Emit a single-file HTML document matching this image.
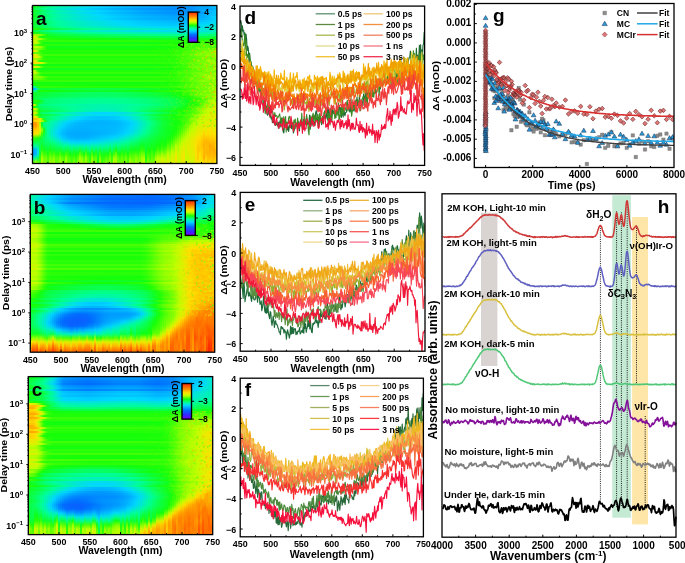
<!DOCTYPE html>
<html><head><meta charset="utf-8"><style>
html,body{margin:0;padding:0;background:#fff;}
#root{filter:blur(0.3px);position:relative;width:685px;height:563px;overflow:hidden;background:#fff;font-family:'Liberation Sans',sans-serif;}
</style></head><body><div id="root">
<div style="position:absolute;left:32.50px;top:5.50px;width:184px;height:158px;overflow:hidden">
<div style="position:absolute;left:0;top:0px;width:184px;height:2px;background:linear-gradient(90deg,#11ff1e 0px,#0fff2a 2px,#0dff39 4px,#0aff49 6px,#08ff59 8px,#06ff66 10px,#05ff71 12px,#03ff7c 14px,#02ff86 16px,#00ff90 18px,#00fd99 20px,#00f6ab 25px,#00f1b8 30px,#00edc3 35px,#00e9cf 40px,#00e4db 45px,#00e0e6 50px,#00dcef 55px,#00d9f8 60px,#00d5ff 65px,#00cfff 70px,#00c9ff 75px,#00c3ff 80px,#00beff 85px,#00baff 90px,#00b5ff 95px,#00b0ff 100px,#00acff 105px,#00a7ff 110px,#00a4ff 115px,#00a1ff 120px,#009eff 125px,#009aff 130px,#0097ff 135px,#0094ff 140px,#0091ff 145px,#008fff 150px,#0095ff 155px,#0097ff 160px,#00a1ff 165px,#00a9ff 170px,#00a8ff 175px,#00baff 180px,#00c1ff 183px)"></div>
<div style="position:absolute;left:0;top:2px;width:184px;height:2px;background:linear-gradient(90deg,#0cff3f 0px,#0aff4b 2px,#08ff5b 4px,#06ff6a 6px,#03ff7a 8px,#01ff88 10px,#00ff92 12px,#00fc9b 14px,#00f9a3 16px,#00f6ab 18px,#00f4b2 20px,#00edc4 25px,#00e8d1 30px,#00e4dc 35px,#00dfe8 40px,#00dbf4 45px,#00d6ff 50px,#00d0ff 55px,#00caff 60px,#00c4ff 65px,#00beff 70px,#00b8ff 75px,#00b2ff 80px,#00adff 85px,#00a9ff 90px,#00a4ff 95px,#009fff 100px,#009aff 105px,#0096ff 110px,#0094ff 115px,#0092ff 120px,#0090ff 125px,#008eff 130px,#008cff 135px,#008aff 140px,#0088ff 145px,#0088ff 150px,#008bff 155px,#0094ff 160px,#0099ff 165px,#00a9ff 170px,#009dff 175px,#00afff 180px,#00b5ff 183px)"></div>
<div style="position:absolute;left:0;top:4px;width:184px;height:2px;background:linear-gradient(90deg,#11ff1b 0px,#0fff27 2px,#0dff37 4px,#0bff46 6px,#09ff56 8px,#07ff64 10px,#05ff6e 12px,#04ff79 14px,#02ff83 16px,#01ff8d 18px,#00fe97 20px,#00f7a9 25px,#00f2b6 30px,#00eec1 35px,#00e9cd 40px,#00e5d9 45px,#00e1e4 50px,#00dded 55px,#00daf5 60px,#00d7fe 65px,#00d1ff 70px,#00cbff 75px,#00c5ff 80px,#00c0ff 85px,#00bbff 90px,#00b7ff 95px,#00b2ff 100px,#00adff 105px,#00a8ff 110px,#00a5ff 115px,#00a2ff 120px,#009fff 125px,#009bff 130px,#0098ff 135px,#0095ff 140px,#0092ff 145px,#008fff 150px,#0095ff 155px,#0096ff 160px,#009dff 165px,#00aaff 170px,#00b5ff 175px,#00bcff 180px,#00c5ff 183px)"></div>
<div style="position:absolute;left:0;top:6px;width:184px;height:2px;background:linear-gradient(90deg,#0eff2f 0px,#0dff3a 2px,#0aff49 4px,#08ff59 6px,#06ff68 8px,#04ff75 10px,#03ff80 12px,#01ff8a 14px,#00ff94 16px,#00fc9c 18px,#00f9a4 20px,#00f2b6 25px,#00eec2 30px,#00e9cd 35px,#00e5d9 40px,#00e1e4 45px,#00dcef 50px,#00d9f8 55px,#00d5ff 60px,#00cfff 65px,#00c9ff 70px,#00c3ff 75px,#00beff 80px,#00b9ff 85px,#00b4ff 90px,#00b0ff 95px,#00abff 100px,#00a6ff 105px,#00a2ff 110px,#009fff 115px,#009dff 120px,#009bff 125px,#0098ff 130px,#0095ff 135px,#0093ff 140px,#0090ff 145px,#008fff 150px,#0095ff 155px,#009bff 160px,#009fff 165px,#009eff 170px,#00aeff 175px,#00bfff 180px,#00caff 183px)"></div>
<div style="position:absolute;left:0;top:8px;width:184px;height:2px;background:linear-gradient(90deg,#10ff23 0px,#0eff2e 2px,#0cff3d 4px,#0aff4b 6px,#08ff5a 8px,#06ff67 10px,#05ff71 12px,#03ff7b 14px,#02ff85 16px,#00ff8f 18px,#00fe98 20px,#00f7a9 25px,#00f3b4 30px,#00efbf 35px,#00eaca 40px,#00e6d5 45px,#00e2e0 50px,#00dfe8 55px,#00dcf1 60px,#00d9f9 65px,#00d5ff 70px,#00cfff 75px,#00c9ff 80px,#00c5ff 85px,#00c0ff 90px,#00bcff 95px,#00b8ff 100px,#00b3ff 105px,#00afff 110px,#00acff 115px,#00a9ff 120px,#00a7ff 125px,#00a4ff 130px,#00a1ff 135px,#009eff 140px,#009bff 145px,#009aff 150px,#00a0ff 155px,#00a6ff 160px,#00a8ff 165px,#00aeff 170px,#00b7ff 175px,#00c3ff 180px,#00c4ff 183px)"></div>
<div style="position:absolute;left:0;top:10px;width:184px;height:2px;background:linear-gradient(90deg,#10ff22 0px,#0eff2d 2px,#0cff3b 4px,#0aff49 6px,#08ff57 8px,#07ff64 10px,#05ff6e 12px,#04ff77 14px,#03ff80 16px,#01ff8a 18px,#00ff93 20px,#00f9a4 25px,#00f5af 30px,#00f1ba 35px,#00edc4 40px,#00e9cf 45px,#00e5d9 50px,#00e2e1 55px,#00dfe9 60px,#00dcf1 65px,#00d9f9 70px,#00d5ff 75px,#00d0ff 80px,#00cbff 85px,#00c7ff 90px,#00c3ff 95px,#00beff 100px,#00baff 105px,#00b6ff 110px,#00b3ff 115px,#00b1ff 120px,#00aeff 125px,#00acff 130px,#00a9ff 135px,#00a6ff 140px,#00a4ff 145px,#00a4ff 150px,#00a7ff 155px,#00afff 160px,#00b5ff 165px,#00acff 170px,#00bbff 175px,#00d3ff 180px,#00d0ff 183px)"></div>
<div style="position:absolute;left:0;top:12px;width:184px;height:2px;background:linear-gradient(90deg,#0dff37 0px,#0cff41 2px,#0aff4f 4px,#08ff5c 6px,#06ff6a 8px,#04ff76 10px,#03ff7f 12px,#01ff88 14px,#00ff91 16px,#00fd99 18px,#00fba0 20px,#00f5b0 25px,#00f1ba 30px,#00edc4 35px,#00e9cf 40px,#00e5d9 45px,#00e1e2 50px,#00deea 55px,#00dbf2 60px,#00d8f9 65px,#00d5ff 70px,#00d0ff 75px,#00cbff 80px,#00c6ff 85px,#00c2ff 90px,#00beff 95px,#00baff 100px,#00b6ff 105px,#00b3ff 110px,#00b0ff 115px,#00afff 120px,#00adff 125px,#00abff 130px,#00aaff 135px,#00a8ff 140px,#00a6ff 145px,#00a7ff 150px,#00a9ff 155px,#00afff 160px,#00b2ff 165px,#00b4ff 170px,#00c1ff 175px,#00c8ff 180px,#00d9f9 183px)"></div>
<div style="position:absolute;left:0;top:14px;width:184px;height:2px;background:linear-gradient(90deg,#10ff25 0px,#0eff2f 2px,#0cff3c 4px,#0bff48 6px,#09ff55 8px,#07ff61 10px,#06ff69 12px,#05ff72 14px,#03ff7b 16px,#02ff83 18px,#01ff8c 20px,#00fc9d 25px,#00f8a7 30px,#00f4b1 35px,#00f0ba 40px,#00edc4 45px,#00e9cd 50px,#00e6d5 55px,#00e4dc 60px,#00e1e3 65px,#00deea 70px,#00dbf2 75px,#00d9f8 80px,#00d7fe 85px,#00d3ff 90px,#00cfff 95px,#00cbff 100px,#00c7ff 105px,#00c4ff 110px,#00c1ff 115px,#00bfff 120px,#00bdff 125px,#00bbff 130px,#00b9ff 135px,#00b7ff 140px,#00b5ff 145px,#00b5ff 150px,#00b6ff 155px,#00bdff 160px,#00c5ff 165px,#00c2ff 170px,#00cbff 175px,#00d4ff 180px,#00daf5 183px)"></div>
<div style="position:absolute;left:0;top:16px;width:184px;height:2px;background:linear-gradient(90deg,#0fff28 0px,#0eff31 2px,#0cff3d 4px,#0aff49 6px,#09ff55 8px,#07ff60 10px,#06ff68 12px,#05ff70 14px,#04ff78 16px,#03ff80 18px,#01ff89 20px,#00fd9a 25px,#00f9a3 30px,#00f6ac 35px,#00f2b5 40px,#00efbe 45px,#00ecc7 50px,#00e9ce 55px,#00e6d5 60px,#00e4dc 65px,#00e1e2 70px,#00dfe9 75px,#00dcf0 80px,#00daf5 85px,#00d8fa 90px,#00d6ff 95px,#00d2ff 100px,#00ceff 105px,#00cbff 110px,#00c9ff 115px,#00c7ff 120px,#00c6ff 125px,#00c4ff 130px,#00c2ff 135px,#00c0ff 140px,#00bfff 145px,#00bfff 150px,#00c1ff 155px,#00c5ff 160px,#00caff 165px,#00d1ff 170px,#00d1ff 175px,#00dcef 180px,#00deec 183px)"></div>
<div style="position:absolute;left:0;top:18px;width:184px;height:2px;background:linear-gradient(90deg,#0eff32 0px,#0dff3a 2px,#0bff45 4px,#09ff51 6px,#08ff5c 8px,#06ff66 10px,#05ff6e 12px,#04ff75 14px,#03ff7d 16px,#02ff84 18px,#01ff8c 20px,#00fc9b 25px,#00f9a4 30px,#00f6ad 35px,#00f2b5 40px,#00efbe 45px,#00ecc6 50px,#00eacc 55px,#00e7d3 60px,#00e5d9 65px,#00e2df 70px,#00e0e6 75px,#00deec 80px,#00dcf1 85px,#00daf6 90px,#00d8fb 95px,#00d6ff 100px,#00d3ff 105px,#00d0ff 110px,#00ceff 115px,#00cdff 120px,#00cbff 125px,#00caff 130px,#00c9ff 135px,#00c8ff 140px,#00c7ff 145px,#00c7ff 150px,#00c9ff 155px,#00cdff 160px,#00d5ff 165px,#00daf4 170px,#00dcef 175px,#00e1e3 180px,#00e5d9 183px)"></div>
<div style="position:absolute;left:0;top:20px;width:184px;height:2px;background:linear-gradient(90deg,#10ff23 0px,#0fff2b 2px,#0dff35 4px,#0cff40 6px,#0aff4a 8px,#09ff54 10px,#08ff5b 12px,#07ff62 14px,#06ff69 16px,#05ff70 18px,#04ff77 20px,#02ff87 25px,#00ff92 30px,#00fc9b 35px,#00f9a3 40px,#00f6ab 45px,#00f4b2 50px,#00f1b8 55px,#00efbe 60px,#00edc4 65px,#00ebca 70px,#00e8d0 75px,#00e6d5 80px,#00e4da 85px,#00e3df 90px,#00e1e3 95px,#00dfe8 100px,#00dded 105px,#00dcf1 110px,#00dbf3 115px,#00daf5 120px,#00d9f8 125px,#00d8fa 130px,#00d7fc 135px,#00d7fe 140px,#00d5ff 145px,#00d5ff 150px,#00d8fc 155px,#00dbf4 160px,#00dcf0 165px,#00deea 170px,#00e1e3 175px,#00e6d5 180px,#00e8d2 183px)"></div>
<div style="position:absolute;left:0;top:22px;width:184px;height:2px;background:linear-gradient(90deg,#26ff08 0px,#1eff09 2px,#14ff09 4px,#12ff13 6px,#11ff1d 8px,#10ff25 10px,#0fff2c 12px,#0eff33 14px,#0dff39 16px,#0cff3f 18px,#0bff46 20px,#09ff55 25px,#07ff5f 30px,#06ff69 35px,#04ff73 40px,#03ff7c 45px,#02ff86 50px,#01ff8d 55px,#00ff94 60px,#00fd9a 65px,#00fba0 70px,#00f9a5 75px,#00f7aa 80px,#00f5af 85px,#00f3b3 90px,#00f2b7 95px,#00f0bc 100px,#00eec0 105px,#00ecc5 110px,#00ebc8 115px,#00eacc 120px,#00e8d0 125px,#00e6d5 130px,#00e5d9 135px,#00e3dd 140px,#00e2e1 145px,#00e0e4 150px,#00e2e0 155px,#00e4db 160px,#00e7d4 165px,#00e7d3 170px,#00e9cf 175px,#00eec0 180px,#00eec2 183px)"></div>
<div style="position:absolute;left:0;top:24px;width:184px;height:2px;background:linear-gradient(90deg,#0bff42 0px,#0bff48 2px,#09ff51 4px,#08ff5a 6px,#07ff63 8px,#06ff6b 10px,#05ff71 12px,#04ff77 14px,#03ff7d 16px,#02ff83 18px,#01ff89 20px,#00fe97 25px,#00fb9e 30px,#00f9a4 35px,#00f6ab 40px,#00f4b2 45px,#00f1b8 50px,#00efbd 55px,#00edc2 60px,#00ebc8 65px,#00eacd 70px,#00e8d2 75px,#00e6d6 80px,#00e4da 85px,#00e3de 90px,#00e1e2 95px,#00e0e6 100px,#00deea 105px,#00ddec 110px,#00dded 115px,#00ddee 120px,#00ddee 125px,#00ddee 130px,#00dded 135px,#00dded 140px,#00ddec 145px,#00deec 150px,#00e0e7 155px,#00e1e3 160px,#00e4da 165px,#00e4dc 170px,#00e9cd 175px,#00eec2 180px,#00eec0 183px)"></div>
<div style="position:absolute;left:0;top:26px;width:184px;height:2px;background:linear-gradient(90deg,#19ff09 0px,#13ff0a 2px,#12ff15 4px,#10ff25 6px,#0dff36 8px,#0cff40 10px,#0bff46 12px,#0aff4b 14px,#09ff50 16px,#09ff55 18px,#08ff5a 20px,#06ff65 25px,#05ff6d 30px,#04ff75 35px,#03ff7c 40px,#02ff84 45px,#01ff8b 50px,#00ff91 55px,#00fe96 60px,#00fd9a 65px,#00fb9f 70px,#00f9a3 75px,#00f8a7 80px,#00f7aa 85px,#00f5ae 90px,#00f4b1 95px,#00f3b4 100px,#00f2b7 105px,#00f1ba 110px,#00f0bc 115px,#00efbd 120px,#00efbe 125px,#00eec0 130px,#00eec1 135px,#00edc2 140px,#00edc4 145px,#00edc3 150px,#00efbe 155px,#00efbe 160px,#00f2b6 165px,#00f4b0 170px,#00f4b2 175px,#00f9a4 180px,#02ff87 183px)"></div>
<div style="position:absolute;left:0;top:28px;width:184px;height:2px;background:linear-gradient(90deg,#a5ff01 0px,#a3ff01 2px,#9fff01 4px,#97ff02 6px,#80ff03 8px,#5dff05 10px,#35ff08 12px,#13ff0c 14px,#10ff24 16px,#0eff2e 18px,#0eff32 20px,#0dff3a 25px,#0cff40 30px,#0bff45 35px,#0aff4b 40px,#09ff50 45px,#09ff56 50px,#08ff5a 55px,#07ff5e 60px,#07ff62 65px,#06ff66 70px,#06ff6a 75px,#05ff6e 80px,#05ff71 85px,#04ff74 90px,#04ff78 95px,#03ff7b 100px,#03ff7e 105px,#02ff81 110px,#02ff83 115px,#02ff85 120px,#02ff87 125px,#01ff8a 130px,#01ff8c 135px,#01ff8e 140px,#00ff8f 145px,#00ff92 150px,#00ff8f 155px,#01ff8c 160px,#00ff90 165px,#02ff83 170px,#04ff75 175px,#05ff6e 180px,#02ff82 183px)"></div>
<div style="position:absolute;left:0;top:30px;width:184px;height:2px;background:linear-gradient(90deg,#e3ed00 0px,#dfef00 2px,#bffe00 4px,#4dff06 6px,#13ff0c 8px,#12ff12 10px,#12ff15 12px,#12ff17 14px,#11ff19 16px,#11ff1c 18px,#11ff1e 20px,#10ff23 25px,#0fff27 30px,#0fff2a 35px,#0eff2d 40px,#0eff31 45px,#0dff34 50px,#0dff36 55px,#0dff39 60px,#0cff3c 65px,#0cff3e 70px,#0cff41 75px,#0bff43 80px,#0bff45 85px,#0bff47 90px,#0aff49 95px,#0aff4b 100px,#0aff4d 105px,#0aff4f 110px,#09ff50 115px,#09ff51 120px,#09ff53 125px,#09ff54 130px,#09ff55 135px,#09ff56 140px,#08ff58 145px,#08ff59 150px,#09ff56 155px,#09ff52 160px,#0aff4f 165px,#0aff4d 170px,#09ff54 175px,#0bff42 180px,#0eff33 183px)"></div>
<div style="position:absolute;left:0;top:32px;width:184px;height:2px;background:linear-gradient(90deg,#c1fd00 0px,#c1fd00 2px,#c0fd00 4px,#b7ff00 6px,#98ff02 8px,#6fff04 10px,#47ff06 12px,#2bff08 14px,#21ff09 16px,#1fff09 18px,#1eff09 20px,#1bff09 25px,#19ff09 30px,#17ff09 35px,#15ff09 40px,#13ff0a 45px,#13ff0b 50px,#13ff0d 55px,#13ff0e 60px,#13ff0f 65px,#13ff10 70px,#12ff12 75px,#12ff13 80px,#12ff14 85px,#12ff15 90px,#12ff16 95px,#12ff17 100px,#11ff18 105px,#11ff1a 110px,#11ff1b 115px,#11ff1c 120px,#11ff1e 125px,#10ff1f 130px,#10ff21 135px,#10ff22 140px,#10ff23 145px,#10ff23 150px,#0fff29 155px,#10ff21 160px,#10ff23 165px,#11ff1c 170px,#11ff18 175px,#13ff10 180px,#11ff1a 183px)"></div>
<div style="position:absolute;left:0;top:34px;width:184px;height:2px;background:linear-gradient(90deg,#d1f600 0px,#cef700 2px,#a9ff01 4px,#58ff05 6px,#37ff07 8px,#36ff07 10px,#35ff08 12px,#35ff08 14px,#34ff08 16px,#34ff08 18px,#33ff08 20px,#32ff08 25px,#32ff08 30px,#31ff08 35px,#31ff08 40px,#30ff08 45px,#2fff08 50px,#2fff08 55px,#2eff08 60px,#2eff08 65px,#2dff08 70px,#2dff08 75px,#2cff08 80px,#2cff08 85px,#2cff08 90px,#2bff08 95px,#2bff08 100px,#2aff08 105px,#29ff08 110px,#28ff08 115px,#27ff08 120px,#25ff08 125px,#23ff09 130px,#21ff09 135px,#20ff09 140px,#1fff09 145px,#20ff09 150px,#26ff08 155px,#24ff09 160px,#34ff08 165px,#23ff09 170px,#39ff07 175px,#26ff08 180px,#41ff07 183px)"></div>
<div style="position:absolute;left:0;top:36px;width:184px;height:2px;background:linear-gradient(90deg,#ccf800 0px,#ccf800 2px,#c2fc00 4px,#87ff03 6px,#3aff07 8px,#13ff10 10px,#12ff16 12px,#12ff16 14px,#12ff16 16px,#12ff16 18px,#12ff16 20px,#12ff16 25px,#12ff16 30px,#12ff16 35px,#12ff16 40px,#12ff16 45px,#12ff16 50px,#12ff16 55px,#12ff16 60px,#12ff16 65px,#12ff16 70px,#12ff16 75px,#12ff16 80px,#12ff16 85px,#12ff16 90px,#12ff16 95px,#12ff16 100px,#12ff16 105px,#12ff15 110px,#12ff14 115px,#12ff12 120px,#13ff10 125px,#13ff0e 130px,#13ff0c 135px,#14ff09 140px,#19ff09 145px,#1eff09 150px,#24ff09 155px,#2dff08 160px,#38ff07 165px,#34ff08 170px,#3dff07 175px,#1dff09 180px,#1bff09 183px)"></div>
<div style="position:absolute;left:0;top:38px;width:184px;height:2px;background:linear-gradient(90deg,#71ff04 0px,#6bff04 2px,#4dff06 4px,#2eff08 6px,#29ff08 8px,#29ff08 10px,#29ff08 12px,#29ff08 14px,#29ff08 16px,#29ff08 18px,#29ff08 20px,#29ff08 25px,#29ff08 30px,#29ff08 35px,#29ff08 40px,#29ff08 45px,#29ff08 50px,#29ff08 55px,#29ff08 60px,#29ff08 65px,#29ff08 70px,#29ff08 75px,#29ff08 80px,#29ff08 85px,#29ff08 90px,#29ff08 95px,#29ff08 100px,#29ff08 105px,#29ff08 110px,#29ff08 115px,#29ff08 120px,#28ff08 125px,#28ff08 130px,#28ff08 135px,#29ff08 140px,#2dff08 145px,#30ff08 150px,#35ff08 155px,#45ff07 160px,#3eff07 165px,#51ff06 170px,#51ff06 175px,#52ff06 180px,#52ff06 183px)"></div>
<div style="position:absolute;left:0;top:40px;width:184px;height:2px;background:linear-gradient(90deg,#befe00 0px,#befe00 2px,#befe00 4px,#b2ff00 6px,#91ff02 8px,#63ff05 10px,#35ff08 12px,#13ff0b 14px,#12ff17 16px,#11ff18 18px,#11ff18 20px,#11ff18 25px,#11ff18 30px,#11ff18 35px,#11ff18 40px,#11ff18 45px,#11ff18 50px,#11ff18 55px,#11ff18 60px,#11ff18 65px,#11ff18 70px,#11ff18 75px,#11ff18 80px,#11ff18 85px,#11ff18 90px,#11ff18 95px,#11ff18 100px,#12ff17 105px,#12ff16 110px,#12ff15 115px,#12ff13 120px,#12ff11 125px,#13ff0f 130px,#13ff0d 135px,#14ff09 140px,#1cff09 145px,#26ff08 150px,#34ff08 155px,#3cff07 160px,#43ff07 165px,#52ff06 170px,#55ff06 175px,#40ff07 180px,#40ff07 183px)"></div>
<div style="position:absolute;left:0;top:42px;width:184px;height:2px;background:linear-gradient(90deg,#8cff02 0px,#8cff02 2px,#8bff02 4px,#83ff03 6px,#6cff04 8px,#4dff06 10px,#2fff08 12px,#1aff09 14px,#13ff0a 16px,#13ff0a 18px,#13ff0a 20px,#13ff0a 25px,#13ff0a 30px,#13ff0a 35px,#13ff0a 40px,#13ff0a 45px,#13ff0a 50px,#13ff0a 55px,#13ff0a 60px,#13ff0a 65px,#13ff0a 70px,#13ff0a 75px,#13ff0a 80px,#13ff0a 85px,#13ff0a 90px,#13ff0a 95px,#13ff0a 100px,#13ff0a 105px,#14ff09 110px,#15ff09 115px,#16ff09 120px,#17ff09 125px,#18ff09 130px,#1aff09 135px,#1dff09 140px,#26ff08 145px,#2fff08 150px,#3cff07 155px,#48ff06 160px,#52ff06 165px,#64ff05 170px,#61ff05 175px,#60ff05 180px,#64ff05 183px)"></div>
<div style="position:absolute;left:0;top:44px;width:184px;height:2px;background:linear-gradient(90deg,#f1e700 0px,#ece900 2px,#c2fc00 4px,#4fff06 6px,#25ff08 8px,#24ff09 10px,#24ff09 12px,#24ff09 14px,#24ff09 16px,#24ff09 18px,#24ff09 20px,#24ff09 25px,#24ff09 30px,#24ff09 35px,#24ff09 40px,#24ff09 45px,#24ff09 50px,#24ff09 55px,#24ff09 60px,#24ff09 65px,#24ff09 70px,#24ff09 75px,#24ff09 80px,#24ff09 85px,#24ff09 90px,#24ff09 95px,#24ff09 100px,#24ff09 105px,#24ff09 110px,#24ff09 115px,#24ff09 120px,#24ff09 125px,#24ff09 130px,#25ff08 135px,#28ff08 140px,#2eff08 145px,#38ff07 150px,#46ff07 155px,#55ff06 160px,#5fff05 165px,#70ff04 170px,#74ff04 175px,#80ff03 180px,#98ff02 183px)"></div>
<div style="position:absolute;left:0;top:46px;width:184px;height:2px;background:linear-gradient(90deg,#65ff05 0px,#65ff05 2px,#62ff05 4px,#52ff06 6px,#3bff07 8px,#26ff08 10px,#1dff09 12px,#1cff09 14px,#1cff09 16px,#1cff09 18px,#1cff09 20px,#1cff09 25px,#1cff09 30px,#1cff09 35px,#1cff09 40px,#1cff09 45px,#1cff09 50px,#1cff09 55px,#1cff09 60px,#1cff09 65px,#1cff09 70px,#1cff09 75px,#1cff09 80px,#1cff09 85px,#1cff09 90px,#1cff09 95px,#1dff09 100px,#1dff09 105px,#1dff09 110px,#1dff09 115px,#1eff09 120px,#1eff09 125px,#1fff09 130px,#20ff09 135px,#23ff09 140px,#2bff08 145px,#35ff08 150px,#4cff06 155px,#50ff06 160px,#6bff04 165px,#7dff03 170px,#86ff03 175px,#91ff02 180px,#91ff02 183px)"></div>
<div style="position:absolute;left:0;top:48px;width:184px;height:2px;background:linear-gradient(90deg,#e7eb00 0px,#e6ec00 2px,#d1f500 4px,#8eff02 6px,#4bff06 8px,#3eff07 10px,#3eff07 12px,#3eff07 14px,#3eff07 16px,#3eff07 18px,#3eff07 20px,#3eff07 25px,#3eff07 30px,#3eff07 35px,#3eff07 40px,#3eff07 45px,#3eff07 50px,#3eff07 55px,#3eff07 60px,#3eff07 65px,#3eff07 70px,#3eff07 75px,#3eff07 80px,#3eff07 85px,#3eff07 90px,#3eff07 95px,#3eff07 100px,#3dff07 105px,#3dff07 110px,#3cff07 115px,#3aff07 120px,#38ff07 125px,#37ff07 130px,#35ff08 135px,#36ff07 140px,#3dff07 145px,#47ff06 150px,#50ff06 155px,#67ff05 160px,#80ff03 165px,#78ff04 170px,#9aff02 175px,#85ff03 180px,#94ff02 183px)"></div>
<div style="position:absolute;left:0;top:50px;width:184px;height:2px;background:linear-gradient(90deg,#ece900 0px,#ece900 2px,#e5ec00 4px,#c8fa00 6px,#7cff03 8px,#35ff08 10px,#1dff09 12px,#1cff09 14px,#1cff09 16px,#1cff09 18px,#1cff09 20px,#1cff09 25px,#1cff09 30px,#1cff09 35px,#1cff09 40px,#1cff09 45px,#1cff09 50px,#1cff09 55px,#1cff09 60px,#1cff09 65px,#1cff09 70px,#1cff09 75px,#1cff09 80px,#1cff09 85px,#1cff09 90px,#1cff09 95px,#1cff09 100px,#1cff09 105px,#1cff09 110px,#1dff09 115px,#1dff09 120px,#1eff09 125px,#1eff09 130px,#1fff09 135px,#23ff09 140px,#2dff08 145px,#39ff07 150px,#4dff06 155px,#57ff06 160px,#64ff05 165px,#77ff04 170px,#77ff04 175px,#81ff03 180px,#9dff01 183px)"></div>
<div style="position:absolute;left:0;top:52px;width:184px;height:2px;background:linear-gradient(90deg,#97ff02 0px,#97ff02 2px,#93ff02 4px,#7dff03 6px,#5aff05 8px,#3aff07 10px,#2aff08 12px,#28ff08 14px,#28ff08 16px,#28ff08 18px,#28ff08 20px,#28ff08 25px,#28ff08 30px,#28ff08 35px,#28ff08 40px,#28ff08 45px,#28ff08 50px,#28ff08 55px,#28ff08 60px,#28ff08 65px,#28ff08 70px,#28ff08 75px,#28ff08 80px,#28ff08 85px,#28ff08 90px,#28ff08 95px,#28ff08 100px,#28ff08 105px,#28ff08 110px,#28ff08 115px,#28ff08 120px,#28ff08 125px,#27ff08 130px,#27ff08 135px,#2aff08 140px,#33ff08 145px,#3fff07 150px,#4fff06 155px,#56ff06 160px,#67ff05 165px,#6fff04 170px,#80ff03 175px,#7dff03 180px,#82ff03 183px)"></div>
<div style="position:absolute;left:0;top:54px;width:184px;height:2px;background:linear-gradient(90deg,#f1e700 0px,#eaea00 2px,#b6ff00 4px,#3fff07 6px,#21ff09 8px,#21ff09 10px,#21ff09 12px,#21ff09 14px,#21ff09 16px,#21ff09 18px,#21ff09 20px,#21ff09 25px,#21ff09 30px,#21ff09 35px,#21ff09 40px,#21ff09 45px,#21ff09 50px,#21ff09 55px,#21ff09 60px,#21ff09 65px,#21ff09 70px,#21ff09 75px,#21ff09 80px,#21ff09 85px,#21ff09 90px,#21ff09 95px,#21ff09 100px,#21ff09 105px,#21ff09 110px,#22ff09 115px,#22ff09 120px,#22ff09 125px,#22ff09 130px,#23ff09 135px,#26ff08 140px,#2fff08 145px,#3eff07 150px,#47ff06 155px,#51ff06 160px,#6bff04 165px,#7bff03 170px,#97ff02 175px,#93ff02 180px,#99ff02 183px)"></div>
<div style="position:absolute;left:0;top:56px;width:184px;height:2px;background:linear-gradient(90deg,#f8e400 0px,#f8e400 2px,#f7e400 4px,#f0e700 6px,#daf100 8px,#baff00 10px,#7aff03 12px,#49ff06 14px,#35ff08 16px,#34ff08 18px,#34ff08 20px,#34ff08 25px,#34ff08 30px,#34ff08 35px,#34ff08 40px,#34ff08 45px,#34ff08 50px,#34ff08 55px,#34ff08 60px,#34ff08 65px,#34ff08 70px,#34ff08 75px,#34ff08 80px,#34ff08 85px,#34ff08 90px,#34ff08 95px,#34ff08 100px,#34ff08 105px,#33ff08 110px,#32ff08 115px,#31ff08 120px,#30ff08 125px,#2fff08 130px,#2eff08 135px,#31ff08 140px,#38ff07 145px,#41ff07 150px,#54ff06 155px,#67ff05 160px,#6fff04 165px,#77ff04 170px,#7eff03 175px,#96ff02 180px,#a6ff01 183px)"></div>
<div style="position:absolute;left:0;top:58px;width:184px;height:2px;background:linear-gradient(90deg,#48ff06 0px,#47ff06 2px,#3cff07 4px,#23ff09 6px,#13ff0e 8px,#12ff12 10px,#12ff12 12px,#12ff12 14px,#12ff12 16px,#12ff12 18px,#12ff12 20px,#12ff12 25px,#12ff12 30px,#12ff12 35px,#12ff12 40px,#12ff12 45px,#12ff12 50px,#12ff12 55px,#12ff12 60px,#12ff12 65px,#12ff12 70px,#12ff12 75px,#12ff12 80px,#12ff12 85px,#12ff12 90px,#12ff12 95px,#12ff12 100px,#12ff12 105px,#12ff11 110px,#13ff10 115px,#13ff0f 120px,#13ff0d 125px,#13ff0b 130px,#14ff09 135px,#19ff09 140px,#24ff09 145px,#33ff08 150px,#42ff07 155px,#56ff06 160px,#65ff05 165px,#6cff04 170px,#7fff03 175px,#a0ff01 180px,#8fff02 183px)"></div>
<div style="position:absolute;left:0;top:60px;width:184px;height:2px;background:linear-gradient(90deg,#e1ee00 0px,#e1ee00 2px,#d9f200 4px,#bcff00 6px,#6dff04 8px,#37ff07 10px,#2aff08 12px,#2aff08 14px,#2aff08 16px,#2aff08 18px,#2aff08 20px,#2aff08 25px,#2aff08 30px,#2aff08 35px,#2aff08 40px,#2aff08 45px,#2aff08 50px,#2aff08 55px,#2aff08 60px,#2aff08 65px,#2aff08 70px,#2aff08 75px,#2aff08 80px,#2aff08 85px,#2aff08 90px,#2aff08 95px,#2aff08 100px,#2aff08 105px,#2aff08 110px,#2aff08 115px,#29ff08 120px,#29ff08 125px,#28ff08 130px,#28ff08 135px,#2bff08 140px,#34ff08 145px,#3eff07 150px,#4dff06 155px,#61ff05 160px,#6cff04 165px,#7bff03 170px,#84ff03 175px,#7aff03 180px,#6bff04 183px)"></div>
<div style="position:absolute;left:0;top:62px;width:184px;height:2px;background:linear-gradient(90deg,#3bff07 0px,#36ff07 2px,#1cff09 4px,#11ff18 6px,#11ff1a 8px,#11ff1a 10px,#11ff1a 12px,#11ff1a 14px,#11ff1a 16px,#11ff1a 18px,#11ff1a 20px,#11ff1a 25px,#11ff1a 30px,#11ff1a 35px,#11ff1a 40px,#11ff1a 45px,#11ff1a 50px,#11ff1a 55px,#11ff1a 60px,#11ff1a 65px,#11ff1a 70px,#11ff1a 75px,#11ff1a 80px,#11ff1a 85px,#11ff1a 90px,#11ff1a 95px,#11ff1a 100px,#11ff1a 105px,#11ff19 110px,#11ff18 115px,#12ff16 120px,#12ff14 125px,#12ff11 130px,#13ff0f 135px,#14ff09 140px,#1fff09 145px,#2fff08 150px,#3dff07 155px,#4dff06 160px,#59ff05 165px,#70ff04 170px,#81ff03 175px,#8bff02 180px,#7aff03 183px)"></div>
<div style="position:absolute;left:0;top:64px;width:184px;height:2px;background:linear-gradient(90deg,#c5fb00 0px,#b6ff00 2px,#59ff05 4px,#22ff09 6px,#20ff09 8px,#20ff09 10px,#20ff09 12px,#20ff09 14px,#20ff09 16px,#20ff09 18px,#20ff09 20px,#20ff09 25px,#20ff09 30px,#20ff09 35px,#20ff09 40px,#20ff09 45px,#20ff09 50px,#20ff09 55px,#20ff09 60px,#20ff09 65px,#20ff09 70px,#20ff09 75px,#20ff09 80px,#20ff09 85px,#20ff09 90px,#20ff09 95px,#20ff09 100px,#20ff09 105px,#20ff09 110px,#20ff09 115px,#21ff09 120px,#21ff09 125px,#21ff09 130px,#22ff09 135px,#26ff08 140px,#2eff08 145px,#3bff07 150px,#46ff07 155px,#57ff06 160px,#58ff05 165px,#6dff04 170px,#89ff03 175px,#77ff04 180px,#7aff03 183px)"></div>
<div style="position:absolute;left:0;top:66px;width:184px;height:2px;background:linear-gradient(90deg,#c8f900 0px,#c6fa00 2px,#a6ff01 4px,#5eff05 6px,#38ff07 8px,#35ff08 10px,#35ff08 12px,#35ff08 14px,#35ff08 16px,#35ff08 18px,#35ff08 20px,#35ff08 25px,#35ff08 30px,#35ff08 35px,#35ff08 40px,#35ff08 45px,#35ff08 50px,#35ff08 55px,#35ff08 60px,#35ff08 65px,#35ff08 70px,#35ff08 75px,#35ff08 80px,#35ff08 85px,#35ff08 90px,#35ff08 95px,#35ff08 100px,#35ff08 105px,#35ff08 110px,#34ff08 115px,#33ff08 120px,#32ff08 125px,#31ff08 130px,#30ff08 135px,#32ff08 140px,#39ff07 145px,#47ff06 150px,#54ff06 155px,#61ff05 160px,#75ff04 165px,#73ff04 170px,#77ff04 175px,#88ff03 180px,#94ff02 183px)"></div>
<div style="position:absolute;left:0;top:68px;width:184px;height:2px;background:linear-gradient(90deg,#76ff04 0px,#76ff04 2px,#69ff04 4px,#46ff07 6px,#22ff09 8px,#13ff0a 10px,#13ff0a 12px,#13ff0a 14px,#13ff0a 16px,#13ff0a 18px,#13ff0a 20px,#13ff0a 25px,#13ff0a 30px,#13ff0a 35px,#13ff0a 40px,#13ff0a 45px,#13ff0a 50px,#13ff0a 55px,#13ff0a 60px,#13ff0a 65px,#13ff0a 70px,#13ff0a 75px,#13ff0a 80px,#13ff0a 85px,#13ff0a 90px,#13ff0a 95px,#13ff0a 100px,#13ff0a 105px,#13ff0a 110px,#14ff09 115px,#15ff09 120px,#16ff09 125px,#18ff09 130px,#19ff09 135px,#1eff09 140px,#28ff08 145px,#33ff08 150px,#44ff07 155px,#52ff06 160px,#6fff04 165px,#85ff03 170px,#84ff03 175px,#81ff03 180px,#92ff02 183px)"></div>
<div style="position:absolute;left:0;top:70px;width:184px;height:2px;background:linear-gradient(90deg,#8fff02 0px,#8fff02 2px,#8fff02 4px,#8bff02 6px,#7dff03 8px,#69ff04 10px,#53ff06 12px,#40ff07 14px,#36ff07 16px,#34ff08 18px,#34ff08 20px,#34ff08 25px,#34ff08 30px,#34ff08 35px,#34ff08 40px,#34ff08 45px,#34ff08 50px,#34ff08 55px,#34ff08 60px,#34ff08 65px,#34ff08 70px,#34ff08 75px,#34ff08 80px,#34ff08 85px,#34ff08 90px,#34ff08 95px,#34ff08 100px,#34ff08 105px,#33ff08 110px,#33ff08 115px,#32ff08 120px,#31ff08 125px,#30ff08 130px,#2fff08 135px,#31ff08 140px,#38ff07 145px,#43ff07 150px,#52ff06 155px,#60ff05 160px,#6bff04 165px,#76ff04 170px,#9cff01 175px,#9aff02 180px,#8bff02 183px)"></div>
<div style="position:absolute;left:0;top:72px;width:184px;height:2px;background:linear-gradient(90deg,#71ff04 0px,#71ff04 2px,#71ff04 4px,#6dff04 6px,#60ff05 8px,#4eff06 10px,#3bff07 12px,#2bff08 14px,#24ff09 16px,#23ff09 18px,#23ff09 20px,#23ff09 25px,#23ff09 30px,#23ff09 35px,#23ff09 40px,#23ff09 45px,#23ff09 50px,#23ff09 55px,#23ff09 60px,#23ff09 65px,#23ff09 70px,#23ff09 75px,#23ff09 80px,#23ff09 85px,#23ff09 90px,#23ff09 95px,#23ff09 100px,#23ff09 105px,#23ff09 110px,#23ff09 115px,#23ff09 120px,#24ff09 125px,#24ff09 130px,#24ff09 135px,#28ff08 140px,#30ff08 145px,#3dff07 150px,#53ff06 155px,#59ff05 160px,#65ff05 165px,#70ff04 170px,#95ff02 175px,#94ff02 180px,#92ff02 183px)"></div>
<div style="position:absolute;left:0;top:74px;width:184px;height:2px;background:linear-gradient(90deg,#3fff07 0px,#3fff07 2px,#3eff07 4px,#3dff07 6px,#3aff07 8px,#39ff07 10px,#38ff07 12px,#38ff07 14px,#38ff07 16px,#38ff07 18px,#38ff07 20px,#38ff07 25px,#38ff07 30px,#38ff07 35px,#38ff07 40px,#37ff07 45px,#37ff07 50px,#37ff07 55px,#37ff07 60px,#37ff07 65px,#37ff07 70px,#37ff07 75px,#37ff07 80px,#37ff07 85px,#37ff07 90px,#37ff07 95px,#37ff07 100px,#37ff07 105px,#37ff07 110px,#36ff07 115px,#35ff08 120px,#34ff08 125px,#32ff08 130px,#31ff08 135px,#33ff08 140px,#3aff07 145px,#43ff07 150px,#53ff06 155px,#5aff05 160px,#76ff04 165px,#87ff03 170px,#82ff03 175px,#9aff02 180px,#8aff03 183px)"></div>
<div style="position:absolute;left:0;top:76px;width:184px;height:2px;background:linear-gradient(90deg,#12ff14 0px,#12ff14 2px,#12ff14 4px,#12ff14 6px,#12ff14 8px,#12ff14 10px,#12ff14 12px,#12ff14 14px,#12ff14 16px,#12ff14 18px,#12ff14 20px,#12ff14 25px,#12ff14 30px,#12ff14 35px,#12ff15 40px,#12ff15 45px,#12ff15 50px,#12ff15 55px,#12ff15 60px,#12ff15 65px,#12ff15 70px,#12ff15 75px,#12ff15 80px,#12ff15 85px,#12ff15 90px,#12ff15 95px,#12ff15 100px,#12ff14 105px,#12ff13 110px,#12ff12 115px,#13ff10 120px,#13ff0f 125px,#13ff0d 130px,#13ff0a 135px,#18ff09 140px,#23ff09 145px,#32ff08 150px,#44ff07 155px,#46ff07 160px,#6aff04 165px,#6cff04 170px,#79ff04 175px,#7cff03 180px,#98ff02 183px)"></div>
<div style="position:absolute;left:0;top:78px;width:184px;height:2px;background:linear-gradient(90deg,#1bff09 0px,#1aff09 2px,#1aff09 4px,#1aff09 6px,#1aff09 8px,#1aff09 10px,#1aff09 12px,#1aff09 14px,#1aff09 16px,#1aff09 18px,#19ff09 20px,#19ff09 25px,#19ff09 30px,#18ff09 35px,#18ff09 40px,#17ff09 45px,#17ff09 50px,#16ff09 55px,#16ff09 60px,#16ff09 65px,#16ff09 70px,#16ff09 75px,#16ff09 80px,#16ff09 85px,#17ff09 90px,#17ff09 95px,#18ff09 100px,#18ff09 105px,#19ff09 110px,#1aff09 115px,#1bff09 120px,#1cff09 125px,#1dff09 130px,#1eff09 135px,#23ff09 140px,#2cff08 145px,#39ff07 150px,#4aff06 155px,#5cff05 160px,#6cff04 165px,#75ff04 170px,#76ff04 175px,#8bff02 180px,#92ff02 183px)"></div>
<div style="position:absolute;left:0;top:80px;width:184px;height:2px;background:linear-gradient(90deg,#00fe97 0px,#01ff89 2px,#0bff42 4px,#22ff09 6px,#31ff08 8px,#31ff08 10px,#30ff08 12px,#30ff08 14px,#2fff08 16px,#2fff08 18px,#2eff08 20px,#2dff08 25px,#2bff08 30px,#2aff08 35px,#29ff08 40px,#28ff08 45px,#26ff08 50px,#26ff08 55px,#25ff08 60px,#25ff08 65px,#25ff08 70px,#25ff08 75px,#26ff08 80px,#26ff08 85px,#27ff08 90px,#29ff08 95px,#2aff08 100px,#2bff08 105px,#2cff08 110px,#2dff08 115px,#2dff08 120px,#2dff08 125px,#2dff08 130px,#2dff08 135px,#30ff08 140px,#38ff07 145px,#43ff07 150px,#52ff06 155px,#58ff05 160px,#6cff04 165px,#77ff04 170px,#92ff02 175px,#9bff02 180px,#94ff02 183px)"></div>
<div style="position:absolute;left:0;top:82px;width:184px;height:2px;background:linear-gradient(90deg,#00aaff 0px,#00b8ff 2px,#00edc2 4px,#0bff47 6px,#0eff2d 8px,#0eff2e 10px,#0eff2f 12px,#0eff30 14px,#0eff32 16px,#0eff33 18px,#0dff34 20px,#0dff37 25px,#0dff39 30px,#0cff3c 35px,#0cff3e 40px,#0cff41 45px,#0bff42 50px,#0bff44 55px,#0bff45 60px,#0bff45 65px,#0bff45 70px,#0bff45 75px,#0bff43 80px,#0bff42 85px,#0cff40 90px,#0cff3e 95px,#0cff3b 100px,#0dff38 105px,#0eff33 110px,#0eff2f 115px,#0fff2a 120px,#10ff24 125px,#10ff1f 130px,#11ff1a 135px,#12ff12 140px,#16ff09 145px,#27ff08 150px,#3bff07 155px,#4bff06 160px,#53ff06 165px,#6dff04 170px,#6cff04 175px,#94ff02 180px,#89ff03 183px)"></div>
<div style="position:absolute;left:0;top:84px;width:184px;height:2px;background:linear-gradient(90deg,#00fd99 0px,#01ff8e 2px,#0aff4c 4px,#13ff0b 6px,#1eff09 8px,#1cff09 10px,#1aff09 12px,#18ff09 14px,#16ff09 16px,#14ff09 18px,#13ff0b 20px,#13ff0f 25px,#12ff14 30px,#11ff18 35px,#11ff1b 40px,#11ff1e 45px,#10ff21 50px,#10ff23 55px,#10ff24 60px,#10ff25 65px,#10ff24 70px,#10ff24 75px,#10ff22 80px,#10ff20 85px,#11ff1d 90px,#11ff1a 95px,#12ff16 100px,#12ff12 105px,#13ff0e 110px,#13ff0a 115px,#17ff09 120px,#1bff09 125px,#1eff09 130px,#21ff09 135px,#27ff08 140px,#30ff08 145px,#3eff07 150px,#4cff06 155px,#66ff05 160px,#6bff04 165px,#73ff04 170px,#86ff03 175px,#83ff03 180px,#8eff02 183px)"></div>
<div style="position:absolute;left:0;top:86px;width:184px;height:2px;background:linear-gradient(90deg,#0eff2f 0px,#0eff31 2px,#0dff34 4px,#0dff37 6px,#0dff39 8px,#0cff3c 10px,#0cff3e 12px,#0cff41 14px,#0bff43 16px,#0bff45 18px,#0bff48 20px,#0aff4d 25px,#09ff52 30px,#08ff57 35px,#08ff5b 40px,#07ff5e 45px,#07ff61 50px,#07ff63 55px,#07ff64 60px,#06ff65 65px,#06ff65 70px,#07ff64 75px,#07ff62 80px,#07ff60 85px,#08ff5d 90px,#08ff59 95px,#09ff55 100px,#0aff4f 105px,#0aff49 110px,#0bff43 115px,#0cff3b 120px,#0dff34 125px,#0fff2c 130px,#10ff25 135px,#11ff1b 140px,#13ff0e 145px,#20ff09 150px,#33ff08 155px,#49ff06 160px,#58ff05 165px,#72ff04 170px,#72ff04 175px,#91ff02 180px,#a0ff01 183px)"></div>
<div style="position:absolute;left:0;top:88px;width:184px;height:2px;background:linear-gradient(90deg,#0eff2d 0px,#0eff2f 2px,#0eff32 4px,#0dff35 6px,#0dff38 8px,#0dff3a 10px,#0cff3d 12px,#0cff40 14px,#0bff42 16px,#0bff45 18px,#0bff47 20px,#0aff4c 25px,#09ff51 30px,#09ff56 35px,#08ff59 40px,#08ff5c 45px,#07ff5f 50px,#07ff61 55px,#07ff62 60px,#07ff63 65px,#07ff63 70px,#07ff62 75px,#07ff61 80px,#07ff5f 85px,#08ff5c 90px,#08ff58 95px,#09ff54 100px,#0aff4f 105px,#0aff4a 110px,#0bff44 115px,#0cff3e 120px,#0dff37 125px,#0eff30 130px,#0fff29 135px,#10ff20 140px,#12ff12 145px,#1bff09 150px,#2dff08 155px,#48ff06 160px,#65ff05 165px,#74ff04 170px,#8eff02 175px,#88ff03 180px,#97ff02 183px)"></div>
<div style="position:absolute;left:0;top:90px;width:184px;height:2px;background:linear-gradient(90deg,#0cff3b 0px,#0cff3d 2px,#0cff40 4px,#0bff43 6px,#0bff46 8px,#0bff48 10px,#0aff4b 12px,#0aff4d 14px,#09ff50 16px,#09ff52 18px,#09ff54 20px,#08ff59 25px,#08ff5d 30px,#07ff61 35px,#07ff64 40px,#06ff67 45px,#06ff69 50px,#06ff6b 55px,#05ff6c 60px,#05ff6d 65px,#05ff6d 70px,#05ff6d 75px,#06ff6b 80px,#06ff6a 85px,#06ff68 90px,#06ff65 95px,#07ff61 100px,#08ff5d 105px,#08ff58 110px,#09ff53 115px,#0aff4d 120px,#0bff47 125px,#0cff40 130px,#0dff38 135px,#0eff2f 140px,#10ff22 145px,#12ff11 150px,#1cff09 155px,#33ff08 160px,#50ff06 165px,#62ff05 170px,#86ff03 175px,#96ff02 180px,#bcff00 183px)"></div>
<div style="position:absolute;left:0;top:92px;width:184px;height:2px;background:linear-gradient(90deg,#0dff3a 0px,#0cff3c 2px,#0cff40 4px,#0aff4b 6px,#08ff5a 8px,#06ff67 10px,#05ff6d 12px,#05ff6f 14px,#05ff71 16px,#04ff73 18px,#04ff75 20px,#03ff7a 25px,#03ff7e 30px,#02ff81 35px,#02ff84 40px,#02ff87 45px,#01ff89 50px,#01ff8b 55px,#01ff8c 60px,#01ff8d 65px,#01ff8d 70px,#01ff8d 75px,#01ff8c 80px,#01ff8a 85px,#01ff88 90px,#02ff86 95px,#02ff82 100px,#03ff7e 105px,#04ff79 110px,#04ff73 115px,#05ff6d 120px,#06ff65 125px,#08ff5d 130px,#09ff54 135px,#0bff48 140px,#0dff3a 145px,#0fff28 150px,#12ff14 155px,#25ff08 160px,#36ff07 165px,#47ff06 170px,#63ff05 175px,#9eff01 180px,#a3ff01 183px)"></div>
<div style="position:absolute;left:0;top:94px;width:184px;height:2px;background:linear-gradient(90deg,#27ff08 0px,#25ff08 2px,#22ff09 4px,#13ff0c 6px,#0fff29 8px,#0aff4b 10px,#06ff67 12px,#04ff73 14px,#04ff76 16px,#04ff78 18px,#03ff7a 20px,#03ff7e 25px,#02ff82 30px,#02ff86 35px,#01ff89 40px,#01ff8c 45px,#00ff8f 50px,#00ff91 55px,#00ff92 60px,#00ff93 65px,#00ff93 70px,#00ff93 75px,#00ff92 80px,#00ff90 85px,#01ff8e 90px,#01ff8b 95px,#01ff88 100px,#02ff83 105px,#03ff7e 110px,#04ff79 115px,#05ff72 120px,#06ff6b 125px,#07ff62 130px,#08ff59 135px,#0aff4e 140px,#0cff40 145px,#0eff2d 150px,#11ff1d 155px,#20ff09 160px,#2dff08 165px,#5aff05 170px,#8dff02 175px,#bdff00 180px,#baff00 183px)"></div>
<div style="position:absolute;left:0;top:96px;width:184px;height:2px;background:linear-gradient(90deg,#11ff1b 0px,#11ff1d 2px,#10ff20 4px,#0fff2b 6px,#0cff3f 8px,#08ff57 10px,#06ff6b 12px,#04ff74 14px,#04ff77 16px,#04ff79 18px,#03ff7c 20px,#02ff81 25px,#02ff86 30px,#01ff8a 35px,#01ff8e 40px,#00ff91 45px,#00ff94 50px,#00fe97 55px,#00fe98 60px,#00fd99 65px,#00fd99 70px,#00fd99 75px,#00fe98 80px,#00fe97 85px,#00ff94 90px,#00ff90 95px,#01ff8c 100px,#02ff87 105px,#02ff81 110px,#03ff7b 115px,#04ff74 120px,#05ff6c 125px,#07ff63 130px,#08ff5a 135px,#0aff4e 140px,#0cff40 145px,#0eff2f 150px,#11ff1a 155px,#18ff09 160px,#3bff07 165px,#5fff05 170px,#7bff03 175px,#bffe00 180px,#ccf800 183px)"></div>
<div style="position:absolute;left:0;top:98px;width:184px;height:2px;background:linear-gradient(90deg,#ddf000 0px,#c6fb00 2px,#17ff09 4px,#05ff71 6px,#04ff79 8px,#03ff7d 10px,#03ff80 12px,#02ff83 14px,#02ff86 16px,#01ff88 18px,#01ff8b 20px,#00ff92 25px,#00fe97 30px,#00fc9b 35px,#00fb9f 40px,#00f9a3 45px,#00f8a6 50px,#00f7a9 55px,#00f6ab 60px,#00f6ac 65px,#00f6ad 70px,#00f6ac 75px,#00f6ab 80px,#00f7a9 85px,#00f8a6 90px,#00faa2 95px,#00fc9d 100px,#00fe98 105px,#00ff91 110px,#01ff89 115px,#03ff7f 120px,#04ff75 125px,#06ff6b 130px,#07ff5f 135px,#09ff52 140px,#0bff42 145px,#0fff2c 150px,#11ff19 155px,#19ff09 160px,#32ff08 165px,#62ff05 170px,#97ff02 175px,#bffe00 180px,#c6fb00 183px)"></div>
<div style="position:absolute;left:0;top:100px;width:184px;height:2px;background:linear-gradient(90deg,#23ff09 0px,#16ff09 2px,#0dff35 4px,#08ff5b 6px,#07ff62 8px,#06ff66 10px,#06ff6a 12px,#05ff6d 14px,#05ff71 16px,#04ff75 18px,#04ff78 20px,#02ff81 25px,#01ff88 30px,#00ff90 35px,#00fe97 40px,#00fc9c 45px,#00faa0 50px,#00f9a5 55px,#00f8a8 60px,#00f7aa 65px,#00f6ab 70px,#00f7aa 75px,#00f7a9 80px,#00f9a5 85px,#00faa1 90px,#00fc9b 95px,#00ff94 100px,#01ff8b 105px,#02ff81 110px,#04ff77 115px,#05ff6d 120px,#07ff62 125px,#08ff57 130px,#0aff4c 135px,#0cff3f 140px,#0eff2f 145px,#11ff1d 150px,#19ff09 155px,#30ff08 160px,#51ff06 165px,#84ff03 170px,#a3ff01 175px,#c6fb00 180px,#d3f400 183px)"></div>
<div style="position:absolute;left:0;top:102px;width:184px;height:2px;background:linear-gradient(90deg,#deef00 0px,#d8f200 2px,#91ff02 4px,#11ff1d 6px,#09ff53 8px,#08ff58 10px,#08ff5d 12px,#07ff61 14px,#06ff66 16px,#06ff6a 18px,#05ff6f 20px,#03ff7a 25px,#02ff85 30px,#00ff8f 35px,#00fd98 40px,#00fba0 45px,#00f8a7 50px,#00f6ad 55px,#00f4b2 60px,#00f2b5 65px,#00f2b7 70px,#00f2b6 75px,#00f3b3 80px,#00f5ae 85px,#00f8a8 90px,#00fb9f 95px,#00fe96 100px,#01ff89 105px,#03ff7c 110px,#05ff6e 115px,#07ff61 120px,#09ff55 125px,#0bff48 130px,#0cff3c 135px,#0eff2f 140px,#10ff1f 145px,#13ff0d 150px,#28ff08 155px,#3bff07 160px,#6bff04 165px,#94ff02 170px,#bffe00 175px,#d0f600 180px,#d9f200 183px)"></div>
<div style="position:absolute;left:0;top:104px;width:184px;height:2px;background:linear-gradient(90deg,#99ff02 0px,#93ff02 2px,#68ff05 4px,#19ff09 6px,#0eff33 8px,#0cff3c 10px,#0bff42 12px,#0bff47 14px,#0aff4d 16px,#09ff52 18px,#08ff58 20px,#06ff66 25px,#04ff75 30px,#02ff84 35px,#00ff93 40px,#00fb9e 45px,#00f7a8 50px,#00f4b1 55px,#00f2b8 60px,#00f0bc 65px,#00efbe 70px,#00f0bd 75px,#00f1b9 80px,#00f4b2 85px,#00f7a9 90px,#00fb9e 95px,#00ff8f 100px,#03ff7d 105px,#06ff6b 110px,#08ff5a 115px,#0aff4a 120px,#0cff3c 125px,#0eff2f 130px,#10ff24 135px,#11ff18 140px,#15ff09 145px,#25ff08 150px,#39ff07 155px,#4eff06 160px,#79ff04 165px,#acff01 170px,#ccf800 175px,#d3f500 180px,#ddf000 183px)"></div>
<div style="position:absolute;left:0;top:106px;width:184px;height:2px;background:linear-gradient(90deg,#d7f300 0px,#d3f500 2px,#9aff02 4px,#12ff13 6px,#07ff61 8px,#05ff6e 10px,#04ff74 12px,#03ff7a 14px,#02ff81 16px,#01ff88 18px,#00ff8f 20px,#00fb9e 25px,#00f6ad 30px,#00f0bd 35px,#00eacc 40px,#00e4db 45px,#00dfe8 50px,#00dbf2 55px,#00d8fa 60px,#00d6ff 65px,#00d5ff 70px,#00d6ff 75px,#00d8fa 80px,#00dbf2 85px,#00dfe7 90px,#00e5d9 95px,#00ebc8 100px,#00f2b5 105px,#00faa2 110px,#01ff8d 115px,#04ff76 120px,#07ff61 125px,#0aff4f 130px,#0cff3f 135px,#0eff2e 140px,#11ff1c 145px,#14ff09 150px,#2fff08 155px,#4eff06 160px,#6dff04 165px,#a4ff01 170px,#c6fb00 175px,#ccf800 180px,#d2f500 183px)"></div>
<div style="position:absolute;left:0;top:108px;width:184px;height:2px;background:linear-gradient(90deg,#a3ff01 0px,#91ff02 2px,#40ff07 4px,#10ff22 6px,#0eff30 8px,#0dff36 10px,#0cff3d 12px,#0bff45 14px,#0aff4d 16px,#09ff55 18px,#07ff5e 20px,#04ff75 25px,#00ff8f 30px,#00f9a4 35px,#00f1b8 40px,#00ebc9 45px,#00e5d8 50px,#00e1e3 55px,#00deeb 60px,#00dcf0 65px,#00dcf1 70px,#00dcef 75px,#00deea 80px,#00e2e1 85px,#00e7d4 90px,#00edc4 95px,#00f5b0 100px,#00fd9a 105px,#03ff7d 110px,#07ff61 115px,#0aff49 120px,#0dff34 125px,#10ff24 130px,#12ff17 135px,#13ff0b 140px,#21ff09 145px,#36ff07 150px,#44ff07 155px,#6aff04 160px,#9bff02 165px,#c3fc00 170px,#caf900 175px,#dcf000 180px,#e1ee00 183px)"></div>
<div style="position:absolute;left:0;top:110px;width:184px;height:2px;background:linear-gradient(90deg,#f1e700 0px,#eee800 2px,#caf900 4px,#3eff07 6px,#0bff44 8px,#09ff56 10px,#07ff5e 12px,#06ff67 14px,#05ff71 16px,#03ff7b 18px,#02ff85 20px,#00fb9f 25px,#00f2b6 30px,#00e9ce 35px,#00e1e3 40px,#00daf5 45px,#00d3ff 50px,#00cbff 55px,#00c6ff 60px,#00c4ff 65px,#00c3ff 70px,#00c5ff 75px,#00c8ff 80px,#00ceff 85px,#00d7fd 90px,#00deec 95px,#00e6d6 100px,#00f0bd 105px,#00faa2 110px,#02ff84 115px,#06ff65 120px,#0aff4c 125px,#0dff38 130px,#0fff28 135px,#11ff1a 140px,#14ff09 145px,#27ff08 150px,#3eff07 155px,#68ff05 160px,#a2ff01 165px,#c5fb00 170px,#ccf800 175px,#dfef00 180px,#e3ed00 183px)"></div>
<div style="position:absolute;left:0;top:112px;width:184px;height:2px;background:linear-gradient(90deg,#ffbc00 0px,#ffbc00 2px,#ffc200 4px,#fee100 6px,#c2fd00 8px,#36ff07 10px,#0bff46 12px,#07ff62 14px,#05ff6d 16px,#04ff79 18px,#02ff86 20px,#00f9a3 25px,#00efbe 30px,#00e6d7 35px,#00ddec 40px,#00d7fe 45px,#00ceff 50px,#00c8ff 55px,#00c5ff 60px,#00c3ff 65px,#00c3ff 70px,#00c4ff 75px,#00c7ff 80px,#00cdff 85px,#00d5ff 90px,#00dcef 95px,#00e5d9 100px,#00efbe 105px,#00faa1 110px,#03ff80 115px,#07ff5e 120px,#0bff43 125px,#0eff2e 130px,#10ff1f 135px,#13ff10 140px,#1eff09 145px,#30ff08 150px,#4cff06 155px,#86ff03 160px,#b3ff00 165px,#cdf700 170px,#d3f500 175px,#d9f200 180px,#dbf100 183px)"></div>
<div style="position:absolute;left:0;top:114px;width:184px;height:2px;background:linear-gradient(90deg,#ffd500 0px,#ffd600 2px,#ffd800 4px,#fce200 6px,#daf100 8px,#91ff02 10px,#21ff09 12px,#09ff54 14px,#02ff85 16px,#00fe96 18px,#00faa1 20px,#00efbd 25px,#00e4da 30px,#00dbf3 35px,#00d0ff 40px,#00c6ff 45px,#00bfff 50px,#00bbff 55px,#00b8ff 60px,#00b7ff 65px,#00b7ff 70px,#00b8ff 75px,#00bbff 80px,#00c0ff 85px,#00c8ff 90px,#00d3ff 95px,#00dded 100px,#00e8d2 105px,#00f3b3 110px,#00ff94 115px,#05ff6f 120px,#09ff50 125px,#0dff39 130px,#0fff27 135px,#12ff17 140px,#16ff09 145px,#2bff08 150px,#54ff06 155px,#83ff03 160px,#bbff00 165px,#d0f600 170px,#d7f300 175px,#deef00 180px,#dfef00 183px)"></div>
<div style="position:absolute;left:0px;top:116px;width:2px;height:42px;background:linear-gradient(180deg,#ff9700 0px,#ff9a00 4px,#ffcf00 8px,#ffdf00 12px,#34ff08 16px,#0cff3c 20px,#00fb9f 24px,#00aaff 28px,#00a4ff 32px,#00f5ae 36px,#66ff05 40px,#69ff04 41px)"></div>
<div style="position:absolute;left:2px;top:116px;width:2px;height:42px;background:linear-gradient(180deg,#ff9900 0px,#ff9b00 4px,#ffd000 8px,#fde100 12px,#2cff08 16px,#0bff42 20px,#00fd9b 24px,#00b8ff 28px,#00baff 32px,#03ff80 36px,#8fff02 40px,#8fff02 41px)"></div>
<div style="position:absolute;left:4px;top:116px;width:2px;height:42px;background:linear-gradient(180deg,#ffc800 0px,#ffc000 4px,#ffd500 8px,#eaea00 12px,#1cff09 16px,#0aff4b 20px,#02ff82 24px,#00e2df 28px,#00e4da 32px,#07ff63 36px,#5eff05 40px,#5fff05 41px)"></div>
<div style="position:absolute;left:6px;top:116px;width:2px;height:42px;background:linear-gradient(180deg,#9fff01 0px,#c1fd00 4px,#ebea00 8px,#b6ff00 12px,#10ff1f 16px,#0aff4f 20px,#0aff4b 24px,#0aff4e 28px,#0fff27 32px,#33ff08 36px,#48ff06 40px,#45ff07 41px)"></div>
<div style="position:absolute;left:8px;top:116px;width:2px;height:42px;background:linear-gradient(180deg,#0cff40 0px,#10ff23 4px,#a6ff01 8px,#3cff07 12px,#0cff40 16px,#0aff49 20px,#10ff25 24px,#23ff09 28px,#6aff04 32px,#a4ff01 36px,#afff00 40px,#aeff00 41px)"></div>
<div style="position:absolute;left:10px;top:116px;width:2px;height:42px;background:linear-gradient(180deg,#04ff78 0px,#03ff7d 4px,#1cff09 8px,#0eff31 12px,#07ff63 16px,#07ff5e 20px,#0cff41 24px,#11ff19 28px,#40ff07 32px,#72ff04 36px,#86ff03 40px,#86ff03 41px)"></div>
<div style="position:absolute;left:12px;top:116px;width:2px;height:42px;background:linear-gradient(180deg,#02ff85 0px,#01ff8e 4px,#05ff6f 8px,#06ff6a 12px,#03ff7f 16px,#06ff6a 20px,#0aff4c 24px,#10ff24 28px,#39ff07 32px,#71ff04 36px,#76ff04 40px,#74ff04 41px)"></div>
<div style="position:absolute;left:14px;top:116px;width:2px;height:42px;background:linear-gradient(180deg,#00ff93 0px,#00fc9c 4px,#00f9a4 8px,#00fc9c 12px,#00ff93 16px,#04ff74 20px,#08ff57 24px,#0dff38 28px,#1aff09 32px,#48ff06 36px,#51ff06 40px,#50ff06 41px)"></div>
<div style="position:absolute;left:16px;top:116px;width:2px;height:42px;background:linear-gradient(180deg,#00fb9f 0px,#00f7a9 4px,#00f2b5 8px,#00f1b9 12px,#00faa0 16px,#04ff78 20px,#0bff46 24px,#13ff0d 28px,#4eff06 32px,#77ff04 36px,#95ff02 40px,#96ff02 41px)"></div>
<div style="position:absolute;left:18px;top:116px;width:2px;height:42px;background:linear-gradient(180deg,#00f7aa 0px,#00f2b7 4px,#00ecc5 8px,#00eacb 12px,#00f5af 16px,#02ff84 20px,#09ff54 24px,#0fff2c 28px,#32ff08 32px,#6bff04 36px,#99ff02 40px,#9dff01 41px)"></div>
<div style="position:absolute;left:20px;top:116px;width:2px;height:42px;background:linear-gradient(180deg,#00f2b7 0px,#00ecc5 4px,#00e6d6 8px,#00e3dd 12px,#00eec0 16px,#00ff8f 20px,#09ff54 24px,#10ff22 28px,#47ff06 32px,#87ff03 36px,#a0ff01 40px,#a1ff01 41px)"></div>
<div style="position:absolute;left:22px;top:116px;width:2px;height:42px;background:linear-gradient(180deg,#00edc3 0px,#00e7d4 4px,#00dfe7 8px,#00dcf0 12px,#00e7d2 16px,#00faa0 20px,#06ff66 24px,#0dff36 28px,#28ff08 32px,#5aff05 36px,#6bff04 40px,#6bff04 41px)"></div>
<div style="position:absolute;left:24px;top:116px;width:2px;height:42px;background:linear-gradient(180deg,#00e8d0 0px,#00e1e2 4px,#00d9f8 8px,#00d4ff 12px,#00e0e5 16px,#00f4b1 20px,#04ff73 24px,#0dff39 28px,#25ff08 32px,#55ff06 36px,#6fff04 40px,#70ff04 41px)"></div>
<div style="position:absolute;left:26px;top:116px;width:2px;height:42px;background:linear-gradient(180deg,#00e4dc 0px,#00dcf0 4px,#00d0ff 8px,#00c8ff 12px,#00daf5 16px,#00f1b8 20px,#05ff6f 24px,#0eff2e 28px,#42ff07 32px,#84ff03 36px,#8fff02 40px,#8eff02 41px)"></div>
<div style="position:absolute;left:28px;top:116px;width:2px;height:42px;background:linear-gradient(180deg,#00dfe8 0px,#00d7fd 4px,#00c7ff 8px,#00beff 12px,#00d2ff 16px,#00ebc8 20px,#02ff82 24px,#0bff46 28px,#23ff09 32px,#64ff05 36px,#85ff03 40px,#87ff03 41px)"></div>
<div style="position:absolute;left:30px;top:116px;width:2px;height:42px;background:linear-gradient(180deg,#00dbf4 0px,#00cfff 4px,#00bfff 8px,#00b7ff 12px,#00c7ff 16px,#00e4db 20px,#00ff95 24px,#09ff52 28px,#15ff09 32px,#50ff06 36px,#59ff05 40px,#58ff05 41px)"></div>
<div style="position:absolute;left:32px;top:116px;width:2px;height:42px;background:linear-gradient(180deg,#00d7fe 0px,#00c8ff 4px,#00baff 8px,#00b1ff 12px,#00c0ff 16px,#00e2df 20px,#01ff8b 24px,#0cff3c 28px,#42ff07 32px,#92ff02 36px,#a0ff01 40px,#9fff01 41px)"></div>
<div style="position:absolute;left:34px;top:116px;width:2px;height:42px;background:linear-gradient(180deg,#00d0ff 0px,#00c2ff 4px,#00b5ff 8px,#00adff 12px,#00baff 16px,#00dfe8 20px,#01ff8d 24px,#0dff39 28px,#2eff08 32px,#5bff05 36px,#69ff04 40px,#69ff04 41px)"></div>
<div style="position:absolute;left:36px;top:116px;width:2px;height:42px;background:linear-gradient(180deg,#00caff 0px,#00beff 4px,#00b3ff 8px,#00abff 12px,#00b5ff 16px,#00d9f7 20px,#00faa2 24px,#09ff56 28px,#14ff09 32px,#4dff06 36px,#5fff05 40px,#5fff05 41px)"></div>
<div style="position:absolute;left:38px;top:116px;width:2px;height:42px;background:linear-gradient(180deg,#00c5ff 0px,#00baff 4px,#00b1ff 8px,#00aaff 12px,#00b2ff 16px,#00d5ff 20px,#00f5ae 24px,#06ff69 28px,#11ff1d 32px,#38ff07 36px,#48ff06 40px,#48ff06 41px)"></div>
<div style="position:absolute;left:40px;top:116px;width:2px;height:42px;background:linear-gradient(180deg,#00c0ff 0px,#00b7ff 4px,#00b0ff 8px,#00a9ff 12px,#00b1ff 16px,#00d6ff 20px,#00f9a4 24px,#0aff4b 28px,#1fff09 32px,#51ff06 36px,#7bff03 40px,#7fff03 41px)"></div>
<div style="position:absolute;left:42px;top:116px;width:2px;height:42px;background:linear-gradient(180deg,#00bdff 0px,#00b5ff 4px,#00afff 8px,#00a9ff 12px,#00b0ff 16px,#00d1ff 20px,#00f6ac 24px,#09ff56 28px,#12ff11 32px,#32ff08 36px,#53ff06 40px,#56ff06 41px)"></div>
<div style="position:absolute;left:44px;top:116px;width:2px;height:42px;background:linear-gradient(180deg,#00baff 0px,#00b4ff 4px,#00afff 8px,#00a9ff 12px,#00afff 16px,#00d0ff 20px,#00f5ae 24px,#09ff56 28px,#1fff09 32px,#5eff05 36px,#7eff03 40px,#80ff03 41px)"></div>
<div style="position:absolute;left:46px;top:116px;width:2px;height:42px;background:linear-gradient(180deg,#00b8ff 0px,#00b3ff 4px,#00afff 8px,#00a9ff 12px,#00b0ff 16px,#00d4ff 20px,#00fba0 24px,#0eff2f 28px,#59ff05 32px,#9fff01 36px,#9bff02 40px,#97ff02 41px)"></div>
<div style="position:absolute;left:48px;top:116px;width:2px;height:42px;background:linear-gradient(180deg,#00b6ff 0px,#00b3ff 4px,#00afff 8px,#00a9ff 12px,#00b1ff 16px,#00d4ff 20px,#00f7a9 24px,#09ff51 28px,#34ff08 32px,#84ff03 36px,#a7ff01 40px,#a9ff01 41px)"></div>
<div style="position:absolute;left:50px;top:116px;width:2px;height:42px;background:linear-gradient(180deg,#00b4ff 0px,#00b3ff 4px,#00afff 8px,#00a9ff 12px,#00b1ff 16px,#00d2ff 20px,#00f3b3 24px,#06ff67 28px,#13ff0c 32px,#58ff05 36px,#71ff04 40px,#72ff04 41px)"></div>
<div style="position:absolute;left:52px;top:116px;width:2px;height:42px;background:linear-gradient(180deg,#00b3ff 0px,#00b2ff 4px,#00afff 8px,#00aaff 12px,#00b3ff 16px,#00d6ff 20px,#00f8a6 24px,#0cff40 28px,#4cff06 32px,#99ff02 36px,#9cff01 40px,#9aff02 41px)"></div>
<div style="position:absolute;left:54px;top:116px;width:2px;height:42px;background:linear-gradient(180deg,#00b3ff 0px,#00b3ff 4px,#00b0ff 8px,#00aaff 12px,#00b4ff 16px,#00d3ff 20px,#00f2b7 24px,#06ff67 28px,#13ff0b 32px,#57ff06 36px,#66ff05 40px,#65ff05 41px)"></div>
<div style="position:absolute;left:56px;top:116px;width:2px;height:42px;background:linear-gradient(180deg,#00b2ff 0px,#00b3ff 4px,#00b0ff 8px,#00abff 12px,#00b6ff 16px,#00d6ff 20px,#00f0bb 24px,#02ff81 28px,#0eff2f 32px,#2aff08 36px,#42ff07 40px,#43ff07 41px)"></div>
<div style="position:absolute;left:58px;top:116px;width:2px;height:42px;background:linear-gradient(180deg,#00b2ff 0px,#00b3ff 4px,#00b1ff 8px,#00acff 12px,#00b9ff 16px,#00dbf4 20px,#00faa2 24px,#0cff40 28px,#40ff07 32px,#82ff03 36px,#a0ff01 40px,#a2ff01 41px)"></div>
<div style="position:absolute;left:60px;top:116px;width:2px;height:42px;background:linear-gradient(180deg,#00b2ff 0px,#00b4ff 4px,#00b2ff 8px,#00aeff 12px,#00bbff 16px,#00d9f7 20px,#00f3b3 24px,#06ff6a 28px,#13ff0d 32px,#59ff05 36px,#6aff04 40px,#6aff04 41px)"></div>
<div style="position:absolute;left:62px;top:116px;width:2px;height:42px;background:linear-gradient(180deg,#00b1ff 0px,#00b4ff 4px,#00b3ff 8px,#00afff 12px,#00beff 16px,#00ddee 20px,#00f9a5 24px,#0aff4d 28px,#29ff08 32px,#64ff05 36px,#7dff03 40px,#7eff03 41px)"></div>
<div style="position:absolute;left:64px;top:116px;width:2px;height:42px;background:linear-gradient(180deg,#00b1ff 0px,#00b5ff 4px,#00b4ff 8px,#00b0ff 12px,#00c0ff 16px,#00dcef 20px,#00f5b0 24px,#05ff6c 28px,#0eff32 32px,#11ff1b 36px,#15ff09 40px,#16ff09 41px)"></div>
<div style="position:absolute;left:66px;top:116px;width:2px;height:42px;background:linear-gradient(180deg,#00b1ff 0px,#00b5ff 4px,#00b4ff 8px,#00b2ff 12px,#00c4ff 16px,#00e0e5 20px,#00fb9e 24px,#0bff46 28px,#33ff08 32px,#74ff04 36px,#97ff02 40px,#99ff02 41px)"></div>
<div style="position:absolute;left:68px;top:116px;width:2px;height:42px;background:linear-gradient(180deg,#00b2ff 0px,#00b5ff 4px,#00b5ff 8px,#00b3ff 12px,#00c5ff 16px,#00e0e7 20px,#00f7aa 24px,#06ff69 28px,#10ff1f 32px,#2eff08 36px,#3bff07 40px,#3aff07 41px)"></div>
<div style="position:absolute;left:70px;top:116px;width:2px;height:42px;background:linear-gradient(180deg,#00b2ff 0px,#00b6ff 4px,#00b6ff 8px,#00b5ff 12px,#00c9ff 16px,#00e2e0 20px,#00faa1 24px,#08ff59 28px,#12ff15 32px,#31ff08 36px,#5dff05 40px,#61ff05 41px)"></div>
<div style="position:absolute;left:72px;top:116px;width:2px;height:42px;background:linear-gradient(180deg,#00b2ff 0px,#00b6ff 4px,#00b6ff 8px,#00b6ff 12px,#00ccff 16px,#00e6d5 20px,#00fe97 24px,#08ff57 28px,#15ff09 32px,#53ff06 36px,#7aff03 40px,#7dff03 41px)"></div>
<div style="position:absolute;left:74px;top:116px;width:2px;height:42px;background:linear-gradient(180deg,#00b2ff 0px,#00b6ff 4px,#00b7ff 8px,#00b8ff 12px,#00ceff 16px,#00e5d8 20px,#00fb9e 24px,#07ff60 28px,#12ff16 32px,#3fff07 36px,#6dff04 40px,#70ff04 41px)"></div>
<div style="position:absolute;left:76px;top:116px;width:2px;height:42px;background:linear-gradient(180deg,#00b3ff 0px,#00b7ff 4px,#00b8ff 8px,#00baff 12px,#00d1ff 16px,#00e8cf 20px,#01ff88 24px,#0eff2f 28px,#41ff07 32px,#73ff04 36px,#81ff03 40px,#81ff03 41px)"></div>
<div style="position:absolute;left:78px;top:116px;width:2px;height:42px;background:linear-gradient(180deg,#00b4ff 0px,#00b7ff 4px,#00b9ff 8px,#00bcff 12px,#00d4ff 16px,#00e9cf 20px,#00fc9b 24px,#06ff67 28px,#11ff1b 32px,#41ff07 36px,#50ff06 40px,#50ff06 41px)"></div>
<div style="position:absolute;left:80px;top:116px;width:2px;height:42px;background:linear-gradient(180deg,#00b5ff 0px,#00b8ff 4px,#00baff 8px,#00beff 12px,#00d8fb 16px,#00eec2 20px,#02ff81 24px,#0cff3e 28px,#45ff07 32px,#9eff01 36px,#bbff00 40px,#bcff00 41px)"></div>
<div style="position:absolute;left:82px;top:116px;width:2px;height:42px;background:linear-gradient(180deg,#00b6ff 0px,#00b9ff 4px,#00bcff 8px,#00c1ff 12px,#00daf5 16px,#00f0bb 20px,#05ff6c 24px,#13ff0e 28px,#67ff05 32px,#9bff02 36px,#abff01 40px,#abff01 41px)"></div>
<div style="position:absolute;left:84px;top:116px;width:2px;height:42px;background:linear-gradient(180deg,#00b8ff 0px,#00bbff 4px,#00beff 8px,#00c5ff 12px,#00dcef 16px,#00f0bc 20px,#02ff85 24px,#0aff49 28px,#24ff09 32px,#69ff04 36px,#6fff04 40px,#6dff04 41px)"></div>
<div style="position:absolute;left:86px;top:116px;width:2px;height:42px;background:linear-gradient(180deg,#00baff 0px,#00bdff 4px,#00c1ff 8px,#00c9ff 12px,#00dfe7 16px,#00f4b2 20px,#03ff7b 24px,#0bff48 28px,#16ff09 32px,#49ff06 36px,#65ff05 40px,#67ff05 41px)"></div>
<div style="position:absolute;left:88px;top:116px;width:2px;height:42px;background:linear-gradient(180deg,#00bdff 0px,#00c0ff 4px,#00c4ff 8px,#00cdff 12px,#00e2df 16px,#00f6ab 20px,#05ff70 24px,#0dff34 28px,#30ff08 32px,#64ff05 36px,#71ff04 40px,#70ff04 41px)"></div>
<div style="position:absolute;left:90px;top:116px;width:2px;height:42px;background:linear-gradient(180deg,#00c1ff 0px,#00c3ff 4px,#00c8ff 8px,#00d3ff 12px,#00e6d6 16px,#00f8a5 20px,#05ff6f 24px,#0dff37 28px,#20ff09 32px,#4aff06 36px,#6aff04 40px,#6dff04 41px)"></div>
<div style="position:absolute;left:92px;top:116px;width:2px;height:42px;background:linear-gradient(180deg,#00c5ff 0px,#00c7ff 4px,#00cdff 8px,#00d8fb 12px,#00e9cd 16px,#00fc9b 20px,#07ff64 24px,#0eff30 28px,#35ff08 32px,#71ff04 36px,#7cff03 40px,#7bff03 41px)"></div>
<div style="position:absolute;left:94px;top:116px;width:2px;height:42px;background:linear-gradient(180deg,#00c9ff 0px,#00ccff 4px,#00d2ff 8px,#00dbf2 12px,#00edc4 16px,#00fd99 20px,#05ff6c 24px,#0bff45 28px,#13ff0e 32px,#3cff07 36px,#45ff07 40px,#44ff07 41px)"></div>
<div style="position:absolute;left:96px;top:116px;width:2px;height:42px;background:linear-gradient(180deg,#00cfff 0px,#00d1ff 4px,#00d7fc 8px,#00dfe8 12px,#00f1b8 16px,#02ff86 20px,#09ff52 24px,#10ff23 28px,#3fff07 32px,#7bff03 36px,#aaff01 40px,#aeff00 41px)"></div>
<div style="position:absolute;left:98px;top:116px;width:2px;height:42px;background:linear-gradient(180deg,#00d5ff 0px,#00d7fd 4px,#00dbf2 8px,#00e3dd 12px,#00f5ae 16px,#04ff77 20px,#0bff45 24px,#11ff1a 28px,#39ff07 32px,#5fff05 36px,#8dff02 40px,#91ff02 41px)"></div>
<div style="position:absolute;left:100px;top:116px;width:2px;height:42px;background:linear-gradient(180deg,#00d9f7 0px,#00dbf3 4px,#00dfe7 8px,#00e8d1 12px,#00f9a4 16px,#04ff76 20px,#0bff48 24px,#11ff18 28px,#41ff07 32px,#6dff04 36px,#77ff04 40px,#76ff04 41px)"></div>
<div style="position:absolute;left:102px;top:116px;width:2px;height:42px;background:linear-gradient(180deg,#00ddec 0px,#00dfe8 4px,#00e4db 8px,#00ecc5 12px,#00fd9a 16px,#06ff6b 20px,#0cff40 24px,#13ff0f 28px,#4fff06 32px,#83ff03 36px,#9cff01 40px,#9dff01 41px)"></div>
<div style="position:absolute;left:104px;top:116px;width:2px;height:42px;background:linear-gradient(180deg,#00e2e1 0px,#00e4dc 4px,#00e9cf 8px,#00f1b9 12px,#01ff8e 16px,#07ff5f 20px,#0cff3f 24px,#10ff25 28px,#38ff07 32px,#76ff04 36px,#81ff03 40px,#80ff03 41px)"></div>
<div style="position:absolute;left:106px;top:116px;width:2px;height:42px;background:linear-gradient(180deg,#00e7d4 0px,#00e8cf 4px,#00eec2 8px,#00f6ad 12px,#03ff80 16px,#09ff54 20px,#0fff2c 24px,#1eff09 28px,#53ff06 32px,#76ff04 36px,#88ff03 40px,#89ff03 41px)"></div>
<div style="position:absolute;left:108px;top:116px;width:2px;height:42px;background:linear-gradient(180deg,#00ebc7 0px,#00eec2 4px,#00f3b5 8px,#00faa1 12px,#04ff73 16px,#0bff48 20px,#11ff1d 24px,#32ff08 28px,#71ff04 32px,#a0ff01 36px,#b1ff00 40px,#b1ff00 41px)"></div>
<div style="position:absolute;left:110px;top:116px;width:2px;height:42px;background:linear-gradient(180deg,#00f0ba 0px,#00f3b5 4px,#00f8a7 8px,#00ff95 12px,#06ff68 16px,#0bff48 20px,#0fff27 24px,#25ff08 28px,#6cff04 32px,#a8ff01 36px,#bbff00 40px,#bbff00 41px)"></div>
<div style="position:absolute;left:112px;top:116px;width:2px;height:42px;background:linear-gradient(180deg,#00f6ad 0px,#00f8a7 4px,#00fd9a 8px,#02ff86 12px,#07ff5f 16px,#0bff44 20px,#0dff37 24px,#0dff34 28px,#12ff17 32px,#23ff09 36px,#43ff07 40px,#47ff06 41px)"></div>
<div style="position:absolute;left:114px;top:116px;width:2px;height:42px;background:linear-gradient(180deg,#00faa0 0px,#00fd9a 4px,#01ff8b 8px,#04ff78 12px,#09ff54 16px,#0cff3d 20px,#0fff27 24px,#13ff0d 28px,#3cff07 32px,#62ff05 36px,#7fff03 40px,#81ff03 41px)"></div>
<div style="position:absolute;left:116px;top:116px;width:2px;height:42px;background:linear-gradient(180deg,#00ff93 0px,#01ff8a 4px,#03ff7b 8px,#06ff6b 12px,#0aff4c 16px,#0cff3b 20px,#0fff29 24px,#13ff0f 28px,#2bff08 32px,#41ff07 36px,#6dff04 40px,#72ff04 41px)"></div>
<div style="position:absolute;left:118px;top:116px;width:2px;height:42px;background:linear-gradient(180deg,#02ff83 0px,#03ff7a 4px,#05ff6d 8px,#07ff5f 12px,#0bff43 16px,#0eff32 20px,#11ff1c 24px,#24ff09 28px,#45ff07 32px,#5eff05 36px,#83ff03 40px,#87ff03 41px)"></div>
<div style="position:absolute;left:120px;top:116px;width:2px;height:42px;background:linear-gradient(180deg,#04ff74 0px,#06ff6b 4px,#07ff5f 8px,#09ff54 12px,#0cff3c 16px,#0eff2f 20px,#10ff25 24px,#12ff15 28px,#30ff08 32px,#60ff05 36px,#71ff04 40px,#72ff04 41px)"></div>
<div style="position:absolute;left:122px;top:116px;width:2px;height:42px;background:linear-gradient(180deg,#06ff67 0px,#07ff5e 4px,#09ff53 8px,#0aff4a 12px,#0dff34 16px,#10ff23 20px,#12ff12 24px,#23ff09 28px,#61ff05 32px,#a3ff01 36px,#b3ff00 40px,#b3ff00 41px)"></div>
<div style="position:absolute;left:124px;top:116px;width:2px;height:42px;background:linear-gradient(180deg,#08ff5a 0px,#09ff51 4px,#0bff48 8px,#0cff41 12px,#0eff2d 16px,#11ff1d 20px,#18ff09 24px,#43ff07 28px,#81ff03 32px,#b7ff00 36px,#c6fb00 40px,#c6fa00 41px)"></div>
<div style="position:absolute;left:126px;top:116px;width:2px;height:42px;background:linear-gradient(180deg,#0aff4f 0px,#0bff46 4px,#0cff3e 8px,#0dff39 12px,#0fff28 16px,#11ff1a 20px,#13ff0c 24px,#2dff08 28px,#70ff04 32px,#b3ff00 36px,#c7fa00 40px,#c8fa00 41px)"></div>
<div style="position:absolute;left:128px;top:116px;width:2px;height:42px;background:linear-gradient(180deg,#0bff45 0px,#0cff3d 4px,#0dff36 8px,#0eff32 12px,#10ff21 16px,#13ff0e 20px,#28ff08 24px,#50ff06 28px,#9cff01 32px,#d0f600 36px,#dfef00 40px,#e0ee00 41px)"></div>
<div style="position:absolute;left:130px;top:116px;width:2px;height:42px;background:linear-gradient(180deg,#0cff3c 0px,#0dff34 4px,#0eff2e 8px,#0fff2c 12px,#10ff1f 16px,#12ff15 20px,#1cff09 24px,#3fff07 28px,#82ff03 32px,#c0fd00 36px,#d4f400 40px,#d6f300 41px)"></div>
<div style="position:absolute;left:132px;top:116px;width:2px;height:42px;background:linear-gradient(180deg,#0dff34 0px,#0fff2c 4px,#0fff27 8px,#0fff26 12px,#11ff1b 16px,#12ff12 20px,#29ff08 24px,#5fff05 28px,#91ff02 32px,#b3ff00 36px,#ccf800 40px,#cef700 41px)"></div>
<div style="position:absolute;left:134px;top:116px;width:2px;height:42px;background:linear-gradient(180deg,#0eff2d 0px,#0fff26 4px,#10ff21 8px,#10ff21 12px,#12ff13 16px,#28ff08 20px,#53ff06 24px,#81ff03 28px,#c1fd00 32px,#dcf000 36px,#e5ec00 40px,#e6ec00 41px)"></div>
<div style="position:absolute;left:136px;top:116px;width:2px;height:42px;background:linear-gradient(180deg,#0fff26 0px,#10ff20 4px,#11ff1c 8px,#11ff1c 12px,#13ff0b 16px,#2bff08 20px,#4fff06 24px,#78ff04 28px,#a1ff01 32px,#baff00 36px,#c3fc00 40px,#c4fc00 41px)"></div>
<div style="position:absolute;left:138px;top:116px;width:2px;height:42px;background:linear-gradient(180deg,#10ff20 0px,#11ff19 4px,#12ff16 8px,#12ff14 12px,#22ff09 16px,#45ff07 20px,#74ff04 24px,#abff01 28px,#caf900 32px,#d6f300 36px,#dcf000 40px,#ddf000 41px)"></div>
<div style="position:absolute;left:140px;top:116px;width:2px;height:42px;background:linear-gradient(180deg,#11ff19 0px,#12ff13 4px,#13ff10 8px,#15ff09 12px,#36ff07 16px,#5cff05 20px,#80ff03 24px,#9bff02 28px,#c2fc00 32px,#d4f400 36px,#d9f200 40px,#daf200 41px)"></div>
<div style="position:absolute;left:142px;top:116px;width:2px;height:42px;background:linear-gradient(180deg,#12ff12 0px,#13ff0d 4px,#16ff09 8px,#27ff08 12px,#4eff06 16px,#7dff03 20px,#b4ff00 24px,#d4f400 28px,#e8eb00 32px,#f2e600 36px,#f2e600 40px,#f2e600 41px)"></div>
<div style="position:absolute;left:144px;top:116px;width:2px;height:42px;background:linear-gradient(180deg,#13ff0a 0px,#18ff09 4px,#26ff08 8px,#3dff07 12px,#66ff05 16px,#8dff02 20px,#a8ff01 24px,#b1ff00 28px,#c3fc00 32px,#ccf800 36px,#c6fa00 40px,#c6fb00 41px)"></div>
<div style="position:absolute;left:146px;top:116px;width:2px;height:42px;background:linear-gradient(180deg,#1bff09 0px,#24ff09 4px,#3bff07 8px,#54ff06 12px,#7eff03 16px,#9dff01 20px,#bcff00 24px,#caf900 28px,#cff600 32px,#cff600 36px,#ccf800 40px,#ccf800 41px)"></div>
<div style="position:absolute;left:148px;top:116px;width:2px;height:42px;background:linear-gradient(180deg,#24ff09 0px,#31ff08 4px,#50ff06 8px,#6eff04 12px,#98ff02 16px,#bdff00 20px,#d0f600 24px,#dcf000 28px,#e8eb00 32px,#ebe900 36px,#e6ec00 40px,#e5ec00 41px)"></div>
<div style="position:absolute;left:150px;top:116px;width:2px;height:42px;background:linear-gradient(180deg,#34ff08 0px,#47ff06 4px,#65ff05 8px,#8bff02 12px,#aeff00 16px,#c9f900 20px,#dcf000 24px,#e6ec00 28px,#f0e700 32px,#f7e400 36px,#e6ec00 40px,#e3ed00 41px)"></div>
<div style="position:absolute;left:152px;top:116px;width:2px;height:42px;background:linear-gradient(180deg,#41ff07 0px,#5aff05 4px,#81ff03 8px,#9fff01 12px,#c2fd00 16px,#cef700 20px,#d2f500 24px,#ccf800 28px,#c9f900 32px,#cbf800 36px,#ccf800 40px,#ccf800 41px)"></div>
<div style="position:absolute;left:154px;top:116px;width:2px;height:42px;background:linear-gradient(180deg,#56ff06 0px,#72ff04 4px,#94ff02 8px,#baff00 12px,#caf900 16px,#d8f200 20px,#e1ee00 24px,#e2ee00 28px,#dbf100 32px,#c7fa00 36px,#d0f600 40px,#cff600 41px)"></div>
<div style="position:absolute;left:156px;top:116px;width:2px;height:42px;background:linear-gradient(180deg,#60ff05 0px,#97ff02 4px,#b4ff00 8px,#c6fb00 12px,#d3f400 16px,#ddf000 20px,#e2ee00 24px,#e2ed00 28px,#ddf000 32px,#d7f300 36px,#d4f400 40px,#d2f500 41px)"></div>
<div style="position:absolute;left:158px;top:116px;width:2px;height:42px;background:linear-gradient(180deg,#7bff03 0px,#a7ff01 4px,#c0fd00 8px,#d1f600 12px,#e0ef00 16px,#e5ec00 20px,#e8eb00 24px,#dbf100 28px,#def000 32px,#ddf000 36px,#d0f600 40px,#cff600 41px)"></div>
<div style="position:absolute;left:160px;top:116px;width:2px;height:42px;background:linear-gradient(180deg,#afff00 0px,#bbff00 4px,#caf900 8px,#d8f200 12px,#e9ea00 16px,#f0e700 20px,#ece900 24px,#f0e700 28px,#e6ec00 32px,#d7f300 36px,#dfef00 40px,#d9f200 41px)"></div>
<div style="position:absolute;left:162px;top:116px;width:2px;height:42px;background:linear-gradient(180deg,#a8ff01 0px,#c3fc00 4px,#d3f400 8px,#e0ef00 12px,#eee800 16px,#f9e300 20px,#ffe000 24px,#fde100 28px,#ffe000 32px,#ffdd00 36px,#f1e700 40px,#ede900 41px)"></div>
<div style="position:absolute;left:164px;top:116px;width:2px;height:42px;background:linear-gradient(180deg,#bcff00 0px,#d6f300 4px,#e0ef00 8px,#ebea00 12px,#ffdf00 16px,#ffda00 20px,#ffcd00 24px,#ffc900 28px,#ffcd00 32px,#ffcd00 36px,#fce100 40px,#fde100 41px)"></div>
<div style="position:absolute;left:166px;top:116px;width:2px;height:42px;background:linear-gradient(180deg,#c0fd00 0px,#d3f400 4px,#ebea00 8px,#ede800 12px,#fee100 16px,#ffd100 20px,#ffd100 24px,#ffca00 28px,#fee100 32px,#f9e300 36px,#e9ea00 40px,#ece900 41px)"></div>
<div style="position:absolute;left:168px;top:116px;width:2px;height:42px;background:linear-gradient(180deg,#d0f600 0px,#d7f300 4px,#e5ec00 8px,#f6e500 12px,#ffce00 16px,#ffc900 20px,#ffbf00 24px,#ffd100 28px,#ffcc00 32px,#ffd700 36px,#f1e700 40px,#ebea00 41px)"></div>
<div style="position:absolute;left:170px;top:116px;width:2px;height:42px;background:linear-gradient(180deg,#d7f300 0px,#e4ed00 4px,#f5e500 8px,#ffcf00 12px,#ffca00 16px,#ffb700 20px,#ffaf00 24px,#ffb800 28px,#ffb900 32px,#ffaa00 36px,#ffd400 40px,#ffd500 41px)"></div>
<div style="position:absolute;left:172px;top:116px;width:2px;height:42px;background:linear-gradient(180deg,#d9f200 0px,#e1ee00 4px,#e9eb00 8px,#f7e400 12px,#ffc600 16px,#ffb600 20px,#ffbd00 24px,#ffba00 28px,#ffb500 32px,#ffd400 36px,#ffe000 40px,#f9e300 41px)"></div>
<div style="position:absolute;left:174px;top:116px;width:2px;height:42px;background:linear-gradient(180deg,#e9ea00 0px,#e8eb00 4px,#fde100 8px,#ffda00 12px,#ffc900 16px,#ffb700 20px,#ffb400 24px,#ffb800 28px,#ffb700 32px,#ffc200 36px,#ffcd00 40px,#ffcc00 41px)"></div>
<div style="position:absolute;left:176px;top:116px;width:2px;height:42px;background:linear-gradient(180deg,#deef00 0px,#f6e400 4px,#f7e400 8px,#fae300 12px,#ffcf00 16px,#ffbb00 20px,#ffa800 24px,#ffad00 28px,#ffb200 32px,#ffc000 36px,#f8e300 40px,#ede900 41px)"></div>
<div style="position:absolute;left:178px;top:116px;width:2px;height:42px;background:linear-gradient(180deg,#ddf000 0px,#dcf000 4px,#f8e300 8px,#ffdd00 12px,#ffce00 16px,#ffbe00 20px,#ffad00 24px,#ffb200 28px,#ffba00 32px,#ffc500 36px,#ffca00 40px,#ffc500 41px)"></div>
<div style="position:absolute;left:180px;top:116px;width:2px;height:42px;background:linear-gradient(180deg,#ccf800 0px,#e7ec00 4px,#e6ec00 8px,#fde100 12px,#ffd400 16px,#ffbc00 20px,#ffb600 24px,#ffa800 28px,#ffb100 32px,#ffbb00 36px,#ffda00 40px,#fee100 41px)"></div>
<div style="position:absolute;left:182px;top:116px;width:2px;height:42px;background:linear-gradient(180deg,#d1f600 0px,#ede900 4px,#f9e300 8px,#f7e400 12px,#ffd100 16px,#ffcc00 20px,#ffd000 24px,#ffbd00 28px,#ffb800 32px,#ffce00 36px,#f5e500 40px,#f0e700 41px)"></div>
</div>
<div style="position:absolute;left:30.30px;top:194.40px;width:184px;height:158px;overflow:hidden">
<div style="position:absolute;left:0;top:0px;width:184px;height:2px;background:linear-gradient(90deg,#00fe97 0px,#00faa0 2px,#00f6ac 4px,#00f2b8 6px,#00edc3 8px,#00e9cf 10px,#00e5d9 12px,#00e1e2 14px,#00deea 16px,#00dbf3 18px,#00d8fb 20px,#00caff 25px,#00bcff 30px,#00aeff 35px,#00a1ff 40px,#009bff 45px,#0096ff 50px,#0091ff 55px,#008cff 60px,#0087ff 65px,#0082ff 70px,#007dff 75px,#0078ff 80px,#0077ff 85px,#0076ff 90px,#0075ff 95px,#0074ff 100px,#0073ff 105px,#0072ff 110px,#0070ff 115px,#006fff 120px,#0071ff 125px,#0073ff 130px,#0075ff 135px,#0076ff 140px,#0078ff 145px,#007dff 150px,#0084ff 155px,#0090ff 160px,#009cff 165px,#00b5ff 170px,#00beff 175px,#00c9ff 180px,#00dcf1 183px)"></div>
<div style="position:absolute;left:0;top:2px;width:184px;height:2px;background:linear-gradient(90deg,#00fb9f 0px,#00f8a7 2px,#00f3b3 4px,#00efbf 6px,#00eaca 8px,#00e6d6 10px,#00e2e1 12px,#00dfe9 14px,#00dbf2 16px,#00d8fa 18px,#00d4ff 20px,#00c5ff 25px,#00b7ff 30px,#00a9ff 35px,#009cff 40px,#0096ff 45px,#0091ff 50px,#008cff 55px,#0087ff 60px,#0082ff 65px,#007dff 70px,#0078ff 75px,#0073ff 80px,#0072ff 85px,#0071ff 90px,#0070ff 95px,#006fff 100px,#006eff 105px,#006dff 110px,#006cff 115px,#016cff 120px,#006dff 125px,#006fff 130px,#0071ff 135px,#0075ff 140px,#0076ff 145px,#007aff 150px,#008bff 155px,#0090ff 160px,#009eff 165px,#00afff 170px,#00c0ff 175px,#00dcf0 180px,#00e3de 183px)"></div>
<div style="position:absolute;left:0;top:4px;width:184px;height:2px;background:linear-gradient(90deg,#00f4b1 0px,#00f1b9 2px,#00ecc5 4px,#00e8d1 6px,#00e3dc 8px,#00dfe8 10px,#00dbf3 12px,#00d8fb 14px,#00d3ff 16px,#00cdff 18px,#00c7ff 20px,#00b9ff 25px,#00abff 30px,#009cff 35px,#008fff 40px,#008aff 45px,#0085ff 50px,#0080ff 55px,#007bff 60px,#0075ff 65px,#0070ff 70px,#016cff 75px,#0369ff 80px,#0368ff 85px,#0468ff 90px,#0467ff 95px,#0566ff 100px,#0566ff 105px,#0565ff 110px,#0665ff 115px,#0665ff 120px,#0467ff 125px,#0369ff 130px,#016bff 135px,#006dff 140px,#0070ff 145px,#0077ff 150px,#0083ff 155px,#008cff 160px,#0092ff 165px,#00a2ff 170px,#00ccff 175px,#00d8fa 180px,#00e3df 183px)"></div>
<div style="position:absolute;left:0;top:6px;width:184px;height:2px;background:linear-gradient(90deg,#00fb9f 0px,#00f7a8 2px,#00f3b4 4px,#00efbf 6px,#00eacb 8px,#00e6d7 10px,#00e1e2 12px,#00deeb 14px,#00dbf3 16px,#00d7fc 18px,#00d2ff 20px,#00c4ff 25px,#00b5ff 30px,#00a7ff 35px,#009aff 40px,#0094ff 45px,#008fff 50px,#008aff 55px,#0085ff 60px,#0080ff 65px,#007bff 70px,#0076ff 75px,#0072ff 80px,#0071ff 85px,#0070ff 90px,#006fff 95px,#006eff 100px,#006dff 105px,#016cff 110px,#016bff 115px,#016bff 120px,#006cff 125px,#006eff 130px,#0071ff 135px,#0073ff 140px,#0078ff 145px,#0078ff 150px,#0082ff 155px,#0092ff 160px,#0095ff 165px,#00b2ff 170px,#00c4ff 175px,#00e0e7 180px,#00dded 183px)"></div>
<div style="position:absolute;left:0;top:8px;width:184px;height:2px;background:linear-gradient(90deg,#00f9a4 0px,#00f6ac 2px,#00f2b7 4px,#00edc2 6px,#00e9ce 8px,#00e5d9 10px,#00e1e4 12px,#00dded 14px,#00daf5 16px,#00d7fe 18px,#00d0ff 20px,#00bbff 25px,#00a2ff 30px,#008cff 35px,#007fff 40px,#007aff 45px,#0077ff 50px,#0073ff 55px,#0070ff 60px,#006dff 65px,#026aff 70px,#0468ff 75px,#0566ff 80px,#0565ff 85px,#0665ff 90px,#0664ff 95px,#0664ff 100px,#0763ff 105px,#0763ff 110px,#0763ff 115px,#0763ff 120px,#0664ff 125px,#0565ff 130px,#0467ff 135px,#026aff 140px,#016bff 145px,#0072ff 150px,#007dff 155px,#008cff 160px,#009bff 165px,#00aaff 170px,#00c9ff 175px,#00d8fa 180px,#00dbf3 183px)"></div>
<div style="position:absolute;left:0;top:10px;width:184px;height:2px;background:linear-gradient(90deg,#02ff82 0px,#01ff8c 2px,#00fd99 4px,#00f9a4 6px,#00f5ae 8px,#00f1b9 10px,#00edc3 12px,#00eacb 14px,#00e7d3 16px,#00e4db 18px,#00e1e4 20px,#00d7fc 25px,#00c6ff 30px,#00b4ff 35px,#00a6ff 40px,#009eff 45px,#0097ff 50px,#0090ff 55px,#0089ff 60px,#0084ff 65px,#007eff 70px,#0079ff 75px,#0075ff 80px,#0074ff 85px,#0073ff 90px,#0072ff 95px,#0071ff 100px,#0070ff 105px,#0070ff 110px,#0070ff 115px,#0070ff 120px,#0074ff 125px,#0079ff 130px,#007eff 135px,#0083ff 140px,#0088ff 145px,#008eff 150px,#0099ff 155px,#009fff 160px,#00b7ff 165px,#00bfff 170px,#00dcf1 175px,#00e2e0 180px,#00e8cf 183px)"></div>
<div style="position:absolute;left:0;top:12px;width:184px;height:2px;background:linear-gradient(90deg,#02ff81 0px,#01ff8b 2px,#00fe97 4px,#00faa1 6px,#00f6ab 8px,#00f3b5 10px,#00efbe 12px,#00ecc6 14px,#00e9cd 16px,#00e6d5 18px,#00e3dd 20px,#00dcf0 25px,#00d2ff 30px,#00c3ff 35px,#00b5ff 40px,#00adff 45px,#00a6ff 50px,#009eff 55px,#0097ff 60px,#008fff 65px,#0088ff 70px,#0081ff 75px,#007bff 80px,#0079ff 85px,#0078ff 90px,#0077ff 95px,#0077ff 100px,#0078ff 105px,#0079ff 110px,#007bff 115px,#007dff 120px,#0083ff 125px,#0088ff 130px,#008eff 135px,#0093ff 140px,#0099ff 145px,#00a1ff 150px,#00a4ff 155px,#00b5ff 160px,#00c6ff 165px,#00ccff 170px,#00d8fa 175px,#00e5d9 180px,#00e2e1 183px)"></div>
<div style="position:absolute;left:0;top:14px;width:184px;height:2px;background:linear-gradient(90deg,#03ff7c 0px,#02ff85 2px,#00ff91 4px,#00fc9c 6px,#00f9a5 8px,#00f5ae 10px,#00f2b7 12px,#00efbe 14px,#00ecc5 16px,#00eacc 18px,#00e7d3 20px,#00e0e6 25px,#00d9f9 30px,#00ccff 35px,#00bfff 40px,#00b8ff 45px,#00b0ff 50px,#00a9ff 55px,#00a2ff 60px,#009bff 65px,#0094ff 70px,#008dff 75px,#0088ff 80px,#0086ff 85px,#0085ff 90px,#0084ff 95px,#0084ff 100px,#0085ff 105px,#0086ff 110px,#0088ff 115px,#008bff 120px,#0090ff 125px,#0096ff 130px,#009cff 135px,#00a1ff 140px,#00a5ff 145px,#00adff 150px,#00b8ff 155px,#00c5ff 160px,#00d4ff 165px,#00d8fb 170px,#00e5da 175px,#00f1b8 180px,#00f6ac 183px)"></div>
<div style="position:absolute;left:0;top:16px;width:184px;height:2px;background:linear-gradient(90deg,#06ff67 0px,#05ff6f 2px,#03ff7a 4px,#02ff85 6px,#00ff90 8px,#00fd9a 10px,#00faa2 12px,#00f7a8 14px,#00f5af 16px,#00f2b6 18px,#00f0bc 20px,#00e9ce 25px,#00e2e0 30px,#00dbf4 35px,#00d2ff 40px,#00caff 45px,#00c3ff 50px,#00bcff 55px,#00b5ff 60px,#00aeff 65px,#00a8ff 70px,#00a1ff 75px,#009cff 80px,#009aff 85px,#0099ff 90px,#0099ff 95px,#0099ff 100px,#009aff 105px,#009bff 110px,#009dff 115px,#009fff 120px,#00a4ff 125px,#00a9ff 130px,#00aeff 135px,#00b5ff 140px,#00baff 145px,#00beff 150px,#00c7ff 155px,#00d1ff 160px,#00daf6 165px,#00e6d7 170px,#00e9ce 175px,#00f6ab 180px,#00fc9c 183px)"></div>
<div style="position:absolute;left:0;top:18px;width:184px;height:2px;background:linear-gradient(90deg,#08ff5b 0px,#07ff62 2px,#05ff6c 4px,#04ff76 6px,#03ff80 8px,#01ff8a 10px,#00ff93 12px,#00fd9a 14px,#00fba0 16px,#00f8a6 18px,#00f6ac 20px,#00f0bc 25px,#00e9cd 30px,#00e3df 35px,#00dcef 40px,#00d8fa 45px,#00d2ff 50px,#00cbff 55px,#00c4ff 60px,#00bdff 65px,#00b7ff 70px,#00b1ff 75px,#00acff 80px,#00aaff 85px,#00a9ff 90px,#00a8ff 95px,#00a9ff 100px,#00a9ff 105px,#00abff 110px,#00adff 115px,#00b0ff 120px,#00b5ff 125px,#00bbff 130px,#00c1ff 135px,#00c8ff 140px,#00ccff 145px,#00d5ff 150px,#00d7fd 155px,#00e1e3 160px,#00e3df 165px,#00e9cd 170px,#00f3b4 175px,#00faa3 180px,#00ff91 183px)"></div>
<div style="position:absolute;left:0;top:20px;width:184px;height:2px;background:linear-gradient(90deg,#04ff77 0px,#03ff7e 2px,#02ff86 4px,#00ff8f 6px,#00fe97 8px,#00fb9e 10px,#00f9a4 12px,#00f7aa 14px,#00f5af 16px,#00f3b4 18px,#00f1ba 20px,#00ebc8 25px,#00e5d8 30px,#00dfe8 35px,#00d9f7 40px,#00d4ff 45px,#00ceff 50px,#00c7ff 55px,#00c0ff 60px,#00b9ff 65px,#00b3ff 70px,#00adff 75px,#00a8ff 80px,#00a6ff 85px,#00a5ff 90px,#00a5ff 95px,#00a5ff 100px,#00a7ff 105px,#00a9ff 110px,#00adff 115px,#00b1ff 120px,#00b8ff 125px,#00bfff 130px,#00c6ff 135px,#00cdff 140px,#00d4ff 145px,#00d9f9 150px,#00ddee 155px,#00e5d9 160px,#00e9cd 165px,#00eec2 170px,#00f4b1 175px,#01ff8a 180px,#00ff8f 183px)"></div>
<div style="position:absolute;left:0;top:22px;width:184px;height:2px;background:linear-gradient(90deg,#0aff4a 0px,#09ff50 2px,#08ff57 4px,#07ff5f 6px,#06ff67 8px,#05ff6f 10px,#04ff76 12px,#03ff7d 14px,#02ff83 16px,#01ff8a 18px,#00ff91 20px,#00fb9f 25px,#00f6ad 30px,#00f0bb 35px,#00ebca 40px,#00e7d3 45px,#00e3dc 50px,#00e0e6 55px,#00dcef 60px,#00d9f8 65px,#00d5ff 70px,#00cfff 75px,#00cbff 80px,#00c9ff 85px,#00c8ff 90px,#00c7ff 95px,#00c8ff 100px,#00caff 105px,#00ccff 110px,#00ceff 115px,#00d2ff 120px,#00d7fd 125px,#00daf4 130px,#00ddec 135px,#00e0e5 140px,#00e4dc 145px,#00e9cf 150px,#00ecc6 155px,#00eec1 160px,#00f2b6 165px,#00faa0 170px,#01ff8a 175px,#05ff70 180px,#09ff53 183px)"></div>
<div style="position:absolute;left:0;top:24px;width:184px;height:2px;background:linear-gradient(90deg,#0aff4c 0px,#09ff50 2px,#09ff56 4px,#08ff5c 6px,#07ff63 8px,#06ff6a 10px,#05ff70 12px,#04ff77 14px,#03ff7d 16px,#02ff83 18px,#01ff8a 20px,#00fd99 25px,#00f8a8 30px,#00f2b7 35px,#00ecc5 40px,#00e8d0 45px,#00e5d9 50px,#00e1e2 55px,#00deeb 60px,#00dbf3 65px,#00d8fc 70px,#00d3ff 75px,#00cfff 80px,#00cdff 85px,#00ccff 90px,#00ccff 95px,#00cdff 100px,#00cfff 105px,#00d1ff 110px,#00d5ff 115px,#00d8fa 120px,#00dcf1 125px,#00dfe7 130px,#00e3dd 135px,#00e8d0 140px,#00ecc6 145px,#00eec0 150px,#00f6ac 155px,#00fc9c 160px,#02ff84 165px,#05ff71 170px,#03ff7e 175px,#09ff52 180px,#08ff59 183px)"></div>
<div style="position:absolute;left:0;top:26px;width:184px;height:2px;background:linear-gradient(90deg,#12ff17 0px,#11ff1a 2px,#11ff1e 4px,#10ff22 6px,#0fff29 8px,#0eff32 10px,#0cff3b 12px,#0bff44 14px,#0aff4d 16px,#09ff54 18px,#08ff59 20px,#06ff67 25px,#04ff76 30px,#01ff88 35px,#00fd99 40px,#00f9a5 45px,#00f4b1 50px,#00f0bd 55px,#00ebc8 60px,#00e8d2 65px,#00e4db 70px,#00e1e2 75px,#00dfe8 80px,#00deea 85px,#00deec 90px,#00deec 95px,#00deea 100px,#00dfe8 105px,#00e1e3 110px,#00e3dd 115px,#00e7d4 120px,#00ebc8 125px,#00f0bb 130px,#00f5ae 135px,#00fb9e 140px,#00ff94 145px,#02ff84 150px,#05ff6c 155px,#08ff5c 160px,#0aff49 165px,#09ff54 170px,#0eff31 175px,#0dff34 180px,#0fff2c 183px)"></div>
<div style="position:absolute;left:0;top:28px;width:184px;height:2px;background:linear-gradient(90deg,#46ff07 0px,#44ff07 2px,#42ff07 4px,#3eff07 6px,#34ff08 8px,#26ff08 10px,#16ff09 12px,#12ff15 14px,#10ff22 16px,#0fff2b 18px,#0eff2f 20px,#0dff38 25px,#0cff41 30px,#0aff4e 35px,#08ff5d 40px,#06ff6b 45px,#04ff79 50px,#01ff88 55px,#00fe97 60px,#00faa1 65px,#00f6ab 70px,#00f3b4 75px,#00f0bb 80px,#00efbf 85px,#00eec0 90px,#00efbf 95px,#00f0bd 100px,#00f1b8 105px,#00f4b1 110px,#00f7a8 115px,#00fb9e 120px,#00ff91 125px,#03ff80 130px,#05ff70 135px,#07ff5f 140px,#09ff51 145px,#0bff43 150px,#0dff38 155px,#0eff2d 160px,#0fff28 165px,#10ff25 170px,#0bff44 175px,#14ff09 180px,#29ff08 183px)"></div>
<div style="position:absolute;left:0;top:30px;width:184px;height:2px;background:linear-gradient(90deg,#a1ff01 0px,#a0ff01 2px,#9fff01 4px,#9aff02 6px,#8cff02 8px,#78ff04 10px,#60ff05 12px,#48ff06 14px,#33ff08 16px,#26ff08 18px,#20ff09 20px,#1bff09 25px,#15ff09 30px,#13ff0f 35px,#12ff16 40px,#11ff1d 45px,#0fff26 50px,#0eff30 55px,#0cff3c 60px,#0aff49 65px,#09ff55 70px,#07ff60 75px,#06ff68 80px,#05ff6c 85px,#05ff6e 90px,#05ff6d 95px,#06ff69 100px,#07ff63 105px,#08ff5a 110px,#09ff50 115px,#0bff44 120px,#0dff39 125px,#0eff2f 130px,#0fff26 135px,#10ff1f 140px,#11ff1c 145px,#12ff15 150px,#13ff10 155px,#11ff18 160px,#18ff09 165px,#19ff09 170px,#2eff08 175px,#16ff09 180px,#1bff09 183px)"></div>
<div style="position:absolute;left:0;top:32px;width:184px;height:2px;background:linear-gradient(90deg,#b2ff00 0px,#b2ff00 2px,#b2ff00 4px,#adff00 6px,#9dff01 8px,#85ff03 10px,#68ff05 12px,#4cff06 14px,#33ff08 16px,#24ff09 18px,#1fff09 20px,#1cff09 25px,#1aff09 30px,#16ff09 35px,#13ff0d 40px,#12ff12 45px,#11ff18 50px,#10ff1f 55px,#10ff25 60px,#0fff2b 65px,#0eff30 70px,#0dff37 75px,#0cff3c 80px,#0cff3f 85px,#0cff40 90px,#0cff3f 95px,#0cff3c 100px,#0dff37 105px,#0eff32 110px,#0eff2d 115px,#0fff27 120px,#10ff20 125px,#11ff19 130px,#12ff12 135px,#13ff0b 140px,#19ff09 145px,#1bff09 150px,#13ff0b 155px,#24ff09 160px,#40ff07 165px,#21ff09 170px,#34ff08 175px,#19ff09 180px,#12ff14 183px)"></div>
<div style="position:absolute;left:0;top:34px;width:184px;height:2px;background:linear-gradient(90deg,#c1fd00 0px,#c1fd00 2px,#c1fd00 4px,#befe00 6px,#afff00 8px,#96ff02 10px,#78ff04 12px,#5bff05 14px,#41ff07 16px,#31ff08 18px,#2dff08 20px,#2cff08 25px,#2cff08 30px,#2cff08 35px,#2cff08 40px,#2bff08 45px,#29ff08 50px,#26ff08 55px,#21ff09 60px,#1bff09 65px,#16ff09 70px,#13ff0c 75px,#13ff0f 80px,#12ff11 85px,#12ff12 90px,#12ff11 95px,#13ff0f 100px,#13ff0c 105px,#15ff09 110px,#1aff09 115px,#20ff09 120px,#24ff09 125px,#27ff08 130px,#29ff08 135px,#28ff08 140px,#25ff08 145px,#2fff08 150px,#26ff08 155px,#25ff08 160px,#25ff08 165px,#32ff08 170px,#16ff09 175px,#21ff09 180px,#16ff09 183px)"></div>
<div style="position:absolute;left:0;top:36px;width:184px;height:2px;background:linear-gradient(90deg,#caf900 0px,#caf900 2px,#caf900 4px,#c8fa00 6px,#c0fd00 8px,#aaff01 10px,#8cff02 12px,#6eff04 14px,#55ff06 16px,#45ff07 18px,#40ff07 20px,#3fff07 25px,#3fff07 30px,#3fff07 35px,#3fff07 40px,#3fff07 45px,#3fff07 50px,#3fff07 55px,#3fff07 60px,#3fff07 65px,#3fff07 70px,#3eff07 75px,#3dff07 80px,#3cff07 85px,#3bff07 90px,#3cff07 95px,#3dff07 100px,#3eff07 105px,#3eff07 110px,#3dff07 115px,#3dff07 120px,#3cff07 125px,#3bff07 130px,#38ff07 135px,#35ff08 140px,#32ff08 145px,#32ff08 150px,#24ff09 155px,#32ff08 160px,#30ff08 165px,#2aff08 170px,#29ff08 175px,#21ff09 180px,#26ff08 183px)"></div>
<div style="position:absolute;left:0;top:38px;width:184px;height:2px;background:linear-gradient(90deg,#acff01 0px,#acff01 2px,#acff01 4px,#a7ff01 6px,#96ff02 8px,#7dff03 10px,#60ff05 12px,#42ff07 14px,#29ff08 16px,#19ff09 18px,#14ff09 20px,#13ff0a 25px,#13ff0a 30px,#13ff0a 35px,#13ff0a 40px,#13ff0a 45px,#13ff0a 50px,#13ff0a 55px,#13ff0a 60px,#13ff0a 65px,#13ff0a 70px,#13ff0a 75px,#13ff0a 80px,#13ff0a 85px,#13ff0a 90px,#13ff0a 95px,#13ff0a 100px,#13ff0a 105px,#14ff09 110px,#16ff09 115px,#19ff09 120px,#1dff09 125px,#22ff09 130px,#25ff08 135px,#29ff08 140px,#2cff08 145px,#24ff09 150px,#2cff08 155px,#20ff09 160px,#2cff08 165px,#2cff08 170px,#45ff07 175px,#19ff09 180px,#1dff09 183px)"></div>
<div style="position:absolute;left:0;top:40px;width:184px;height:2px;background:linear-gradient(90deg,#c2fc00 0px,#c2fc00 2px,#c2fc00 4px,#c0fd00 6px,#b2ff00 8px,#99ff02 10px,#7bff03 12px,#5eff05 14px,#44ff07 16px,#34ff08 18px,#30ff08 20px,#2fff08 25px,#2fff08 30px,#2fff08 35px,#2fff08 40px,#2fff08 45px,#2fff08 50px,#2fff08 55px,#2fff08 60px,#2fff08 65px,#2fff08 70px,#2fff08 75px,#2fff08 80px,#2fff08 85px,#2fff08 90px,#2fff08 95px,#2fff08 100px,#2eff08 105px,#2eff08 110px,#30ff08 115px,#34ff08 120px,#3aff07 125px,#3fff07 130px,#43ff07 135px,#45ff07 140px,#47ff06 145px,#3dff07 150px,#49ff06 155px,#36ff07 160px,#2bff08 165px,#37ff07 170px,#40ff07 175px,#2dff08 180px,#3eff07 183px)"></div>
<div style="position:absolute;left:0;top:42px;width:184px;height:2px;background:linear-gradient(90deg,#baff00 0px,#baff00 2px,#baff00 4px,#b5ff00 6px,#a5ff01 8px,#8bff02 10px,#6eff04 12px,#50ff06 14px,#37ff07 16px,#27ff08 18px,#22ff09 20px,#21ff09 25px,#21ff09 30px,#21ff09 35px,#21ff09 40px,#21ff09 45px,#21ff09 50px,#21ff09 55px,#21ff09 60px,#21ff09 65px,#21ff09 70px,#21ff09 75px,#21ff09 80px,#21ff09 85px,#21ff09 90px,#21ff09 95px,#21ff09 100px,#21ff09 105px,#22ff09 110px,#26ff08 115px,#2eff08 120px,#38ff07 125px,#42ff07 130px,#4aff06 135px,#4fff06 140px,#4fff06 145px,#5aff05 150px,#51ff06 155px,#5fff05 160px,#76ff04 165px,#4eff06 170px,#5bff05 175px,#77ff04 180px,#56ff06 183px)"></div>
<div style="position:absolute;left:0;top:44px;width:184px;height:2px;background:linear-gradient(90deg,#a4ff01 0px,#a4ff01 2px,#a4ff01 4px,#9fff01 6px,#8eff02 8px,#75ff04 10px,#58ff05 12px,#3aff07 14px,#21ff09 16px,#13ff0c 18px,#13ff10 20px,#12ff11 25px,#12ff11 30px,#12ff11 35px,#12ff11 40px,#12ff11 45px,#12ff11 50px,#12ff11 55px,#12ff11 60px,#12ff11 65px,#12ff11 70px,#12ff11 75px,#12ff11 80px,#12ff11 85px,#12ff11 90px,#12ff11 95px,#12ff11 100px,#12ff11 105px,#13ff10 110px,#13ff0a 115px,#20ff09 120px,#30ff08 125px,#3fff07 130px,#4dff06 135px,#53ff06 140px,#56ff06 145px,#63ff05 150px,#6aff04 155px,#79ff04 160px,#82ff03 165px,#86ff03 170px,#7fff03 175px,#8eff02 180px,#8fff02 183px)"></div>
<div style="position:absolute;left:0;top:46px;width:184px;height:2px;background:linear-gradient(90deg,#aaff01 0px,#aaff01 2px,#a9ff01 4px,#a4ff01 6px,#94ff02 8px,#7bff03 10px,#5dff05 12px,#40ff07 14px,#26ff08 16px,#16ff09 18px,#13ff0b 20px,#13ff0c 25px,#13ff0c 30px,#13ff0c 35px,#13ff0c 40px,#13ff0c 45px,#13ff0c 50px,#13ff0c 55px,#13ff0c 60px,#13ff0c 65px,#13ff0c 70px,#13ff0c 75px,#13ff0c 80px,#13ff0c 85px,#13ff0c 90px,#13ff0c 95px,#13ff0c 100px,#13ff0c 105px,#13ff0b 110px,#19ff09 115px,#29ff08 120px,#3dff07 125px,#51ff06 130px,#5fff05 135px,#67ff05 140px,#70ff04 145px,#83ff03 150px,#a0ff01 155px,#adff00 160px,#b1ff00 165px,#bbff00 170px,#b7ff00 175px,#b5ff00 180px,#c2fc00 183px)"></div>
<div style="position:absolute;left:0;top:48px;width:184px;height:2px;background:linear-gradient(90deg,#baff00 0px,#baff00 2px,#baff00 4px,#b5ff00 6px,#a4ff01 8px,#8bff02 10px,#6dff04 12px,#50ff06 14px,#37ff07 16px,#26ff08 18px,#22ff09 20px,#21ff09 25px,#21ff09 30px,#21ff09 35px,#21ff09 40px,#21ff09 45px,#21ff09 50px,#21ff09 55px,#21ff09 60px,#21ff09 65px,#21ff09 70px,#21ff09 75px,#21ff09 80px,#21ff09 85px,#21ff09 90px,#21ff09 95px,#21ff09 100px,#21ff09 105px,#22ff09 110px,#2aff08 115px,#3cff07 120px,#53ff06 125px,#69ff04 130px,#79ff04 135px,#81ff03 140px,#8dff02 145px,#a9ff01 150px,#befe00 155px,#cbf800 160px,#d5f300 165px,#cdf700 170px,#d8f200 175px,#dbf100 180px,#dbf100 183px)"></div>
<div style="position:absolute;left:0;top:50px;width:184px;height:2px;background:linear-gradient(90deg,#cff700 0px,#cff700 2px,#cff700 4px,#ccf800 6px,#c4fb00 8px,#b3ff00 10px,#95ff02 12px,#78ff04 14px,#5eff05 16px,#4eff06 18px,#4aff06 20px,#49ff06 25px,#49ff06 30px,#49ff06 35px,#49ff06 40px,#49ff06 45px,#49ff06 50px,#49ff06 55px,#49ff06 60px,#49ff06 65px,#49ff06 70px,#49ff06 75px,#49ff06 80px,#49ff06 85px,#49ff06 90px,#49ff06 95px,#49ff06 100px,#48ff06 105px,#48ff06 110px,#4fff06 115px,#62ff05 120px,#79ff04 125px,#8fff02 130px,#a0ff01 135px,#a5ff01 140px,#b0ff00 145px,#c3fc00 150px,#d3f500 155px,#e0ef00 160px,#e8eb00 165px,#f5e500 170px,#f3e600 175px,#f7e400 180px,#f7e400 183px)"></div>
<div style="position:absolute;left:0;top:52px;width:184px;height:2px;background:linear-gradient(90deg,#c6fb00 0px,#c6fb00 2px,#c6fb00 4px,#c3fc00 6px,#b9ff00 8px,#a0ff01 10px,#82ff03 12px,#65ff05 14px,#4cff06 16px,#3bff07 18px,#37ff07 20px,#36ff07 25px,#36ff07 30px,#36ff07 35px,#36ff07 40px,#36ff07 45px,#36ff07 50px,#36ff07 55px,#36ff07 60px,#36ff07 65px,#36ff07 70px,#36ff07 75px,#36ff07 80px,#36ff07 85px,#36ff07 90px,#36ff07 95px,#36ff07 100px,#36ff07 105px,#36ff07 110px,#3fff07 115px,#54ff06 120px,#6fff04 125px,#89ff03 130px,#9bff02 135px,#a5ff01 140px,#b3ff00 145px,#caf900 150px,#ddf000 155px,#f0e700 160px,#f8e400 165px,#ffdc00 170px,#f6e500 175px,#f2e600 180px,#fce200 183px)"></div>
<div style="position:absolute;left:0;top:54px;width:184px;height:2px;background:linear-gradient(90deg,#b8ff00 0px,#b8ff00 2px,#b7ff00 4px,#b2ff00 6px,#a2ff01 8px,#89ff03 10px,#6bff04 12px,#4eff06 14px,#34ff08 16px,#24ff09 18px,#20ff09 20px,#1fff09 25px,#1fff09 30px,#1fff09 35px,#1fff09 40px,#1fff09 45px,#1fff09 50px,#1fff09 55px,#1fff09 60px,#1fff09 65px,#1fff09 70px,#1fff09 75px,#1fff09 80px,#1fff09 85px,#1fff09 90px,#1fff09 95px,#1fff09 100px,#1fff09 105px,#20ff09 110px,#2aff08 115px,#41ff07 120px,#5eff05 125px,#7bff03 130px,#90ff02 135px,#98ff02 140px,#adff00 145px,#c5fb00 150px,#e1ee00 155px,#fae300 160px,#ffde00 165px,#ffd800 170px,#ffd300 175px,#ffd300 180px,#ffcf00 183px)"></div>
<div style="position:absolute;left:0;top:56px;width:184px;height:2px;background:linear-gradient(90deg,#c7fa00 0px,#c7fa00 2px,#c7fa00 4px,#c5fb00 6px,#bcff00 8px,#a3ff01 10px,#86ff03 12px,#68ff05 14px,#4fff06 16px,#3fff07 18px,#3aff07 20px,#39ff07 25px,#39ff07 30px,#39ff07 35px,#39ff07 40px,#39ff07 45px,#39ff07 50px,#39ff07 55px,#39ff07 60px,#39ff07 65px,#39ff07 70px,#39ff07 75px,#39ff07 80px,#39ff07 85px,#39ff07 90px,#39ff07 95px,#39ff07 100px,#39ff07 105px,#39ff07 110px,#42ff07 115px,#58ff05 120px,#73ff04 125px,#8eff02 130px,#a1ff01 135px,#a7ff01 140px,#bdff00 145px,#d1f500 150px,#ece900 155px,#ffdc00 160px,#ffd100 165px,#ffd200 170px,#ffd000 175px,#ffc600 180px,#ffcb00 183px)"></div>
<div style="position:absolute;left:0;top:58px;width:184px;height:2px;background:linear-gradient(90deg,#adff00 0px,#adff00 2px,#adff00 4px,#a8ff01 6px,#97ff02 8px,#7eff03 10px,#61ff05 12px,#43ff07 14px,#2aff08 16px,#1aff09 18px,#15ff09 20px,#14ff09 25px,#14ff09 30px,#14ff09 35px,#14ff09 40px,#14ff09 45px,#14ff09 50px,#14ff09 55px,#14ff09 60px,#14ff09 65px,#14ff09 70px,#14ff09 75px,#14ff09 80px,#14ff09 85px,#14ff09 90px,#14ff09 95px,#14ff09 100px,#15ff09 105px,#16ff09 110px,#21ff09 115px,#38ff07 120px,#56ff06 125px,#73ff04 130px,#89ff03 135px,#93ff02 140px,#abff01 145px,#cff700 150px,#eaea00 155px,#fde100 160px,#ffce00 165px,#ffd300 170px,#ffc900 175px,#ffd000 180px,#ffc600 183px)"></div>
<div style="position:absolute;left:0;top:60px;width:184px;height:2px;background:linear-gradient(90deg,#c2fd00 0px,#c2fd00 2px,#c2fd00 4px,#bffe00 6px,#b1ff00 8px,#98ff02 10px,#7aff03 12px,#5dff05 14px,#43ff07 16px,#33ff08 18px,#2eff08 20px,#2eff08 25px,#2eff08 30px,#2eff08 35px,#2eff08 40px,#2eff08 45px,#2eff08 50px,#2eff08 55px,#2eff08 60px,#2eff08 65px,#2eff08 70px,#2eff08 75px,#2eff08 80px,#2eff08 85px,#2eff08 90px,#2eff08 95px,#2eff08 100px,#2dff08 105px,#2eff08 110px,#38ff07 115px,#4eff06 120px,#6aff04 125px,#85ff03 130px,#99ff02 135px,#a2ff01 140px,#b8ff00 145px,#d2f500 150px,#efe700 155px,#ffdc00 160px,#ffc300 165px,#ffc500 170px,#ffc000 175px,#ffc100 180px,#ffbc00 183px)"></div>
<div style="position:absolute;left:0;top:62px;width:184px;height:2px;background:linear-gradient(90deg,#b6ff00 0px,#b6ff00 2px,#b6ff00 4px,#b0ff00 6px,#a0ff01 8px,#87ff03 10px,#69ff04 12px,#4cff06 14px,#33ff08 16px,#22ff09 18px,#1eff09 20px,#1dff09 25px,#1dff09 30px,#1dff09 35px,#1dff09 40px,#1dff09 45px,#1dff09 50px,#1dff09 55px,#1dff09 60px,#1dff09 65px,#1dff09 70px,#1dff09 75px,#1dff09 80px,#1dff09 85px,#1dff09 90px,#1dff09 95px,#1dff09 100px,#1dff09 105px,#1eff09 110px,#28ff08 115px,#40ff07 120px,#5dff05 125px,#79ff04 130px,#8eff02 135px,#98ff02 140px,#adff00 145px,#ccf800 150px,#e1ee00 155px,#ffde00 160px,#ffce00 165px,#ffc700 170px,#ffca00 175px,#ffcb00 180px,#ffc000 183px)"></div>
<div style="position:absolute;left:0;top:64px;width:184px;height:2px;background:linear-gradient(90deg,#b4ff00 0px,#b4ff00 2px,#b4ff00 4px,#afff00 6px,#9fff01 8px,#85ff03 10px,#68ff05 12px,#4aff06 14px,#31ff08 16px,#21ff09 18px,#1cff09 20px,#1bff09 25px,#1bff09 30px,#1bff09 35px,#1bff09 40px,#1bff09 45px,#1bff09 50px,#1bff09 55px,#1bff09 60px,#1bff09 65px,#1bff09 70px,#1bff09 75px,#1bff09 80px,#1bff09 85px,#1bff09 90px,#1bff09 95px,#1bff09 100px,#1cff09 105px,#1cff09 110px,#27ff08 115px,#3eff07 120px,#5cff05 125px,#78ff04 130px,#8eff02 135px,#9aff02 140px,#b2ff00 145px,#cdf700 150px,#eee800 155px,#ffda00 160px,#ffcd00 165px,#ffc300 170px,#ffcf00 175px,#ffd700 180px,#ffd800 183px)"></div>
<div style="position:absolute;left:0;top:66px;width:184px;height:2px;background:linear-gradient(90deg,#c2fd00 0px,#c2fd00 2px,#c1fd00 4px,#bffe00 6px,#b0ff00 8px,#97ff02 10px,#79ff04 12px,#5cff05 14px,#43ff07 16px,#32ff08 18px,#2eff08 20px,#2dff08 25px,#2dff08 30px,#2dff08 35px,#2dff08 40px,#2dff08 45px,#2dff08 50px,#2dff08 55px,#2dff08 60px,#2dff08 65px,#2dff08 70px,#2dff08 75px,#2dff08 80px,#2dff08 85px,#2dff08 90px,#2dff08 95px,#2dff08 100px,#2dff08 105px,#2dff08 110px,#37ff07 115px,#4dff06 120px,#6aff04 125px,#85ff03 130px,#99ff02 135px,#a1ff01 140px,#b9ff00 145px,#cff600 150px,#eee800 155px,#ffd500 160px,#ffcc00 165px,#ffbf00 170px,#ffcd00 175px,#ffbe00 180px,#ffc400 183px)"></div>
<div style="position:absolute;left:0;top:68px;width:184px;height:2px;background:linear-gradient(90deg,#bdff00 0px,#bdff00 2px,#bdff00 4px,#b8ff00 6px,#a7ff01 8px,#8eff02 10px,#70ff04 12px,#53ff06 14px,#3aff07 16px,#29ff08 18px,#25ff08 20px,#24ff09 25px,#24ff09 30px,#24ff09 35px,#24ff09 40px,#24ff09 45px,#24ff09 50px,#24ff09 55px,#24ff09 60px,#24ff09 65px,#24ff09 70px,#24ff09 75px,#24ff09 80px,#24ff09 85px,#24ff09 90px,#24ff09 95px,#24ff09 100px,#24ff09 105px,#25ff08 110px,#2fff08 115px,#46ff07 120px,#62ff05 125px,#7eff03 130px,#93ff02 135px,#9eff01 140px,#b6ff00 145px,#ccf800 150px,#eee800 155px,#ffdd00 160px,#ffc800 165px,#ffce00 170px,#ffce00 175px,#ffce00 180px,#ffcd00 183px)"></div>
<div style="position:absolute;left:0;top:70px;width:184px;height:2px;background:linear-gradient(90deg,#cbf800 0px,#cbf800 2px,#cbf800 4px,#c9f900 6px,#c1fd00 8px,#abff01 10px,#8eff02 12px,#70ff04 14px,#57ff06 16px,#47ff06 18px,#42ff07 20px,#41ff07 25px,#41ff07 30px,#41ff07 35px,#41ff07 40px,#41ff07 45px,#41ff07 50px,#41ff07 55px,#41ff07 60px,#41ff07 65px,#41ff07 70px,#41ff07 75px,#41ff07 80px,#41ff07 85px,#41ff07 90px,#41ff07 95px,#41ff07 100px,#41ff07 105px,#40ff07 110px,#4aff06 115px,#5fff05 120px,#79ff04 125px,#93ff02 130px,#a6ff01 135px,#afff00 140px,#befe00 145px,#d2f500 150px,#ebea00 155px,#ffd300 160px,#ffc900 165px,#ffc500 170px,#ffc100 175px,#ffcb00 180px,#ffd100 183px)"></div>
<div style="position:absolute;left:0;top:72px;width:184px;height:2px;background:linear-gradient(90deg,#c1fd00 0px,#c1fd00 2px,#c1fd00 4px,#bffe00 6px,#afff00 8px,#96ff02 10px,#79ff04 12px,#5bff05 14px,#42ff07 16px,#32ff08 18px,#2dff08 20px,#2cff08 25px,#2cff08 30px,#2cff08 35px,#2cff08 40px,#2cff08 45px,#2cff08 50px,#2cff08 55px,#2cff08 60px,#2cff08 65px,#2cff08 70px,#2cff08 75px,#2cff08 80px,#2cff08 85px,#2cff08 90px,#2cff08 95px,#2cff08 100px,#2cff08 105px,#2cff08 110px,#36ff07 115px,#4dff06 120px,#69ff04 125px,#84ff03 130px,#99ff02 135px,#a2ff01 140px,#bcff00 145px,#cff700 150px,#e7eb00 155px,#ffd900 160px,#ffc600 165px,#ffca00 170px,#ffc800 175px,#ffc800 180px,#ffdb00 183px)"></div>
<div style="position:absolute;left:0;top:74px;width:184px;height:2px;background:linear-gradient(90deg,#d2f500 0px,#d2f500 2px,#d2f500 4px,#d0f600 6px,#c8fa00 8px,#baff00 10px,#9cff01 12px,#7fff03 14px,#66ff05 16px,#55ff06 18px,#51ff06 20px,#50ff06 25px,#50ff06 30px,#50ff06 35px,#50ff06 40px,#50ff06 45px,#4fff06 50px,#4fff06 55px,#4fff06 60px,#4fff06 65px,#4fff06 70px,#4fff06 75px,#4fff06 80px,#4fff06 85px,#4fff06 90px,#4fff06 95px,#4fff06 100px,#4fff06 105px,#4eff06 110px,#57ff06 115px,#6bff04 120px,#85ff03 125px,#9eff01 130px,#afff00 135px,#b6ff00 140px,#c2fc00 145px,#d7f300 150px,#f8e400 155px,#ffd700 160px,#ffc800 165px,#ffc000 170px,#ffc900 175px,#ffc600 180px,#ffc500 183px)"></div>
<div style="position:absolute;left:0;top:76px;width:184px;height:2px;background:linear-gradient(90deg,#b6ff00 0px,#b6ff00 2px,#b6ff00 4px,#b1ff00 6px,#a1ff01 8px,#87ff03 10px,#6aff04 12px,#4cff06 14px,#33ff08 16px,#23ff09 18px,#1eff09 20px,#1dff09 25px,#1dff09 30px,#1dff09 35px,#1dff09 40px,#1dff09 45px,#1cff09 50px,#1cff09 55px,#1cff09 60px,#1cff09 65px,#1cff09 70px,#1bff09 75px,#1bff09 80px,#1bff09 85px,#1bff09 90px,#1cff09 95px,#1cff09 100px,#1cff09 105px,#1dff09 110px,#28ff08 115px,#3fff07 120px,#5dff05 125px,#79ff04 130px,#8eff02 135px,#99ff02 140px,#afff00 145px,#cef700 150px,#e9eb00 155px,#ffe000 160px,#ffc600 165px,#ffc500 170px,#ffcd00 175px,#ffc800 180px,#ffda00 183px)"></div>
<div style="position:absolute;left:0;top:78px;width:184px;height:2px;background:linear-gradient(90deg,#c0fd00 0px,#c0fd00 2px,#c0fd00 4px,#befe00 6px,#aeff00 8px,#95ff02 10px,#77ff04 12px,#5aff05 14px,#40ff07 16px,#30ff08 18px,#2bff08 20px,#2aff08 25px,#2aff08 30px,#2aff08 35px,#2aff08 40px,#29ff08 45px,#29ff08 50px,#29ff08 55px,#28ff08 60px,#28ff08 65px,#28ff08 70px,#27ff08 75px,#27ff08 80px,#27ff08 85px,#27ff08 90px,#28ff08 95px,#28ff08 100px,#28ff08 105px,#29ff08 110px,#33ff08 115px,#4aff06 120px,#66ff05 125px,#82ff03 130px,#97ff02 135px,#9fff01 140px,#b6ff00 145px,#d1f500 150px,#ece900 155px,#ffd600 160px,#ffce00 165px,#ffc800 170px,#ffce00 175px,#ffc400 180px,#ffc200 183px)"></div>
<div style="position:absolute;left:0;top:80px;width:184px;height:2px;background:linear-gradient(90deg,#bffe00 0px,#bffe00 2px,#bffe00 4px,#bcff00 6px,#acff01 8px,#92ff02 10px,#75ff04 12px,#57ff06 14px,#3eff07 16px,#2eff08 18px,#29ff08 20px,#28ff08 25px,#28ff08 30px,#27ff08 35px,#27ff08 40px,#26ff08 45px,#25ff08 50px,#25ff08 55px,#24ff09 60px,#24ff09 65px,#23ff09 70px,#23ff09 75px,#23ff09 80px,#23ff09 85px,#23ff09 90px,#24ff09 95px,#24ff09 100px,#24ff09 105px,#26ff08 110px,#30ff08 115px,#47ff06 120px,#64ff05 125px,#80ff03 130px,#95ff02 135px,#9fff01 140px,#b6ff00 145px,#d1f500 150px,#ece900 155px,#ffdd00 160px,#ffcb00 165px,#ffc500 170px,#ffc600 175px,#ffbf00 180px,#ffc600 183px)"></div>
<div style="position:absolute;left:0;top:82px;width:184px;height:2px;background:linear-gradient(90deg,#b1ff00 0px,#b1ff00 2px,#b1ff00 4px,#acff01 6px,#9bff02 8px,#82ff03 10px,#64ff05 12px,#47ff06 14px,#2eff08 16px,#1dff09 18px,#19ff09 20px,#17ff09 25px,#17ff09 30px,#16ff09 35px,#15ff09 40px,#14ff09 45px,#13ff0a 50px,#13ff0b 55px,#13ff0c 60px,#13ff0c 65px,#13ff0d 70px,#13ff0d 75px,#13ff0d 80px,#13ff0d 85px,#13ff0d 90px,#13ff0c 95px,#13ff0c 100px,#13ff0b 105px,#14ff09 110px,#20ff09 115px,#38ff07 120px,#56ff06 125px,#73ff04 130px,#89ff03 135px,#94ff02 140px,#a9ff01 145px,#cef700 150px,#eaea00 155px,#ffd900 160px,#ffcf00 165px,#ffce00 170px,#ffc300 175px,#ffd200 180px,#ffc300 183px)"></div>
<div style="position:absolute;left:0;top:84px;width:184px;height:2px;background:linear-gradient(90deg,#bdff00 0px,#bdff00 2px,#bdff00 4px,#b7ff00 6px,#a7ff01 8px,#8dff02 10px,#70ff04 12px,#52ff06 14px,#39ff07 16px,#28ff08 18px,#23ff09 20px,#22ff09 25px,#21ff09 30px,#20ff09 35px,#1eff09 40px,#1dff09 45px,#1bff09 50px,#1aff09 55px,#18ff09 60px,#17ff09 65px,#16ff09 70px,#16ff09 75px,#16ff09 80px,#16ff09 85px,#17ff09 90px,#18ff09 95px,#19ff09 100px,#1aff09 105px,#1cff09 110px,#28ff08 115px,#40ff07 120px,#5dff05 125px,#7aff03 130px,#91ff02 135px,#99ff02 140px,#aeff00 145px,#cbf800 150px,#e5ec00 155px,#ffdd00 160px,#ffd000 165px,#ffc800 170px,#ffc900 175px,#ffcd00 180px,#ffc900 183px)"></div>
<div style="position:absolute;left:0;top:86px;width:184px;height:2px;background:linear-gradient(90deg,#a1ff01 0px,#a1ff01 2px,#a0ff01 4px,#9bff02 6px,#8aff03 8px,#70ff04 10px,#53ff06 12px,#35ff08 14px,#1cff09 16px,#12ff11 18px,#12ff16 20px,#11ff18 25px,#11ff1a 30px,#11ff1c 35px,#11ff1e 40px,#10ff20 45px,#10ff23 50px,#10ff25 55px,#0fff27 60px,#0fff28 65px,#0fff29 70px,#0fff2a 75px,#0fff29 80px,#0fff29 85px,#0fff28 90px,#0fff26 95px,#10ff24 100px,#10ff21 105px,#11ff1e 110px,#12ff11 115px,#25ff08 120px,#45ff07 125px,#64ff05 130px,#7cff03 135px,#8aff03 140px,#a4ff01 145px,#c6fa00 150px,#e8eb00 155px,#ffdf00 160px,#ffce00 165px,#ffd300 170px,#ffc300 175px,#ffc600 180px,#ffce00 183px)"></div>
<div style="position:absolute;left:0;top:88px;width:184px;height:2px;background:linear-gradient(90deg,#c8fa00 0px,#c8fa00 2px,#c7fa00 4px,#c4fb00 6px,#baff00 8px,#a0ff01 10px,#82ff03 12px,#65ff05 14px,#4cff06 16px,#3bff07 18px,#35ff08 20px,#31ff08 25px,#2dff08 30px,#29ff08 35px,#25ff08 40px,#20ff09 45px,#1cff09 50px,#19ff09 55px,#16ff09 60px,#14ff09 65px,#13ff0a 70px,#13ff0b 75px,#13ff0a 80px,#15ff09 85px,#17ff09 90px,#1bff09 95px,#1fff09 100px,#23ff09 105px,#27ff08 110px,#34ff08 115px,#4cff06 120px,#69ff04 125px,#86ff03 130px,#9dff01 135px,#a8ff01 140px,#bbff00 145px,#d2f500 150px,#f2e600 155px,#ffd700 160px,#ffc600 165px,#ffc600 170px,#ffd100 175px,#ffc700 180px,#ffc700 183px)"></div>
<div style="position:absolute;left:0;top:90px;width:184px;height:2px;background:linear-gradient(90deg,#b0ff00 0px,#aeff00 2px,#abff01 4px,#a3ff01 6px,#91ff02 8px,#77ff04 10px,#5aff05 12px,#3dff07 14px,#24ff09 16px,#14ff09 18px,#13ff0f 20px,#12ff15 25px,#11ff1b 30px,#10ff21 35px,#0fff26 40px,#0fff2c 45px,#0eff31 50px,#0dff35 55px,#0dff38 60px,#0cff3b 65px,#0cff3c 70px,#0cff3c 75px,#0cff3b 80px,#0dff39 85px,#0dff35 90px,#0eff30 95px,#0fff2b 100px,#10ff25 105px,#11ff1e 110px,#13ff0f 115px,#28ff08 120px,#49ff06 125px,#6aff04 130px,#85ff03 135px,#93ff02 140px,#acff01 145px,#cef700 150px,#e7eb00 155px,#ffde00 160px,#ffd500 165px,#ffcb00 170px,#ffc300 175px,#ffd200 180px,#ffc100 183px)"></div>
<div style="position:absolute;left:0;top:92px;width:184px;height:2px;background:linear-gradient(90deg,#a0ff01 0px,#9cff01 2px,#97ff02 4px,#8dff02 6px,#7bff03 8px,#61ff05 10px,#45ff07 12px,#2aff08 14px,#13ff0a 16px,#11ff18 18px,#11ff1e 20px,#0fff26 25px,#0eff2d 30px,#0dff34 35px,#0cff3b 40px,#0cff41 45px,#0bff47 50px,#0aff4b 55px,#0aff4f 60px,#09ff52 65px,#09ff53 70px,#09ff53 75px,#09ff52 80px,#09ff50 85px,#0aff4c 90px,#0bff46 95px,#0cff40 100px,#0dff38 105px,#0eff2f 110px,#10ff20 115px,#16ff09 120px,#38ff07 125px,#5bff05 130px,#79ff04 135px,#89ff03 140px,#a6ff01 145px,#c9f900 150px,#e8eb00 155px,#ffda00 160px,#ffc600 165px,#ffc000 170px,#ffd400 175px,#ffcb00 180px,#ffc600 183px)"></div>
<div style="position:absolute;left:0;top:94px;width:184px;height:2px;background:linear-gradient(90deg,#a3ff01 0px,#9eff01 2px,#97ff02 4px,#8cff02 6px,#7aff03 8px,#61ff05 10px,#48ff06 12px,#2fff08 14px,#1bff09 16px,#13ff10 18px,#12ff15 20px,#11ff1e 25px,#0fff26 30px,#0eff2e 35px,#0dff35 40px,#0cff3b 45px,#0cff41 50px,#0bff46 55px,#0aff4a 60px,#0aff4d 65px,#0aff4f 70px,#0aff4f 75px,#0aff4e 80px,#0aff4c 85px,#0bff48 90px,#0bff42 95px,#0cff3b 100px,#0dff34 105px,#0fff2b 110px,#11ff1c 115px,#18ff09 120px,#38ff07 125px,#5bff05 130px,#79ff04 135px,#8bff02 140px,#a9ff01 145px,#ccf800 150px,#ede900 155px,#ffd900 160px,#ffd000 165px,#ffcc00 170px,#ffbd00 175px,#ffbf00 180px,#ffca00 183px)"></div>
<div style="position:absolute;left:0;top:96px;width:184px;height:2px;background:linear-gradient(90deg,#65ff05 0px,#5fff05 2px,#57ff06 4px,#4cff06 6px,#3aff07 8px,#25ff08 10px,#13ff0f 12px,#10ff23 14px,#0eff33 16px,#0cff3e 18px,#0bff44 20px,#0aff4d 25px,#09ff55 30px,#08ff5d 35px,#06ff65 40px,#06ff6b 45px,#05ff72 50px,#04ff77 55px,#03ff7c 60px,#03ff7f 65px,#02ff81 70px,#02ff82 75px,#02ff81 80px,#03ff7e 85px,#03ff7a 90px,#04ff74 95px,#05ff6d 100px,#06ff65 105px,#08ff5b 110px,#0aff4b 115px,#0eff33 120px,#12ff14 125px,#2eff08 130px,#50ff06 135px,#6dff04 140px,#8aff03 145px,#c8fa00 150px,#dfef00 155px,#fae200 160px,#ffd400 165px,#ffca00 170px,#ffca00 175px,#ffd100 180px,#ffd000 183px)"></div>
<div style="position:absolute;left:0;top:98px;width:184px;height:2px;background:linear-gradient(90deg,#51ff06 0px,#4bff06 2px,#43ff07 4px,#38ff07 6px,#28ff08 8px,#15ff09 10px,#11ff1a 12px,#0fff2b 14px,#0dff3a 16px,#0bff44 18px,#0aff4a 20px,#09ff53 25px,#08ff5c 30px,#06ff65 35px,#05ff6d 40px,#04ff75 45px,#03ff7c 50px,#02ff83 55px,#01ff88 60px,#01ff8c 65px,#01ff8e 70px,#00ff8f 75px,#01ff8d 80px,#01ff8a 85px,#02ff86 90px,#03ff7f 95px,#04ff78 100px,#05ff6e 105px,#07ff64 110px,#09ff54 115px,#0cff3c 120px,#11ff1d 125px,#23ff09 130px,#47ff06 135px,#63ff05 140px,#8aff03 145px,#c2fd00 150px,#deef00 155px,#ffdf00 160px,#ffdc00 165px,#ffc800 170px,#ffc400 175px,#ffbf00 180px,#ffbe00 183px)"></div>
<div style="position:absolute;left:0;top:100px;width:184px;height:2px;background:linear-gradient(90deg,#3cff07 0px,#36ff07 2px,#2eff08 4px,#24ff09 6px,#16ff09 8px,#12ff17 10px,#0fff27 12px,#0dff36 14px,#0bff43 16px,#0aff4d 18px,#09ff52 20px,#08ff5d 25px,#06ff68 30px,#05ff72 35px,#03ff7c 40px,#02ff86 45px,#00ff8f 50px,#00fe96 55px,#00fc9b 60px,#00fb9e 65px,#00faa0 70px,#00faa0 75px,#00fb9f 80px,#00fc9b 85px,#00fe97 90px,#00ff90 95px,#02ff86 100px,#03ff7b 105px,#05ff6f 110px,#07ff5e 115px,#0bff45 120px,#0fff26 125px,#1bff09 130px,#40ff07 135px,#5eff05 140px,#82ff03 145px,#c1fd00 150px,#e4ed00 155px,#ffd900 160px,#ffd400 165px,#ffc700 170px,#ffc900 175px,#ffc800 180px,#ffce00 183px)"></div>
<div style="position:absolute;left:0;top:102px;width:184px;height:2px;background:linear-gradient(90deg,#37ff07 0px,#32ff08 2px,#2aff08 4px,#21ff09 6px,#14ff09 8px,#12ff17 10px,#10ff25 12px,#0eff33 14px,#0cff3f 16px,#0bff48 18px,#0aff4e 20px,#08ff5c 25px,#06ff69 30px,#04ff76 35px,#02ff83 40px,#00ff8f 45px,#00fd99 50px,#00faa1 55px,#00f8a7 60px,#00f7aa 65px,#00f6ac 70px,#00f6ab 75px,#00f7a9 80px,#00f9a4 85px,#00fb9d 90px,#00fe96 95px,#01ff8a 100px,#03ff7d 105px,#05ff6f 110px,#08ff5c 115px,#0cff41 120px,#10ff21 125px,#22ff09 130px,#47ff06 135px,#64ff05 140px,#8fff02 145px,#c2fd00 150px,#e1ee00 155px,#ffd800 160px,#ffce00 165px,#ffcb00 170px,#ffc500 175px,#ffcb00 180px,#ffc900 183px)"></div>
<div style="position:absolute;left:0;top:104px;width:184px;height:2px;background:linear-gradient(90deg,#13ff0e 0px,#12ff13 2px,#11ff19 4px,#10ff21 6px,#0fff2c 8px,#0dff38 10px,#0bff44 12px,#09ff51 14px,#08ff5c 16px,#06ff65 18px,#05ff6c 20px,#03ff7c 25px,#01ff8d 30px,#00fc9c 35px,#00f7a9 40px,#00f2b6 45px,#00eec1 50px,#00eacb 55px,#00e8d2 60px,#00e6d6 65px,#00e5d7 70px,#00e6d5 75px,#00e8d1 80px,#00ebca 85px,#00eec0 90px,#00f2b6 95px,#00f7aa 100px,#00fc9d 105px,#01ff8e 110px,#04ff77 115px,#08ff58 120px,#0eff33 125px,#13ff0b 130px,#3bff07 135px,#59ff05 140px,#7eff03 145px,#c0fd00 150px,#ddf000 155px,#f6e500 160px,#ffd500 165px,#ffc600 170px,#ffc500 175px,#ffbd00 180px,#ffbc00 183px)"></div>
<div style="position:absolute;left:0;top:106px;width:184px;height:2px;background:linear-gradient(90deg,#27ff08 0px,#23ff09 2px,#1dff09 4px,#15ff09 6px,#12ff11 8px,#11ff1b 10px,#10ff25 12px,#0eff30 14px,#0dff3a 16px,#0bff44 18px,#0aff4c 20px,#07ff61 25px,#04ff77 30px,#01ff8e 35px,#00faa2 40px,#00f4b2 45px,#00eec1 50px,#00eacc 55px,#00e7d4 60px,#00e5d8 65px,#00e5d9 70px,#00e6d5 75px,#00e9ce 80px,#00edc4 85px,#00f2b7 90px,#00f7a9 95px,#00fd99 100px,#02ff86 105px,#05ff71 110px,#08ff59 115px,#0dff39 120px,#12ff14 125px,#33ff08 130px,#58ff05 135px,#73ff04 140px,#94ff02 145px,#c2fc00 150px,#e3ed00 155px,#ffdc00 160px,#ffc700 165px,#ffc200 170px,#ffbf00 175px,#ffb000 180px,#ffb200 183px)"></div>
<div style="position:absolute;left:0;top:108px;width:184px;height:2px;background:linear-gradient(90deg,#0fff26 0px,#0fff2a 2px,#0eff2f 4px,#0dff35 6px,#0cff3d 8px,#0bff45 10px,#0aff4e 12px,#08ff58 14px,#07ff61 16px,#06ff6b 18px,#04ff75 20px,#00ff8f 25px,#00f8a7 30px,#00efbe 35px,#00e6d5 40px,#00dfe9 45px,#00d8fa 50px,#00d1ff 55px,#00cbff 60px,#00c9ff 65px,#00caff 70px,#00cdff 75px,#00d4ff 80px,#00daf5 85px,#00e0e5 90px,#00e7d2 95px,#00efbf 100px,#00f6ab 105px,#00fe98 110px,#03ff7b 115px,#09ff56 120px,#0eff2d 125px,#1bff09 130px,#43ff07 135px,#5dff05 140px,#83ff03 145px,#c0fd00 150px,#e0ee00 155px,#ffe000 160px,#ffd100 165px,#ffcd00 170px,#ffaf00 175px,#ffb100 180px,#ffa600 183px)"></div>
<div style="position:absolute;left:0;top:110px;width:184px;height:2px;background:linear-gradient(90deg,#20ff09 0px,#1cff09 2px,#16ff09 4px,#13ff0d 6px,#12ff15 8px,#11ff1c 10px,#10ff25 12px,#0eff2f 14px,#0dff39 16px,#0bff45 18px,#09ff51 20px,#04ff73 25px,#00fe97 30px,#00f3b4 35px,#00e9ce 40px,#00e0e5 45px,#00d9f7 50px,#00d3ff 55px,#00ceff 60px,#00cdff 65px,#00cfff 70px,#00d4ff 75px,#00d9f7 80px,#00dfe9 85px,#00e6d7 90px,#00edc3 95px,#00f6ad 100px,#00ff95 105px,#04ff76 110px,#09ff55 115px,#0eff2f 120px,#17ff09 125px,#42ff07 130px,#66ff05 135px,#7dff03 140px,#a0ff01 145px,#caf900 150px,#ebe900 155px,#ffd900 160px,#ffc500 165px,#ffba00 170px,#ffb200 175px,#ffa000 180px,#ff9c00 183px)"></div>
<div style="position:absolute;left:0;top:112px;width:184px;height:2px;background:linear-gradient(90deg,#13ff0c 0px,#12ff11 2px,#12ff17 4px,#10ff1f 6px,#0fff27 8px,#0eff31 10px,#0cff3b 12px,#0bff47 14px,#09ff54 16px,#07ff63 18px,#05ff72 20px,#00fd9a 25px,#00f0bc 30px,#00e4dc 35px,#00d9f8 40px,#00cbff 45px,#00c0ff 50px,#00b8ff 55px,#00b5ff 60px,#00b5ff 65px,#00b7ff 70px,#00bdff 75px,#00c4ff 80px,#00cdff 85px,#00d7fe 90px,#00deec 95px,#00e6d6 100px,#00f0ba 105px,#00fc9c 110px,#05ff71 115px,#0bff42 120px,#12ff13 125px,#38ff07 130px,#5eff05 135px,#7bff03 140px,#9fff01 145px,#c8fa00 150px,#e7eb00 155px,#ffd700 160px,#ffc200 165px,#ffae00 170px,#ffaa00 175px,#ff8d00 180px,#ff9200 183px)"></div>
<div style="position:absolute;left:0;top:114px;width:184px;height:2px;background:linear-gradient(90deg,#0bff44 0px,#0aff49 2px,#09ff51 4px,#08ff5b 6px,#06ff66 8px,#05ff72 10px,#03ff7f 12px,#01ff8e 14px,#00fc9c 16px,#00f7aa 18px,#00f1b8 20px,#00e3dd 25px,#00d4ff 30px,#00bcff 35px,#00a9ff 40px,#009bff 45px,#0092ff 50px,#008cff 55px,#008bff 60px,#008cff 65px,#0090ff 70px,#0095ff 75px,#009bff 80px,#00a1ff 85px,#00a7ff 90px,#00aeff 95px,#00bbff 100px,#00ceff 105px,#00e1e4 110px,#00f2b6 115px,#03ff80 120px,#0bff43 125px,#13ff0f 130px,#3bff07 135px,#5aff05 140px,#7fff03 145px,#befe00 150px,#e2ee00 155px,#ffd900 160px,#ffc400 165px,#ffb300 170px,#ff9f00 175px,#ff9b00 180px,#ff9100 183px)"></div>
<div style="position:absolute;left:0px;top:116px;width:2px;height:42px;background:linear-gradient(180deg,#14ff09 0px,#0bff48 4px,#0aff4b 8px,#09ff54 12px,#09ff54 16px,#0cff3d 20px,#0fff28 24px,#6fff04 28px,#e2ed00 32px,#ffb300 36px,#ff7700 40px,#ff7500 41px)"></div>
<div style="position:absolute;left:2px;top:116px;width:2px;height:42px;background:linear-gradient(180deg,#12ff12 0px,#09ff55 4px,#08ff5b 8px,#07ff63 12px,#07ff5e 16px,#0cff40 20px,#11ff1c 24px,#93ff02 28px,#ffde00 32px,#ff8900 36px,#ff5300 40px,#ff5000 41px)"></div>
<div style="position:absolute;left:4px;top:116px;width:2px;height:42px;background:linear-gradient(180deg,#11ff1c 0px,#07ff64 4px,#05ff6d 8px,#04ff76 12px,#05ff6d 16px,#0bff46 20px,#10ff23 24px,#83ff03 28px,#fae300 32px,#ff8f00 36px,#ff5c00 40px,#ff5900 41px)"></div>
<div style="position:absolute;left:6px;top:116px;width:2px;height:42px;background:linear-gradient(180deg,#0fff29 0px,#04ff74 4px,#02ff82 8px,#01ff8a 12px,#04ff79 16px,#0aff4a 20px,#11ff1d 24px,#93ff02 28px,#ffd700 32px,#ff7e00 36px,#ff4f00 40px,#ff4d00 41px)"></div>
<div style="position:absolute;left:8px;top:116px;width:2px;height:42px;background:linear-gradient(180deg,#0dff37 0px,#02ff87 4px,#00fe97 8px,#00fba0 12px,#00ff93 16px,#08ff5c 20px,#0eff2d 24px,#7dff03 28px,#daf100 32px,#ffd100 36px,#ff8500 40px,#ff8000 41px)"></div>
<div style="position:absolute;left:10px;top:116px;width:2px;height:42px;background:linear-gradient(180deg,#0bff46 0px,#00fd9a 4px,#00f7aa 8px,#00f3b3 12px,#00f7a8 16px,#04ff79 20px,#0dff39 24px,#90ff02 28px,#f3e600 32px,#ffab00 36px,#ff6600 40px,#ff6200 41px)"></div>
<div style="position:absolute;left:12px;top:116px;width:2px;height:42px;background:linear-gradient(180deg,#08ff57 0px,#00f6ab 4px,#00efbd 8px,#00ebc7 12px,#00f1ba 16px,#01ff8b 20px,#0aff4d 24px,#73ff04 28px,#f2e600 32px,#ff9f00 36px,#ff7400 40px,#ff7400 41px)"></div>
<div style="position:absolute;left:14px;top:116px;width:2px;height:42px;background:linear-gradient(180deg,#06ff6a 0px,#00f0bc 4px,#00e8d2 8px,#00e3de 12px,#00e9cf 16px,#00fc9b 20px,#07ff5e 24px,#5cff05 28px,#e3ed00 32px,#ffb000 36px,#ff7900 40px,#ff7700 41px)"></div>
<div style="position:absolute;left:16px;top:116px;width:2px;height:42px;background:linear-gradient(180deg,#03ff7e 0px,#00e9cf 4px,#00dfe8 8px,#00daf6 12px,#00e0e6 16px,#00f4b0 20px,#04ff78 24px,#40ff07 28px,#cbf800 32px,#ffd300 36px,#ff8e00 40px,#ff8900 41px)"></div>
<div style="position:absolute;left:18px;top:116px;width:2px;height:42px;background:linear-gradient(180deg,#00ff93 0px,#00e1e2 4px,#00d7fe 8px,#00ccff 12px,#00d9f7 16px,#00f3b3 20px,#06ff66 24px,#6cff04 28px,#f1e700 32px,#ffa000 36px,#ff6900 40px,#ff6700 41px)"></div>
<div style="position:absolute;left:20px;top:116px;width:2px;height:42px;background:linear-gradient(180deg,#00f9a4 0px,#00daf5 4px,#00c6ff 8px,#00baff 12px,#00ceff 16px,#00f2b8 20px,#08ff57 24px,#8cff02 28px,#f4e500 32px,#ffb000 36px,#ff6a00 40px,#ff6600 41px)"></div>
<div style="position:absolute;left:22px;top:116px;width:2px;height:42px;background:linear-gradient(180deg,#00f3b5 0px,#00cfff 4px,#00b6ff 8px,#00a9ff 12px,#00bfff 16px,#00edc3 20px,#0bff44 24px,#c9f900 28px,#ffb800 32px,#ff7600 36px,#ff4900 40px,#ff4700 41px)"></div>
<div style="position:absolute;left:24px;top:116px;width:2px;height:42px;background:linear-gradient(180deg,#00ecc6 0px,#00c2ff 4px,#00a6ff 8px,#0097ff 12px,#00acff 16px,#00e2e0 20px,#04ff79 24px,#7fff03 28px,#fde100 32px,#ff9a00 36px,#ff5e00 40px,#ff5b00 41px)"></div>
<div style="position:absolute;left:26px;top:116px;width:2px;height:42px;background:linear-gradient(180deg,#00e6d6 0px,#00b5ff 4px,#0098ff 8px,#0087ff 12px,#0097ff 16px,#00d5ff 20px,#00faa0 24px,#4eff06 28px,#e8eb00 32px,#ffaa00 36px,#ff7400 40px,#ff7200 41px)"></div>
<div style="position:absolute;left:28px;top:116px;width:2px;height:42px;background:linear-gradient(180deg,#00e0e6 0px,#00a9ff 4px,#008aff 8px,#0079ff 12px,#008aff 16px,#00cdff 20px,#00f9a4 24px,#4eff06 28px,#d8f200 32px,#ffcc00 36px,#ff8900 40px,#ff8500 41px)"></div>
<div style="position:absolute;left:30px;top:116px;width:2px;height:42px;background:linear-gradient(180deg,#00daf5 0px,#009dff 4px,#007fff 8px,#006fff 12px,#0082ff 16px,#00cbff 20px,#00fb9d 24px,#60ff05 28px,#f8e400 32px,#ff9700 36px,#ff6800 40px,#ff6600 41px)"></div>
<div style="position:absolute;left:32px;top:116px;width:2px;height:42px;background:linear-gradient(180deg,#00d3ff 0px,#0093ff 4px,#0075ff 8px,#0369ff 12px,#0073ff 16px,#00b8ff 20px,#00f3b5 24px,#47ff06 28px,#d3f400 32px,#ffd700 36px,#ff9200 40px,#ff8e00 41px)"></div>
<div style="position:absolute;left:34px;top:116px;width:2px;height:42px;background:linear-gradient(180deg,#00caff 0px,#008aff 4px,#006dff 8px,#0565ff 12px,#0070ff 16px,#00b6ff 20px,#00f3b3 24px,#47ff06 28px,#eaea00 32px,#ffa700 36px,#ff6e00 40px,#ff6c00 41px)"></div>
<div style="position:absolute;left:36px;top:116px;width:2px;height:42px;background:linear-gradient(180deg,#00c2ff 0px,#0082ff 4px,#0269ff 8px,#0763ff 12px,#016cff 16px,#00acff 20px,#00efbe 24px,#46ff07 28px,#e1ee00 32px,#ffbb00 36px,#ff7700 40px,#ff7300 41px)"></div>
<div style="position:absolute;left:38px;top:116px;width:2px;height:42px;background:linear-gradient(180deg,#00baff 0px,#007cff 4px,#0467ff 8px,#0960ff 12px,#0467ff 16px,#00a7ff 20px,#00eec1 24px,#41ff07 28px,#e1ee00 32px,#ffbb00 36px,#ff7f00 40px,#ff7c00 41px)"></div>
<div style="position:absolute;left:40px;top:116px;width:2px;height:42px;background:linear-gradient(180deg,#00b4ff 0px,#0077ff 4px,#0665ff 8px,#0a5fff 12px,#0862ff 16px,#009aff 20px,#00e6d6 24px,#29ff08 28px,#d0f600 32px,#ffd100 36px,#ff8f00 40px,#ff8b00 41px)"></div>
<div style="position:absolute;left:42px;top:116px;width:2px;height:42px;background:linear-gradient(180deg,#00afff 0px,#0073ff 4px,#0763ff 8px,#0a5fff 12px,#0664ff 16px,#009cff 20px,#00ecc6 24px,#5eff05 28px,#ece900 32px,#ffb800 36px,#ff7700 40px,#ff7400 41px)"></div>
<div style="position:absolute;left:44px;top:116px;width:2px;height:42px;background:linear-gradient(180deg,#00aaff 0px,#0070ff 4px,#0763ff 8px,#0a5fff 12px,#0566ff 16px,#00acff 20px,#00f2b5 24px,#56ff06 28px,#ebea00 32px,#ffb300 36px,#ff7400 40px,#ff7100 41px)"></div>
<div style="position:absolute;left:46px;top:116px;width:2px;height:42px;background:linear-gradient(180deg,#00a7ff 0px,#006eff 4px,#0862ff 8px,#0a5eff 12px,#0763ff 16px,#00a1ff 20px,#00edc4 24px,#51ff06 28px,#e3ed00 32px,#ffc300 36px,#ff8300 40px,#ff8000 41px)"></div>
<div style="position:absolute;left:48px;top:116px;width:2px;height:42px;background:linear-gradient(180deg,#00a4ff 0px,#006dff 4px,#0762ff 8px,#0a5fff 12px,#0368ff 16px,#00b1ff 20px,#00f6ab 24px,#74ff04 28px,#fae200 32px,#ffa600 36px,#ff7100 40px,#ff6f00 41px)"></div>
<div style="position:absolute;left:50px;top:116px;width:2px;height:42px;background:linear-gradient(180deg,#00a2ff 0px,#006dff 4px,#0763ff 8px,#0960ff 12px,#026aff 16px,#00b2ff 20px,#00f2b6 24px,#50ff06 28px,#f1e700 32px,#ffa400 36px,#ff7000 40px,#ff6e00 41px)"></div>
<div style="position:absolute;left:52px;top:116px;width:2px;height:42px;background:linear-gradient(180deg,#00a1ff 0px,#006eff 4px,#0764ff 8px,#0961ff 12px,#026bff 16px,#00aaff 20px,#00ecc6 24px,#41ff07 28px,#def000 32px,#ffc200 36px,#ff7300 40px,#ff6d00 41px)"></div>
<div style="position:absolute;left:54px;top:116px;width:2px;height:42px;background:linear-gradient(180deg,#00a0ff 0px,#006fff 4px,#0665ff 8px,#0862ff 12px,#006fff 16px,#00b9ff 20px,#00f2b7 24px,#45ff07 28px,#eee800 32px,#ffa200 36px,#ff6600 40px,#ff6300 41px)"></div>
<div style="position:absolute;left:56px;top:116px;width:2px;height:42px;background:linear-gradient(180deg,#00a0ff 0px,#0071ff 4px,#0467ff 8px,#0665ff 12px,#0076ff 16px,#00baff 20px,#00f6ab 24px,#7fff03 28px,#ffdc00 32px,#ff9a00 36px,#ff6800 40px,#ff6600 41px)"></div>
<div style="position:absolute;left:58px;top:116px;width:2px;height:42px;background:linear-gradient(180deg,#00a0ff 0px,#0074ff 4px,#026aff 8px,#0467ff 12px,#007cff 16px,#00c2ff 20px,#00f2b6 24px,#3cff07 28px,#f0e700 32px,#ff9700 36px,#ff6700 40px,#ff6600 41px)"></div>
<div style="position:absolute;left:60px;top:116px;width:2px;height:42px;background:linear-gradient(180deg,#00a1ff 0px,#0077ff 4px,#006dff 8px,#016bff 12px,#0082ff 16px,#00c2ff 20px,#00f0bb 24px,#38ff07 28px,#e3ed00 32px,#ffb100 36px,#ff8400 40px,#ff8300 41px)"></div>
<div style="position:absolute;left:62px;top:116px;width:2px;height:42px;background:linear-gradient(180deg,#00a2ff 0px,#007bff 4px,#0072ff 8px,#0070ff 12px,#0087ff 16px,#00c2ff 20px,#00ecc6 24px,#1bff09 28px,#cef700 32px,#ffca00 36px,#ff9500 40px,#ff9300 41px)"></div>
<div style="position:absolute;left:64px;top:116px;width:2px;height:42px;background:linear-gradient(180deg,#00a4ff 0px,#007fff 4px,#0078ff 8px,#0079ff 12px,#0096ff 16px,#00d3ff 20px,#00fd99 24px,#89ff03 28px,#ffd300 32px,#ff8b00 36px,#ff5a00 40px,#ff5700 41px)"></div>
<div style="position:absolute;left:66px;top:116px;width:2px;height:42px;background:linear-gradient(180deg,#00a6ff 0px,#0083ff 4px,#007fff 8px,#007fff 12px,#0096ff 16px,#00cbff 20px,#00eec0 24px,#1fff09 28px,#cdf700 32px,#ffcf00 36px,#ffa600 40px,#ffa600 41px)"></div>
<div style="position:absolute;left:68px;top:116px;width:2px;height:42px;background:linear-gradient(180deg,#00a8ff 0px,#0088ff 4px,#0086ff 8px,#0087ff 12px,#00a0ff 16px,#00d6ff 20px,#00f4b2 24px,#2eff08 28px,#d5f400 32px,#ffc500 36px,#ff8b00 40px,#ff8800 41px)"></div>
<div style="position:absolute;left:70px;top:116px;width:2px;height:42px;background:linear-gradient(180deg,#00abff 0px,#008cff 4px,#008dff 8px,#008fff 12px,#00a8ff 16px,#00d8fb 20px,#00f2b6 24px,#1eff09 28px,#cff600 32px,#ffc600 36px,#ff9000 40px,#ff8e00 41px)"></div>
<div style="position:absolute;left:72px;top:116px;width:2px;height:42px;background:linear-gradient(180deg,#00adff 0px,#0091ff 4px,#0093ff 8px,#0097ff 12px,#00b7ff 16px,#00e2df 20px,#00ff93 24px,#56ff06 28px,#f0e700 32px,#ffa100 36px,#ff6900 40px,#ff6700 41px)"></div>
<div style="position:absolute;left:74px;top:116px;width:2px;height:42px;background:linear-gradient(180deg,#00b0ff 0px,#0094ff 4px,#0098ff 8px,#009eff 12px,#00bcff 16px,#00e4da 20px,#00ff95 24px,#49ff06 28px,#e5ec00 32px,#ffae00 36px,#ff7800 40px,#ff7600 41px)"></div>
<div style="position:absolute;left:76px;top:116px;width:2px;height:42px;background:linear-gradient(180deg,#00b2ff 0px,#0097ff 4px,#009cff 8px,#00a4ff 12px,#00c5ff 16px,#00eacb 20px,#02ff82 24px,#5aff05 28px,#dfef00 32px,#ffc200 36px,#ff7c00 40px,#ff7900 41px)"></div>
<div style="position:absolute;left:78px;top:116px;width:2px;height:42px;background:linear-gradient(180deg,#00b4ff 0px,#0098ff 4px,#009fff 8px,#00a9ff 12px,#00caff 16px,#00edc4 20px,#02ff85 24px,#45ff07 28px,#e4ed00 32px,#ffad00 36px,#ff7d00 40px,#ff7c00 41px)"></div>
<div style="position:absolute;left:80px;top:116px;width:2px;height:42px;background:linear-gradient(180deg,#00b6ff 0px,#009aff 4px,#00a1ff 8px,#00aeff 12px,#00ceff 16px,#00e8d0 20px,#00ff95 24px,#45ff07 28px,#cff700 32px,#ffd700 36px,#ff8a00 40px,#ff8400 41px)"></div>
<div style="position:absolute;left:82px;top:116px;width:2px;height:42px;background:linear-gradient(180deg,#00b7ff 0px,#009aff 4px,#00a2ff 8px,#00b4ff 12px,#00d9f8 16px,#00f3b4 20px,#03ff7e 24px,#3cff07 28px,#dbf100 32px,#ffb500 36px,#ff7900 40px,#ff7600 41px)"></div>
<div style="position:absolute;left:84px;top:116px;width:2px;height:42px;background:linear-gradient(180deg,#00b8ff 0px,#009aff 4px,#00a4ff 8px,#00baff 12px,#00ddec 16px,#00f5af 20px,#05ff71 24px,#5dff05 28px,#e3ed00 32px,#ffb800 36px,#ff7400 40px,#ff7000 41px)"></div>
<div style="position:absolute;left:86px;top:116px;width:2px;height:42px;background:linear-gradient(180deg,#00b9ff 0px,#009aff 4px,#00a4ff 8px,#00bfff 12px,#00e0e7 16px,#00f4b2 20px,#03ff7c 24px,#52ff06 28px,#def000 32px,#ffbc00 36px,#ff7d00 40px,#ff7a00 41px)"></div>
<div style="position:absolute;left:88px;top:116px;width:2px;height:42px;background:linear-gradient(180deg,#00b9ff 0px,#009aff 4px,#00a5ff 8px,#00c5ff 12px,#00e5d9 16px,#00f9a4 20px,#03ff7b 24px,#2fff08 28px,#caf900 32px,#ffcb00 36px,#ff7e00 40px,#ff7a00 41px)"></div>
<div style="position:absolute;left:90px;top:116px;width:2px;height:42px;background:linear-gradient(180deg,#00baff 0px,#009aff 4px,#00a6ff 8px,#00cdff 12px,#00ecc7 16px,#01ff8b 20px,#0bff44 24px,#97ff02 28px,#ffd600 32px,#ff8800 36px,#ff6000 40px,#ff5f00 41px)"></div>
<div style="position:absolute;left:92px;top:116px;width:2px;height:42px;background:linear-gradient(180deg,#00bbff 0px,#009aff 4px,#00a8ff 8px,#00d5ff 12px,#00f0bb 16px,#02ff83 20px,#09ff50 24px,#67ff05 28px,#e6ec00 32px,#ffb100 36px,#ff7200 40px,#ff6f00 41px)"></div>
<div style="position:absolute;left:94px;top:116px;width:2px;height:42px;background:linear-gradient(180deg,#00bcff 0px,#009aff 4px,#00abff 8px,#00daf6 12px,#00f4b1 16px,#03ff7b 20px,#0bff46 24px,#7dff03 28px,#f6e400 32px,#ff9c00 36px,#ff6200 40px,#ff5f00 41px)"></div>
<div style="position:absolute;left:96px;top:116px;width:2px;height:42px;background:linear-gradient(180deg,#00beff 0px,#009bff 4px,#00aeff 8px,#00deea 12px,#00f6ab 16px,#02ff84 20px,#08ff5b 24px,#5dff05 28px,#e2ee00 32px,#ffb400 36px,#ff8100 40px,#ff8000 41px)"></div>
<div style="position:absolute;left:98px;top:116px;width:2px;height:42px;background:linear-gradient(180deg,#00c2ff 0px,#009cff 4px,#00b3ff 8px,#00e3dd 12px,#00f8a5 16px,#02ff83 20px,#09ff54 24px,#73ff04 28px,#efe800 32px,#ffa400 36px,#ff7000 40px,#ff6e00 41px)"></div>
<div style="position:absolute;left:100px;top:116px;width:2px;height:42px;background:linear-gradient(180deg,#00c6ff 0px,#009fff 4px,#00baff 8px,#00eacc 12px,#01ff89 16px,#0bff48 20px,#12ff15 24px,#a5ff01 28px,#ffd600 32px,#ff8800 36px,#ff4f00 40px,#ff4c00 41px)"></div>
<div style="position:absolute;left:102px;top:116px;width:2px;height:42px;background:linear-gradient(180deg,#00ccff 0px,#00a3ff 4px,#00c3ff 8px,#00eec0 12px,#01ff8a 16px,#07ff60 20px,#0cff3d 24px,#6fff04 28px,#e2ed00 32px,#ffb900 36px,#ff8900 40px,#ff8800 41px)"></div>
<div style="position:absolute;left:104px;top:116px;width:2px;height:42px;background:linear-gradient(180deg,#00d3ff 0px,#00aaff 4px,#00ceff 8px,#00f4b1 12px,#02ff85 16px,#05ff70 20px,#08ff59 24px,#4aff06 28px,#d0f600 32px,#ffc700 36px,#ff8800 40px,#ff8500 41px)"></div>
<div style="position:absolute;left:106px;top:116px;width:2px;height:42px;background:linear-gradient(180deg,#00daf6 0px,#00b3ff 4px,#00d8f9 8px,#00faa1 12px,#05ff6d 16px,#0bff43 20px,#0fff28 24px,#73ff04 28px,#f2e600 32px,#ff9600 36px,#ff6200 40px,#ff6000 41px)"></div>
<div style="position:absolute;left:108px;top:116px;width:2px;height:42px;background:linear-gradient(180deg,#00e0e6 0px,#00bfff 4px,#00e0e5 8px,#00ff95 12px,#06ff6b 16px,#0aff4c 20px,#0dff36 24px,#5fff05 28px,#d6f300 32px,#ffc300 36px,#ff7f00 40px,#ff7c00 41px)"></div>
<div style="position:absolute;left:110px;top:116px;width:2px;height:42px;background:linear-gradient(180deg,#00e7d4 0px,#00cdff 4px,#00e8d0 8px,#02ff83 12px,#08ff5a 16px,#0dff36 20px,#11ff18 24px,#8cff02 28px,#f6e400 32px,#ff9a00 36px,#ff5f00 40px,#ff5c00 41px)"></div>
<div style="position:absolute;left:112px;top:116px;width:2px;height:42px;background:linear-gradient(180deg,#00efbf 0px,#00daf5 4px,#00f1ba 8px,#05ff72 12px,#09ff53 16px,#0dff34 20px,#13ff10 24px,#9fff01 28px,#f3e600 32px,#ffac00 36px,#ff8200 40px,#ff8200 41px)"></div>
<div style="position:absolute;left:114px;top:116px;width:2px;height:42px;background:linear-gradient(180deg,#00f7a9 0px,#00e4db 4px,#00f9a3 8px,#07ff63 12px,#0aff4b 16px,#0eff2d 20px,#13ff0a 24px,#a4ff01 28px,#eee800 32px,#ffb700 36px,#ff8600 40px,#ff8400 41px)"></div>
<div style="position:absolute;left:116px;top:116px;width:2px;height:42px;background:linear-gradient(180deg,#00ff92 0px,#00eec0 4px,#01ff8a 8px,#09ff51 12px,#0cff3d 16px,#0fff26 20px,#11ff18 24px,#6eff04 28px,#dbf100 32px,#ffbe00 36px,#ff9f00 40px,#ff9f00 41px)"></div>
<div style="position:absolute;left:118px;top:116px;width:2px;height:42px;background:linear-gradient(180deg,#04ff73 0px,#00f9a4 4px,#05ff6d 8px,#0cff41 12px,#0eff2d 16px,#13ff0c 20px,#29ff08 24px,#98ff02 28px,#ffde00 32px,#ff8c00 36px,#ff7300 40px,#ff7300 41px)"></div>
<div style="position:absolute;left:120px;top:116px;width:2px;height:42px;background:linear-gradient(180deg,#09ff55 0px,#02ff86 4px,#09ff53 8px,#0eff30 12px,#10ff22 16px,#13ff0f 20px,#16ff09 24px,#75ff04 28px,#dfef00 32px,#ffc400 36px,#ffa300 40px,#ffa200 41px)"></div>
<div style="position:absolute;left:122px;top:116px;width:2px;height:42px;background:linear-gradient(180deg,#0dff39 0px,#06ff65 4px,#0dff3a 8px,#11ff1c 12px,#16ff09 16px,#36ff07 20px,#5dff05 24px,#d5f400 28px,#ffb700 32px,#ff7a00 36px,#ff7200 40px,#ff7300 41px)"></div>
<div style="position:absolute;left:124px;top:116px;width:2px;height:42px;background:linear-gradient(180deg,#11ff1e 0px,#0bff46 4px,#10ff23 8px,#13ff0c 12px,#23ff09 16px,#3cff07 20px,#6bff04 24px,#e9ea00 28px,#ffad00 32px,#ff7f00 36px,#ff7a00 40px,#ff7b00 41px)"></div>
<div style="position:absolute;left:126px;top:116px;width:2px;height:42px;background:linear-gradient(180deg,#17ff09 0px,#0fff2b 4px,#13ff0e 8px,#23ff09 12px,#33ff08 16px,#4bff06 20px,#64ff05 24px,#cff700 28px,#ffd500 32px,#ffb100 36px,#ffa300 40px,#ffa300 41px)"></div>
<div style="position:absolute;left:128px;top:116px;width:2px;height:42px;background:linear-gradient(180deg,#2eff08 0px,#12ff13 4px,#24ff09 8px,#33ff08 12px,#3cff07 16px,#4eff06 20px,#77ff04 24px,#dcf100 28px,#ffca00 32px,#ffaa00 36px,#ffa700 40px,#ffa700 41px)"></div>
<div style="position:absolute;left:130px;top:116px;width:2px;height:42px;background:linear-gradient(180deg,#43ff07 0px,#20ff09 4px,#38ff07 8px,#45ff07 12px,#4fff06 16px,#6cff04 20px,#abff01 24px,#f2e600 28px,#ffb000 32px,#ff8b00 36px,#ff9000 40px,#ff9200 41px)"></div>
<div style="position:absolute;left:132px;top:116px;width:2px;height:42px;background:linear-gradient(180deg,#55ff06 0px,#34ff08 4px,#4aff06 8px,#57ff06 12px,#65ff05 16px,#90ff02 20px,#d2f500 24px,#ffcd00 28px,#ff9c00 32px,#ff8600 36px,#ff8700 40px,#ff8800 41px)"></div>
<div style="position:absolute;left:134px;top:116px;width:2px;height:42px;background:linear-gradient(180deg,#65ff05 0px,#45ff07 4px,#5aff05 8px,#66ff05 12px,#6dff04 16px,#9cff01 20px,#dcf000 24px,#ffc400 28px,#ffa200 32px,#ff9c00 36px,#ff9d00 40px,#ff9d00 41px)"></div>
<div style="position:absolute;left:136px;top:116px;width:2px;height:42px;background:linear-gradient(180deg,#71ff04 0px,#54ff06 4px,#69ff04 8px,#75ff04 12px,#8fff02 16px,#d8f200 20px,#ffd300 24px,#ffa100 28px,#ff8c00 32px,#ff8f00 36px,#ff7f00 40px,#ff7d00 41px)"></div>
<div style="position:absolute;left:138px;top:116px;width:2px;height:42px;background:linear-gradient(180deg,#7eff03 0px,#61ff05 4px,#74ff04 8px,#80ff03 12px,#9fff01 16px,#d7f300 20px,#ffde00 24px,#ffb700 28px,#ffa800 32px,#ffa800 36px,#ff9b00 40px,#ff9900 41px)"></div>
<div style="position:absolute;left:140px;top:116px;width:2px;height:42px;background:linear-gradient(180deg,#86ff03 0px,#6aff04 4px,#7eff03 8px,#93ff02 12px,#c9f900 16px,#fee100 20px,#ffb100 24px,#ff8b00 28px,#ff7400 32px,#ff6400 36px,#ff6000 40px,#ff6000 41px)"></div>
<div style="position:absolute;left:142px;top:116px;width:2px;height:42px;background:linear-gradient(180deg,#94ff02 0px,#80ff03 4px,#8aff03 8px,#b0ff00 12px,#deef00 16px,#ffcb00 20px,#ff9d00 24px,#ff7d00 28px,#ff6f00 32px,#ff6400 36px,#ff6600 40px,#ff6600 41px)"></div>
<div style="position:absolute;left:144px;top:116px;width:2px;height:42px;background:linear-gradient(180deg,#9dff01 0px,#8dff02 4px,#a5ff01 8px,#caf900 12px,#f5e500 16px,#ffb100 20px,#ff8b00 24px,#ff7900 28px,#ff7a00 32px,#ff7d00 36px,#ff7b00 40px,#ff7b00 41px)"></div>
<div style="position:absolute;left:146px;top:116px;width:2px;height:42px;background:linear-gradient(180deg,#bdff00 0px,#a5ff01 4px,#c1fd00 8px,#e0ee00 12px,#ffcf00 16px,#ff9d00 20px,#ff7b00 24px,#ff6c00 28px,#ff7700 32px,#ff8300 36px,#ff7800 40px,#ff7700 41px)"></div>
<div style="position:absolute;left:148px;top:116px;width:2px;height:42px;background:linear-gradient(180deg,#bffe00 0px,#c1fd00 4px,#d2f500 8px,#f6e400 12px,#ffbd00 16px,#ff9a00 20px,#ff8f00 24px,#ff8d00 28px,#ff7f00 32px,#ff7300 36px,#ff7c00 40px,#ff7d00 41px)"></div>
<div style="position:absolute;left:150px;top:116px;width:2px;height:42px;background:linear-gradient(180deg,#d3f500 0px,#cbf800 4px,#eee800 8px,#ffc800 12px,#ffab00 16px,#ff8700 20px,#ff7b00 24px,#ff7b00 28px,#ff8400 32px,#ff8f00 36px,#ff9000 40px,#ff8e00 41px)"></div>
<div style="position:absolute;left:152px;top:116px;width:2px;height:42px;background:linear-gradient(180deg,#e3ed00 0px,#e2ed00 4px,#ffdd00 8px,#ffb800 12px,#ff9900 16px,#ff7c00 20px,#ff7800 24px,#ff7400 28px,#ff7100 32px,#ff6d00 36px,#ff7000 40px,#ff6f00 41px)"></div>
<div style="position:absolute;left:154px;top:116px;width:2px;height:42px;background:linear-gradient(180deg,#f2e600 0px,#fae300 4px,#ffc900 8px,#ffa200 12px,#ff9000 16px,#ff7f00 20px,#ff8700 24px,#ff9400 28px,#ff8300 32px,#ff7600 36px,#ff7600 40px,#ff7500 41px)"></div>
<div style="position:absolute;left:156px;top:116px;width:2px;height:42px;background:linear-gradient(180deg,#ffe000 0px,#ffd100 4px,#ffb300 8px,#ff9700 12px,#ff7e00 16px,#ff6e00 20px,#ff6500 24px,#ff5a00 28px,#ff5d00 32px,#ff5900 36px,#ff5600 40px,#ff5600 41px)"></div>
<div style="position:absolute;left:158px;top:116px;width:2px;height:42px;background:linear-gradient(180deg,#ffde00 0px,#ffc000 4px,#ffa300 8px,#ff8800 12px,#ff7b00 16px,#ff6e00 20px,#ff6400 24px,#ff5b00 28px,#ff5600 32px,#ff5700 36px,#ff5b00 40px,#ff5800 41px)"></div>
<div style="position:absolute;left:160px;top:116px;width:2px;height:42px;background:linear-gradient(180deg,#ffc500 0px,#ffb600 4px,#ff9100 8px,#ff8300 12px,#ff7a00 16px,#ff8000 20px,#ff7d00 24px,#ff7a00 28px,#ff8100 32px,#ff7800 36px,#ff7e00 40px,#ff7e00 41px)"></div>
<div style="position:absolute;left:162px;top:116px;width:2px;height:42px;background:linear-gradient(180deg,#ffae00 0px,#ffa500 4px,#ff9500 8px,#ff7e00 12px,#ff7500 16px,#ff8500 20px,#ff8900 24px,#ff9100 28px,#ff9500 32px,#ff9800 36px,#ff9c00 40px,#ff9b00 41px)"></div>
<div style="position:absolute;left:164px;top:116px;width:2px;height:42px;background:linear-gradient(180deg,#ffb100 0px,#ff9a00 4px,#ff8a00 8px,#ff7800 12px,#ff7200 16px,#ff6800 20px,#ff5b00 24px,#ff5000 28px,#ff5e00 32px,#ff6700 36px,#ff6100 40px,#ff5900 41px)"></div>
<div style="position:absolute;left:166px;top:116px;width:2px;height:42px;background:linear-gradient(180deg,#ffa600 0px,#ffa300 4px,#ff7500 8px,#ff6e00 12px,#ff7000 16px,#ff6b00 20px,#ff6d00 24px,#ff5d00 28px,#ff7100 32px,#ff7a00 36px,#ff7f00 40px,#ff7c00 41px)"></div>
<div style="position:absolute;left:168px;top:116px;width:2px;height:42px;background:linear-gradient(180deg,#ff9a00 0px,#ff8400 4px,#ff7d00 8px,#ff7000 12px,#ff6f00 16px,#ff7e00 20px,#ff7600 24px,#ff7100 28px,#ff6900 32px,#ff7000 36px,#ff6c00 40px,#ff6800 41px)"></div>
<div style="position:absolute;left:170px;top:116px;width:2px;height:42px;background:linear-gradient(180deg,#ff9d00 0px,#ff8c00 4px,#ff7c00 8px,#ff7000 12px,#ff7300 16px,#ff6f00 20px,#ff6d00 24px,#ff5600 28px,#ff5e00 32px,#ff6300 36px,#ff5900 40px,#ff5700 41px)"></div>
<div style="position:absolute;left:172px;top:116px;width:2px;height:42px;background:linear-gradient(180deg,#ff9200 0px,#ff8500 4px,#ff7a00 8px,#ff7a00 12px,#ff7400 16px,#ff6900 20px,#ff6200 24px,#ff6500 28px,#ff7100 32px,#ff6100 36px,#ff6600 40px,#ff6e00 41px)"></div>
<div style="position:absolute;left:174px;top:116px;width:2px;height:42px;background:linear-gradient(180deg,#ff8f00 0px,#ff7d00 4px,#ff9000 8px,#ff7700 12px,#ff6d00 16px,#ff7200 20px,#ff6e00 24px,#ff8200 28px,#ff8100 32px,#ff7d00 36px,#ff7d00 40px,#ff7c00 41px)"></div>
<div style="position:absolute;left:176px;top:116px;width:2px;height:42px;background:linear-gradient(180deg,#ff7d00 0px,#ff8700 4px,#ff7600 8px,#ff7600 12px,#ff6100 16px,#ff5d00 20px,#ff6600 24px,#ff4d00 28px,#ff5c00 32px,#ff5000 36px,#ff4500 40px,#ff3b00 41px)"></div>
<div style="position:absolute;left:178px;top:116px;width:2px;height:42px;background:linear-gradient(180deg,#ff7c00 0px,#ff9400 4px,#ff7b00 8px,#ff7b00 12px,#ff6400 16px,#ff5a00 20px,#ff5800 24px,#ff4800 28px,#ff3b00 32px,#ff2e00 36px,#ff2a00 40px,#ff2800 41px)"></div>
<div style="position:absolute;left:180px;top:116px;width:2px;height:42px;background:linear-gradient(180deg,#ff8600 0px,#ff8900 4px,#ff7e00 8px,#ff7700 12px,#ff7300 16px,#ff6300 20px,#ff5c00 24px,#ff5200 28px,#ff4100 32px,#ff3600 36px,#ff3500 40px,#ff3600 41px)"></div>
<div style="position:absolute;left:182px;top:116px;width:2px;height:42px;background:linear-gradient(180deg,#ff7700 0px,#ff8100 4px,#ff7e00 8px,#ff7d00 12px,#ff7400 16px,#ff6500 20px,#ff5d00 24px,#ff6b00 28px,#ff6100 32px,#ff7200 36px,#ff6100 40px,#ff5f00 41px)"></div>
</div>
<div style="position:absolute;left:28.30px;top:376.60px;width:184px;height:158px;overflow:hidden">
<div style="position:absolute;left:0;top:0px;width:184px;height:2px;background:linear-gradient(90deg,#12ff14 0px,#11ff1c 2px,#0fff26 4px,#0eff31 6px,#0cff3b 8px,#0bff45 10px,#09ff50 12px,#08ff5b 14px,#05ff6f 16px,#01ff88 18px,#00fb9e 20px,#00e8d1 25px,#00c7ff 30px,#009eff 35px,#0097ff 40px,#0093ff 45px,#008fff 50px,#008bff 55px,#0088ff 60px,#008bff 65px,#008eff 70px,#0091ff 75px,#0095ff 80px,#0098ff 85px,#009bff 90px,#009bff 95px,#009bff 100px,#009bff 105px,#009aff 110px,#0094ff 115px,#008fff 120px,#0089ff 125px,#0084ff 130px,#0087ff 135px,#008bff 140px,#0090ff 145px,#009fff 150px,#00aeff 155px,#00beff 160px,#00cbff 165px,#00d9f8 170px,#00deea 175px,#00e3dd 180px,#00e4da 183px)"></div>
<div style="position:absolute;left:0;top:2px;width:184px;height:2px;background:linear-gradient(90deg,#0eff2e 0px,#0dff36 2px,#0cff40 4px,#0aff4a 6px,#09ff55 8px,#07ff5f 10px,#06ff69 12px,#04ff75 14px,#01ff89 16px,#00fb9f 18px,#00f4b1 20px,#00e0e4 25px,#00b9ff 30px,#0091ff 35px,#0089ff 40px,#0085ff 45px,#0081ff 50px,#007dff 55px,#007bff 60px,#007dff 65px,#0081ff 70px,#0084ff 75px,#0087ff 80px,#008bff 85px,#008eff 90px,#008eff 95px,#008eff 100px,#008eff 105px,#008dff 110px,#0088ff 115px,#0083ff 120px,#007eff 125px,#007bff 130px,#007eff 135px,#0082ff 140px,#0086ff 145px,#0098ff 150px,#00a9ff 155px,#00bbff 160px,#00c3ff 165px,#00c7ff 170px,#00cfff 175px,#00e7d4 180px,#00e8d0 183px)"></div>
<div style="position:absolute;left:0;top:4px;width:184px;height:2px;background:linear-gradient(90deg,#0cff3b 0px,#0bff43 2px,#0aff4d 4px,#08ff57 6px,#07ff62 8px,#05ff6c 10px,#04ff77 12px,#02ff82 14px,#00fe96 16px,#00f7a9 18px,#00f0bb 20px,#00ddee 25px,#00b3ff 30px,#008aff 35px,#0083ff 40px,#007eff 45px,#007aff 50px,#0076ff 55px,#0074ff 60px,#0076ff 65px,#007aff 70px,#007dff 75px,#0081ff 80px,#0084ff 85px,#0087ff 90px,#0087ff 95px,#0087ff 100px,#0087ff 105px,#0086ff 110px,#0082ff 115px,#007dff 120px,#0079ff 125px,#0076ff 130px,#007aff 135px,#007dff 140px,#0085ff 145px,#0093ff 150px,#00a4ff 155px,#00b8ff 160px,#00c5ff 165px,#00c9ff 170px,#00d9f9 175px,#00e4db 180px,#00e3dd 183px)"></div>
<div style="position:absolute;left:0;top:6px;width:184px;height:2px;background:linear-gradient(90deg,#0aff4b 0px,#09ff53 2px,#08ff5d 4px,#06ff68 6px,#05ff72 8px,#03ff7c 10px,#02ff87 12px,#00ff92 14px,#00faa2 16px,#00f3b5 18px,#00ebc8 20px,#00d8fa 25px,#00aaff 30px,#0082ff 35px,#007aff 40px,#0076ff 45px,#0072ff 50px,#006eff 55px,#016cff 60px,#006eff 65px,#0071ff 70px,#0075ff 75px,#0078ff 80px,#007cff 85px,#007eff 90px,#007fff 95px,#007fff 100px,#007fff 105px,#007eff 110px,#007aff 115px,#0076ff 120px,#0072ff 125px,#0070ff 130px,#0074ff 135px,#007aff 140px,#0080ff 145px,#0094ff 150px,#00a3ff 155px,#00aeff 160px,#00baff 165px,#00d5ff 170px,#00d5ff 175px,#00e2df 180px,#00e8d0 183px)"></div>
<div style="position:absolute;left:0;top:8px;width:184px;height:2px;background:linear-gradient(90deg,#10ff23 0px,#0fff2b 2px,#0dff35 4px,#0cff3f 6px,#0aff49 8px,#09ff54 10px,#07ff5e 12px,#06ff69 14px,#03ff7d 16px,#00ff95 18px,#00f8a7 20px,#00e5d9 25px,#00c2ff 30px,#009aff 35px,#0093ff 40px,#008fff 45px,#008bff 50px,#0087ff 55px,#0084ff 60px,#0087ff 65px,#008aff 70px,#008eff 75px,#0091ff 80px,#0094ff 85px,#0097ff 90px,#0097ff 95px,#0097ff 100px,#0097ff 105px,#0096ff 110px,#0091ff 115px,#008cff 120px,#0087ff 125px,#0083ff 130px,#0086ff 135px,#008aff 140px,#0091ff 145px,#009fff 150px,#00aeff 155px,#00b9ff 160px,#00cbff 165px,#00d7fd 170px,#00dcf0 175px,#00e5d8 180px,#00e9cd 183px)"></div>
<div style="position:absolute;left:0;top:10px;width:184px;height:2px;background:linear-gradient(90deg,#11ff18 0px,#10ff1f 2px,#0fff29 4px,#0eff32 6px,#0cff3c 8px,#0bff46 10px,#09ff50 12px,#08ff5b 14px,#05ff6d 16px,#02ff85 18px,#00fd9b 20px,#00eaca 25px,#00ceff 30px,#00a8ff 35px,#00a1ff 40px,#009dff 45px,#0099ff 50px,#0096ff 55px,#0093ff 60px,#0096ff 65px,#0099ff 70px,#009cff 75px,#009fff 80px,#00a2ff 85px,#00a5ff 90px,#00a5ff 95px,#00a5ff 100px,#00a5ff 105px,#00a4ff 110px,#009fff 115px,#009aff 120px,#0094ff 125px,#0091ff 130px,#0093ff 135px,#0097ff 140px,#009cff 145px,#00a9ff 150px,#00b8ff 155px,#00beff 160px,#00cfff 165px,#00d9f7 170px,#00e5d7 175px,#00e9cf 180px,#00ecc5 183px)"></div>
<div style="position:absolute;left:0;top:12px;width:184px;height:2px;background:linear-gradient(90deg,#09ff51 0px,#08ff58 2px,#07ff61 4px,#06ff6b 6px,#04ff74 8px,#03ff7d 10px,#02ff87 12px,#00ff91 14px,#00fba0 16px,#00f4b1 18px,#00eec1 20px,#00dcef 25px,#00b7ff 30px,#0092ff 35px,#008bff 40px,#0088ff 45px,#0084ff 50px,#0081ff 55px,#007eff 60px,#0081ff 65px,#0084ff 70px,#0087ff 75px,#008aff 80px,#008dff 85px,#008fff 90px,#008fff 95px,#008fff 100px,#0090ff 105px,#0090ff 110px,#008cff 115px,#0089ff 120px,#0086ff 125px,#0084ff 130px,#0089ff 135px,#008eff 140px,#0094ff 145px,#00a6ff 150px,#00b3ff 155px,#00c0ff 160px,#00d1ff 165px,#00d5ff 170px,#00e5d7 175px,#00e4da 180px,#00eaca 183px)"></div>
<div style="position:absolute;left:0;top:14px;width:184px;height:2px;background:linear-gradient(90deg,#1aff09 0px,#13ff0a 2px,#12ff13 4px,#11ff1c 6px,#10ff25 8px,#0eff2e 10px,#0dff37 12px,#0cff40 14px,#09ff52 16px,#06ff67 18px,#03ff7d 20px,#00f5af 25px,#00dfe9 30px,#00c3ff 35px,#00bcff 40px,#00b9ff 45px,#00b5ff 50px,#00b2ff 55px,#00afff 60px,#00b2ff 65px,#00b5ff 70px,#00b7ff 75px,#00baff 80px,#00bdff 85px,#00c0ff 90px,#00c0ff 95px,#00c0ff 100px,#00c0ff 105px,#00beff 110px,#00b9ff 115px,#00b4ff 120px,#00aeff 125px,#00aaff 130px,#00abff 135px,#00aeff 140px,#00b2ff 145px,#00bdff 150px,#00c8ff 155px,#00d7fd 160px,#00daf7 165px,#00e5d9 170px,#00e7d3 175px,#00f0bc 180px,#00edc3 183px)"></div>
<div style="position:absolute;left:0;top:16px;width:184px;height:2px;background:linear-gradient(90deg,#21ff09 0px,#1aff09 2px,#13ff0c 4px,#12ff15 6px,#11ff1d 8px,#0fff26 10px,#0eff2e 12px,#0dff38 14px,#0bff48 16px,#08ff5d 18px,#05ff71 20px,#00f9a4 25px,#00e4dc 30px,#00cdff 35px,#00c7ff 40px,#00c4ff 45px,#00c1ff 50px,#00bdff 55px,#00bbff 60px,#00bdff 65px,#00c0ff 70px,#00c3ff 75px,#00c6ff 80px,#00c8ff 85px,#00cbff 90px,#00cbff 95px,#00cbff 100px,#00cbff 105px,#00c9ff 110px,#00c4ff 115px,#00bfff 120px,#00baff 125px,#00b5ff 130px,#00b7ff 135px,#00baff 140px,#00baff 145px,#00caff 150px,#00d0ff 155px,#00ddec 160px,#00e4db 165px,#00e9cf 170px,#00ebc9 175px,#00f2b6 180px,#00f3b4 183px)"></div>
<div style="position:absolute;left:0;top:18px;width:184px;height:2px;background:linear-gradient(90deg,#11ff1e 0px,#10ff24 2px,#0fff2c 4px,#0dff34 6px,#0cff3b 8px,#0bff43 10px,#0aff4b 12px,#09ff54 14px,#07ff64 16px,#04ff77 18px,#01ff8a 20px,#00f3b4 25px,#00dfe8 30px,#00c7ff 35px,#00c1ff 40px,#00beff 45px,#00bbff 50px,#00b8ff 55px,#00b6ff 60px,#00b8ff 65px,#00bbff 70px,#00bdff 75px,#00c0ff 80px,#00c2ff 85px,#00c4ff 90px,#00c5ff 95px,#00c5ff 100px,#00c5ff 105px,#00c4ff 110px,#00c0ff 115px,#00bcff 120px,#00b8ff 125px,#00b5ff 130px,#00b8ff 135px,#00bcff 140px,#00beff 145px,#00caff 150px,#00d5ff 155px,#00ddee 160px,#00e2e2 165px,#00e9ce 170px,#00eec1 175px,#00eec1 180px,#00f2b7 183px)"></div>
<div style="position:absolute;left:0;top:20px;width:184px;height:2px;background:linear-gradient(90deg,#12ff11 0px,#12ff17 2px,#11ff1e 4px,#10ff25 6px,#0fff2c 8px,#0dff34 10px,#0cff3b 12px,#0bff43 14px,#09ff51 16px,#07ff62 18px,#04ff74 20px,#00fba0 25px,#00e8d0 30px,#00d9f8 35px,#00d5ff 40px,#00d3ff 45px,#00d0ff 50px,#00cdff 55px,#00cbff 60px,#00cdff 65px,#00cfff 70px,#00d2ff 75px,#00d4ff 80px,#00d6ff 85px,#00d7fc 90px,#00d8fc 95px,#00d8fc 100px,#00d8fc 105px,#00d7fd 110px,#00d4ff 115px,#00d0ff 120px,#00ccff 125px,#00c9ff 130px,#00cbff 135px,#00ceff 140px,#00d3ff 145px,#00daf5 150px,#00deeb 155px,#00e8d1 160px,#00e9cf 165px,#00eec0 170px,#00f3b2 175px,#00f6ad 180px,#00f7a8 183px)"></div>
<div style="position:absolute;left:0;top:22px;width:184px;height:2px;background:linear-gradient(90deg,#0fff27 0px,#0fff2c 2px,#0eff33 4px,#0dff3a 6px,#0cff40 8px,#0bff47 10px,#0aff4d 12px,#09ff55 14px,#07ff61 16px,#05ff71 18px,#02ff81 20px,#00f8a6 25px,#00e8d1 30px,#00daf6 35px,#00d7fd 40px,#00d5ff 45px,#00d2ff 50px,#00d0ff 55px,#00ceff 60px,#00d0ff 65px,#00d2ff 70px,#00d4ff 75px,#00d6ff 80px,#00d7fc 85px,#00d8fa 90px,#00d8f9 95px,#00d9f9 100px,#00d9f9 105px,#00d8fa 110px,#00d7fd 115px,#00d4ff 120px,#00d2ff 125px,#00d0ff 130px,#00d3ff 135px,#00d6ff 140px,#00d9f7 145px,#00dcef 150px,#00e6d6 155px,#00eec1 160px,#00ecc5 165px,#00f5ae 170px,#00f9a5 175px,#00fb9f 180px,#00fe96 183px)"></div>
<div style="position:absolute;left:0;top:24px;width:184px;height:2px;background:linear-gradient(90deg,#2fff08 0px,#2bff08 2px,#25ff08 4px,#1fff09 6px,#18ff09 8px,#13ff0d 10px,#12ff17 12px,#10ff22 14px,#0eff33 16px,#0bff46 18px,#08ff58 20px,#02ff82 25px,#00f5ae 30px,#00e9cf 35px,#00e6d5 40px,#00e5d8 45px,#00e4db 50px,#00e3df 55px,#00e2e1 60px,#00e3df 65px,#00e4dc 70px,#00e5d9 75px,#00e6d6 80px,#00e7d4 85px,#00e8d1 90px,#00e8d1 95px,#00e8d1 100px,#00e8d1 105px,#00e7d2 110px,#00e6d7 115px,#00e4db 120px,#00e2e0 125px,#00e1e3 130px,#00e2e1 135px,#00e3df 140px,#00e3dd 145px,#00ecc6 150px,#00f0bb 155px,#00f2b8 160px,#00f7a8 165px,#00fd9b 170px,#00fd9a 175px,#01ff8b 180px,#01ff89 183px)"></div>
<div style="position:absolute;left:0;top:26px;width:184px;height:2px;background:linear-gradient(90deg,#deef00 0px,#ddf000 2px,#dcf100 4px,#d7f300 6px,#c8fa00 8px,#a0ff01 10px,#64ff05 12px,#2bff08 14px,#11ff1e 16px,#0dff36 18px,#0bff43 20px,#06ff65 25px,#00ff91 30px,#00f5af 35px,#00f3b5 40px,#00f2b8 45px,#00f0ba 50px,#00efbd 55px,#00efbf 60px,#00efbd 65px,#00f0bb 70px,#00f1b8 75px,#00f2b6 80px,#00f3b4 85px,#00f4b2 90px,#00f4b2 95px,#00f4b2 100px,#00f4b2 105px,#00f3b3 110px,#00f2b7 115px,#00f0bb 120px,#00eec0 125px,#00edc4 130px,#00edc2 135px,#00edc3 140px,#00f0bc 145px,#00f4b2 150px,#00f9a5 155px,#00f8a8 160px,#00ff94 165px,#03ff7a 170px,#03ff7c 175px,#05ff6f 180px,#07ff64 183px)"></div>
<div style="position:absolute;left:0;top:28px;width:184px;height:2px;background:linear-gradient(90deg,#ffbe00 0px,#ffbe00 2px,#ffbf00 4px,#ffbf00 6px,#ffc400 8px,#ffd500 10px,#efe800 12px,#ccf800 14px,#8cff02 16px,#3eff07 18px,#11ff1d 20px,#07ff63 25px,#02ff85 30px,#00fba0 35px,#00f9a4 40px,#00f8a6 45px,#00f7a9 50px,#00f6ab 55px,#00f6ac 60px,#00f6ab 65px,#00f7a9 70px,#00f8a7 75px,#00f9a5 80px,#00f9a3 85px,#00faa2 90px,#00faa2 95px,#00faa2 100px,#00faa2 105px,#00faa2 110px,#00f9a4 115px,#00f8a7 120px,#00f7aa 125px,#00f6ab 130px,#00f7aa 135px,#00f8a6 140px,#00f9a5 145px,#00fd99 150px,#01ff8d 155px,#00ff95 160px,#02ff82 165px,#07ff63 170px,#09ff53 175px,#07ff63 180px,#07ff63 183px)"></div>
<div style="position:absolute;left:0;top:30px;width:184px;height:2px;background:linear-gradient(90deg,#ffaf00 0px,#ffaf00 2px,#ffaf00 4px,#ffb700 6px,#ffd200 8px,#e2ee00 10px,#a2ff01 12px,#44ff07 14px,#12ff17 16px,#0fff2c 18px,#0eff33 20px,#0bff45 25px,#08ff5d 30px,#05ff72 35px,#04ff76 40px,#04ff78 45px,#03ff7a 50px,#03ff7c 55px,#03ff7e 60px,#03ff7c 65px,#03ff7b 70px,#04ff79 75px,#04ff77 80px,#04ff75 85px,#04ff74 90px,#04ff74 95px,#04ff74 100px,#04ff74 105px,#04ff74 110px,#04ff76 115px,#04ff78 120px,#03ff7b 125px,#03ff7c 130px,#03ff7a 135px,#04ff76 140px,#04ff73 145px,#05ff70 150px,#06ff68 155px,#09ff52 160px,#08ff57 165px,#09ff56 170px,#0bff44 175px,#0cff3f 180px,#0cff3d 183px)"></div>
<div style="position:absolute;left:0;top:32px;width:184px;height:2px;background:linear-gradient(90deg,#ffd300 0px,#ffd300 2px,#ffd300 4px,#ffdc00 6px,#e9eb00 8px,#c2fc00 10px,#73ff04 12px,#2fff08 14px,#13ff10 16px,#12ff17 18px,#11ff1a 20px,#10ff25 25px,#0eff33 30px,#0cff3f 35px,#0cff41 40px,#0bff43 45px,#0bff44 50px,#0bff45 55px,#0bff46 60px,#0bff45 65px,#0bff44 70px,#0bff43 75px,#0bff42 80px,#0cff41 85px,#0cff40 90px,#0cff40 95px,#0cff40 100px,#0cff40 105px,#0cff40 110px,#0bff42 115px,#0bff43 120px,#0bff44 125px,#0bff45 130px,#0bff44 135px,#0cff41 140px,#0cff3f 145px,#0cff3e 150px,#0eff30 155px,#0dff35 160px,#10ff1f 165px,#0eff30 170px,#10ff22 175px,#11ff19 180px,#10ff22 183px)"></div>
<div style="position:absolute;left:0;top:34px;width:184px;height:2px;background:linear-gradient(90deg,#ffc600 0px,#ffc600 2px,#ffc600 4px,#ffc700 6px,#ffce00 8px,#fde100 10px,#e1ee00 12px,#c1fd00 14px,#82ff03 16px,#4aff06 18px,#2aff08 20px,#15ff09 25px,#13ff0f 30px,#12ff15 35px,#12ff16 40px,#12ff16 45px,#12ff17 50px,#12ff17 55px,#11ff18 60px,#12ff17 65px,#12ff17 70px,#12ff16 75px,#12ff16 80px,#12ff16 85px,#12ff15 90px,#12ff15 95px,#12ff15 100px,#12ff15 105px,#12ff15 110px,#12ff16 115px,#12ff17 120px,#11ff19 125px,#11ff19 130px,#11ff19 135px,#12ff17 140px,#12ff12 145px,#16ff09 150px,#1aff09 155px,#13ff0a 160px,#23ff09 165px,#35ff08 170px,#37ff07 175px,#1cff09 180px,#15ff09 183px)"></div>
<div style="position:absolute;left:0;top:36px;width:184px;height:2px;background:linear-gradient(90deg,#ffab00 0px,#ffab00 2px,#ffab00 4px,#ffab00 6px,#ffb200 8px,#ffc700 10px,#fae300 12px,#d6f300 14px,#a5ff01 16px,#62ff05 18px,#38ff07 20px,#1dff09 25px,#1cff09 30px,#1bff09 35px,#1bff09 40px,#1bff09 45px,#1bff09 50px,#1bff09 55px,#1bff09 60px,#1bff09 65px,#1bff09 70px,#1bff09 75px,#1bff09 80px,#1bff09 85px,#1bff09 90px,#1bff09 95px,#1bff09 100px,#1bff09 105px,#1bff09 110px,#1cff09 115px,#1cff09 120px,#1cff09 125px,#1cff09 130px,#1dff09 135px,#20ff09 140px,#28ff08 145px,#2dff08 150px,#33ff08 155px,#43ff07 160px,#54ff06 165px,#4fff06 170px,#5dff05 175px,#3eff07 180px,#46ff07 183px)"></div>
<div style="position:absolute;left:0;top:38px;width:184px;height:2px;background:linear-gradient(90deg,#ffc000 0px,#ffc000 2px,#ffc000 4px,#ffc700 6px,#ffde00 8px,#dcf000 10px,#a7ff01 12px,#5aff05 14px,#2aff08 16px,#1eff09 18px,#1eff09 20px,#1eff09 25px,#1eff09 30px,#1eff09 35px,#1eff09 40px,#1eff09 45px,#1eff09 50px,#1eff09 55px,#1eff09 60px,#1eff09 65px,#1eff09 70px,#1eff09 75px,#1eff09 80px,#1eff09 85px,#1eff09 90px,#1eff09 95px,#1eff09 100px,#1eff09 105px,#1fff09 110px,#1fff09 115px,#1fff09 120px,#20ff09 125px,#20ff09 130px,#20ff09 135px,#27ff08 140px,#33ff08 145px,#3dff07 150px,#4bff06 155px,#5dff05 160px,#5bff05 165px,#55ff06 170px,#6aff04 175px,#58ff05 180px,#6cff04 183px)"></div>
<div style="position:absolute;left:0;top:40px;width:184px;height:2px;background:linear-gradient(90deg,#ffaa00 0px,#ffaa00 2px,#ffaa00 4px,#ffaa00 6px,#ffaf00 8px,#ffbf00 10px,#ffd800 12px,#e8eb00 14px,#c7fa00 16px,#92ff02 18px,#62ff05 20px,#38ff07 25px,#38ff07 30px,#38ff07 35px,#38ff07 40px,#38ff07 45px,#38ff07 50px,#38ff07 55px,#38ff07 60px,#38ff07 65px,#38ff07 70px,#38ff07 75px,#38ff07 80px,#38ff07 85px,#38ff07 90px,#38ff07 95px,#38ff07 100px,#38ff07 105px,#38ff07 110px,#37ff07 115px,#36ff07 120px,#34ff08 125px,#33ff08 130px,#31ff08 135px,#37ff07 140px,#48ff06 145px,#5bff05 150px,#6eff04 155px,#76ff04 160px,#7fff03 165px,#88ff03 170px,#6eff04 175px,#7cff03 180px,#7bff03 183px)"></div>
<div style="position:absolute;left:0;top:42px;width:184px;height:2px;background:linear-gradient(90deg,#ffc900 0px,#ffc900 2px,#ffc900 4px,#ffcb00 6px,#ffda00 8px,#e9ea00 10px,#c7fa00 12px,#8cff02 14px,#52ff06 16px,#33ff08 18px,#2eff08 20px,#2dff08 25px,#2dff08 30px,#2dff08 35px,#2dff08 40px,#2dff08 45px,#2dff08 50px,#2dff08 55px,#2dff08 60px,#2dff08 65px,#2dff08 70px,#2dff08 75px,#2dff08 80px,#2dff08 85px,#2dff08 90px,#2dff08 95px,#2dff08 100px,#2dff08 105px,#2dff08 110px,#2cff08 115px,#2cff08 120px,#2bff08 125px,#2bff08 130px,#2aff08 135px,#31ff08 140px,#46ff07 145px,#5aff05 150px,#76ff04 155px,#7fff03 160px,#8eff02 165px,#83ff03 170px,#92ff02 175px,#a0ff01 180px,#aaff01 183px)"></div>
<div style="position:absolute;left:0;top:44px;width:184px;height:2px;background:linear-gradient(90deg,#ffd400 0px,#ffd400 2px,#ffd400 4px,#ffda00 6px,#eee800 8px,#cbf800 10px,#8aff03 12px,#43ff07 14px,#18ff09 16px,#13ff0f 18px,#13ff0f 20px,#13ff0f 25px,#13ff0f 30px,#13ff0f 35px,#13ff0f 40px,#13ff0f 45px,#13ff0f 50px,#13ff0f 55px,#13ff0f 60px,#13ff0f 65px,#13ff0f 70px,#13ff0f 75px,#13ff0f 80px,#13ff0f 85px,#13ff0f 90px,#13ff0f 95px,#13ff0f 100px,#13ff0e 105px,#13ff0e 110px,#13ff0d 115px,#13ff0c 120px,#13ff0a 125px,#14ff09 130px,#17ff09 135px,#23ff09 140px,#35ff08 145px,#50ff06 150px,#82ff03 155px,#8fff02 160px,#9dff01 165px,#98ff02 170px,#8cff02 175px,#afff00 180px,#c1fd00 183px)"></div>
<div style="position:absolute;left:0;top:46px;width:184px;height:2px;background:linear-gradient(90deg,#ffc500 0px,#ffc500 2px,#ffc500 4px,#ffca00 6px,#ffde00 8px,#dfef00 10px,#b0ff00 12px,#60ff05 14px,#26ff08 16px,#13ff0e 18px,#13ff10 20px,#13ff10 25px,#13ff10 30px,#13ff10 35px,#13ff10 40px,#13ff10 45px,#13ff10 50px,#13ff10 55px,#13ff10 60px,#13ff10 65px,#13ff10 70px,#13ff10 75px,#13ff10 80px,#13ff10 85px,#13ff10 90px,#13ff10 95px,#13ff10 100px,#13ff0f 105px,#13ff0f 110px,#13ff0e 115px,#13ff0d 120px,#13ff0b 125px,#13ff0a 130px,#16ff09 135px,#24ff09 140px,#3dff07 145px,#64ff05 150px,#7aff03 155px,#9bff02 160px,#99ff02 165px,#99ff02 170px,#a3ff01 175px,#c3fc00 180px,#bdff00 183px)"></div>
<div style="position:absolute;left:0;top:48px;width:184px;height:2px;background:linear-gradient(90deg,#ffae00 0px,#ffae00 2px,#ffae00 4px,#ffb800 6px,#ffd500 8px,#deef00 10px,#a1ff01 12px,#51ff06 14px,#28ff08 16px,#22ff09 18px,#22ff09 20px,#22ff09 25px,#22ff09 30px,#22ff09 35px,#22ff09 40px,#22ff09 45px,#22ff09 50px,#22ff09 55px,#22ff09 60px,#22ff09 65px,#22ff09 70px,#22ff09 75px,#22ff09 80px,#22ff09 85px,#22ff09 90px,#22ff09 95px,#22ff09 100px,#23ff09 105px,#23ff09 110px,#23ff09 115px,#23ff09 120px,#23ff09 125px,#23ff09 130px,#23ff09 135px,#2eff08 140px,#50ff06 145px,#5dff05 150px,#81ff03 155px,#9fff01 160px,#a1ff01 165px,#b3ff00 170px,#c4fc00 175px,#d0f600 180px,#d8f200 183px)"></div>
<div style="position:absolute;left:0;top:50px;width:184px;height:2px;background:linear-gradient(90deg,#ffb000 0px,#ffb000 2px,#ffb000 4px,#ffb000 6px,#ffb800 8px,#ffcb00 10px,#f7e400 12px,#d5f400 14px,#a9ff01 16px,#6dff04 18px,#49ff06 20px,#36ff07 25px,#36ff07 30px,#36ff07 35px,#36ff07 40px,#36ff07 45px,#36ff07 50px,#36ff07 55px,#36ff07 60px,#36ff07 65px,#36ff07 70px,#36ff07 75px,#36ff07 80px,#36ff07 85px,#36ff07 90px,#36ff07 95px,#36ff07 100px,#36ff07 105px,#35ff08 110px,#35ff08 115px,#33ff08 120px,#32ff08 125px,#31ff08 130px,#31ff08 135px,#3bff07 140px,#52ff06 145px,#7aff03 150px,#94ff02 155px,#9aff02 160px,#b5ff00 165px,#baff00 170px,#cbf800 175px,#daf200 180px,#deef00 183px)"></div>
<div style="position:absolute;left:0;top:52px;width:184px;height:2px;background:linear-gradient(90deg,#ffcd00 0px,#ffcd00 2px,#ffcd00 4px,#ffd100 6px,#fce200 8px,#ddf000 10px,#b4ff00 12px,#6dff04 14px,#3aff07 16px,#27ff08 18px,#26ff08 20px,#26ff08 25px,#26ff08 30px,#26ff08 35px,#26ff08 40px,#26ff08 45px,#26ff08 50px,#26ff08 55px,#26ff08 60px,#26ff08 65px,#26ff08 70px,#26ff08 75px,#26ff08 80px,#26ff08 85px,#26ff08 90px,#26ff08 95px,#26ff08 100px,#26ff08 105px,#26ff08 110px,#26ff08 115px,#26ff08 120px,#26ff08 125px,#26ff08 130px,#26ff08 135px,#32ff08 140px,#4aff06 145px,#69ff04 150px,#88ff03 155px,#91ff02 160px,#a0ff01 165px,#bffe00 170px,#d2f500 175px,#dbf100 180px,#e0ef00 183px)"></div>
<div style="position:absolute;left:0;top:54px;width:184px;height:2px;background:linear-gradient(90deg,#ffa900 0px,#ffa900 2px,#ffa900 4px,#ffaa00 6px,#ffb400 8px,#ffcb00 10px,#f2e600 12px,#ccf800 14px,#8fff02 16px,#50ff06 18px,#30ff08 20px,#22ff09 25px,#22ff09 30px,#22ff09 35px,#22ff09 40px,#22ff09 45px,#22ff09 50px,#22ff09 55px,#22ff09 60px,#22ff09 65px,#22ff09 70px,#22ff09 75px,#22ff09 80px,#22ff09 85px,#22ff09 90px,#22ff09 95px,#22ff09 100px,#22ff09 105px,#22ff09 110px,#23ff09 115px,#23ff09 120px,#23ff09 125px,#23ff09 130px,#24ff09 135px,#33ff08 140px,#4cff06 145px,#60ff05 150px,#85ff03 155px,#9dff01 160px,#a8ff01 165px,#c2fd00 170px,#e1ee00 175px,#ece900 180px,#ebe900 183px)"></div>
<div style="position:absolute;left:0;top:56px;width:184px;height:2px;background:linear-gradient(90deg,#ffd600 0px,#ffd600 2px,#ffd600 4px,#ffd800 6px,#fae300 8px,#e0ee00 10px,#c0fd00 12px,#7eff03 14px,#43ff07 16px,#1fff09 18px,#16ff09 20px,#15ff09 25px,#15ff09 30px,#15ff09 35px,#15ff09 40px,#15ff09 45px,#15ff09 50px,#15ff09 55px,#15ff09 60px,#15ff09 65px,#15ff09 70px,#15ff09 75px,#15ff09 80px,#15ff09 85px,#15ff09 90px,#15ff09 95px,#15ff09 100px,#15ff09 105px,#16ff09 110px,#16ff09 115px,#17ff09 120px,#18ff09 125px,#1aff09 130px,#1bff09 135px,#29ff08 140px,#44ff07 145px,#63ff05 150px,#8cff02 155px,#9dff01 160px,#9bff02 165px,#c6fb00 170px,#dcf100 175px,#f6e400 180px,#f4e500 183px)"></div>
<div style="position:absolute;left:0;top:58px;width:184px;height:2px;background:linear-gradient(90deg,#ffd000 0px,#ffd000 2px,#ffd000 4px,#ffd800 6px,#eee800 8px,#c9f900 10px,#83ff03 12px,#3eff07 14px,#1aff09 16px,#15ff09 18px,#15ff09 20px,#15ff09 25px,#15ff09 30px,#15ff09 35px,#15ff09 40px,#15ff09 45px,#15ff09 50px,#15ff09 55px,#15ff09 60px,#15ff09 65px,#15ff09 70px,#15ff09 75px,#15ff09 80px,#15ff09 85px,#15ff09 90px,#15ff09 95px,#15ff09 100px,#15ff09 105px,#15ff09 110px,#16ff09 115px,#17ff09 120px,#18ff09 125px,#19ff09 130px,#1bff09 135px,#27ff08 140px,#45ff07 145px,#6aff04 150px,#84ff03 155px,#9cff01 160px,#a5ff01 165px,#c5fb00 170px,#e3ed00 175px,#ece900 180px,#eee800 183px)"></div>
<div style="position:absolute;left:0;top:60px;width:184px;height:2px;background:linear-gradient(90deg,#ffd500 0px,#ffd500 2px,#ffd500 4px,#ffd700 6px,#ffe000 8px,#e9ea00 10px,#ccf800 12px,#9aff02 14px,#5dff05 16px,#30ff08 18px,#1fff09 20px,#1aff09 25px,#1aff09 30px,#1aff09 35px,#1aff09 40px,#1aff09 45px,#1aff09 50px,#1aff09 55px,#1aff09 60px,#1aff09 65px,#1aff09 70px,#1aff09 75px,#1aff09 80px,#1aff09 85px,#1aff09 90px,#1aff09 95px,#1aff09 100px,#1aff09 105px,#1aff09 110px,#1aff09 115px,#1bff09 120px,#1cff09 125px,#1dff09 130px,#1fff09 135px,#29ff08 140px,#45ff07 145px,#68ff05 150px,#86ff03 155px,#a0ff01 160px,#a3ff01 165px,#c8fa00 170px,#d2f500 175px,#efe800 180px,#ece900 183px)"></div>
<div style="position:absolute;left:0;top:62px;width:184px;height:2px;background:linear-gradient(90deg,#e6ec00 0px,#e6ec00 2px,#e6ec00 4px,#e6ec00 6px,#e3ed00 8px,#d9f200 10px,#c9f900 12px,#abff01 14px,#7dff03 16px,#50ff06 18px,#2dff08 20px,#13ff0f 25px,#13ff0f 30px,#13ff0f 35px,#13ff0f 40px,#13ff0f 45px,#13ff0f 50px,#13ff0f 55px,#13ff0f 60px,#13ff0f 65px,#13ff0f 70px,#13ff0f 75px,#13ff0f 80px,#13ff0f 85px,#13ff0f 90px,#13ff0f 95px,#13ff0f 100px,#13ff0e 105px,#13ff0e 110px,#13ff0d 115px,#13ff0c 120px,#13ff0a 125px,#14ff09 130px,#17ff09 135px,#26ff08 140px,#3fff07 145px,#5aff05 150px,#86ff03 155px,#98ff02 160px,#afff00 165px,#bffe00 170px,#d0f600 175px,#ebe900 180px,#f0e700 183px)"></div>
<div style="position:absolute;left:0;top:64px;width:184px;height:2px;background:linear-gradient(90deg,#ede900 0px,#ede900 2px,#ede900 4px,#e9ea00 6px,#ddf000 8px,#c8fa00 10px,#9dff01 12px,#69ff04 14px,#48ff06 16px,#40ff07 18px,#40ff07 20px,#40ff07 25px,#40ff07 30px,#40ff07 35px,#40ff07 40px,#40ff07 45px,#40ff07 50px,#40ff07 55px,#40ff07 60px,#40ff07 65px,#40ff07 70px,#40ff07 75px,#40ff07 80px,#40ff07 85px,#40ff07 90px,#40ff07 95px,#40ff07 100px,#3fff07 105px,#3eff07 110px,#3dff07 115px,#3cff07 120px,#3aff07 125px,#38ff07 130px,#37ff07 135px,#3fff07 140px,#58ff05 145px,#79ff04 150px,#9aff02 155px,#a7ff01 160px,#b8ff00 165px,#cbf800 170px,#e1ee00 175px,#f2e600 180px,#fee100 183px)"></div>
<div style="position:absolute;left:0;top:66px;width:184px;height:2px;background:linear-gradient(90deg,#d6f300 0px,#d6f300 2px,#d6f300 4px,#d6f300 6px,#d5f400 8px,#d0f600 10px,#c6fb00 12px,#b2ff00 14px,#8dff02 16px,#65ff05 18px,#43ff07 20px,#24ff09 25px,#24ff09 30px,#24ff09 35px,#24ff09 40px,#24ff09 45px,#24ff09 50px,#24ff09 55px,#24ff09 60px,#24ff09 65px,#24ff09 70px,#24ff09 75px,#24ff09 80px,#24ff09 85px,#24ff09 90px,#24ff09 95px,#24ff09 100px,#24ff09 105px,#24ff09 110px,#24ff09 115px,#24ff09 120px,#24ff09 125px,#24ff09 130px,#26ff08 135px,#2fff08 140px,#4aff06 145px,#6dff04 150px,#89ff03 155px,#a4ff01 160px,#afff00 165px,#c1fd00 170px,#d1f500 175px,#f4e500 180px,#ffdf00 183px)"></div>
<div style="position:absolute;left:0;top:68px;width:184px;height:2px;background:linear-gradient(90deg,#c2fc00 0px,#c2fc00 2px,#c2fc00 4px,#c0fd00 6px,#b2ff00 8px,#91ff02 10px,#65ff05 12px,#39ff07 14px,#20ff09 16px,#1cff09 18px,#1cff09 20px,#1cff09 25px,#1cff09 30px,#1cff09 35px,#1cff09 40px,#1cff09 45px,#1cff09 50px,#1cff09 55px,#1cff09 60px,#1cff09 65px,#1cff09 70px,#1cff09 75px,#1cff09 80px,#1cff09 85px,#1cff09 90px,#1cff09 95px,#1cff09 100px,#1cff09 105px,#1dff09 110px,#1dff09 115px,#1eff09 120px,#1eff09 125px,#1fff09 130px,#20ff09 135px,#2cff08 140px,#49ff06 145px,#6dff04 150px,#91ff02 155px,#aaff01 160px,#b8ff00 165px,#c8f900 170px,#d4f400 175px,#e6ec00 180px,#f6e500 183px)"></div>
<div style="position:absolute;left:0;top:70px;width:184px;height:2px;background:linear-gradient(90deg,#b1ff00 0px,#b1ff00 2px,#b1ff00 4px,#b0ff00 6px,#aaff01 8px,#9aff02 10px,#80ff03 12px,#5dff05 14px,#38ff07 16px,#1aff09 18px,#13ff0f 20px,#12ff12 25px,#12ff12 30px,#12ff12 35px,#12ff12 40px,#12ff12 45px,#12ff12 50px,#12ff12 55px,#12ff12 60px,#12ff12 65px,#12ff12 70px,#12ff12 75px,#12ff12 80px,#12ff12 85px,#12ff12 90px,#12ff12 95px,#12ff12 100px,#12ff12 105px,#12ff11 110px,#13ff10 115px,#13ff0f 120px,#13ff0d 125px,#13ff0b 130px,#14ff09 135px,#25ff08 140px,#3bff07 145px,#66ff05 150px,#86ff03 155px,#a7ff01 160px,#b2ff00 165px,#cbf800 170px,#deef00 175px,#ede800 180px,#f9e300 183px)"></div>
<div style="position:absolute;left:0;top:72px;width:184px;height:2px;background:linear-gradient(90deg,#cff600 0px,#cff600 2px,#cff600 4px,#cdf700 6px,#c5fb00 8px,#acff01 10px,#7fff03 12px,#52ff06 14px,#35ff08 16px,#2eff08 18px,#2eff08 20px,#2eff08 25px,#2eff08 30px,#2eff08 35px,#2eff08 40px,#2eff08 45px,#2dff08 50px,#2dff08 55px,#2dff08 60px,#2dff08 65px,#2dff08 70px,#2dff08 75px,#2dff08 80px,#2dff08 85px,#2dff08 90px,#2dff08 95px,#2dff08 100px,#2dff08 105px,#2dff08 110px,#2dff08 115px,#2cff08 120px,#2cff08 125px,#2bff08 130px,#2cff08 135px,#37ff07 140px,#50ff06 145px,#6dff04 150px,#9cff01 155px,#a3ff01 160px,#acff01 165px,#c5fb00 170px,#dbf100 175px,#f1e700 180px,#eee800 183px)"></div>
<div style="position:absolute;left:0;top:74px;width:184px;height:2px;background:linear-gradient(90deg,#c1fd00 0px,#c1fd00 2px,#c1fd00 4px,#c1fd00 6px,#c0fe00 8px,#b7ff00 10px,#a4ff01 12px,#8bff02 14px,#6fff04 16px,#53ff06 18px,#3cff07 20px,#25ff08 25px,#25ff08 30px,#25ff08 35px,#25ff08 40px,#25ff08 45px,#24ff09 50px,#24ff09 55px,#24ff09 60px,#24ff09 65px,#24ff09 70px,#24ff09 75px,#24ff09 80px,#24ff09 85px,#24ff09 90px,#24ff09 95px,#24ff09 100px,#25ff08 105px,#25ff08 110px,#25ff08 115px,#25ff08 120px,#25ff08 125px,#25ff08 130px,#26ff08 135px,#32ff08 140px,#4aff06 145px,#72ff04 150px,#9aff02 155px,#a3ff01 160px,#a3ff01 165px,#c2fc00 170px,#deef00 175px,#ebe900 180px,#ede800 183px)"></div>
<div style="position:absolute;left:0;top:76px;width:184px;height:2px;background:linear-gradient(90deg,#daf100 0px,#daf100 2px,#daf100 4px,#daf200 6px,#d4f400 8px,#c8fa00 10px,#b1ff00 12px,#8bff02 14px,#68ff05 16px,#4eff06 18px,#45ff07 20px,#43ff07 25px,#43ff07 30px,#42ff07 35px,#42ff07 40px,#42ff07 45px,#42ff07 50px,#41ff07 55px,#41ff07 60px,#41ff07 65px,#41ff07 70px,#41ff07 75px,#41ff07 80px,#41ff07 85px,#41ff07 90px,#41ff07 95px,#42ff07 100px,#42ff07 105px,#41ff07 110px,#40ff07 115px,#3eff07 120px,#3cff07 125px,#3aff07 130px,#39ff07 135px,#41ff07 140px,#5eff05 145px,#7dff03 150px,#95ff02 155px,#a4ff01 160px,#b5ff00 165px,#caf900 170px,#e7eb00 175px,#fae300 180px,#fbe200 183px)"></div>
<div style="position:absolute;left:0;top:78px;width:184px;height:2px;background:linear-gradient(90deg,#b6ff00 0px,#b6ff00 2px,#b6ff00 4px,#b6ff00 6px,#b1ff00 8px,#a1ff01 10px,#8aff03 12px,#6eff04 14px,#51ff06 16px,#37ff07 18px,#25ff08 20px,#18ff09 25px,#17ff09 30px,#17ff09 35px,#17ff09 40px,#16ff09 45px,#16ff09 50px,#15ff09 55px,#15ff09 60px,#15ff09 65px,#14ff09 70px,#14ff09 75px,#14ff09 80px,#15ff09 85px,#15ff09 90px,#15ff09 95px,#16ff09 100px,#16ff09 105px,#17ff09 110px,#18ff09 115px,#19ff09 120px,#1aff09 125px,#1bff09 130px,#1dff09 135px,#2aff08 140px,#46ff07 145px,#63ff05 150px,#89ff03 155px,#9cff01 160px,#b2ff00 165px,#b0ff00 170px,#daf200 175px,#ede800 180px,#f3e600 183px)"></div>
<div style="position:absolute;left:0;top:80px;width:184px;height:2px;background:linear-gradient(90deg,#b4ff00 0px,#b4ff00 2px,#b4ff00 4px,#b3ff00 6px,#abff01 8px,#98ff02 10px,#7dff03 12px,#5fff05 14px,#42ff07 16px,#2aff08 18px,#1eff09 20px,#17ff09 25px,#17ff09 30px,#16ff09 35px,#15ff09 40px,#15ff09 45px,#14ff09 50px,#13ff0a 55px,#13ff0a 60px,#13ff0b 65px,#13ff0b 70px,#13ff0b 75px,#13ff0b 80px,#13ff0a 85px,#13ff0a 90px,#14ff09 95px,#14ff09 100px,#15ff09 105px,#16ff09 110px,#17ff09 115px,#19ff09 120px,#1aff09 125px,#1bff09 130px,#1dff09 135px,#29ff08 140px,#43ff07 145px,#64ff05 150px,#81ff03 155px,#a8ff01 160px,#abff01 165px,#bbff00 170px,#e5ec00 175px,#e4ed00 180px,#ece900 183px)"></div>
<div style="position:absolute;left:0;top:82px;width:184px;height:2px;background:linear-gradient(90deg,#dcf000 0px,#dcf000 2px,#dcf000 4px,#dbf100 6px,#d3f500 8px,#c5fb00 10px,#a7ff01 12px,#81ff03 14px,#60ff05 16px,#4cff06 18px,#48ff06 20px,#46ff07 25px,#45ff07 30px,#44ff07 35px,#43ff07 40px,#42ff07 45px,#41ff07 50px,#40ff07 55px,#3fff07 60px,#3fff07 65px,#3eff07 70px,#3eff07 75px,#3eff07 80px,#3fff07 85px,#40ff07 90px,#41ff07 95px,#42ff07 100px,#42ff07 105px,#42ff07 110px,#42ff07 115px,#41ff07 120px,#3fff07 125px,#3dff07 130px,#3cff07 135px,#45ff07 140px,#5eff05 145px,#7bff03 150px,#91ff02 155px,#b4ff00 160px,#b2ff00 165px,#c5fb00 170px,#d8f200 175px,#fde100 180px,#ffd900 183px)"></div>
<div style="position:absolute;left:0;top:84px;width:184px;height:2px;background:linear-gradient(90deg,#bcff00 0px,#bcff00 2px,#bbff00 4px,#b7ff00 6px,#a5ff01 8px,#87ff03 10px,#66ff05 12px,#48ff06 14px,#32ff08 16px,#2bff08 18px,#2aff08 20px,#29ff08 25px,#27ff08 30px,#26ff08 35px,#24ff09 40px,#22ff09 45px,#21ff09 50px,#1fff09 55px,#1eff09 60px,#1dff09 65px,#1dff09 70px,#1dff09 75px,#1dff09 80px,#1eff09 85px,#1fff09 90px,#20ff09 95px,#22ff09 100px,#23ff09 105px,#25ff08 110px,#26ff08 115px,#27ff08 120px,#28ff08 125px,#28ff08 130px,#28ff08 135px,#36ff07 140px,#4eff06 145px,#74ff04 150px,#9cff01 155px,#baff00 160px,#a8ff01 165px,#c7fa00 170px,#e0ef00 175px,#ebe900 180px,#fee100 183px)"></div>
<div style="position:absolute;left:0;top:86px;width:184px;height:2px;background:linear-gradient(90deg,#d8f200 0px,#d8f200 2px,#d7f300 4px,#d7f300 6px,#d4f400 8px,#cbf800 10px,#befe00 12px,#9eff01 14px,#7dff03 16px,#5fff05 18px,#4bff06 20px,#3bff07 25px,#38ff07 30px,#36ff07 35px,#34ff08 40px,#31ff08 45px,#2fff08 50px,#2dff08 55px,#2bff08 60px,#2aff08 65px,#2aff08 70px,#2aff08 75px,#2aff08 80px,#2bff08 85px,#2dff08 90px,#2fff08 95px,#31ff08 100px,#33ff08 105px,#34ff08 110px,#35ff08 115px,#36ff07 120px,#36ff07 125px,#35ff08 130px,#36ff07 135px,#3fff07 140px,#56ff06 145px,#78ff04 150px,#8dff02 155px,#b4ff00 160px,#a3ff01 165px,#c5fb00 170px,#dfef00 175px,#f7e400 180px,#ffde00 183px)"></div>
<div style="position:absolute;left:0;top:88px;width:184px;height:2px;background:linear-gradient(90deg,#c9f900 0px,#c9f900 2px,#c9f900 4px,#c8fa00 6px,#c5fb00 8px,#bbff00 10px,#a0ff01 12px,#80ff03 14px,#5fff05 16px,#41ff07 18px,#2cff08 20px,#1bff09 25px,#17ff09 30px,#14ff09 35px,#13ff0d 40px,#13ff10 45px,#12ff13 50px,#12ff16 55px,#11ff18 60px,#11ff19 65px,#11ff1a 70px,#11ff1a 75px,#11ff19 80px,#12ff17 85px,#12ff14 90px,#12ff12 95px,#13ff0e 100px,#13ff0b 105px,#15ff09 110px,#18ff09 115px,#1bff09 120px,#1eff09 125px,#20ff09 130px,#22ff09 135px,#31ff08 140px,#4dff06 145px,#6dff04 150px,#8dff02 155px,#9fff01 160px,#b3ff00 165px,#befe00 170px,#d6f300 175px,#ede900 180px,#f3e600 183px)"></div>
<div style="position:absolute;left:0;top:90px;width:184px;height:2px;background:linear-gradient(90deg,#c5fb00 0px,#c4fb00 2px,#c3fc00 4px,#c2fc00 6px,#befe00 8px,#a8ff01 10px,#89ff03 12px,#67ff05 14px,#45ff07 16px,#27ff08 18px,#15ff09 20px,#12ff16 25px,#11ff1c 30px,#10ff22 35px,#0fff28 40px,#0eff2d 45px,#0eff32 50px,#0dff36 55px,#0dff39 60px,#0dff3a 65px,#0dff3a 70px,#0dff39 75px,#0dff37 80px,#0eff33 85px,#0eff2f 90px,#0fff2a 95px,#10ff24 100px,#10ff1f 105px,#11ff19 110px,#12ff14 115px,#13ff0f 120px,#13ff0b 125px,#16ff09 130px,#19ff09 135px,#2aff08 140px,#45ff07 145px,#62ff05 150px,#84ff03 155px,#98ff02 160px,#a4ff01 165px,#c3fc00 170px,#d7f300 175px,#e7eb00 180px,#efe800 183px)"></div>
<div style="position:absolute;left:0;top:92px;width:184px;height:2px;background:linear-gradient(90deg,#8fff02 0px,#8dff02 2px,#89ff03 4px,#85ff03 6px,#7bff03 8px,#69ff04 10px,#50ff06 12px,#34ff08 14px,#19ff09 16px,#11ff1a 18px,#0fff28 20px,#0dff37 25px,#0cff41 30px,#0aff49 35px,#09ff52 40px,#08ff59 45px,#07ff5f 50px,#07ff64 55px,#06ff67 60px,#06ff69 65px,#06ff69 70px,#06ff67 75px,#07ff64 80px,#07ff5f 85px,#08ff58 90px,#09ff50 95px,#0bff48 100px,#0cff3e 105px,#0dff35 110px,#0fff2c 115px,#10ff23 120px,#11ff1c 125px,#12ff15 130px,#13ff0f 135px,#1bff09 140px,#3bff07 145px,#5bff05 150px,#88ff03 155px,#93ff02 160px,#a9ff01 165px,#c0fd00 170px,#e4ed00 175px,#e7eb00 180px,#e1ee00 183px)"></div>
<div style="position:absolute;left:0;top:94px;width:184px;height:2px;background:linear-gradient(90deg,#aeff00 0px,#a9ff01 2px,#a2ff01 4px,#93ff02 6px,#75ff04 8px,#51ff06 10px,#2eff08 12px,#13ff0a 14px,#12ff16 16px,#11ff1b 18px,#10ff20 20px,#0fff2c 25px,#0dff37 30px,#0cff41 35px,#0aff4a 40px,#09ff52 45px,#08ff58 50px,#08ff5d 55px,#07ff60 60px,#07ff62 65px,#07ff62 70px,#07ff60 75px,#08ff5d 80px,#08ff58 85px,#09ff51 90px,#0bff48 95px,#0cff3d 100px,#0eff32 105px,#0fff26 110px,#11ff1b 115px,#12ff11 120px,#15ff09 125px,#1dff09 130px,#23ff09 135px,#32ff08 140px,#49ff06 145px,#71ff04 150px,#7dff03 155px,#a6ff01 160px,#b5ff00 165px,#c8fa00 170px,#daf100 175px,#f1e700 180px,#fee100 183px)"></div>
<div style="position:absolute;left:0;top:96px;width:184px;height:2px;background:linear-gradient(90deg,#77ff04 0px,#70ff04 2px,#65ff05 4px,#56ff06 6px,#3bff07 8px,#19ff09 10px,#10ff24 12px,#0cff3e 14px,#09ff51 16px,#08ff59 18px,#07ff5f 20px,#06ff6b 25px,#04ff76 30px,#03ff80 35px,#01ff89 40px,#00ff90 45px,#00fe96 50px,#00fd99 55px,#00fc9c 60px,#00fb9d 65px,#00fb9e 70px,#00fc9d 75px,#00fc9b 80px,#00fe98 85px,#00ff92 90px,#01ff8a 95px,#03ff7f 100px,#05ff72 105px,#07ff63 110px,#09ff54 115px,#0bff44 120px,#0dff35 125px,#0fff28 130px,#11ff1c 135px,#13ff0a 140px,#38ff07 145px,#53ff06 150px,#7cff03 155px,#96ff02 160px,#9eff01 165px,#bffe00 170px,#d3f500 175px,#f3e600 180px,#f9e300 183px)"></div>
<div style="position:absolute;left:0;top:98px;width:184px;height:2px;background:linear-gradient(90deg,#6dff04 0px,#65ff05 2px,#59ff05 4px,#4dff06 6px,#3cff07 8px,#25ff08 10px,#13ff10 12px,#10ff25 14px,#0dff37 16px,#0bff45 18px,#0aff4d 20px,#08ff5a 25px,#06ff65 30px,#05ff6f 35px,#04ff77 40px,#03ff7e 45px,#02ff84 50px,#01ff89 55px,#01ff8d 60px,#00ff90 65px,#00ff91 70px,#00ff91 75px,#00ff8f 80px,#01ff8b 85px,#02ff85 90px,#03ff7c 95px,#05ff72 100px,#06ff65 105px,#09ff56 110px,#0bff47 115px,#0dff37 120px,#0fff27 125px,#11ff1a 130px,#13ff0e 135px,#23ff09 140px,#3fff07 145px,#67ff05 150px,#89ff03 155px,#abff01 160px,#b6ff00 165px,#c5fb00 170px,#e8eb00 175px,#eaea00 180px,#f5e500 183px)"></div>
<div style="position:absolute;left:0;top:100px;width:184px;height:2px;background:linear-gradient(90deg,#1eff09 0px,#16ff09 2px,#12ff11 4px,#11ff1e 6px,#0eff30 8px,#0bff45 10px,#08ff58 12px,#06ff67 14px,#05ff71 16px,#04ff77 18px,#03ff7d 20px,#01ff8a 25px,#00fe96 30px,#00fc9d 35px,#00f9a4 40px,#00f7aa 45px,#00f4b0 50px,#00f3b5 55px,#00f1b9 60px,#00f0bc 65px,#00efbd 70px,#00efbd 75px,#00f0bb 80px,#00f1b8 85px,#00f3b3 90px,#00f6ac 95px,#00f9a3 100px,#00fd98 105px,#01ff88 110px,#04ff76 115px,#07ff62 120px,#0aff4e 125px,#0cff3c 130px,#0fff2c 135px,#12ff16 140px,#29ff08 145px,#50ff06 150px,#7dff03 155px,#8fff02 160px,#a5ff01 165px,#b4ff00 170px,#d0f600 175px,#f2e600 180px,#f9e300 183px)"></div>
<div style="position:absolute;left:0;top:102px;width:184px;height:2px;background:linear-gradient(90deg,#49ff06 0px,#41ff07 2px,#37ff07 4px,#2bff08 6px,#1dff09 8px,#12ff11 10px,#10ff23 12px,#0eff33 14px,#0bff42 16px,#0aff4d 18px,#09ff55 20px,#06ff65 25px,#05ff72 30px,#03ff7f 35px,#01ff8a 40px,#00ff95 45px,#00fc9d 50px,#00f9a3 55px,#00f7a9 60px,#00f6ad 65px,#00f5af 70px,#00f5af 75px,#00f6ad 80px,#00f7a9 85px,#00faa2 90px,#00fd99 95px,#01ff8c 100px,#03ff7c 105px,#06ff6a 110px,#09ff56 115px,#0bff43 120px,#0eff31 125px,#10ff21 130px,#12ff14 135px,#1cff09 140px,#3bff07 145px,#62ff05 150px,#8aff03 155px,#9fff01 160px,#a6ff01 165px,#c5fb00 170px,#dfef00 175px,#f1e700 180px,#fee100 183px)"></div>
<div style="position:absolute;left:0;top:104px;width:184px;height:2px;background:linear-gradient(90deg,#11ff1d 0px,#10ff23 2px,#0fff2c 4px,#0dff35 6px,#0cff3f 8px,#0aff4b 10px,#08ff59 12px,#06ff67 14px,#04ff75 16px,#02ff81 18px,#01ff8c 20px,#00fc9d 25px,#00f7aa 30px,#00f2b6 35px,#00eec2 40px,#00e9cd 45px,#00e6d7 50px,#00e2e0 55px,#00dfe8 60px,#00dded 65px,#00dcf0 70px,#00dcf0 75px,#00dded 80px,#00dfe8 85px,#00e2e0 90px,#00e7d4 95px,#00ecc7 100px,#00f2b7 105px,#00f9a5 110px,#00ff91 115px,#04ff78 120px,#07ff60 125px,#0aff4b 130px,#0dff39 135px,#10ff20 140px,#20ff09 145px,#47ff06 150px,#72ff04 155px,#88ff03 160px,#99ff02 165px,#acff01 170px,#caf900 175px,#dbf100 180px,#f2e600 183px)"></div>
<div style="position:absolute;left:0;top:106px;width:184px;height:2px;background:linear-gradient(90deg,#12ff16 0px,#11ff1b 2px,#10ff22 4px,#0fff2a 6px,#0dff35 8px,#0cff41 10px,#0aff4e 12px,#08ff5b 14px,#06ff66 16px,#05ff70 18px,#04ff78 20px,#01ff8d 25px,#00fb9f 30px,#00f5af 35px,#00efbf 40px,#00e9ce 45px,#00e4dc 50px,#00dfe8 55px,#00dcf1 60px,#00d9f8 65px,#00d8fc 70px,#00d8fc 75px,#00d9f9 80px,#00dbf2 85px,#00dfe8 90px,#00e4da 95px,#00ebc9 100px,#00f2b5 105px,#00faa0 110px,#01ff88 115px,#05ff6d 120px,#09ff55 125px,#0cff40 130px,#0eff2f 135px,#11ff19 140px,#2cff08 145px,#55ff06 150px,#74ff04 155px,#9bff02 160px,#a6ff01 165px,#c5fb00 170px,#d1f500 175px,#f4e500 180px,#f8e400 183px)"></div>
<div style="position:absolute;left:0;top:108px;width:184px;height:2px;background:linear-gradient(90deg,#27ff08 0px,#23ff09 2px,#1cff09 4px,#15ff09 6px,#13ff0f 8px,#11ff18 10px,#10ff21 12px,#0fff2b 14px,#0dff34 16px,#0cff3e 18px,#0bff48 20px,#07ff61 25px,#03ff7c 30px,#00fe97 35px,#00f6ab 40px,#00efbf 45px,#00e8d0 50px,#00e3de 55px,#00dfe9 60px,#00dcf1 65px,#00daf5 70px,#00daf5 75px,#00dcf1 80px,#00deea 85px,#00e3de 90px,#00e9ce 95px,#00f0ba 100px,#00f9a4 105px,#01ff89 110px,#06ff6b 115px,#0aff4e 120px,#0dff36 125px,#10ff23 130px,#12ff14 135px,#1fff09 140px,#40ff07 145px,#62ff05 150px,#83ff03 155px,#a2ff01 160px,#b5ff00 165px,#c7fa00 170px,#dfef00 175px,#ffd700 180px,#ffcf00 183px)"></div>
<div style="position:absolute;left:0;top:110px;width:184px;height:2px;background:linear-gradient(90deg,#0fff2a 0px,#0eff2e 2px,#0dff34 4px,#0dff3a 6px,#0cff41 8px,#0aff49 10px,#09ff51 12px,#08ff5a 14px,#07ff64 16px,#05ff6e 18px,#04ff78 20px,#00fe96 25px,#00f5ae 30px,#00ecc7 35px,#00e2df 40px,#00daf6 45px,#00cfff 50px,#00c5ff 55px,#00bdff 60px,#00b8ff 65px,#00b5ff 70px,#00b5ff 75px,#00b8ff 80px,#00bdff 85px,#00c5ff 90px,#00d1ff 95px,#00dcf1 100px,#00e5d8 105px,#00f0bc 110px,#00fba0 115px,#03ff80 120px,#07ff61 125px,#0bff48 130px,#0eff32 135px,#11ff19 140px,#2aff08 145px,#4dff06 150px,#7cff03 155px,#9cff01 160px,#a4ff01 165px,#caf900 170px,#e6ec00 175px,#ffde00 180px,#ffd000 183px)"></div>
<div style="position:absolute;left:0;top:112px;width:184px;height:2px;background:linear-gradient(90deg,#11ff1c 0px,#10ff21 2px,#0fff27 4px,#0eff2e 6px,#0dff36 8px,#0cff3e 10px,#0bff48 12px,#09ff52 14px,#08ff5d 16px,#06ff68 18px,#04ff75 20px,#00fe97 25px,#00f3b4 30px,#00e8d0 35px,#00deeb 40px,#00d3ff 45px,#00c6ff 50px,#00bcff 55px,#00b5ff 60px,#00b0ff 65px,#00aeff 70px,#00afff 75px,#00b1ff 80px,#00b6ff 85px,#00beff 90px,#00caff 95px,#00d8fb 100px,#00e2e1 105px,#00edc3 110px,#00f9a4 115px,#02ff81 120px,#07ff5f 125px,#0bff42 130px,#0fff2c 135px,#12ff13 140px,#2fff08 145px,#54ff06 150px,#84ff03 155px,#a4ff01 160px,#b0ff00 165px,#d0f600 170px,#f8e300 175px,#ffd000 180px,#ffc000 183px)"></div>
<div style="position:absolute;left:0;top:114px;width:184px;height:2px;background:linear-gradient(90deg,#0eff32 0px,#0dff37 2px,#0cff3e 4px,#0bff46 6px,#0aff4f 8px,#08ff59 10px,#07ff64 12px,#05ff70 14px,#03ff7d 16px,#01ff8b 18px,#00fd99 20px,#00f2b7 25px,#00e6d7 30px,#00daf6 35px,#00c9ff 40px,#00b9ff 45px,#00adff 50px,#00a4ff 55px,#009eff 60px,#009bff 65px,#009aff 70px,#009aff 75px,#009cff 80px,#00a1ff 85px,#00a8ff 90px,#00b3ff 95px,#00c1ff 100px,#00d4ff 105px,#00e1e2 110px,#00eec0 115px,#00fb9e 120px,#04ff78 125px,#09ff56 130px,#0cff3c 135px,#10ff20 140px,#24ff09 145px,#4dff06 150px,#71ff04 155px,#a2ff01 160px,#a9ff01 165px,#dfef00 170px,#f6e400 175px,#ffc000 180px,#ffb400 183px)"></div>
<div style="position:absolute;left:0px;top:116px;width:2px;height:42px;background:linear-gradient(180deg,#0eff2e 0px,#0bff43 4px,#0eff2f 8px,#0bff42 12px,#0dff39 16px,#10ff22 20px,#13ff0f 24px,#2eff08 28px,#75ff04 32px,#abff01 36px,#a3ff01 40px,#a1ff01 41px)"></div>
<div style="position:absolute;left:2px;top:116px;width:2px;height:42px;background:linear-gradient(180deg,#0dff36 0px,#0aff4c 4px,#0dff39 8px,#0aff4d 12px,#0aff4c 16px,#0aff4b 20px,#0aff4b 24px,#0dff3a 28px,#2aff08 32px,#6eff04 36px,#65ff05 40px,#63ff05 41px)"></div>
<div style="position:absolute;left:4px;top:116px;width:2px;height:42px;background:linear-gradient(180deg,#0cff3e 0px,#08ff57 4px,#0bff45 8px,#08ff58 12px,#09ff52 16px,#0aff4e 20px,#0bff46 24px,#0eff2f 28px,#1bff09 32px,#3eff07 36px,#5cff05 40px,#60ff05 41px)"></div>
<div style="position:absolute;left:6px;top:116px;width:2px;height:42px;background:linear-gradient(180deg,#0bff48 0px,#07ff62 4px,#09ff52 8px,#07ff63 12px,#09ff50 16px,#0eff32 20px,#11ff1a 24px,#24ff09 28px,#86ff03 32px,#caf900 36px,#cff600 40px,#cff600 41px)"></div>
<div style="position:absolute;left:8px;top:116px;width:2px;height:42px;background:linear-gradient(180deg,#09ff52 0px,#05ff6f 4px,#07ff60 8px,#05ff72 12px,#08ff5b 16px,#0fff29 20px,#13ff0b 24px,#30ff08 28px,#84ff03 32px,#bffe00 36px,#b3ff00 40px,#b0ff00 41px)"></div>
<div style="position:absolute;left:10px;top:116px;width:2px;height:42px;background:linear-gradient(180deg,#07ff5e 0px,#03ff7e 4px,#05ff71 8px,#02ff84 12px,#04ff73 16px,#09ff55 20px,#0eff30 24px,#25ff08 28px,#69ff04 32px,#8dff02 36px,#68ff05 40px,#62ff05 41px)"></div>
<div style="position:absolute;left:12px;top:116px;width:2px;height:42px;background:linear-gradient(180deg,#06ff6b 0px,#01ff8d 4px,#02ff83 8px,#00fe96 12px,#03ff7f 16px,#08ff57 20px,#0fff28 24px,#3aff07 28px,#8aff03 32px,#baff00 36px,#c0fd00 40px,#c1fd00 41px)"></div>
<div style="position:absolute;left:14px;top:116px;width:2px;height:42px;background:linear-gradient(180deg,#04ff79 0px,#00fc9c 4px,#00fe97 8px,#00f7a9 12px,#00fd9b 16px,#04ff79 20px,#08ff58 24px,#0fff2c 28px,#4bff06 32px,#93ff02 36px,#a1ff01 40px,#a2ff01 41px)"></div>
<div style="position:absolute;left:16px;top:116px;width:2px;height:42px;background:linear-gradient(180deg,#01ff88 0px,#00f7aa 4px,#00f7a8 8px,#00f0bd 12px,#00f7aa 16px,#02ff81 20px,#09ff55 24px,#10ff20 28px,#68ff05 32px,#befe00 36px,#bffe00 40px,#befe00 41px)"></div>
<div style="position:absolute;left:18px;top:116px;width:2px;height:42px;background:linear-gradient(180deg,#00fe98 0px,#00f1b9 4px,#00f0bc 8px,#00e7d3 12px,#00efbe 16px,#00ff92 20px,#07ff61 24px,#0eff2d 28px,#41ff07 32px,#79ff04 36px,#7fff03 40px,#7fff03 41px)"></div>
<div style="position:absolute;left:20px;top:116px;width:2px;height:42px;background:linear-gradient(180deg,#00f9a5 0px,#00ebc9 4px,#00e8d1 8px,#00ddee 12px,#00e5d8 16px,#00f7a9 20px,#04ff74 24px,#0eff33 28px,#51ff06 32px,#9eff01 36px,#90ff02 40px,#8dff02 41px)"></div>
<div style="position:absolute;left:22px;top:116px;width:2px;height:42px;background:linear-gradient(180deg,#00f4b2 0px,#00e5da 4px,#00dfe8 8px,#00cfff 12px,#00dcef 16px,#00f5af 20px,#05ff6d 24px,#0fff2b 28px,#35ff08 32px,#56ff06 36px,#6cff04 40px,#6fff04 41px)"></div>
<div style="position:absolute;left:24px;top:116px;width:2px;height:42px;background:linear-gradient(180deg,#00eec0 0px,#00deeb 4px,#00d6ff 8px,#00baff 12px,#00cbff 16px,#00edc3 20px,#01ff8e 24px,#07ff62 28px,#20ff09 32px,#74ff04 36px,#70ff04 40px,#6eff04 41px)"></div>
<div style="position:absolute;left:26px;top:116px;width:2px;height:42px;background:linear-gradient(180deg,#00e9ce 0px,#00d7fc 4px,#00c5ff 8px,#00a6ff 12px,#00bcff 16px,#00eacb 20px,#05ff6c 24px,#12ff11 28px,#69ff04 32px,#98ff02 36px,#a3ff01 40px,#a4ff01 41px)"></div>
<div style="position:absolute;left:28px;top:116px;width:2px;height:42px;background:linear-gradient(180deg,#00e4dc 0px,#00ccff 4px,#00b4ff 8px,#0095ff 12px,#00adff 16px,#00e8d1 20px,#09ff55 24px,#42ff07 28px,#b8ff00 32px,#d8f200 36px,#d4f400 40px,#d3f400 41px)"></div>
<div style="position:absolute;left:30px;top:116px;width:2px;height:42px;background:linear-gradient(180deg,#00deea 0px,#00c0ff 4px,#00a5ff 8px,#0082ff 12px,#0091ff 16px,#00d2ff 20px,#00f5ae 24px,#06ff6b 28px,#11ff19 32px,#36ff07 36px,#4aff06 40px,#4cff06 41px)"></div>
<div style="position:absolute;left:32px;top:116px;width:2px;height:42px;background:linear-gradient(180deg,#00d9f8 0px,#00b5ff 4px,#0098ff 8px,#0076ff 12px,#0088ff 16px,#00d1ff 20px,#00fd9b 24px,#0dff38 28px,#71ff04 32px,#c9f900 36px,#c5fb00 40px,#c3fc00 41px)"></div>
<div style="position:absolute;left:34px;top:116px;width:2px;height:42px;background:linear-gradient(180deg,#00d2ff 0px,#00aaff 4px,#008cff 8px,#006cff 12px,#007cff 16px,#00c7ff 20px,#00fb9f 24px,#0dff38 28px,#5aff05 32px,#a1ff01 36px,#bbff00 40px,#befe00 41px)"></div>
<div style="position:absolute;left:36px;top:116px;width:2px;height:42px;background:linear-gradient(180deg,#00caff 0px,#00a1ff 4px,#0083ff 8px,#0468ff 12px,#0073ff 16px,#00baff 20px,#00f5ae 24px,#0aff4b 28px,#54ff06 32px,#acff01 36px,#befe00 40px,#bffe00 41px)"></div>
<div style="position:absolute;left:38px;top:116px;width:2px;height:42px;background:linear-gradient(180deg,#00c2ff 0px,#0099ff 4px,#007cff 8px,#0664ff 12px,#0468ff 16px,#009fff 20px,#00e4db 24px,#02ff85 28px,#10ff23 32px,#2cff08 36px,#1eff09 40px,#1bff09 41px)"></div>
<div style="position:absolute;left:40px;top:116px;width:2px;height:42px;background:linear-gradient(180deg,#00bbff 0px,#0092ff 4px,#0077ff 8px,#0763ff 12px,#0369ff 16px,#00a6ff 20px,#00efbf 24px,#0bff46 28px,#58ff05 32px,#a0ff01 36px,#a4ff01 40px,#a4ff01 41px)"></div>
<div style="position:absolute;left:42px;top:116px;width:2px;height:42px;background:linear-gradient(180deg,#00b4ff 0px,#008cff 4px,#0073ff 8px,#0862ff 12px,#0467ff 16px,#00a8ff 20px,#00f1b9 24px,#0cff3c 28px,#54ff06 32px,#89ff03 36px,#a6ff01 40px,#a9ff01 41px)"></div>
<div style="position:absolute;left:44px;top:116px;width:2px;height:42px;background:linear-gradient(180deg,#00afff 0px,#0088ff 4px,#0071ff 8px,#0862ff 12px,#026aff 16px,#00abff 20px,#00f7a9 24px,#13ff0d 28px,#9aff02 32px,#c9f900 36px,#d0f600 40px,#d0f600 41px)"></div>
<div style="position:absolute;left:46px;top:116px;width:2px;height:42px;background:linear-gradient(180deg,#00aaff 0px,#0084ff 4px,#0070ff 8px,#0961ff 12px,#0665ff 16px,#009dff 20px,#00e8d0 24px,#07ff5f 28px,#3eff07 32px,#82ff03 36px,#81ff03 40px,#80ff03 41px)"></div>
<div style="position:absolute;left:48px;top:116px;width:2px;height:42px;background:linear-gradient(180deg,#00a6ff 0px,#0082ff 4px,#006fff 8px,#0861ff 12px,#0665ff 16px,#0095ff 20px,#00dfe8 24px,#02ff85 28px,#3eff07 32px,#b7ff00 36px,#b8ff00 40px,#b6ff00 41px)"></div>
<div style="position:absolute;left:50px;top:116px;width:2px;height:42px;background:linear-gradient(180deg,#00a2ff 0px,#0080ff 4px,#0070ff 8px,#0861ff 12px,#0565ff 16px,#0098ff 20px,#00e2e1 24px,#04ff74 28px,#43ff07 32px,#a5ff01 36px,#a7ff01 40px,#a6ff01 41px)"></div>
<div style="position:absolute;left:52px;top:116px;width:2px;height:42px;background:linear-gradient(180deg,#009fff 0px,#0080ff 4px,#0071ff 8px,#0861ff 12px,#0664ff 16px,#0091ff 20px,#00daf4 24px,#00ff90 28px,#11ff1d 32px,#35ff08 36px,#39ff07 40px,#39ff07 41px)"></div>
<div style="position:absolute;left:54px;top:116px;width:2px;height:42px;background:linear-gradient(180deg,#009dff 0px,#0080ff 4px,#0073ff 8px,#0763ff 12px,#0468ff 16px,#0098ff 20px,#00daf5 24px,#00fc9c 28px,#37ff07 32px,#c0fe00 36px,#a9ff01 40px,#a4ff01 41px)"></div>
<div style="position:absolute;left:56px;top:116px;width:2px;height:42px;background:linear-gradient(180deg,#009bff 0px,#0080ff 4px,#0075ff 8px,#0565ff 12px,#006fff 16px,#00a6ff 20px,#00e7d3 24px,#08ff57 28px,#56ff06 32px,#a1ff01 36px,#a6ff01 40px,#a6ff01 41px)"></div>
<div style="position:absolute;left:58px;top:116px;width:2px;height:42px;background:linear-gradient(180deg,#009aff 0px,#0081ff 4px,#0078ff 8px,#0468ff 12px,#0073ff 16px,#00a8ff 20px,#00e2e0 24px,#04ff78 28px,#4fff06 32px,#c0fd00 36px,#cff600 40px,#d0f600 41px)"></div>
<div style="position:absolute;left:60px;top:116px;width:2px;height:42px;background:linear-gradient(180deg,#0099ff 0px,#0082ff 4px,#007cff 8px,#026aff 12px,#0078ff 16px,#00a9ff 20px,#00e1e2 24px,#04ff76 28px,#51ff06 32px,#bffe00 36px,#c6fa00 40px,#c7fa00 41px)"></div>
<div style="position:absolute;left:62px;top:116px;width:2px;height:42px;background:linear-gradient(180deg,#0098ff 0px,#0084ff 4px,#0080ff 8px,#006dff 12px,#0079ff 16px,#00aaff 20px,#00dfe9 24px,#01ff8d 28px,#2fff08 32px,#98ff02 36px,#93ff02 40px,#91ff02 41px)"></div>
<div style="position:absolute;left:64px;top:116px;width:2px;height:42px;background:linear-gradient(180deg,#0097ff 0px,#0085ff 4px,#0084ff 8px,#0074ff 12px,#0086ff 16px,#00bbff 20px,#00eec0 24px,#0dff35 28px,#8eff02 32px,#d2f500 36px,#d7f300 40px,#d7f300 41px)"></div>
<div style="position:absolute;left:66px;top:116px;width:2px;height:42px;background:linear-gradient(180deg,#0097ff 0px,#0086ff 4px,#0088ff 8px,#0078ff 12px,#0088ff 16px,#00b8ff 20px,#00eaca 24px,#0bff43 28px,#77ff04 32px,#c4fb00 36px,#cff600 40px,#d0f600 41px)"></div>
<div style="position:absolute;left:68px;top:116px;width:2px;height:42px;background:linear-gradient(180deg,#0097ff 0px,#0087ff 4px,#008cff 8px,#007cff 12px,#0085ff 16px,#00abff 20px,#00dcf0 24px,#01ff8d 28px,#13ff0e 32px,#54ff06 36px,#6dff04 40px,#6fff04 41px)"></div>
<div style="position:absolute;left:70px;top:116px;width:2px;height:42px;background:linear-gradient(180deg,#0096ff 0px,#0088ff 4px,#008fff 8px,#0080ff 12px,#0085ff 16px,#009eff 20px,#00c5ff 24px,#00e9cd 28px,#04ff76 32px,#0bff43 36px,#0eff32 40px,#0eff30 41px)"></div>
<div style="position:absolute;left:72px;top:116px;width:2px;height:42px;background:linear-gradient(180deg,#0097ff 0px,#0089ff 4px,#0092ff 8px,#0085ff 12px,#0090ff 16px,#00b6ff 20px,#00e6d6 24px,#08ff5a 28px,#3eff07 32px,#71ff04 36px,#6bff04 40px,#6aff04 41px)"></div>
<div style="position:absolute;left:74px;top:116px;width:2px;height:42px;background:linear-gradient(180deg,#0097ff 0px,#008aff 4px,#0094ff 8px,#0089ff 12px,#0095ff 16px,#00b5ff 20px,#00e0e7 24px,#01ff8c 28px,#10ff23 32px,#27ff08 36px,#37ff07 40px,#38ff07 41px)"></div>
<div style="position:absolute;left:76px;top:116px;width:2px;height:42px;background:linear-gradient(180deg,#0097ff 0px,#008aff 4px,#0095ff 8px,#008bff 12px,#0098ff 16px,#00beff 20px,#00e5da 24px,#03ff7f 28px,#30ff08 32px,#91ff02 36px,#a1ff01 40px,#a2ff01 41px)"></div>
<div style="position:absolute;left:78px;top:116px;width:2px;height:42px;background:linear-gradient(180deg,#0098ff 0px,#008bff 4px,#0096ff 8px,#008eff 12px,#009cff 16px,#00beff 20px,#00e7d4 24px,#05ff6c 28px,#2aff08 32px,#6cff04 36px,#8dff02 40px,#90ff02 41px)"></div>
<div style="position:absolute;left:80px;top:116px;width:2px;height:42px;background:linear-gradient(180deg,#0099ff 0px,#008cff 4px,#0097ff 8px,#008fff 12px,#009eff 16px,#00c3ff 20px,#00e5da 24px,#00ff93 28px,#21ff09 32px,#94ff02 36px,#89ff03 40px,#86ff03 41px)"></div>
<div style="position:absolute;left:82px;top:116px;width:2px;height:42px;background:linear-gradient(180deg,#009aff 0px,#008dff 4px,#0098ff 8px,#0091ff 12px,#00a2ff 16px,#00ccff 20px,#00eec1 24px,#07ff63 28px,#32ff08 32px,#75ff04 36px,#75ff04 40px,#74ff04 41px)"></div>
<div style="position:absolute;left:84px;top:116px;width:2px;height:42px;background:linear-gradient(180deg,#009cff 0px,#008eff 4px,#009aff 8px,#0095ff 12px,#00aaff 16px,#00d5ff 20px,#00f4b0 24px,#0bff47 28px,#55ff06 32px,#9eff01 36px,#aeff00 40px,#afff00 41px)"></div>
<div style="position:absolute;left:86px;top:116px;width:2px;height:42px;background:linear-gradient(180deg,#009eff 0px,#008fff 4px,#009bff 8px,#0097ff 12px,#00b0ff 16px,#00deec 20px,#00ff8f 24px,#12ff11 28px,#77ff04 32px,#9dff01 36px,#bffe00 40px,#c1fd00 41px)"></div>
<div style="position:absolute;left:88px;top:116px;width:2px;height:42px;background:linear-gradient(180deg,#00a1ff 0px,#0091ff 4px,#009dff 8px,#009aff 12px,#00b1ff 16px,#00dbf3 20px,#00fe98 24px,#12ff11 28px,#7fff03 32px,#b0ff00 36px,#b8ff00 40px,#b8ff00 41px)"></div>
<div style="position:absolute;left:90px;top:116px;width:2px;height:42px;background:linear-gradient(180deg,#00a4ff 0px,#0094ff 4px,#00a0ff 8px,#009eff 12px,#00b6ff 16px,#00dcef 20px,#00fc9b 24px,#11ff1e 28px,#79ff04 32px,#b9ff00 36px,#befe00 40px,#bdff00 41px)"></div>
<div style="position:absolute;left:92px;top:116px;width:2px;height:42px;background:linear-gradient(180deg,#00a7ff 0px,#0097ff 4px,#00a3ff 8px,#00a1ff 12px,#00b8ff 16px,#00deea 20px,#00f6ac 24px,#06ff68 28px,#12ff17 32px,#31ff08 36px,#47ff06 40px,#49ff06 41px)"></div>
<div style="position:absolute;left:94px;top:116px;width:2px;height:42px;background:linear-gradient(180deg,#00abff 0px,#009bff 4px,#00a7ff 8px,#00a7ff 12px,#00c1ff 16px,#00e5d8 20px,#00ff93 24px,#0cff3d 28px,#46ff07 32px,#81ff03 36px,#77ff04 40px,#74ff04 41px)"></div>
<div style="position:absolute;left:96px;top:116px;width:2px;height:42px;background:linear-gradient(180deg,#00b0ff 0px,#009fff 4px,#00acff 8px,#00abff 12px,#00c2ff 16px,#00e1e3 20px,#00f7aa 24px,#06ff67 28px,#11ff1c 32px,#2cff08 36px,#56ff06 40px,#5bff05 41px)"></div>
<div style="position:absolute;left:98px;top:116px;width:2px;height:42px;background:linear-gradient(180deg,#00b6ff 0px,#00a4ff 4px,#00b1ff 8px,#00b4ff 12px,#00d2ff 16px,#00ebca 20px,#02ff81 24px,#10ff21 28px,#67ff05 32px,#a5ff01 36px,#9bff02 40px,#98ff02 41px)"></div>
<div style="position:absolute;left:100px;top:116px;width:2px;height:42px;background:linear-gradient(180deg,#00bcff 0px,#00aaff 4px,#00b8ff 8px,#00bbff 12px,#00d7fe 16px,#00ebc9 20px,#00fe97 24px,#08ff57 28px,#18ff09 32px,#50ff06 36px,#6bff04 40px,#6eff04 41px)"></div>
<div style="position:absolute;left:102px;top:116px;width:2px;height:42px;background:linear-gradient(180deg,#00c3ff 0px,#00b1ff 4px,#00bfff 8px,#00c4ff 12px,#00dfe9 16px,#00f7a9 20px,#06ff67 24px,#0fff27 28px,#67ff05 32px,#bcff00 36px,#caf900 40px,#ccf800 41px)"></div>
<div style="position:absolute;left:104px;top:116px;width:2px;height:42px;background:linear-gradient(180deg,#00cbff 0px,#00b9ff 4px,#00c7ff 8px,#00ccff 12px,#00e2df 16px,#00fc9b 20px,#07ff5e 24px,#0eff2e 28px,#47ff06 32px,#86ff03 36px,#adff00 40px,#b4ff00 41px)"></div>
<div style="position:absolute;left:106px;top:116px;width:2px;height:42px;background:linear-gradient(180deg,#00d4ff 0px,#00c2ff 4px,#00d0ff 8px,#00d6ff 12px,#00e7d3 16px,#00fd9b 20px,#06ff6b 24px,#0bff43 28px,#5eff05 32px,#c9f900 36px,#cef700 40px,#cff600 41px)"></div>
<div style="position:absolute;left:108px;top:116px;width:2px;height:42px;background:linear-gradient(180deg,#00daf5 0px,#00cbff 4px,#00d8f9 8px,#00dcf0 12px,#00ecc5 16px,#01ff8a 20px,#09ff52 24px,#10ff1f 28px,#4cff06 32px,#81ff03 36px,#b1ff00 40px,#b9ff00 41px)"></div>
<div style="position:absolute;left:110px;top:116px;width:2px;height:42px;background:linear-gradient(180deg,#00dfe7 0px,#00d6ff 4px,#00deeb 8px,#00e1e2 12px,#00eec1 16px,#00f9a4 20px,#01ff8a 24px,#07ff62 28px,#11ff1d 32px,#46ff07 36px,#97ff02 40px,#a2ff01 41px)"></div>
<div style="position:absolute;left:112px;top:116px;width:2px;height:42px;background:linear-gradient(180deg,#00e5d9 0px,#00dcf1 4px,#00e4db 8px,#00e8d2 12px,#00f7aa 16px,#05ff6e 20px,#0dff3a 24px,#1aff09 28px,#7dff03 32px,#d0f600 36px,#f7e400 40px,#fce200 41px)"></div>
<div style="position:absolute;left:114px;top:116px;width:2px;height:42px;background:linear-gradient(180deg,#00eaca 0px,#00e2e1 4px,#00eacb 8px,#00eec1 12px,#00fd98 16px,#08ff5d 20px,#0fff26 24px,#3bff07 28px,#84ff03 32px,#cbf800 36px,#ffd700 40px,#ffcf00 41px)"></div>
<div style="position:absolute;left:116px;top:116px;width:2px;height:42px;background:linear-gradient(180deg,#00f0bc 0px,#00e8d1 4px,#00f0bb 8px,#00f4b1 12px,#02ff85 16px,#0aff4c 20px,#10ff25 24px,#21ff09 28px,#a6ff01 32px,#fee100 36px,#ffbe00 40px,#ffbb00 41px)"></div>
<div style="position:absolute;left:118px;top:116px;width:2px;height:42px;background:linear-gradient(180deg,#00f6ad 0px,#00eec1 4px,#00f6ab 8px,#00f9a4 12px,#03ff7f 16px,#0aff4f 20px,#0dff38 24px,#10ff22 28px,#71ff04 32px,#dbf100 36px,#ffda00 40px,#ffd500 41px)"></div>
<div style="position:absolute;left:120px;top:116px;width:2px;height:42px;background:linear-gradient(180deg,#00fb9f 0px,#00f4b1 4px,#00fc9c 8px,#00ff93 12px,#07ff63 16px,#0fff28 20px,#25ff08 24px,#64ff05 28px,#ddf000 32px,#ffbe00 36px,#ff9f00 40px,#ff9d00 41px)"></div>
<div style="position:absolute;left:122px;top:116px;width:2px;height:42px;background:linear-gradient(180deg,#00ff90 0px,#00faa2 4px,#01ff8b 8px,#02ff85 12px,#06ff6b 16px,#0aff4f 20px,#0bff46 24px,#10ff24 28px,#94ff02 32px,#f0e700 36px,#ffd700 40px,#ffd600 41px)"></div>
<div style="position:absolute;left:124px;top:116px;width:2px;height:42px;background:linear-gradient(180deg,#03ff7f 0px,#00ff93 4px,#04ff79 8px,#05ff72 12px,#09ff53 16px,#0dff34 20px,#11ff1d 24px,#51ff06 28px,#def000 32px,#ffbd00 36px,#ffac00 40px,#ffac00 41px)"></div>
<div style="position:absolute;left:126px;top:116px;width:2px;height:42px;background:linear-gradient(180deg,#05ff6f 0px,#02ff81 4px,#06ff68 8px,#07ff64 12px,#0aff4b 16px,#0dff38 20px,#10ff24 24px,#5aff05 28px,#e3ed00 32px,#ffbc00 36px,#ffad00 40px,#ffad00 41px)"></div>
<div style="position:absolute;left:128px;top:116px;width:2px;height:42px;background:linear-gradient(180deg,#07ff60 0px,#05ff71 4px,#08ff59 8px,#09ff56 12px,#0dff3a 16px,#12ff13 20px,#52ff06 24px,#d5f400 28px,#ffc500 32px,#ffa400 36px,#ff9900 40px,#ff9800 41px)"></div>
<div style="position:absolute;left:130px;top:116px;width:2px;height:42px;background:linear-gradient(180deg,#09ff53 0px,#07ff62 4px,#0aff4b 8px,#0aff49 12px,#0eff31 16px,#12ff17 20px,#57ff06 24px,#d7f300 28px,#ffc400 32px,#ffa400 36px,#ffa000 40px,#ffa000 41px)"></div>
<div style="position:absolute;left:132px;top:116px;width:2px;height:42px;background:linear-gradient(180deg,#0bff47 0px,#09ff54 4px,#0cff3f 8px,#0cff40 12px,#0eff2d 16px,#13ff0c 20px,#6fff04 24px,#daf200 28px,#ffcb00 32px,#ffb300 36px,#ffb000 40px,#ffb000 41px)"></div>
<div style="position:absolute;left:134px;top:116px;width:2px;height:42px;background:linear-gradient(180deg,#0cff3d 0px,#0bff48 4px,#0dff34 8px,#0dff35 12px,#0fff28 16px,#13ff0a 20px,#82ff03 24px,#e7eb00 28px,#ffc200 32px,#ffae00 36px,#ffa900 40px,#ffa800 41px)"></div>
<div style="position:absolute;left:136px;top:116px;width:2px;height:42px;background:linear-gradient(180deg,#0eff32 0px,#0cff3d 4px,#0fff29 8px,#0fff28 12px,#12ff13 16px,#5fff05 20px,#d0f600 24px,#ffce00 28px,#ffa200 32px,#ff9900 36px,#ff8a00 40px,#ff8900 41px)"></div>
<div style="position:absolute;left:138px;top:116px;width:2px;height:42px;background:linear-gradient(180deg,#10ff25 0px,#0eff2e 4px,#11ff1d 8px,#11ff1e 12px,#16ff09 16px,#75ff04 20px,#d9f200 24px,#ffd300 28px,#ffc100 32px,#ffca00 36px,#ffc400 40px,#ffc300 41px)"></div>
<div style="position:absolute;left:140px;top:116px;width:2px;height:42px;background:linear-gradient(180deg,#11ff1d 0px,#10ff21 4px,#13ff0e 8px,#16ff09 12px,#3eff07 16px,#b8ff00 20px,#ffe000 24px,#ffab00 28px,#ff9a00 32px,#ffa000 36px,#ffa100 40px,#ffa100 41px)"></div>
<div style="position:absolute;left:142px;top:116px;width:2px;height:42px;background:linear-gradient(180deg,#13ff0e 0px,#13ff10 4px,#25ff08 8px,#2cff08 12px,#66ff05 16px,#ccf800 20px,#ffd800 24px,#ffb300 28px,#ffa800 32px,#ffa400 36px,#ffa600 40px,#ffa700 41px)"></div>
<div style="position:absolute;left:144px;top:116px;width:2px;height:42px;background:linear-gradient(180deg,#20ff09 0px,#22ff09 4px,#36ff07 8px,#41ff07 12px,#9fff01 16px,#efe800 20px,#ffaf00 24px,#ff8400 28px,#ff8100 32px,#ff8300 36px,#ff8300 40px,#ff8200 41px)"></div>
<div style="position:absolute;left:146px;top:116px;width:2px;height:42px;background:linear-gradient(180deg,#36ff07 0px,#2cff08 4px,#46ff07 8px,#6cff04 12px,#ccf800 16px,#ffcf00 20px,#ffa000 24px,#ff8d00 28px,#ff7b00 32px,#ff6f00 36px,#ff7800 40px,#ff7b00 41px)"></div>
<div style="position:absolute;left:148px;top:116px;width:2px;height:42px;background:linear-gradient(180deg,#52ff06 0px,#46ff07 4px,#5eff05 8px,#9fff01 12px,#dfef00 16px,#ffc000 20px,#ffa100 24px,#ffa300 28px,#ff9800 32px,#ff9600 36px,#ff9a00 40px,#ff9900 41px)"></div>
<div style="position:absolute;left:150px;top:116px;width:2px;height:42px;background:linear-gradient(180deg,#63ff05 0px,#54ff06 4px,#80ff03 8px,#cbf800 12px,#ffe000 16px,#ffaa00 20px,#ff8b00 24px,#ff8200 28px,#ff8a00 32px,#ff8c00 36px,#ff8300 40px,#ff8400 41px)"></div>
<div style="position:absolute;left:152px;top:116px;width:2px;height:42px;background:linear-gradient(180deg,#6bff04 0px,#75ff04 4px,#a7ff01 8px,#d8f200 12px,#ffc900 16px,#ff9e00 20px,#ff8900 24px,#ff8300 28px,#ff8400 32px,#ff8500 36px,#ff8100 40px,#ff7e00 41px)"></div>
<div style="position:absolute;left:154px;top:116px;width:2px;height:42px;background:linear-gradient(180deg,#80ff03 0px,#7aff03 4px,#c3fc00 8px,#f2e600 12px,#ffbf00 16px,#ff9f00 20px,#ff8f00 24px,#ff9100 28px,#ff8700 32px,#ff8000 36px,#ff9300 40px,#ff9400 41px)"></div>
<div style="position:absolute;left:156px;top:116px;width:2px;height:42px;background:linear-gradient(180deg,#8dff02 0px,#90ff02 4px,#d5f400 8px,#ffdd00 12px,#ffab00 16px,#ff9500 20px,#ff8800 24px,#ff7f00 28px,#ff7200 32px,#ff6700 36px,#ff7200 40px,#ff7700 41px)"></div>
<div style="position:absolute;left:158px;top:116px;width:2px;height:42px;background:linear-gradient(180deg,#99ff02 0px,#c0fd00 4px,#e4ed00 8px,#ffc600 12px,#ffa000 16px,#ff8600 20px,#ff8600 24px,#ff8100 28px,#ff7800 32px,#ff7f00 36px,#ff7e00 40px,#ff7c00 41px)"></div>
<div style="position:absolute;left:160px;top:116px;width:2px;height:42px;background:linear-gradient(180deg,#adff00 0px,#c4fb00 4px,#f4e600 8px,#ffb700 12px,#ff9500 16px,#ff8b00 20px,#ff7500 24px,#ff7500 28px,#ff6e00 32px,#ff7400 36px,#ff6f00 40px,#ff6c00 41px)"></div>
<div style="position:absolute;left:162px;top:116px;width:2px;height:42px;background:linear-gradient(180deg,#b9ff00 0px,#d8f200 4px,#ffdb00 8px,#ffaf00 12px,#ff9900 16px,#ff8b00 20px,#ff8300 24px,#ff8100 28px,#ff7a00 32px,#ff8400 36px,#ff8200 40px,#ff8400 41px)"></div>
<div style="position:absolute;left:164px;top:116px;width:2px;height:42px;background:linear-gradient(180deg,#c5fb00 0px,#dbf100 4px,#ffd100 8px,#ffa000 12px,#ff9700 16px,#ff8a00 20px,#ff8400 24px,#ff7c00 28px,#ff7d00 32px,#ff7900 36px,#ff8900 40px,#ff8600 41px)"></div>
<div style="position:absolute;left:166px;top:116px;width:2px;height:42px;background:linear-gradient(180deg,#caf900 0px,#eee800 4px,#ffbc00 8px,#ffa000 12px,#ff9800 16px,#ff8e00 20px,#ff8b00 24px,#ff9000 28px,#ff8f00 32px,#ff8000 36px,#ff8600 40px,#ff8700 41px)"></div>
<div style="position:absolute;left:168px;top:116px;width:2px;height:42px;background:linear-gradient(180deg,#eaea00 0px,#ffde00 4px,#ffa200 8px,#ff9500 12px,#ff9100 16px,#ff8f00 20px,#ff9000 24px,#ff9800 28px,#ff8e00 32px,#ff8800 36px,#ff8d00 40px,#ff8d00 41px)"></div>
<div style="position:absolute;left:170px;top:116px;width:2px;height:42px;background:linear-gradient(180deg,#f6e500 0px,#ffcf00 4px,#ffa600 8px,#ff8900 12px,#ff8300 16px,#ff7b00 20px,#ff6800 24px,#ff7800 28px,#ff6800 32px,#ff5a00 36px,#ff5800 40px,#ff5700 41px)"></div>
<div style="position:absolute;left:172px;top:116px;width:2px;height:42px;background:linear-gradient(180deg,#ffdb00 0px,#ffc100 4px,#ff9a00 8px,#ff9300 12px,#ff9600 16px,#ff8200 20px,#ff8c00 24px,#ff9500 28px,#ff7b00 32px,#ff7600 36px,#ff8c00 40px,#ff8b00 41px)"></div>
<div style="position:absolute;left:174px;top:116px;width:2px;height:42px;background:linear-gradient(180deg,#ffd000 0px,#ffc700 4px,#ff9b00 8px,#ff9600 12px,#ff7d00 16px,#ff7200 20px,#ff7700 24px,#ff6500 28px,#ff5a00 32px,#ff5900 36px,#ff4f00 40px,#ff4c00 41px)"></div>
<div style="position:absolute;left:176px;top:116px;width:2px;height:42px;background:linear-gradient(180deg,#ffca00 0px,#ffad00 4px,#ffa600 8px,#ff8c00 12px,#ff7600 16px,#ff7e00 20px,#ff7e00 24px,#ff7500 28px,#ff7600 32px,#ff7200 36px,#ff7200 40px,#ff7900 41px)"></div>
<div style="position:absolute;left:178px;top:116px;width:2px;height:42px;background:linear-gradient(180deg,#ffac00 0px,#ffa400 4px,#ffa400 8px,#ffa100 12px,#ff8800 16px,#ff7900 20px,#ff7200 24px,#ff7c00 28px,#ff7600 32px,#ff6f00 36px,#ff7200 40px,#ff6e00 41px)"></div>
<div style="position:absolute;left:180px;top:116px;width:2px;height:42px;background:linear-gradient(180deg,#ffb800 0px,#ffb100 4px,#ffb100 8px,#ff9d00 12px,#ff8f00 16px,#ff8800 20px,#ff6b00 24px,#ff6600 28px,#ff6700 32px,#ff6700 36px,#ff7100 40px,#ff7100 41px)"></div>
<div style="position:absolute;left:182px;top:116px;width:2px;height:42px;background:linear-gradient(180deg,#ffb900 0px,#ffb000 4px,#ffac00 8px,#ff9d00 12px,#ff8f00 16px,#ff7c00 20px,#ff7500 24px,#ff7e00 28px,#ff6b00 32px,#ff6000 36px,#ff7700 40px,#ff7200 41px)"></div>
</div>
<svg width="685" height="563" viewBox="0 0 685 563" style="position:absolute;left:0;top:0" font-family="'Liberation Sans', sans-serif"><defs><linearGradient id="cbgrad" x1="0" y1="0" x2="0" y2="1"><stop offset="0.00" stop-color="rgb(255,40,0)"/><stop offset="0.14" stop-color="rgb(255,130,0)"/><stop offset="0.26" stop-color="rgb(255,225,0)"/><stop offset="0.34" stop-color="rgb(190,255,0)"/><stop offset="0.44" stop-color="rgb(20,255,10)"/><stop offset="0.53" stop-color="rgb(0,255,150)"/><stop offset="0.62" stop-color="rgb(0,215,255)"/><stop offset="0.75" stop-color="rgb(0,110,255)"/><stop offset="0.88" stop-color="rgb(50,40,255)"/><stop offset="1.00" stop-color="rgb(128,0,255)"/></linearGradient><pattern id="speck" width="40" height="40" patternUnits="userSpaceOnUse"><rect x="38" y="20" width="1.5" height="1.5" fill="#ffb000"/><rect x="22" y="7" width="1.5" height="1.5" fill="#40ff20"/><rect x="37" y="38" width="1.5" height="1.5" fill="#ffb000"/><rect x="24" y="12" width="1.5" height="1.5" fill="#40ff20"/><rect x="25" y="11" width="1.5" height="1.5" fill="#ffb000"/><rect x="22" y="14" width="1.5" height="1.5" fill="#c8ff00"/><rect x="4" y="24" width="1.5" height="1.5" fill="#c8ff00"/><rect x="37" y="12" width="1.5" height="1.5" fill="#ffe800"/><rect x="24" y="12" width="1.5" height="1.5" fill="#c8ff00"/><rect x="15" y="27" width="1.5" height="1.5" fill="#c8ff00"/><rect x="36" y="14" width="1.5" height="1.5" fill="#ffb000"/><rect x="37" y="27" width="1.5" height="1.5" fill="#c8ff00"/><rect x="26" y="30" width="1.5" height="1.5" fill="#ffb000"/><rect x="1" y="3" width="1.5" height="1.5" fill="#c8ff00"/><rect x="14" y="28" width="1.5" height="1.5" fill="#ffe800"/><rect x="18" y="31" width="1.5" height="1.5" fill="#ffb000"/><rect x="2" y="17" width="1.5" height="1.5" fill="#c8ff00"/><rect x="24" y="33" width="1.5" height="1.5" fill="#40ff20"/><rect x="23" y="23" width="1.5" height="1.5" fill="#c8ff00"/><rect x="26" y="6" width="1.5" height="1.5" fill="#40ff20"/><rect x="36" y="7" width="1.5" height="1.5" fill="#ffe800"/><rect x="2" y="1" width="1.5" height="1.5" fill="#c8ff00"/><rect x="11" y="3" width="1.5" height="1.5" fill="#ffb000"/><rect x="4" y="11" width="1.5" height="1.5" fill="#c8ff00"/><rect x="22" y="23" width="1.5" height="1.5" fill="#c8ff00"/><rect x="13" y="26" width="1.5" height="1.5" fill="#ffb000"/><rect x="18" y="38" width="1.5" height="1.5" fill="#ffb000"/><rect x="13" y="38" width="1.5" height="1.5" fill="#ffe800"/><rect x="27" y="27" width="1.5" height="1.5" fill="#c8ff00"/><rect x="22" y="13" width="1.5" height="1.5" fill="#ffb000"/><rect x="12" y="24" width="1.5" height="1.5" fill="#40ff20"/><rect x="11" y="35" width="1.5" height="1.5" fill="#ffb000"/><rect x="20" y="22" width="1.5" height="1.5" fill="#c8ff00"/><rect x="28" y="33" width="1.5" height="1.5" fill="#40ff20"/><rect x="17" y="30" width="1.5" height="1.5" fill="#c8ff00"/><rect x="30" y="6" width="1.5" height="1.5" fill="#c8ff00"/><rect x="25" y="1" width="1.5" height="1.5" fill="#40ff20"/><rect x="19" y="20" width="1.5" height="1.5" fill="#ffb000"/><rect x="12" y="5" width="1.5" height="1.5" fill="#ffe800"/><rect x="31" y="14" width="1.5" height="1.5" fill="#40ff20"/><rect x="2" y="28" width="1.5" height="1.5" fill="#ffb000"/><rect x="8" y="35" width="1.5" height="1.5" fill="#ffe800"/><rect x="14" y="10" width="1.5" height="1.5" fill="#c8ff00"/><rect x="24" y="30" width="1.5" height="1.5" fill="#c8ff00"/><rect x="9" y="10" width="1.5" height="1.5" fill="#c8ff00"/><rect x="15" y="39" width="1.5" height="1.5" fill="#40ff20"/><rect x="17" y="10" width="1.5" height="1.5" fill="#ffe800"/><rect x="21" y="0" width="1.5" height="1.5" fill="#c8ff00"/><rect x="9" y="39" width="1.5" height="1.5" fill="#ffb000"/><rect x="34" y="20" width="1.5" height="1.5" fill="#40ff20"/><rect x="16" y="22" width="1.5" height="1.5" fill="#ffe800"/><rect x="15" y="20" width="1.5" height="1.5" fill="#40ff20"/><rect x="14" y="33" width="1.5" height="1.5" fill="#c8ff00"/><rect x="5" y="34" width="1.5" height="1.5" fill="#ffe800"/><rect x="16" y="18" width="1.5" height="1.5" fill="#ffe800"/><rect x="10" y="33" width="1.5" height="1.5" fill="#ffb000"/><rect x="16" y="10" width="1.5" height="1.5" fill="#c8ff00"/><rect x="36" y="37" width="1.5" height="1.5" fill="#40ff20"/><rect x="18" y="33" width="1.5" height="1.5" fill="#c8ff00"/><rect x="18" y="17" width="1.5" height="1.5" fill="#40ff20"/><rect x="1" y="39" width="1.5" height="1.5" fill="#ffb000"/><rect x="6" y="29" width="1.5" height="1.5" fill="#c8ff00"/><rect x="16" y="20" width="1.5" height="1.5" fill="#40ff20"/><rect x="15" y="8" width="1.5" height="1.5" fill="#ffb000"/><rect x="3" y="36" width="1.5" height="1.5" fill="#ffb000"/><rect x="22" y="17" width="1.5" height="1.5" fill="#ffe800"/><rect x="32" y="15" width="1.5" height="1.5" fill="#40ff20"/><rect x="12" y="25" width="1.5" height="1.5" fill="#40ff20"/><rect x="0" y="10" width="1.5" height="1.5" fill="#40ff20"/><rect x="3" y="6" width="1.5" height="1.5" fill="#40ff20"/><rect x="14" y="11" width="1.5" height="1.5" fill="#ffb000"/><rect x="19" y="21" width="1.5" height="1.5" fill="#c8ff00"/><rect x="13" y="30" width="1.5" height="1.5" fill="#c8ff00"/><rect x="10" y="0" width="1.5" height="1.5" fill="#40ff20"/><rect x="21" y="4" width="1.5" height="1.5" fill="#40ff20"/><rect x="31" y="27" width="1.5" height="1.5" fill="#ffb000"/><rect x="13" y="11" width="1.5" height="1.5" fill="#ffb000"/><rect x="39" y="29" width="1.5" height="1.5" fill="#40ff20"/><rect x="10" y="22" width="1.5" height="1.5" fill="#c8ff00"/><rect x="10" y="17" width="1.5" height="1.5" fill="#40ff20"/><rect x="25" y="17" width="1.5" height="1.5" fill="#40ff20"/><rect x="23" y="12" width="1.5" height="1.5" fill="#c8ff00"/><rect x="18" y="31" width="1.5" height="1.5" fill="#c8ff00"/><rect x="21" y="20" width="1.5" height="1.5" fill="#c8ff00"/><rect x="31" y="12" width="1.5" height="1.5" fill="#40ff20"/><rect x="22" y="19" width="1.5" height="1.5" fill="#ffb000"/><rect x="25" y="4" width="1.5" height="1.5" fill="#ffe800"/><rect x="0" y="13" width="1.5" height="1.5" fill="#c8ff00"/><rect x="24" y="7" width="1.5" height="1.5" fill="#ffe800"/><rect x="36" y="2" width="1.5" height="1.5" fill="#40ff20"/><rect x="19" y="32" width="1.5" height="1.5" fill="#ffe800"/><rect x="32" y="24" width="1.5" height="1.5" fill="#ffe800"/><rect x="24" y="35" width="1.5" height="1.5" fill="#c8ff00"/><rect x="17" y="15" width="1.5" height="1.5" fill="#ffe800"/><rect x="10" y="34" width="1.5" height="1.5" fill="#c8ff00"/><rect x="33" y="20" width="1.5" height="1.5" fill="#ffb000"/><rect x="34" y="35" width="1.5" height="1.5" fill="#ffe800"/><rect x="38" y="7" width="1.5" height="1.5" fill="#c8ff00"/><rect x="32" y="9" width="1.5" height="1.5" fill="#ffb000"/><rect x="2" y="2" width="1.5" height="1.5" fill="#40ff20"/><rect x="30" y="14" width="1.5" height="1.5" fill="#ffe800"/><rect x="26" y="32" width="1.5" height="1.5" fill="#ffb000"/><rect x="35" y="10" width="1.5" height="1.5" fill="#ffb000"/><rect x="39" y="7" width="1.5" height="1.5" fill="#40ff20"/><rect x="18" y="35" width="1.5" height="1.5" fill="#ffe800"/><rect x="20" y="16" width="1.5" height="1.5" fill="#ffb000"/><rect x="34" y="19" width="1.5" height="1.5" fill="#ffb000"/><rect x="32" y="2" width="1.5" height="1.5" fill="#c8ff00"/><rect x="30" y="0" width="1.5" height="1.5" fill="#c8ff00"/><rect x="29" y="26" width="1.5" height="1.5" fill="#ffe800"/><rect x="9" y="37" width="1.5" height="1.5" fill="#c8ff00"/><rect x="22" y="23" width="1.5" height="1.5" fill="#c8ff00"/><rect x="23" y="30" width="1.5" height="1.5" fill="#ffb000"/><rect x="38" y="29" width="1.5" height="1.5" fill="#c8ff00"/><rect x="36" y="28" width="1.5" height="1.5" fill="#c8ff00"/><rect x="17" y="25" width="1.5" height="1.5" fill="#ffe800"/><rect x="19" y="6" width="1.5" height="1.5" fill="#c8ff00"/><rect x="34" y="26" width="1.5" height="1.5" fill="#c8ff00"/><rect x="15" y="13" width="1.5" height="1.5" fill="#ffe800"/><rect x="12" y="8" width="1.5" height="1.5" fill="#c8ff00"/><rect x="2" y="11" width="1.5" height="1.5" fill="#ffb000"/><rect x="31" y="25" width="1.5" height="1.5" fill="#40ff20"/><rect x="0" y="23" width="1.5" height="1.5" fill="#ffb000"/><rect x="31" y="38" width="1.5" height="1.5" fill="#ffe800"/><rect x="20" y="33" width="1.5" height="1.5" fill="#ffe800"/><rect x="9" y="3" width="1.5" height="1.5" fill="#ffe800"/><rect x="1" y="20" width="1.5" height="1.5" fill="#40ff20"/><rect x="14" y="5" width="1.5" height="1.5" fill="#40ff20"/><rect x="11" y="30" width="1.5" height="1.5" fill="#c8ff00"/><rect x="33" y="19" width="1.5" height="1.5" fill="#ffe800"/><rect x="6" y="26" width="1.5" height="1.5" fill="#ffb000"/><rect x="13" y="31" width="1.5" height="1.5" fill="#40ff20"/><rect x="17" y="29" width="1.5" height="1.5" fill="#40ff20"/><rect x="32" y="33" width="1.5" height="1.5" fill="#c8ff00"/><rect x="8" y="20" width="1.5" height="1.5" fill="#ffe800"/><rect x="22" y="29" width="1.5" height="1.5" fill="#40ff20"/><rect x="27" y="32" width="1.5" height="1.5" fill="#40ff20"/><rect x="13" y="26" width="1.5" height="1.5" fill="#ffb000"/><rect x="17" y="6" width="1.5" height="1.5" fill="#c8ff00"/><rect x="28" y="30" width="1.5" height="1.5" fill="#40ff20"/><rect x="34" y="23" width="1.5" height="1.5" fill="#40ff20"/><rect x="10" y="26" width="1.5" height="1.5" fill="#40ff20"/><rect x="8" y="8" width="1.5" height="1.5" fill="#c8ff00"/><rect x="2" y="36" width="1.5" height="1.5" fill="#ffb000"/><rect x="12" y="16" width="1.5" height="1.5" fill="#ffb000"/><rect x="9" y="5" width="1.5" height="1.5" fill="#40ff20"/><rect x="23" y="14" width="1.5" height="1.5" fill="#ffe800"/><rect x="22" y="8" width="1.5" height="1.5" fill="#c8ff00"/><rect x="25" y="5" width="1.5" height="1.5" fill="#c8ff00"/><rect x="8" y="19" width="1.5" height="1.5" fill="#c8ff00"/><rect x="37" y="20" width="1.5" height="1.5" fill="#ffe800"/><rect x="26" y="36" width="1.5" height="1.5" fill="#ffb000"/><rect x="28" y="23" width="1.5" height="1.5" fill="#ffe800"/><rect x="38" y="8" width="1.5" height="1.5" fill="#ffe800"/><rect x="10" y="3" width="1.5" height="1.5" fill="#40ff20"/><rect x="4" y="22" width="1.5" height="1.5" fill="#c8ff00"/><rect x="35" y="14" width="1.5" height="1.5" fill="#ffe800"/><rect x="31" y="4" width="1.5" height="1.5" fill="#ffe800"/><rect x="11" y="23" width="1.5" height="1.5" fill="#ffb000"/><rect x="38" y="20" width="1.5" height="1.5" fill="#c8ff00"/><rect x="30" y="21" width="1.5" height="1.5" fill="#ffb000"/><rect x="24" y="6" width="1.5" height="1.5" fill="#40ff20"/><rect x="4" y="21" width="1.5" height="1.5" fill="#40ff20"/><rect x="16" y="34" width="1.5" height="1.5" fill="#c8ff00"/><rect x="3" y="5" width="1.5" height="1.5" fill="#ffb000"/><rect x="31" y="25" width="1.5" height="1.5" fill="#ffb000"/><rect x="24" y="6" width="1.5" height="1.5" fill="#ffb000"/><rect x="6" y="16" width="1.5" height="1.5" fill="#ffb000"/><rect x="23" y="0" width="1.5" height="1.5" fill="#ffb000"/><rect x="33" y="20" width="1.5" height="1.5" fill="#ffb000"/><rect x="23" y="29" width="1.5" height="1.5" fill="#40ff20"/><rect x="10" y="32" width="1.5" height="1.5" fill="#ffb000"/><rect x="6" y="24" width="1.5" height="1.5" fill="#ffb000"/><rect x="28" y="24" width="1.5" height="1.5" fill="#c8ff00"/><rect x="11" y="12" width="1.5" height="1.5" fill="#ffb000"/><rect x="37" y="36" width="1.5" height="1.5" fill="#40ff20"/><rect x="31" y="13" width="1.5" height="1.5" fill="#ffb000"/><rect x="7" y="6" width="1.5" height="1.5" fill="#40ff20"/><rect x="36" y="4" width="1.5" height="1.5" fill="#40ff20"/><rect x="23" y="35" width="1.5" height="1.5" fill="#40ff20"/><rect x="30" y="38" width="1.5" height="1.5" fill="#ffe800"/><rect x="32" y="28" width="1.5" height="1.5" fill="#c8ff00"/><rect x="2" y="18" width="1.5" height="1.5" fill="#ffe800"/><rect x="39" y="28" width="1.5" height="1.5" fill="#ffb000"/><rect x="10" y="3" width="1.5" height="1.5" fill="#ffe800"/><rect x="28" y="23" width="1.5" height="1.5" fill="#ffb000"/><rect x="22" y="39" width="1.5" height="1.5" fill="#c8ff00"/><rect x="32" y="10" width="1.5" height="1.5" fill="#ffb000"/><rect x="32" y="38" width="1.5" height="1.5" fill="#c8ff00"/><rect x="5" y="17" width="1.5" height="1.5" fill="#ffb000"/></pattern><linearGradient id="spg" x1="0" y1="0" x2="1" y2="0"><stop offset="0" stop-color="#000"/><stop offset="0.5" stop-color="#333"/><stop offset="1" stop-color="#bbb"/></linearGradient></defs>
<mask id="ma"><rect x="147.5" y="39.5" width="69.4" height="88" fill="url(#spg)"/></mask>
<rect x="147.5" y="39.5" width="69.4" height="88" fill="url(#speck)" mask="url(#ma)" opacity="0.9"/>
<rect x="32.5" y="5.5" width="184.4" height="158" fill="none" stroke="#000" stroke-width="1.3"/>
<text x="32.5" y="174.1" font-size="8.9" text-anchor="middle" font-weight="bold" fill="#000">450</text>
<line x1="47.9" y1="163.5" x2="47.9" y2="162" stroke="#000" stroke-width="1"/>
<line x1="63.2" y1="163.5" x2="63.2" y2="161" stroke="#000" stroke-width="1"/>
<text x="63.2" y="174.1" font-size="8.9" text-anchor="middle" font-weight="bold" fill="#000">500</text>
<line x1="78.6" y1="163.5" x2="78.6" y2="162" stroke="#000" stroke-width="1"/>
<line x1="94" y1="163.5" x2="94" y2="161" stroke="#000" stroke-width="1"/>
<text x="94" y="174.1" font-size="8.9" text-anchor="middle" font-weight="bold" fill="#000">550</text>
<line x1="109.3" y1="163.5" x2="109.3" y2="162" stroke="#000" stroke-width="1"/>
<line x1="124.7" y1="163.5" x2="124.7" y2="161" stroke="#000" stroke-width="1"/>
<text x="124.7" y="174.1" font-size="8.9" text-anchor="middle" font-weight="bold" fill="#000">600</text>
<line x1="140.1" y1="163.5" x2="140.1" y2="162" stroke="#000" stroke-width="1"/>
<line x1="155.4" y1="163.5" x2="155.4" y2="161" stroke="#000" stroke-width="1"/>
<text x="155.4" y="174.1" font-size="8.9" text-anchor="middle" font-weight="bold" fill="#000">650</text>
<line x1="170.8" y1="163.5" x2="170.8" y2="162" stroke="#000" stroke-width="1"/>
<line x1="186.2" y1="163.5" x2="186.2" y2="161" stroke="#000" stroke-width="1"/>
<text x="186.2" y="174.1" font-size="8.9" text-anchor="middle" font-weight="bold" fill="#000">700</text>
<line x1="201.5" y1="163.5" x2="201.5" y2="162" stroke="#000" stroke-width="1"/>
<text x="216.9" y="174.1" font-size="8.9" text-anchor="middle" font-weight="bold" fill="#000">750</text>
<text x="124.7" y="183.3" font-size="10.5" text-anchor="middle" font-weight="bold" fill="#000">Wavelength (nm)</text>
<line x1="30.5" y1="32.8" x2="32.5" y2="32.8" stroke="#000" stroke-width="1"/>
<text x="27.2" y="36.1" font-size="8.8" text-anchor="end" font-weight="bold">10<tspan font-size="6" dy="-3.5">3</tspan></text>
<line x1="31.3" y1="23.7" x2="32.5" y2="23.7" stroke="#000" stroke-width="0.7"/>
<line x1="31.3" y1="18.3" x2="32.5" y2="18.3" stroke="#000" stroke-width="0.7"/>
<line x1="31.3" y1="14.5" x2="32.5" y2="14.5" stroke="#000" stroke-width="0.7"/>
<line x1="31.3" y1="11.6" x2="32.5" y2="11.6" stroke="#000" stroke-width="0.7"/>
<line x1="31.3" y1="9.2" x2="32.5" y2="9.2" stroke="#000" stroke-width="0.7"/>
<line x1="31.3" y1="7.2" x2="32.5" y2="7.2" stroke="#000" stroke-width="0.7"/>
<line x1="30.5" y1="63.1" x2="32.5" y2="63.1" stroke="#000" stroke-width="1"/>
<text x="27.2" y="66.5" font-size="8.8" text-anchor="end" font-weight="bold">10<tspan font-size="6" dy="-3.5">2</tspan></text>
<line x1="31.3" y1="54" x2="32.5" y2="54" stroke="#000" stroke-width="0.7"/>
<line x1="31.3" y1="48.7" x2="32.5" y2="48.7" stroke="#000" stroke-width="0.7"/>
<line x1="31.3" y1="44.9" x2="32.5" y2="44.9" stroke="#000" stroke-width="0.7"/>
<line x1="31.3" y1="41.9" x2="32.5" y2="41.9" stroke="#000" stroke-width="0.7"/>
<line x1="31.3" y1="39.5" x2="32.5" y2="39.5" stroke="#000" stroke-width="0.7"/>
<line x1="31.3" y1="37.5" x2="32.5" y2="37.5" stroke="#000" stroke-width="0.7"/>
<line x1="31.3" y1="35.7" x2="32.5" y2="35.7" stroke="#000" stroke-width="0.7"/>
<line x1="31.3" y1="34.2" x2="32.5" y2="34.2" stroke="#000" stroke-width="0.7"/>
<line x1="30.5" y1="93.5" x2="32.5" y2="93.5" stroke="#000" stroke-width="1"/>
<text x="27.2" y="96.8" font-size="8.8" text-anchor="end" font-weight="bold">10<tspan font-size="6" dy="-3.5">1</tspan></text>
<line x1="31.3" y1="84.4" x2="32.5" y2="84.4" stroke="#000" stroke-width="0.7"/>
<line x1="31.3" y1="79" x2="32.5" y2="79" stroke="#000" stroke-width="0.7"/>
<line x1="31.3" y1="75.2" x2="32.5" y2="75.2" stroke="#000" stroke-width="0.7"/>
<line x1="31.3" y1="72.3" x2="32.5" y2="72.3" stroke="#000" stroke-width="0.7"/>
<line x1="31.3" y1="69.9" x2="32.5" y2="69.9" stroke="#000" stroke-width="0.7"/>
<line x1="31.3" y1="67.9" x2="32.5" y2="67.9" stroke="#000" stroke-width="0.7"/>
<line x1="31.3" y1="66.1" x2="32.5" y2="66.1" stroke="#000" stroke-width="0.7"/>
<line x1="31.3" y1="64.5" x2="32.5" y2="64.5" stroke="#000" stroke-width="0.7"/>
<line x1="30.5" y1="123.9" x2="32.5" y2="123.9" stroke="#000" stroke-width="1"/>
<text x="27.2" y="127.2" font-size="8.8" text-anchor="end" font-weight="bold">10<tspan font-size="6" dy="-3.5">0</tspan></text>
<line x1="31.3" y1="114.7" x2="32.5" y2="114.7" stroke="#000" stroke-width="0.7"/>
<line x1="31.3" y1="109.4" x2="32.5" y2="109.4" stroke="#000" stroke-width="0.7"/>
<line x1="31.3" y1="105.6" x2="32.5" y2="105.6" stroke="#000" stroke-width="0.7"/>
<line x1="31.3" y1="102.6" x2="32.5" y2="102.6" stroke="#000" stroke-width="0.7"/>
<line x1="31.3" y1="100.2" x2="32.5" y2="100.2" stroke="#000" stroke-width="0.7"/>
<line x1="31.3" y1="98.2" x2="32.5" y2="98.2" stroke="#000" stroke-width="0.7"/>
<line x1="31.3" y1="96.4" x2="32.5" y2="96.4" stroke="#000" stroke-width="0.7"/>
<line x1="31.3" y1="94.9" x2="32.5" y2="94.9" stroke="#000" stroke-width="0.7"/>
<line x1="30.5" y1="154.2" x2="32.5" y2="154.2" stroke="#000" stroke-width="1"/>
<text x="27.2" y="157.5" font-size="8.8" text-anchor="end" font-weight="bold">10<tspan font-size="6" dy="-3.5">&#8722;1</tspan></text>
<line x1="31.3" y1="145.1" x2="32.5" y2="145.1" stroke="#000" stroke-width="0.7"/>
<line x1="31.3" y1="139.7" x2="32.5" y2="139.7" stroke="#000" stroke-width="0.7"/>
<line x1="31.3" y1="135.9" x2="32.5" y2="135.9" stroke="#000" stroke-width="0.7"/>
<line x1="31.3" y1="133" x2="32.5" y2="133" stroke="#000" stroke-width="0.7"/>
<line x1="31.3" y1="130.6" x2="32.5" y2="130.6" stroke="#000" stroke-width="0.7"/>
<line x1="31.3" y1="128.6" x2="32.5" y2="128.6" stroke="#000" stroke-width="0.7"/>
<line x1="31.3" y1="126.8" x2="32.5" y2="126.8" stroke="#000" stroke-width="0.7"/>
<line x1="31.3" y1="125.2" x2="32.5" y2="125.2" stroke="#000" stroke-width="0.7"/>
<text x="0" y="0" font-size="10.5" text-anchor="middle" font-weight="bold" fill="#000" transform="translate(11.5 84) rotate(-90) scale(1 0.88)">Delay time (ps)</text>
<text x="35.9" y="25" font-size="19" text-anchor="start" font-weight="bold" fill="#000">a</text>
<rect x="188.3" y="12.1" width="9.3" height="30.2" fill="url(#cbgrad)" stroke="#000" stroke-width="1.4"/>
<line x1="197.6" y1="12.1" x2="200.2" y2="12.1" stroke="#000" stroke-width="1"/>
<text x="204.2" y="15.2" font-size="8.6" text-anchor="start" font-weight="bold" fill="#000">4</text>
<line x1="197.6" y1="27.2" x2="200.2" y2="27.2" stroke="#000" stroke-width="1"/>
<text x="204.2" y="30.3" font-size="8.6" text-anchor="start" font-weight="bold" fill="#000">&#8722;2</text>
<line x1="197.6" y1="42.3" x2="200.2" y2="42.3" stroke="#000" stroke-width="1"/>
<text x="204.2" y="45.4" font-size="8.6" text-anchor="start" font-weight="bold" fill="#000">&#8722;8</text>
<text x="184.2" y="27.2" font-size="8.8" text-anchor="middle" font-weight="bold" fill="#000" transform="rotate(-90 184.2 27.2)">&#916;A (mOD)</text>
<mask id="mb"><rect x="145.3" y="228.4" width="69.4" height="88" fill="url(#spg)"/></mask>
<rect x="145.3" y="228.4" width="69.4" height="88" fill="url(#speck)" mask="url(#mb)" opacity="0.9"/>
<rect x="30.3" y="194.4" width="184.4" height="157.8" fill="none" stroke="#000" stroke-width="1.3"/>
<text x="30.3" y="362.8" font-size="8.9" text-anchor="middle" font-weight="bold" fill="#000">450</text>
<line x1="45.7" y1="352.2" x2="45.7" y2="350.7" stroke="#000" stroke-width="1"/>
<line x1="61" y1="352.2" x2="61" y2="349.7" stroke="#000" stroke-width="1"/>
<text x="61" y="362.8" font-size="8.9" text-anchor="middle" font-weight="bold" fill="#000">500</text>
<line x1="76.4" y1="352.2" x2="76.4" y2="350.7" stroke="#000" stroke-width="1"/>
<line x1="91.8" y1="352.2" x2="91.8" y2="349.7" stroke="#000" stroke-width="1"/>
<text x="91.8" y="362.8" font-size="8.9" text-anchor="middle" font-weight="bold" fill="#000">550</text>
<line x1="107.1" y1="352.2" x2="107.1" y2="350.7" stroke="#000" stroke-width="1"/>
<line x1="122.5" y1="352.2" x2="122.5" y2="349.7" stroke="#000" stroke-width="1"/>
<text x="122.5" y="362.8" font-size="8.9" text-anchor="middle" font-weight="bold" fill="#000">600</text>
<line x1="137.9" y1="352.2" x2="137.9" y2="350.7" stroke="#000" stroke-width="1"/>
<line x1="153.2" y1="352.2" x2="153.2" y2="349.7" stroke="#000" stroke-width="1"/>
<text x="153.2" y="362.8" font-size="8.9" text-anchor="middle" font-weight="bold" fill="#000">650</text>
<line x1="168.6" y1="352.2" x2="168.6" y2="350.7" stroke="#000" stroke-width="1"/>
<line x1="184" y1="352.2" x2="184" y2="349.7" stroke="#000" stroke-width="1"/>
<text x="184" y="362.8" font-size="8.9" text-anchor="middle" font-weight="bold" fill="#000">700</text>
<line x1="199.3" y1="352.2" x2="199.3" y2="350.7" stroke="#000" stroke-width="1"/>
<text x="214.7" y="362.8" font-size="8.9" text-anchor="middle" font-weight="bold" fill="#000">750</text>
<text x="122.5" y="372" font-size="10.5" text-anchor="middle" font-weight="bold" fill="#000">Wavelength (nm)</text>
<line x1="28.3" y1="221.7" x2="30.3" y2="221.7" stroke="#000" stroke-width="1"/>
<text x="25" y="225" font-size="8.8" text-anchor="end" font-weight="bold">10<tspan font-size="6" dy="-3.5">3</tspan></text>
<line x1="29.1" y1="212.6" x2="30.3" y2="212.6" stroke="#000" stroke-width="0.7"/>
<line x1="29.1" y1="207.2" x2="30.3" y2="207.2" stroke="#000" stroke-width="0.7"/>
<line x1="29.1" y1="203.4" x2="30.3" y2="203.4" stroke="#000" stroke-width="0.7"/>
<line x1="29.1" y1="200.5" x2="30.3" y2="200.5" stroke="#000" stroke-width="0.7"/>
<line x1="29.1" y1="198.1" x2="30.3" y2="198.1" stroke="#000" stroke-width="0.7"/>
<line x1="29.1" y1="196.1" x2="30.3" y2="196.1" stroke="#000" stroke-width="0.7"/>
<line x1="28.3" y1="252.1" x2="30.3" y2="252.1" stroke="#000" stroke-width="1"/>
<text x="25" y="255.4" font-size="8.8" text-anchor="end" font-weight="bold">10<tspan font-size="6" dy="-3.5">2</tspan></text>
<line x1="29.1" y1="242.9" x2="30.3" y2="242.9" stroke="#000" stroke-width="0.7"/>
<line x1="29.1" y1="237.6" x2="30.3" y2="237.6" stroke="#000" stroke-width="0.7"/>
<line x1="29.1" y1="233.8" x2="30.3" y2="233.8" stroke="#000" stroke-width="0.7"/>
<line x1="29.1" y1="230.8" x2="30.3" y2="230.8" stroke="#000" stroke-width="0.7"/>
<line x1="29.1" y1="228.4" x2="30.3" y2="228.4" stroke="#000" stroke-width="0.7"/>
<line x1="29.1" y1="226.4" x2="30.3" y2="226.4" stroke="#000" stroke-width="0.7"/>
<line x1="29.1" y1="224.6" x2="30.3" y2="224.6" stroke="#000" stroke-width="0.7"/>
<line x1="29.1" y1="223.1" x2="30.3" y2="223.1" stroke="#000" stroke-width="0.7"/>
<line x1="28.3" y1="282.4" x2="30.3" y2="282.4" stroke="#000" stroke-width="1"/>
<text x="25" y="285.7" font-size="8.8" text-anchor="end" font-weight="bold">10<tspan font-size="6" dy="-3.5">1</tspan></text>
<line x1="29.1" y1="273.3" x2="30.3" y2="273.3" stroke="#000" stroke-width="0.7"/>
<line x1="29.1" y1="267.9" x2="30.3" y2="267.9" stroke="#000" stroke-width="0.7"/>
<line x1="29.1" y1="264.1" x2="30.3" y2="264.1" stroke="#000" stroke-width="0.7"/>
<line x1="29.1" y1="261.2" x2="30.3" y2="261.2" stroke="#000" stroke-width="0.7"/>
<line x1="29.1" y1="258.8" x2="30.3" y2="258.8" stroke="#000" stroke-width="0.7"/>
<line x1="29.1" y1="256.8" x2="30.3" y2="256.8" stroke="#000" stroke-width="0.7"/>
<line x1="29.1" y1="255" x2="30.3" y2="255" stroke="#000" stroke-width="0.7"/>
<line x1="29.1" y1="253.4" x2="30.3" y2="253.4" stroke="#000" stroke-width="0.7"/>
<line x1="28.3" y1="312.8" x2="30.3" y2="312.8" stroke="#000" stroke-width="1"/>
<text x="25" y="316.1" font-size="8.8" text-anchor="end" font-weight="bold">10<tspan font-size="6" dy="-3.5">0</tspan></text>
<line x1="29.1" y1="303.6" x2="30.3" y2="303.6" stroke="#000" stroke-width="0.7"/>
<line x1="29.1" y1="298.3" x2="30.3" y2="298.3" stroke="#000" stroke-width="0.7"/>
<line x1="29.1" y1="294.5" x2="30.3" y2="294.5" stroke="#000" stroke-width="0.7"/>
<line x1="29.1" y1="291.5" x2="30.3" y2="291.5" stroke="#000" stroke-width="0.7"/>
<line x1="29.1" y1="289.1" x2="30.3" y2="289.1" stroke="#000" stroke-width="0.7"/>
<line x1="29.1" y1="287.1" x2="30.3" y2="287.1" stroke="#000" stroke-width="0.7"/>
<line x1="29.1" y1="285.3" x2="30.3" y2="285.3" stroke="#000" stroke-width="0.7"/>
<line x1="29.1" y1="283.8" x2="30.3" y2="283.8" stroke="#000" stroke-width="0.7"/>
<line x1="28.3" y1="343.1" x2="30.3" y2="343.1" stroke="#000" stroke-width="1"/>
<text x="25" y="346.4" font-size="8.8" text-anchor="end" font-weight="bold">10<tspan font-size="6" dy="-3.5">&#8722;1</tspan></text>
<line x1="29.1" y1="334" x2="30.3" y2="334" stroke="#000" stroke-width="0.7"/>
<line x1="29.1" y1="328.6" x2="30.3" y2="328.6" stroke="#000" stroke-width="0.7"/>
<line x1="29.1" y1="324.8" x2="30.3" y2="324.8" stroke="#000" stroke-width="0.7"/>
<line x1="29.1" y1="321.9" x2="30.3" y2="321.9" stroke="#000" stroke-width="0.7"/>
<line x1="29.1" y1="319.5" x2="30.3" y2="319.5" stroke="#000" stroke-width="0.7"/>
<line x1="29.1" y1="317.5" x2="30.3" y2="317.5" stroke="#000" stroke-width="0.7"/>
<line x1="29.1" y1="315.7" x2="30.3" y2="315.7" stroke="#000" stroke-width="0.7"/>
<line x1="29.1" y1="314.1" x2="30.3" y2="314.1" stroke="#000" stroke-width="0.7"/>
<text x="0" y="0" font-size="10.5" text-anchor="middle" font-weight="bold" fill="#000" transform="translate(9.3 272.9) rotate(-90) scale(1 0.88)">Delay time (ps)</text>
<text x="33.7" y="213.9" font-size="19" text-anchor="start" font-weight="bold" fill="#000">b</text>
<rect x="185.3" y="200.6" width="10" height="34.8" fill="url(#cbgrad)" stroke="#000" stroke-width="1.4"/>
<line x1="195.3" y1="200.6" x2="197.9" y2="200.6" stroke="#000" stroke-width="1"/>
<text x="201.9" y="203.7" font-size="8.6" text-anchor="start" font-weight="bold" fill="#000">2</text>
<line x1="195.3" y1="218" x2="197.9" y2="218" stroke="#000" stroke-width="1"/>
<text x="201.9" y="221.1" font-size="8.6" text-anchor="start" font-weight="bold" fill="#000">&#8722;3</text>
<line x1="195.3" y1="235.4" x2="197.9" y2="235.4" stroke="#000" stroke-width="1"/>
<text x="201.9" y="238.5" font-size="8.6" text-anchor="start" font-weight="bold" fill="#000">&#8722;8</text>
<text x="181.7" y="218" font-size="8.8" text-anchor="middle" font-weight="bold" fill="#000" transform="rotate(-90 181.7 218)">&#916;A (mOD)</text>
<mask id="mc"><rect x="143.3" y="410.6" width="69.4" height="88" fill="url(#spg)"/></mask>
<rect x="143.3" y="410.6" width="69.4" height="88" fill="url(#speck)" mask="url(#mc)" opacity="0.9"/>
<rect x="28.3" y="376.6" width="184.4" height="158" fill="none" stroke="#000" stroke-width="1.3"/>
<text x="28.3" y="545.2" font-size="8.9" text-anchor="middle" font-weight="bold" fill="#000">450</text>
<line x1="43.7" y1="534.6" x2="43.7" y2="533.1" stroke="#000" stroke-width="1"/>
<line x1="59" y1="534.6" x2="59" y2="532.1" stroke="#000" stroke-width="1"/>
<text x="59" y="545.2" font-size="8.9" text-anchor="middle" font-weight="bold" fill="#000">500</text>
<line x1="74.4" y1="534.6" x2="74.4" y2="533.1" stroke="#000" stroke-width="1"/>
<line x1="89.8" y1="534.6" x2="89.8" y2="532.1" stroke="#000" stroke-width="1"/>
<text x="89.8" y="545.2" font-size="8.9" text-anchor="middle" font-weight="bold" fill="#000">550</text>
<line x1="105.1" y1="534.6" x2="105.1" y2="533.1" stroke="#000" stroke-width="1"/>
<line x1="120.5" y1="534.6" x2="120.5" y2="532.1" stroke="#000" stroke-width="1"/>
<text x="120.5" y="545.2" font-size="8.9" text-anchor="middle" font-weight="bold" fill="#000">600</text>
<line x1="135.9" y1="534.6" x2="135.9" y2="533.1" stroke="#000" stroke-width="1"/>
<line x1="151.2" y1="534.6" x2="151.2" y2="532.1" stroke="#000" stroke-width="1"/>
<text x="151.2" y="545.2" font-size="8.9" text-anchor="middle" font-weight="bold" fill="#000">650</text>
<line x1="166.6" y1="534.6" x2="166.6" y2="533.1" stroke="#000" stroke-width="1"/>
<line x1="182" y1="534.6" x2="182" y2="532.1" stroke="#000" stroke-width="1"/>
<text x="182" y="545.2" font-size="8.9" text-anchor="middle" font-weight="bold" fill="#000">700</text>
<line x1="197.3" y1="534.6" x2="197.3" y2="533.1" stroke="#000" stroke-width="1"/>
<text x="212.7" y="545.2" font-size="8.9" text-anchor="middle" font-weight="bold" fill="#000">750</text>
<text x="120.5" y="554.4" font-size="10.5" text-anchor="middle" font-weight="bold" fill="#000">Wavelength (nm)</text>
<line x1="26.3" y1="403.9" x2="28.3" y2="403.9" stroke="#000" stroke-width="1"/>
<text x="23" y="407.2" font-size="8.8" text-anchor="end" font-weight="bold">10<tspan font-size="6" dy="-3.5">3</tspan></text>
<line x1="27.1" y1="394.8" x2="28.3" y2="394.8" stroke="#000" stroke-width="0.7"/>
<line x1="27.1" y1="389.4" x2="28.3" y2="389.4" stroke="#000" stroke-width="0.7"/>
<line x1="27.1" y1="385.6" x2="28.3" y2="385.6" stroke="#000" stroke-width="0.7"/>
<line x1="27.1" y1="382.7" x2="28.3" y2="382.7" stroke="#000" stroke-width="0.7"/>
<line x1="27.1" y1="380.3" x2="28.3" y2="380.3" stroke="#000" stroke-width="0.7"/>
<line x1="27.1" y1="378.3" x2="28.3" y2="378.3" stroke="#000" stroke-width="0.7"/>
<line x1="26.3" y1="434.3" x2="28.3" y2="434.3" stroke="#000" stroke-width="1"/>
<text x="23" y="437.6" font-size="8.8" text-anchor="end" font-weight="bold">10<tspan font-size="6" dy="-3.5">2</tspan></text>
<line x1="27.1" y1="425.1" x2="28.3" y2="425.1" stroke="#000" stroke-width="0.7"/>
<line x1="27.1" y1="419.8" x2="28.3" y2="419.8" stroke="#000" stroke-width="0.7"/>
<line x1="27.1" y1="416" x2="28.3" y2="416" stroke="#000" stroke-width="0.7"/>
<line x1="27.1" y1="413" x2="28.3" y2="413" stroke="#000" stroke-width="0.7"/>
<line x1="27.1" y1="410.6" x2="28.3" y2="410.6" stroke="#000" stroke-width="0.7"/>
<line x1="27.1" y1="408.6" x2="28.3" y2="408.6" stroke="#000" stroke-width="0.7"/>
<line x1="27.1" y1="406.8" x2="28.3" y2="406.8" stroke="#000" stroke-width="0.7"/>
<line x1="27.1" y1="405.3" x2="28.3" y2="405.3" stroke="#000" stroke-width="0.7"/>
<line x1="26.3" y1="464.6" x2="28.3" y2="464.6" stroke="#000" stroke-width="1"/>
<text x="23" y="467.9" font-size="8.8" text-anchor="end" font-weight="bold">10<tspan font-size="6" dy="-3.5">1</tspan></text>
<line x1="27.1" y1="455.5" x2="28.3" y2="455.5" stroke="#000" stroke-width="0.7"/>
<line x1="27.1" y1="450.1" x2="28.3" y2="450.1" stroke="#000" stroke-width="0.7"/>
<line x1="27.1" y1="446.3" x2="28.3" y2="446.3" stroke="#000" stroke-width="0.7"/>
<line x1="27.1" y1="443.4" x2="28.3" y2="443.4" stroke="#000" stroke-width="0.7"/>
<line x1="27.1" y1="441" x2="28.3" y2="441" stroke="#000" stroke-width="0.7"/>
<line x1="27.1" y1="439" x2="28.3" y2="439" stroke="#000" stroke-width="0.7"/>
<line x1="27.1" y1="437.2" x2="28.3" y2="437.2" stroke="#000" stroke-width="0.7"/>
<line x1="27.1" y1="435.6" x2="28.3" y2="435.6" stroke="#000" stroke-width="0.7"/>
<line x1="26.3" y1="495" x2="28.3" y2="495" stroke="#000" stroke-width="1"/>
<text x="23" y="498.3" font-size="8.8" text-anchor="end" font-weight="bold">10<tspan font-size="6" dy="-3.5">0</tspan></text>
<line x1="27.1" y1="485.8" x2="28.3" y2="485.8" stroke="#000" stroke-width="0.7"/>
<line x1="27.1" y1="480.5" x2="28.3" y2="480.5" stroke="#000" stroke-width="0.7"/>
<line x1="27.1" y1="476.7" x2="28.3" y2="476.7" stroke="#000" stroke-width="0.7"/>
<line x1="27.1" y1="473.7" x2="28.3" y2="473.7" stroke="#000" stroke-width="0.7"/>
<line x1="27.1" y1="471.3" x2="28.3" y2="471.3" stroke="#000" stroke-width="0.7"/>
<line x1="27.1" y1="469.3" x2="28.3" y2="469.3" stroke="#000" stroke-width="0.7"/>
<line x1="27.1" y1="467.5" x2="28.3" y2="467.5" stroke="#000" stroke-width="0.7"/>
<line x1="27.1" y1="466" x2="28.3" y2="466" stroke="#000" stroke-width="0.7"/>
<line x1="26.3" y1="525.3" x2="28.3" y2="525.3" stroke="#000" stroke-width="1"/>
<text x="23" y="528.6" font-size="8.8" text-anchor="end" font-weight="bold">10<tspan font-size="6" dy="-3.5">&#8722;1</tspan></text>
<line x1="27.1" y1="516.2" x2="28.3" y2="516.2" stroke="#000" stroke-width="0.7"/>
<line x1="27.1" y1="510.8" x2="28.3" y2="510.8" stroke="#000" stroke-width="0.7"/>
<line x1="27.1" y1="507" x2="28.3" y2="507" stroke="#000" stroke-width="0.7"/>
<line x1="27.1" y1="504.1" x2="28.3" y2="504.1" stroke="#000" stroke-width="0.7"/>
<line x1="27.1" y1="501.7" x2="28.3" y2="501.7" stroke="#000" stroke-width="0.7"/>
<line x1="27.1" y1="499.7" x2="28.3" y2="499.7" stroke="#000" stroke-width="0.7"/>
<line x1="27.1" y1="497.9" x2="28.3" y2="497.9" stroke="#000" stroke-width="0.7"/>
<line x1="27.1" y1="496.3" x2="28.3" y2="496.3" stroke="#000" stroke-width="0.7"/>
<text x="0" y="0" font-size="10.5" text-anchor="middle" font-weight="bold" fill="#000" transform="translate(7.3 455.1) rotate(-90) scale(1 0.88)">Delay time (ps)</text>
<text x="31.7" y="396.1" font-size="19" text-anchor="start" font-weight="bold" fill="#000">c</text>
<rect x="182" y="383.5" width="9.5" height="35.6" fill="url(#cbgrad)" stroke="#000" stroke-width="1.4"/>
<line x1="191.5" y1="383.5" x2="194.1" y2="383.5" stroke="#000" stroke-width="1"/>
<text x="198.1" y="386.6" font-size="8.6" text-anchor="start" font-weight="bold" fill="#000">2</text>
<line x1="191.5" y1="401.3" x2="194.1" y2="401.3" stroke="#000" stroke-width="1"/>
<text x="198.1" y="404.4" font-size="8.6" text-anchor="start" font-weight="bold" fill="#000">&#8722;3</text>
<line x1="191.5" y1="419.1" x2="194.1" y2="419.1" stroke="#000" stroke-width="1"/>
<text x="198.1" y="422.2" font-size="8.6" text-anchor="start" font-weight="bold" fill="#000">&#8722;8</text>
<text x="178.1" y="401.3" font-size="8.8" text-anchor="middle" font-weight="bold" fill="#000" transform="rotate(-90 178.1 401.3)">&#916;A (mOD)</text>
<clipPath id="clipd"><rect x="240" y="6.1" width="184.6" height="159.3"/></clipPath>
<g clip-path="url(#clipd)"><path d="M240 23.3l.6-1.5 .6 .4 .6 11.1 .6-7.5 .6 5.1 .6-.6 .6 5 .6-2.5 .6 13.2 .6-11.9 .6 5.1 .6 11.3 .6-4.1 .6 3.2 .6 12.9 .6-9.3 .6 7.8 .6 .5 .6 3.7 .6 1.2 .6-.2 .6 1.9 .6 9.3 .6-3.8 .6 6.5 .6 1.5 .6-2 .6-3 .6 2.9 .6 6.9 .6 2.3 .6 2.4 .6-1.9 .6-1.2 .6 5.5 .6-.9 .6 3.3 .6-2.9 .6 15.5 .6 2.1 .6-6 .6-1.8 .6 5.5 .6-2 .6 7.5 .6 1.4 .6-1.1 .6-5.1 .6 1.6 .6 6.6 .6-2.6 .6 4.3 .6-1.7 .6 5.4 .6-3.4 .6 3.6 .6-1.9 .6 3.1 .6 1.4 .6-3 .6 2.4 .6-.9 .6 2.2 .6-3.7 .6 6 .6-6 .6-2 .6 6.5 .6-7.8 .6-1 .6 6.4 .6 7.2 .6 1.2 .6-5.6 .6-7.6 .6 4.9 .6-.7 .6 4.1 .6 2 .6-4.4 .6 5.9 .6-3.6 .6-2.8 .6 1.8 .6-2 .6 3.8 .6-4.3 .6 .7 .6 7.9 .6-2.5 .6-1.4 .6-5.6 .6 1.2 .6-.1 .6 .2 .6-2 .6-1.4 .6 5.7 .6 3.9 .6-9.1 .6 3.3 .6-1.2 .6 .7 .6 3.5 .6 1.4 .6-9.9 .6-.7 .6 .5 .6 2.7 .6-.4 .6 2.5 .6-2.1 .6 1.7 .6 .4 .6-3.1 .6-6.1 .6 14 .6-10 .6-.5 .6 7.3 .6-6.2 .6 .6 .6 2.1 .6-.1 .6 3.4 .6-12.5 .6-2.7 .6 2.8 .6 7.2 .6-2.5 .6-.6 .6 4.5 .6-2.4 .6-3.4 .6 3.6 .6 5 .6-2.2 .6-6.2 .6 2 .6-.4 .6-6.7 .6 4.7 .6 2.9 .6-2.8 .6-9 .6 12.7 .6-11.7 .6 1.1 .6 6.1 .6 .4 .6-7.1 .6 4.4 .6 2.8 .6-9.4 .6 6.2 .6-.8 .6 1 .6 1.2 .6-1.9 .6 1.8 .6-3.6 .6-2.4 .6-.2 .6-.6 .6-1.4 .6 2.8 .6 5.2 .6-6.3 .6 10.1 .6-3.9 .6-4.1 .6 7.6 .6-12.6 .6 9.6 .6 1.7 .6-3.1 .6-.1 .6-3.2 .6 .3 .6-4.9 .6 4.5 .6-1.6 .6 4.4 .6-6.1 .6 4.8 .6 4.3 .6-13.1 .6 9.1 .6-.2 .6-1.1 .6-6.3 .6 8.2 .6-4.7 .6-4.2 .6-5.5 .6 8.3 .6-1.7 .6 3.2 .6-11.6 .6 8 .6-.7 .6-1.3 .6 3.7 .6-4 .6 4.4 .6-11.4 .6 5.9 .6-.6 .6-5.8 .6 8.8 .6-11 .6-1.1 .6 8.4 .6-6.4 .6 2.5 .6-4.5 .6 2.7 .6 3.1 .6-6.7 .6 2.7 .6-2.2 .6-3.8 .6-1.6 .6 1.6 .6 7.4 .6-9 .6 3.2 .6-6.1 .6 4.3 .6-7.1 .6 2.9 .6 1.4 .6-1.8 .6 7.5 .6-9.8 .6 1.2 .6 4.2 .6-6.5 .6-.2 .6-.6 .6 1.3 .6-4.1 .6-.5 .6 2.3 .6 .1 .6 1 .6 .2 .6-5.4 .6 4.3 .6 3.2 .6-7.4 .6-4.1 .6 5.5 .6-5.4 .6 1.3 .6 6.4 .6-6.5 .6 1.7 .6-4.1 .6 16.3 .6-17.7 .6 .1 .6 7.9 .6-10.3 .6 5.9 .6-2 .6-3.8 .6-2.9 .6 5.9 .6-3 .6 1 .6 6.2 .6-13.5 .6 4.5 .6 3.2 .6-5.7 .6 2.7 .6 6.1 .6-9.5 .6 5.3 .6-3.7 .6-2.4 .6-.3 .6-6.2 .6 10.2 .6 2 .6 3.3 .6-.9 .6-8.9 .6 1.2 .6 8.2 .6-2.1 .6-1.6 .6-14.2 .6 16.6 .6-9.6 .6 13.3 .6-10.7 .6-12.5 .6 18 .6-18.6 .6 21 .6-15.8 .6 6.5 .6-11 .6-1.6 .6-11.7" fill="none" stroke="#1e6b32" stroke-width="1.15" stroke-linejoin="round"/>
<path d="M240 28.4l.6 2.7 .6 6.1 .6-3.4 .6 9 .6 1.2 .6 1.9 .6-4.3 .6-6.9 .6 14.3 .6-8.3 .6 17.1 .6-.2 .6-3.6 .6 1.6 .6 1.3 .6-1.9 .6 10.5 .6-4.2 .6 5.9 .6 15.9 .6-6.6 .6-.3 .6-1.1 .6-.1 .6 5.1 .6-5.1 .6 11.1 .6-2.4 .6-2.2 .6 9.7 .6-7.8 .6 2.7 .6 5.9 .6 .8 .6 1.8 .6 1 .6-3.5 .6 4.2 .6 8.8 .6 1.9 .6-7.3 .6 13.9 .6-3.1 .6-2.8 .6-1.3 .6-4.6 .6 5.5 .6-12.4 .6 13.8 .6-1.7 .6 .1 .6 5.1 .6-3.4 .6 2.1 .6 2.1 .6 4.1 .6-.2 .6-4.2 .6 3.8 .6-1.2 .6 .5 .6 .9 .6 1.5 .6-1.9 .6-.6 .6-1.9 .6 3.7 .6 4.4 .6 .7 .6-4.9 .6 8.7 .6-3.8 .6-5.9 .6 5.6 .6 1.5 .6-7.3 .6 15.5 .6-10 .6 1.6 .6 .3 .6-5.4 .6-2.2 .6 1.5 .6 2.1 .6 1.2 .6 2.3 .6-1 .6 6.4 .6-4.3 .6-4.4 .6 2.7 .6-3.7 .6 9.3 .6-3.9 .6 1.7 .6-8.2 .6 5.1 .6 .1 .6 3.6 .6-2.9 .6 1.9 .6-1.8 .6-10.8 .6 13 .6-3.6 .6 2.4 .6-8.7 .6 8.8 .6-.5 .6-4.9 .6-5.1 .6 5.5 .6 3.1 .6 7.7 .6 4.1 .6-14 .6-.5 .6-4.7 .6 2.7 .6 2.8 .6-6.2 .6-1.9 .6 9.3 .6-6.4 .6-1.2 .6 7.6 .6-5.4 .6 2.3 .6-4.9 .6 .1 .6 12.5 .6-7.6 .6-6.4 .6 3.2 .6 5.9 .6-2.3 .6 2.2 .6-5.7 .6 6.2 .6-10.1 .6 1.3 .6-3.4 .6 2.2 .6 0 .6 .3 .6 1.1 .6 9.7 .6-10 .6 5.1 .6 6.1 .6-15.7 .6 6 .6 6.2 .6-7.8 .6-.7 .6 .8 .6-5.2 .6 10 .6-8.1 .6 7.2 .6-5.9 .6-.9 .6 4.3 .6-12 .6 16.9 .6-1.5 .6-4.2 .6 1.5 .6-8.2 .6 6.6 .6-7.8 .6 6.8 .6-5.1 .6-.2 .6 2.5 .6-2.6 .6 1.2 .6-7.1 .6-1.3 .6 10.5 .6-3.5 .6-2.9 .6 2.1 .6-5.8 .6-2.9 .6 18 .6-5.9 .6-7.7 .6 2.9 .6 4.6 .6-2.2 .6-1.7 .6-6.3 .6 9.9 .6-4.9 .6-5.3 .6 1.4 .6 4.3 .6 .2 .6 5.5 .6-.7 .6-3.7 .6-7.2 .6-.4 .6-2.3 .6 1 .6 .1 .6 1.8 .6 3.4 .6-8.5 .6 5.8 .6 5.1 .6-9.4 .6 .9 .6-9.8 .6 10.1 .6-3 .6 5.4 .6-7.7 .6 1.1 .6 3.7 .6-4.7 .6 5.4 .6-7.9 .6 3.5 .6-3.8 .6 4.4 .6-1.2 .6-3.1 .6-4.6 .6 2.2 .6 9.2 .6-12.7 .6 2.4 .6-3.5 .6-2.7 .6 .6 .6 5.6 .6-2.1 .6-4 .6-2.5 .6 6.5 .6-1.1 .6 .9 .6-5.9 .6 4 .6-12.5 .6 5.5 .6-1.9 .6 2 .6 4.8 .6 8.1 .6-17.7 .6 4.7 .6 9.6 .6-21.8 .6 9.2 .6-4.3 .6 8.4 .6 7.1 .6-5 .6-8 .6 14.3 .6-8.2 .6-8.8 .6 0 .6 4.9 .6 13.8 .6-12.5 .6-8.7 .6 2 .6 6.7 .6-4.6 .6-1.5 .6 5.2 .6 1.7 .6-.4 .6 .5 .6-4.8 .6-.6 .6-4.1 .6-.3 .6 4.1 .6 12.4 .6-17.4 .6 9 .6-17.3 .6 12.9 .6-17.2 .6 10.2 .6-7.4 .6 9.5 .6-2.6 .6 6 .6-.1 .6-.5 .6-9.1 .6 12.7 .6-16.1 .6 8.4 .6-7.4 .6 10.8 .6-8.8 .6 12.2 .6-9.2 .6-4.5 .6 5" fill="none" stroke="#3d8a25" stroke-width="1.15" stroke-linejoin="round"/>
<path d="M240 43.5l.6 .1 .6 1.9 .6 14.1 .6-7.7 .6 1.4 .6 5.3 .6 2.4 .6-13.5 .6 7.5 .6 1 .6 .7 .6 12.4 .6-1.8 .6 8.9 .6-8.2 .6 11.5 .6-4.5 .6-5.7 .6 2.2 .6 8.1 .6 .5 .6-8.8 .6 4.8 .6 5.1 .6-1.9 .6 1 .6 6 .6-1.4 .6 7.1 .6-8.6 .6 1.5 .6-3 .6 .8 .6 6.6 .6-7.4 .6 9.8 .6-5.9 .6 6.4 .6 1 .6 3 .6-4.2 .6-8.7 .6 8.8 .6-.9 .6 3.6 .6-3.1 .6-.2 .6 .9 .6-3.3 .6 5.8 .6-1.5 .6-4.2 .6 3.9 .6 5.7 .6-7.7 .6 2.7 .6 5.9 .6 .2 .6-1.3 .6-4.6 .6 2.1 .6-2.4 .6-5.6 .6 3.1 .6 6.5 .6 3.3 .6-8 .6 8.5 .6 .4 .6-2.5 .6-1.4 .6 2.2 .6-1.9 .6 11.7 .6-9.1 .6-1.5 .6-2.6 .6 1.5 .6 2.3 .6-10.7 .6 6 .6 1.4 .6 1.2 .6-.6 .6 5.1 .6 .8 .6-5 .6 7.2 .6-8.6 .6 3.9 .6-4.3 .6 2.3 .6 3.7 .6-.5 .6-1.1 .6-6.8 .6-.3 .6 6.2 .6-1.3 .6 3.7 .6-8.7 .6 4.6 .6 3.5 .6 2.6 .6-7.2 .6-5.3 .6 7 .6 3.9 .6-.1 .6-1.2 .6 6.7 .6-12.5 .6 5.8 .6 5 .6 4.3 .6-12.9 .6 .5 .6-4.8 .6 1.7 .6 5.5 .6 5.1 .6-7.6 .6 3 .6-2.6 .6 6.5 .6-5.1 .6-.4 .6 4.1 .6 1.8 .6 1.8 .6-9.2 .6-4.5 .6 4.8 .6 9.9 .6-10 .6 6.3 .6-7.6 .6-6 .6 5.4 .6 11.4 .6-14.4 .6 2.7 .6-6.2 .6 5.4 .6-.9 .6 9.7 .6-12.8 .6 10.4 .6 3 .6-10.1 .6-1 .6-2.9 .6 1.1 .6 2.9 .6 .1 .6-2.2 .6 1.8 .6-.5 .6 9.7 .6-7.7 .6 .9 .6-3.6 .6 5 .6-6.9 .6 .6 .6 7.2 .6-4.7 .6-2.2 .6 6.3 .6 5.1 .6-8.7 .6-2.1 .6 .7 .6-4.4 .6 3 .6-5.4 .6 8.4 .6-8.9 .6 7.5 .6-3.3 .6 9.2 .6-4.6 .6-7.9 .6 4.2 .6 0 .6 4.6 .6-8.1 .6 6.9 .6-9.9 .6 3.1 .6 4.5 .6 .8 .6-1.4 .6-3.8 .6 .3 .6 7.2 .6-8 .6 5.4 .6-11.7 .6 14.5 .6-11.4 .6 8.2 .6-6.4 .6-3.4 .6 2.6 .6 6.2 .6 1.3 .6-12.2 .6 8.8 .6-6.6 .6-1.9 .6 11 .6-14.6 .6 8 .6 0 .6 2.8 .6-5.1 .6-1.3 .6-2.6 .6-.3 .6-.3 .6 4.2 .6-.4 .6-1.2 .6-.5 .6-4.6 .6 1 .6 4 .6 2.6 .6 3.6 .6-7 .6-1.3 .6 7.2 .6-6.3 .6-2.7 .6-.2 .6 6.1 .6-3.2 .6 2.8 .6-9.4 .6 2 .6-9.4 .6 12.3 .6-8.6 .6 5.6 .6-.4 .6-4.1 .6 11.8 .6-3.1 .6-11.6 .6 1.9 .6-4 .6 5.4 .6 4.3 .6-6.2 .6 5.7 .6-1.9 .6 0 .6 3.3 .6-14.5 .6 6.5 .6 2.7 .6-1.5 .6 4.6 .6-1.2 .6-2.7 .6-1.2 .6 13 .6-18.7 .6 18 .6-6 .6 2.2 .6-8.5 .6 10.5 .6-15.8 .6 1.5 .6-1.6 .6 .6 .6 6.5 .6-3.5 .6 7.2 .6-3.3 .6-5.4 .6 10.6 .6-6.2 .6 1.3 .6-9.1 .6 2.2 .6 6.3 .6-8.3 .6-7.7 .6 5.4 .6 6.7 .6-.3 .6 7.5 .6-3.1 .6-5.9 .6-.9 .6 12.9 .6-1.4 .6-.3 .6-.7 .6-4.1 .6-4.1 .6 6.8 .6-4.6 .6 8.8" fill="none" stroke="#a0b428" stroke-width="1.15" stroke-linejoin="round"/>
<path d="M240 49.8l.6-1.3 .6 5.8 .6 7 .6-20.6 .6 19.1 .6-5.5 .6 15.2 .6-6.5 .6-3.4 .6 2.3 .6-.1 .6 1.6 .6 5.1 .6 1.8 .6-2.6 .6 3.2 .6 .6 .6-4 .6 1.7 .6 3.9 .6-6.3 .6 5.8 .6 1.4 .6-4 .6 3.2 .6 8.3 .6-8 .6 9.1 .6-4.7 .6-1.9 .6-.9 .6 6.7 .6-1.7 .6-4 .6-4.4 .6 .6 .6 4.9 .6-2.9 .6 9.1 .6-.9 .6-3.7 .6 .3 .6 9.5 .6-10.4 .6 8.3 .6-2.7 .6 4.3 .6-3 .6-5.4 .6 9.5 .6-2.4 .6-2.3 .6-2.1 .6-4.3 .6 6.4 .6-3.4 .6 10.4 .6-3.8 .6 7.4 .6-13.7 .6 6.9 .6-4.5 .6 6.7 .6 .3 .6-.2 .6-1 .6-1.5 .6 5.7 .6-7 .6-1.8 .6 9.5 .6-1 .6-1.4 .6-.9 .6-10.3 .6 3.9 .6 8 .6-15.7 .6 7.6 .6 8.2 .6 1.7 .6-8.2 .6 8.1 .6-7.2 .6-2.8 .6 6.8 .6-.4 .6 .3 .6-8.4 .6 2.6 .6 .6 .6-1.4 .6 3.4 .6 2.5 .6-3.8 .6-2.4 .6 4.2 .6 .3 .6 2.8 .6-9.2 .6 2.4 .6 2.2 .6 .1 .6-.8 .6 1.2 .6-3.6 .6 3.1 .6-2.3 .6 2.8 .6 2.5 .6-6.8 .6-.1 .6-1.5 .6 7.8 .6 .8 .6 4.8 .6-7.6 .6 3.5 .6-8 .6 9.2 .6-8.4 .6 8.6 .6-4.4 .6-5.5 .6 6.8 .6-3.5 .6-1.3 .6 8 .6-14.3 .6 14.2 .6-4.3 .6-2 .6-.9 .6-2.5 .6-.8 .6 9.9 .6-4.7 .6 7.4 .6-9.4 .6 3.7 .6-4.1 .6 8 .6-2.4 .6-6.5 .6-1 .6 4 .6 .4 .6 .3 .6 .1 .6-.1 .6-12.6 .6 7.2 .6 9.1 .6-4.7 .6 2.2 .6-4.7 .6-7.9 .6 3.4 .6 4.2 .6-1.1 .6 2 .6 3.4 .6-1.7 .6-6.9 .6 10.5 .6-11.3 .6-4.3 .6 8.8 .6-4.3 .6 3.6 .6 1.7 .6 6.9 .6-5.3 .6-9.1 .6 5.7 .6 1.4 .6-7.6 .6 6.4 .6 7.4 .6-5.8 .6-8.2 .6 1.3 .6 5.7 .6-4.7 .6 3.6 .6-10.3 .6 6.6 .6-1.9 .6 2.6 .6-2.5 .6 1.4 .6 2.1 .6 2.1 .6-.6 .6-1 .6-3.7 .6 .3 .6-3.1 .6 6.1 .6-1.6 .6 8.9 .6-5.6 .6-.3 .6-2.7 .6-.6 .6 2.2 .6-3.5 .6 3.2 .6-1.9 .6 2.3 .6-3.4 .6 2.9 .6-1.6 .6 2.1 .6 1.9 .6-10.5 .6 7.9 .6-7.4 .6 5.4 .6-1.4 .6-.6 .6 3.5 .6 3.1 .6-10 .6 2 .6 7.1 .6-3.8 .6-.5 .6-7 .6 2.1 .6 1.8 .6-4.6 .6 2.6 .6 4.3 .6 2.4 .6-9.6 .6 10.4 .6-11.6 .6 11.6 .6-4.7 .6-7.6 .6 1.2 .6-1.3 .6 10.3 .6-4.8 .6-1.2 .6 1.3 .6 .6 .6-3.8 .6 1.1 .6 3.9 .6-1.7 .6-1.4 .6-1.2 .6 .9 .6 5.7 .6-7.4 .6-2.1 .6-5.2 .6 9.8 .6-6.9 .6 7 .6-9.1 .6 6.9 .6-1.3 .6 1.5 .6-1.9 .6-.3 .6 8.3 .6-11 .6 9.1 .6-4.6 .6-6.4 .6 6.5 .6 2.4 .6-13.5 .6 1.5 .6-.3 .6 2.1 .6 3.2 .6 1.6 .6 10.1 .6-3.2 .6-.5 .6-12.2 .6-8.7 .6 10.2 .6 6.4 .6-10.5 .6 9.5 .6 1 .6-1.2 .6-8.2 .6-1.1 .6 6.4 .6 9.3 .6-13.5 .6 11.6 .6 .8 .6-2.6 .6 3.4 .6-2.8 .6-18.7 .6 20.1 .6-7.2 .6 10.7 .6-5.6" fill="none" stroke="#e0d040" stroke-width="1.15" stroke-linejoin="round"/>
<path d="M240 53.5l.6-1.6 .6 1.1 .6 2.2 .6 4.6 .6-11 .6 5.3 .6 7.9 .6-.7 .6 2.1 .6-1.3 .6 4.1 .6-6.1 .6-.2 .6 6.2 .6-1.7 .6 5.3 .6-8.1 .6 8.5 .6-3.7 .6 1.2 .6 6.4 .6 4.3 .6-4.3 .6 1.6 .6-1.4 .6-2 .6 .3 .6 2.3 .6-9 .6 12.3 .6-8.3 .6 1.1 .6 6.5 .6-10.9 .6 2.9 .6 4.2 .6-.3 .6 1.8 .6-2 .6 4.7 .6-6.3 .6 .8 .6 5.6 .6 4.7 .6-10.3 .6 4 .6 4.4 .6-9.1 .6 5.1 .6 7.1 .6-9.6 .6 8.6 .6 3 .6-4.3 .6-2 .6 6.8 .6-16.6 .6 8.4 .6 .5 .6 1.8 .6-1.9 .6 4.7 .6-2.1 .6-5.5 .6 5.8 .6-1.8 .6 1.8 .6-8.3 .6 2.9 .6 3.2 .6-1.3 .6 1.8 .6 .2 .6-9.6 .6 19.9 .6-8.2 .6-.7 .6-3.6 .6 9.9 .6-3.4 .6-4.2 .6 9.3 .6-9.9 .6-6.6 .6 12.6 .6 4.4 .6-10.9 .6 3.8 .6-9.5 .6 10 .6 1 .6-7.4 .6-.4 .6 .8 .6-4.8 .6 6.8 .6 2.2 .6 2.3 .6-1.6 .6 1.3 .6 .4 .6 2.1 .6 5.2 .6-11.3 .6 .1 .6 8.5 .6-10.3 .6 14.7 .6-9.2 .6-2.6 .6 2.1 .6-4.5 .6-1.9 .6 .1 .6 4.3 .6-6 .6 8 .6 .7 .6 .3 .6 .4 .6-1.3 .6 3.6 .6 1.3 .6-12.9 .6 3.8 .6-1.6 .6 2.5 .6 5.7 .6-9.5 .6 2.2 .6 7.8 .6-8 .6 11.5 .6-12.6 .6 7.5 .6-7.6 .6 7.5 .6-7.8 .6 2.8 .6-1 .6 1.2 .6-1 .6-.6 .6-.6 .6 12.3 .6-7.6 .6 .6 .6-1 .6-.7 .6-8.8 .6 5.8 .6 7.9 .6-3.9 .6-5.8 .6 8.3 .6-5.4 .6 3.2 .6-3.9 .6 2.2 .6-.7 .6 .8 .6 2.2 .6-8.5 .6 3.4 .6 1 .6-5.9 .6 5 .6 1.2 .6-1.1 .6 2.3 .6 1.5 .6-10.7 .6 10.5 .6-8.4 .6 3.1 .6 6.4 .6-3.8 .6 1.9 .6-2.9 .6-3.8 .6 6.9 .6-.2 .6 1.1 .6-10.8 .6 5.2 .6-1 .6 .6 .6 5.1 .6-11.4 .6 11.1 .6 4.1 .6-11.9 .6 6.5 .6-7.8 .6 1 .6 2.2 .6-2.4 .6-.4 .6 5 .6 .9 .6 2 .6-3.7 .6 1.2 .6 1.2 .6-1.5 .6-13.3 .6 7.4 .6 8 .6-12.3 .6 13.8 .6-7 .6 3.7 .6-.2 .6-2.4 .6-4.2 .6-2.8 .6 11.8 .6-5.8 .6 1.5 .6-5.8 .6-1.4 .6 8.3 .6-2 .6-.4 .6-6.3 .6 4.6 .6 1.3 .6-.7 .6 0 .6-3.6 .6-6.9 .6 14 .6-4.3 .6-4.7 .6 10.4 .6-10.8 .6-.1 .6 1.3 .6 5.4 .6-12.8 .6 6.2 .6 1.7 .6-5.8 .6 10.8 .6-3.2 .6 4.4 .6-7 .6-1.3 .6 1.7 .6-.4 .6-4 .6 5.9 .6-1.7 .6 4.5 .6-8.6 .6 4.1 .6-9.1 .6 10.5 .6-5.4 .6 .8 .6 8.1 .6-10.1 .6 1.3 .6-2.6 .6 .3 .6 6.2 .6-9.9 .6 6.2 .6-2.1 .6 15.5 .6-.3 .6-1 .6-9.4 .6-.5 .6-3.5 .6 3 .6 10.4 .6-7.1 .6-11.6 .6 2.1 .6 16.4 .6-7.8 .6 7.2 .6-11.6 .6-4.1 .6 1.3 .6 12.3 .6-3.6 .6-2.4 .6-12.8 .6 9.7 .6 1.2 .6-.1 .6-.6 .6 7.5 .6 2 .6-4.1 .6-1.7 .6 2.7 .6-9.4 .6 5.5 .6-4.9 .6 11.9 .6 14 .6-14 .6-9.9 .6 6.1" fill="none" stroke="#f5b400" stroke-width="1.15" stroke-linejoin="round"/>
<path d="M240 67.8l.6-10.4 .6 2.2 .6-1.3 .6 3.5 .6-2.3 .6 4.1 .6 .4 .6-6.5 .6 4.7 .6 3.3 .6 7.3 .6-1.8 .6-.5 .6-4.2 .6 10.9 .6-8.4 .6-4.8 .6 6.2 .6 8.1 .6-10.5 .6 4.9 .6-2.3 .6-.9 .6 1.7 .6 3.9 .6 3.5 .6-12.7 .6 13.1 .6-6.7 .6 7.5 .6-8.4 .6-2.3 .6 4.5 .6 6.6 .6-1.3 .6-6.9 .6 .1 .6 3.7 .6 1.8 .6-5.1 .6 4.3 .6 1 .6-1.9 .6 2.2 .6-3.1 .6-1 .6 4.1 .6 11.5 .6-9.2 .6 2.1 .6 2.9 .6-2.4 .6-7 .6 11.1 .6-4.1 .6 1.7 .6 3.2 .6 .2 .6-7.9 .6 7.6 .6-12.4 .6 8.2 .6-2 .6-.7 .6 8.6 .6-10.3 .6 3.7 .6 1.1 .6-2.4 .6 1.6 .6 .6 .6 5.2 .6-4.4 .6-2.8 .6 5.8 .6-6.3 .6 4.5 .6-3.4 .6 2 .6 4.3 .6-3.2 .6 1.4 .6 .9 .6 .2 .6 5.1 .6-7.2 .6-.6 .6 3.6 .6 2.1 .6-8.8 .6 1.1 .6-3 .6 .2 .6 8.1 .6-3.9 .6 .5 .6-4 .6 7.3 .6-.2 .6-8.5 .6 9.2 .6-4.7 .6-.3 .6 6.5 .6-3 .6 .6 .6-1.3 .6 2.1 .6-7.8 .6 4.8 .6-4.9 .6 .4 .6 10.1 .6-10.1 .6 5.4 .6-5 .6-1 .6-1.3 .6 1.2 .6 4.3 .6 1.8 .6-2.8 .6-.6 .6 .7 .6 1 .6-3.2 .6 3.8 .6-2.7 .6 .3 .6-3.8 .6 6.6 .6 0 .6 .9 .6-6.5 .6 1.4 .6 2.5 .6-7.9 .6 10.2 .6-6.9 .6 1.6 .6 3 .6 2.5 .6-1.3 .6-6.4 .6 8.9 .6-4.6 .6 2.1 .6-3.5 .6 3 .6-1.2 .6 3.4 .6-6.1 .6 3.9 .6-3.5 .6 7 .6-2.1 .6-3.5 .6 1.4 .6-2.2 .6 1.5 .6-5.4 .6 .7 .6-2.4 .6 1.6 .6-2.1 .6-.1 .6 3.1 .6 2.9 .6-1.6 .6-.9 .6 3.4 .6-1.5 .6-5.7 .6 1 .6 5.7 .6 .8 .6-1.8 .6 4.2 .6-10.6 .6 2.2 .6 6.2 .6-3.7 .6 1.5 .6-7.8 .6 9.8 .6-2.4 .6-9.1 .6-.4 .6 .2 .6 4.7 .6 3 .6 1.4 .6-6.5 .6 6.1 .6-2.8 .6 0 .6-4.7 .6 6.5 .6-6.7 .6 6 .6-.4 .6 2.3 .6-5.5 .6 1.5 .6-1.2 .6 1.5 .6-1.8 .6-6.2 .6 4.5 .6-2.3 .6 4 .6-.3 .6-4.9 .6-6.2 .6 12.7 .6-4.3 .6 3.5 .6-4.1 .6 1.1 .6 2.8 .6 3.6 .6 .2 .6-11.8 .6 4.8 .6-.1 .6-2.4 .6 2.4 .6-8.8 .6 7.6 .6-3.7 .6 3 .6 6.3 .6-8 .6 .9 .6 2.7 .6-7.4 .6 2.6 .6-.7 .6 7.8 .6-3.1 .6 4.6 .6-9.1 .6-2 .6 6.4 .6-11.5 .6 13.3 .6-5.4 .6 9.5 .6-.4 .6-9.9 .6 .9 .6-8.2 .6 7.6 .6-4.9 .6 9.3 .6-6.3 .6-3.6 .6 6 .6-6.2 .6 1.4 .6 3.9 .6 6.4 .6-2 .6 5.4 .6-13.4 .6-2.8 .6 6.3 .6-.6 .6 12.8 .6-16.5 .6 13.5 .6-4.3 .6-14.3 .6 8.5 .6 7.1 .6 .7 .6-6.5 .6-5 .6 5.5 .6 .7 .6-2.3 .6-1.2 .6 14 .6 2 .6-19.6 .6 13 .6 9.4 .6-10.5 .6-1.9 .6 1.2 .6-10.1 .6 15.6 .6-6.9 .6 9.7 .6-24.2 .6 22.8 .6 3.6 .6-16.5 .6 4 .6 11.4 .6-12.4 .6-.4 .6 10.1 .6-6.1 .6-1.6 .6 3.2 .6 10.2" fill="none" stroke="#f0a000" stroke-width="1.15" stroke-linejoin="round"/>
<path d="M240 60.8l.6 3.3 .6 .9 .6-1 .6 3.3 .6-.6 .6 .9 .6 1.4 .6-3.1 .6 10 .6-.8 .6-.5 .6 2.1 .6-5.8 .6 2.1 .6 2.2 .6 1.8 .6-3.1 .6-.7 .6 .4 .6 5.8 .6-.8 .6 8.4 .6-5.9 .6-9.8 .6 12.9 .6-6.6 .6 1.9 .6 7 .6 3.9 .6-3.7 .6-7.8 .6 1.4 .6 2.1 .6 4.5 .6-3.9 .6 7.5 .6-7.5 .6 2.1 .6-.7 .6-8.9 .6 1.3 .6 14.6 .6-4 .6 1.3 .6-1.1 .6-7.8 .6 14 .6-3.8 .6-5.4 .6 7.8 .6-8.5 .6 6.3 .6 1 .6-2.6 .6 3.6 .6-4.6 .6-2.7 .6 16.7 .6-13.5 .6 12 .6-.2 .6-10.3 .6 2 .6 .2 .6 5.1 .6-1 .6-.9 .6 5.5 .6-8.3 .6 3.1 .6-3 .6 11.9 .6 .7 .6-7.7 .6-1.3 .6-2.9 .6 4.2 .6 1.2 .6 .7 .6-7.4 .6 3.2 .6-6.4 .6 7.1 .6-1.8 .6 1.9 .6 .8 .6-2.5 .6 6 .6-2.7 .6-3.5 .6 4.5 .6 5.5 .6-6.3 .6 2.4 .6-6.2 .6 6.7 .6-1.4 .6-3.9 .6 2 .6-3.9 .6 1.7 .6 1.3 .6-3.2 .6 1.2 .6 3.4 .6-6 .6 3.9 .6-1.9 .6 2 .6-1.8 .6 3.9 .6-4 .6 .9 .6 1.3 .6-.8 .6 1.4 .6-3.3 .6-4.1 .6 9.2 .6-2.2 .6 4.7 .6-4.5 .6-1.2 .6-1.7 .6 6.4 .6-2.2 .6-2.9 .6-11.4 .6 10.7 .6 .1 .6 3.2 .6-1.4 .6 8 .6-6.9 .6 .2 .6-1.7 .6 .2 .6-10 .6 4.3 .6 4.1 .6 7 .6-14.4 .6 8.9 .6 1.1 .6-2.9 .6-.1 .6-6.2 .6 5.1 .6-1.6 .6-.7 .6-3.6 .6 3.1 .6 3.2 .6 .9 .6 3.8 .6-1.7 .6 8 .6-16.2 .6 7 .6-.8 .6-5.2 .6 4.1 .6-2.5 .6 3.5 .6-1.5 .6-1.4 .6-6.3 .6 12.6 .6-3.1 .6-4.9 .6-1.1 .6 3.6 .6-1.3 .6 .1 .6-3.3 .6 8.5 .6-5.4 .6-6 .6 1.2 .6 6.4 .6-4.3 .6 5.8 .6-6.4 .6 .3 .6 1.4 .6-1.5 .6 2.2 .6-5.4 .6 .7 .6 .8 .6-2 .6-.3 .6 3.9 .6-2 .6 2.5 .6 6.4 .6-11.6 .6 5.2 .6-.4 .6-8.4 .6 8.4 .6 .6 .6 5.6 .6-8.5 .6 .7 .6 2.9 .6-6.9 .6 5.8 .6 3.3 .6-2.7 .6-1.7 .6-.3 .6-1 .6 4.3 .6-.8 .6 3.5 .6-6.9 .6-6.7 .6 1.8 .6 9.5 .6-3.6 .6-7.3 .6 6.3 .6 0 .6 3.5 .6-12.6 .6 2.7 .6 8.1 .6-8.1 .6 7.3 .6-4.3 .6-4.5 .6 8.2 .6-.2 .6 .4 .6-4 .6-3.7 .6-.1 .6-3.4 .6-.9 .6 4.5 .6 8.4 .6-2.2 .6-6.1 .6 1.1 .6 1.4 .6 1.4 .6-4 .6 7.6 .6-5.2 .6-2.7 .6-4.1 .6-.2 .6 8.6 .6 2.4 .6-5.6 .6-1.8 .6 8.6 .6 .2 .6-4 .6-2.8 .6-2.1 .6 2.1 .6-.7 .6-5.1 .6 6.3 .6 .1 .6 6.2 .6-9.9 .6-3.9 .6 1.8 .6 8.1 .6-11 .6 7.8 .6-11.9 .6 8.5 .6-5.6 .6 5.6 .6 .4 .6 5.4 .6-.3 .6-11.3 .6 12.7 .6-16.1 .6 21.2 .6-10.9 .6 3 .6-14.7 .6 14.4 .6-.2 .6 2.5 .6-10.1 .6 5.9 .6-1.1 .6 10.4 .6-8.4 .6-.1 .6 2.7 .6-16.5 .6-3.8 .6 19.9 .6 5.3 .6-6.4 .6 1.9 .6 15.6 .6-8.7 .6 11.4" fill="none" stroke="#f57d00" stroke-width="1.15" stroke-linejoin="round"/>
<path d="M240 69.1l.6-.6 .6-5.2 .6 5.1 .6-.5 .6 2 .6 11.4 .6-16.1 .6 8.4 .6 3.1 .6 3 .6 2.8 .6-7.5 .6-3.5 .6 6.4 .6 2 .6-2.7 .6 17.6 .6-15.3 .6 3.3 .6-4.5 .6-1.4 .6 6.9 .6 4.6 .6-7.7 .6 3.4 .6-1.8 .6-.2 .6 3.9 .6 3.3 .6-3.5 .6 1.4 .6-4.6 .6 5.4 .6-3.8 .6 1.7 .6 3.3 .6 10.3 .6-4.2 .6-6.8 .6-.3 .6 6.8 .6 3.9 .6-15.4 .6 10.3 .6 7.2 .6-9.3 .6-3.8 .6 14.9 .6-8.6 .6 2.5 .6-1.6 .6-2.4 .6 6.7 .6 .8 .6 .7 .6-8.6 .6-.3 .6 9.1 .6-8.8 .6 7.4 .6-2.6 .6 2.3 .6-.6 .6-6.6 .6 5.1 .6 4.2 .6-9.6 .6-1 .6 7.4 .6-6 .6-.6 .6 9.9 .6 4.2 .6-1.3 .6 .7 .6-3.7 .6-9.3 .6 9.2 .6 .5 .6-8.3 .6 7.1 .6-2.8 .6-6.5 .6 14.2 .6-1.2 .6-3.5 .6-1.9 .6 .4 .6-1.6 .6 6.7 .6-3.1 .6 3.3 .6-4.3 .6-2.6 .6-.3 .6 1.4 .6-3.4 .6 10 .6-5.4 .6-1.8 .6 7.7 .6-17.3 .6 13.7 .6-6.5 .6 5.1 .6-1.3 .6 .3 .6-6.9 .6 6.8 .6-3 .6-.1 .6 1 .6-1.1 .6 6.3 .6 3.8 .6-5.7 .6 2 .6 5.3 .6-13.7 .6 12.3 .6-14.3 .6 12.6 .6-2.5 .6-6.3 .6 .5 .6-2.3 .6 4.1 .6 1.4 .6 9.3 .6-12 .6 2.3 .6-.6 .6-2.4 .6-3.9 .6 9 .6-2.5 .6 .3 .6 5.9 .6-11.4 .6 5.4 .6 5.8 .6-8.4 .6 1.1 .6-1 .6 6.2 .6-.6 .6-5.2 .6-3.1 .6 7 .6-4.3 .6 1.4 .6-2.4 .6-2.3 .6 .5 .6-2.5 .6-2.5 .6 9.6 .6-7.3 .6 6.1 .6-.8 .6 1.4 .6-4.4 .6 8.3 .6-1.2 .6-2.1 .6 1.5 .6 2.6 .6-7.8 .6 1.7 .6 2.2 .6-5.8 .6-4.3 .6 10.4 .6-8.7 .6 7.5 .6-7.9 .6 .7 .6 7.6 .6-12.2 .6 11.4 .6 2.5 .6-3.6 .6-4 .6 3.7 .6 1.5 .6-8.4 .6 1.5 .6 4 .6-9.8 .6 14.2 .6-4 .6 1.6 .6-2.9 .6-1.8 .6-2.9 .6 4.9 .6-4.1 .6 3.3 .6-8.7 .6 12.2 .6-4.3 .6-3.9 .6-1.9 .6 2.3 .6 .4 .6-5.9 .6 6.6 .6-.6 .6 3.2 .6-6.9 .6 3.5 .6 6.8 .6-.4 .6 2.5 .6-10.3 .6-.5 .6-3.5 .6 7 .6 7.7 .6-11.4 .6 1.5 .6 .1 .6-3.7 .6 6.9 .6-4.8 .6 .3 .6-2.6 .6-4.7 .6 10.2 .6-6.2 .6 1.1 .6-.7 .6-5.3 .6-.7 .6 8.5 .6-4.9 .6 2.1 .6 3.1 .6-6.4 .6 1.1 .6-3 .6 3.1 .6 2.5 .6-.2 .6-1.5 .6-3.5 .6 4.5 .6-2.6 .6-1.6 .6-7.1 .6 7.3 .6-2.8 .6 5.2 .6 1.1 .6-5.9 .6 7.6 .6-.4 .6-8.3 .6 6 .6-2.3 .6 5.8 .6-3.3 .6 1.3 .6 .8 .6-6.5 .6 5.5 .6 1.6 .6-1.5 .6-1.3 .6-10.4 .6 13 .6-3.5 .6-5.5 .6 12.8 .6-7.9 .6-2 .6-2.5 .6 4.2 .6 1 .6-1.6 .6 4.6 .6 1.3 .6-14.4 .6 10.4 .6 5.1 .6-11.9 .6 12.9 .6-1.2 .6-1.9 .6-14.8 .6 9 .6-7.8 .6 7.8 .6 .9 .6 4.1 .6-4.6 .6-6.3 .6 2.2 .6 9 .6 1 .6-5.9 .6 10.3 .6 1.5 .6 12.1 .6-1.8 .6-7.3 .6 3.2" fill="none" stroke="#f55a1e" stroke-width="1.15" stroke-linejoin="round"/>
<path d="M240 72.7l.6-2.5 .6 12.8 .6-5.2 .6 2.8 .6-1.8 .6-12.2 .6 9.8 .6 13.2 .6-8.6 .6-5.3 .6-2.8 .6 6.9 .6 1.5 .6 7.1 .6 2 .6-4 .6-.3 .6-6.1 .6-.5 .6 4.5 .6 8 .6 .2 .6 1.3 .6-3.5 .6 4.8 .6 4 .6-2 .6-1.9 .6-4.6 .6 .8 .6 4.8 .6 4.7 .6 1.1 .6-10 .6 5.9 .6-2.2 .6 3.1 .6 1.3 .6-3.5 .6 3.7 .6-2.4 .6 10.1 .6-8.8 .6-9.3 .6 11.6 .6 .6 .6 4.2 .6-5.8 .6 6.3 .6-1.1 .6-.4 .6 3.7 .6-7 .6 9 .6-9.9 .6 8.9 .6-2.4 .6-3.5 .6 4.1 .6-10.8 .6 7.5 .6-2.3 .6 2.2 .6-2.9 .6 6.1 .6-3.5 .6-.3 .6-3.7 .6 2.9 .6 8.8 .6-1 .6-9 .6-1 .6 1 .6-1.9 .6 3 .6-.8 .6 1.3 .6 4.6 .6 3.8 .6-5.7 .6 1.5 .6 2.3 .6-.5 .6-.8 .6-1.5 .6 .4 .6-2.5 .6 3.6 .6-10.3 .6 3.6 .6 6.2 .6-2.5 .6 3.6 .6-3.9 .6-9.5 .6 11.3 .6 2.4 .6-3.4 .6-1.6 .6-2.6 .6 8.4 .6-.4 .6-4.3 .6 4.3 .6-16 .6 23.1 .6-8.4 .6 .4 .6 1.7 .6-6.1 .6 3.3 .6-.3 .6-5.4 .6 3.2 .6 1.7 .6 3 .6-7.6 .6 8.7 .6-9 .6 7.3 .6-11.8 .6 8.4 .6 .4 .6 1.1 .6-.6 .6-3.5 .6 5.8 .6 .1 .6 2.4 .6-7 .6 6.4 .6-.2 .6-9.7 .6 14.3 .6 0 .6-7.1 .6-1.6 .6-4 .6 2.8 .6 1.5 .6-3.5 .6 9.4 .6-.9 .6-5 .6-9.3 .6 11 .6-1.2 .6 1.6 .6 2.2 .6 3 .6-9.5 .6 1.2 .6 3.2 .6-2.2 .6-1.9 .6 4.5 .6 .7 .6 3.2 .6-4 .6-7 .6 8.2 .6-2.2 .6-3.7 .6 1.2 .6-.9 .6-.6 .6-.5 .6 2.7 .6-.3 .6-6.6 .6 7.2 .6-2.8 .6 5.6 .6-6.5 .6-1 .6 3.6 .6-.7 .6 3.7 .6-.1 .6-3.2 .6-5.5 .6 8.6 .6-9.6 .6 4 .6 2.8 .6 3.5 .6-10 .6 4.9 .6-.4 .6-3.5 .6 5.9 .6 5 .6-10.1 .6 11.1 .6-2.1 .6-2.9 .6-4.7 .6 4.6 .6-7.9 .6 10.3 .6-9.5 .6 1.4 .6 5.3 .6 1.8 .6-1.4 .6 1.2 .6-9.9 .6 7.4 .6 1.6 .6-5.6 .6 5 .6 3.9 .6-8.1 .6 2.6 .6-7.3 .6-2.4 .6 5.2 .6 2 .6-5 .6 2.6 .6 7.4 .6-6 .6 2.4 .6-3.9 .6 6.3 .6-15.2 .6 8.6 .6-1.7 .6 2.3 .6-6.7 .6 4.9 .6 2.2 .6 3.4 .6-12.8 .6 9.6 .6-10.5 .6-2.4 .6 8.7 .6 1.6 .6-10.4 .6 8.6 .6-4.8 .6 12.5 .6-6.8 .6-7.5 .6-3.9 .6 7.1 .6-8.2 .6-.8 .6 3.9 .6-4.6 .6 9.3 .6-6.6 .6-7.4 .6 15.2 .6-10.7 .6 .9 .6 5 .6 3.4 .6-.6 .6-1.6 .6-2.4 .6-2.2 .6-2.7 .6-4.8 .6 5.3 .6 2.3 .6 8.1 .6-8.6 .6 7.8 .6-8.7 .6 1.2 .6-5 .6 9 .6-1 .6 .3 .6-2.7 .6 3.5 .6-12.8 .6 12.5 .6-13.3 .6 17.4 .6-9.6 .6 11.7 .6-15.2 .6 3.4 .6-3.7 .6-6.1 .6 3.1 .6 6.2 .6-.8 .6 5.9 .6-6.7 .6 18.4 .6-16.2 .6 18 .6-7.1 .6-10.8 .6 11.7 .6 .2 .6 2.9 .6-4.9 .6 16.8 .6-7.5 .6-5.3 .6 20" fill="none" stroke="#f03c3c" stroke-width="1.15" stroke-linejoin="round"/>
<path d="M240 89.4l.6-.5 .6 .5 .6 2.8 .6 7 .6-5.3 .6 4.3 .6-10.4 .6 4.4 .6 6.2 .6-13.9 .6 16.6 .6-4.2 .6-13.5 .6 18 .6 1.7 .6-6.6 .6 1.1 .6 6.2 .6-16.4 .6 1.9 .6 6.8 .6 8.6 .6-2.9 .6-15.4 .6 9.4 .6 1.5 .6 7.3 .6-7.2 .6-1.1 .6 6.8 .6 2.9 .6-4.8 .6 8.9 .6-2.8 .6-9 .6 3.7 .6 2.3 .6-.5 .6 8.5 .6-8.1 .6-2.9 .6-.6 .6 9.1 .6-.1 .6 3.8 .6-5.6 .6-.3 .6 1.5 .6 5.7 .6 1.5 .6-10.4 .6 7.1 .6-2 .6 6.8 .6 4.8 .6-7 .6-.5 .6 9.9 .6-.6 .6-3.5 .6-2.9 .6 4.1 .6 1 .6 5.1 .6-.9 .6-4.2 .6 .5 .6 1.6 .6 .6 .6-1.5 .6 5.6 .6-11.1 .6-.1 .6 8 .6 .9 .6-1 .6-3.3 .6 5.6 .6-5.2 .6 0 .6-1.2 .6-2.2 .6 4.3 .6 3.2 .6-11.4 .6 4.3 .6 4 .6-1.6 .6 8.2 .6-3.1 .6-2.7 .6-1.2 .6-.3 .6-1.2 .6 3.4 .6 8.9 .6-10.1 .6-2 .6 5.2 .6-3.2 .6-5.2 .6 4.4 .6-1 .6 10.1 .6-11.5 .6 7.3 .6-10 .6 11.8 .6-2.6 .6 .3 .6-5.9 .6-3.9 .6 2.4 .6 1.4 .6 .2 .6 2.4 .6 1.5 .6-.7 .6-5.6 .6-3.3 .6 7 .6-2.5 .6 4.8 .6-1.5 .6-1 .6-1.5 .6-1.9 .6 .5 .6-.3 .6 7 .6 .7 .6-1.4 .6-5.7 .6-.8 .6-.3 .6-1.7 .6-.8 .6 5 .6 1.1 .6-7.1 .6-2.2 .6 4.2 .6 8.6 .6-2.6 .6 1.8 .6-3.3 .6 5.9 .6-10.5 .6 2.1 .6 3.3 .6-6.5 .6 4.5 .6-.5 .6-.2 .6 2.6 .6 3.6 .6-6.5 .6 2.1 .6 7.2 .6-5.2 .6-.7 .6-3.9 .6 1.9 .6-2.7 .6 1.4 .6 2.9 .6 5 .6-9.7 .6 7.3 .6-5.2 .6-.9 .6 6.2 .6 .9 .6-4.2 .6 1.8 .6-2.6 .6-2 .6 8.4 .6-1.5 .6-12.6 .6 11.3 .6-6.7 .6 4.9 .6 6.3 .6-2.9 .6-4.5 .6 6 .6-6.2 .6 1.2 .6 4.9 .6-1.2 .6 1.3 .6-3.3 .6-8 .6 6.7 .6 .8 .6-.7 .6 6.4 .6 1.3 .6-11.2 .6 9 .6-2 .6-4 .6 7.8 .6-4.7 .6 1 .6 3.5 .6-3 .6 9.1 .6-4.6 .6-10.4 .6 12.2 .6-4.4 .6-.3 .6-4.5 .6 7.2 .6-3.1 .6-.4 .6 3.2 .6 2.5 .6-11.2 .6 9.5 .6-.1 .6-2.9 .6 11.7 .6-7 .6-4.9 .6 2.1 .6 10.2 .6-10.3 .6-2.4 .6 10.1 .6-5.9 .6 2.7 .6-5.1 .6-7.2 .6 4.8 .6-.7 .6-2.4 .6 1.9 .6-3.9 .6 4.2 .6-1.3 .6-10.7 .6-2.4 .6-5.6 .6 12.3 .6-4.3 .6 2.7 .6-8.1 .6 7.5 .6 6.5 .6-10.6 .6 6.5 .6-10.8 .6-1.1 .6 5.2 .6-4.5 .6-1.2 .6 6.1 .6-5.3 .6-7.1 .6 3.9 .6 11.8 .6-2.3 .6-4.8 .6 .2 .6-14.5 .6 14 .6-4.5 .6 2.3 .6 3.7 .6-.2 .6-3.5 .6 5 .6-1 .6 1.7 .6-6.1 .6-5.9 .6-1.4 .6 3 .6-.7 .6-1.1 .6-3.7 .6-7.5 .6 21.5 .6-9 .6 4 .6 2.7 .6-16.6 .6 9.1 .6-2.9 .6-4 .6 4.3 .6 16 .6-13.1 .6-.1 .6-3.5 .6 10.8 .6 4.1 .6-3.2 .6-2.2 .6 12.7 .6 14 .6 9.6 .6-11.4 .6 17.1" fill="none" stroke="#f0143c" stroke-width="1.15" stroke-linejoin="round"/></g>
<rect x="240" y="6.1" width="184.6" height="159.3" fill="none" stroke="#000" stroke-width="1.3"/>
<text x="240" y="176" font-size="8.9" text-anchor="middle" font-weight="bold" fill="#000">450</text>
<line x1="255.4" y1="165.4" x2="255.4" y2="163.9" stroke="#000" stroke-width="1"/>
<line x1="270.8" y1="165.4" x2="270.8" y2="162.9" stroke="#000" stroke-width="1"/>
<text x="270.8" y="176" font-size="8.9" text-anchor="middle" font-weight="bold" fill="#000">500</text>
<line x1="286.1" y1="165.4" x2="286.1" y2="163.9" stroke="#000" stroke-width="1"/>
<line x1="301.5" y1="165.4" x2="301.5" y2="162.9" stroke="#000" stroke-width="1"/>
<text x="301.5" y="176" font-size="8.9" text-anchor="middle" font-weight="bold" fill="#000">550</text>
<line x1="316.9" y1="165.4" x2="316.9" y2="163.9" stroke="#000" stroke-width="1"/>
<line x1="332.3" y1="165.4" x2="332.3" y2="162.9" stroke="#000" stroke-width="1"/>
<text x="332.3" y="176" font-size="8.9" text-anchor="middle" font-weight="bold" fill="#000">600</text>
<line x1="347.7" y1="165.4" x2="347.7" y2="163.9" stroke="#000" stroke-width="1"/>
<line x1="363.1" y1="165.4" x2="363.1" y2="162.9" stroke="#000" stroke-width="1"/>
<text x="363.1" y="176" font-size="8.9" text-anchor="middle" font-weight="bold" fill="#000">650</text>
<line x1="378.5" y1="165.4" x2="378.5" y2="163.9" stroke="#000" stroke-width="1"/>
<line x1="393.8" y1="165.4" x2="393.8" y2="162.9" stroke="#000" stroke-width="1"/>
<text x="393.8" y="176" font-size="8.9" text-anchor="middle" font-weight="bold" fill="#000">700</text>
<line x1="409.2" y1="165.4" x2="409.2" y2="163.9" stroke="#000" stroke-width="1"/>
<text x="424.6" y="176" font-size="8.9" text-anchor="middle" font-weight="bold" fill="#000">750</text>
<text x="332.3" y="186.4" font-size="10.5" text-anchor="middle" font-weight="bold" fill="#000">Wavelength (nm)</text>
<line x1="240" y1="157.4" x2="242.5" y2="157.4" stroke="#000" stroke-width="1"/>
<text x="236" y="161" font-size="8.9" text-anchor="end" font-weight="bold" fill="#000">&#8722;6</text>
<line x1="240" y1="142.2" x2="241.5" y2="142.2" stroke="#000" stroke-width="1"/>
<line x1="240" y1="127.1" x2="242.5" y2="127.1" stroke="#000" stroke-width="1"/>
<text x="236" y="130.7" font-size="8.9" text-anchor="end" font-weight="bold" fill="#000">&#8722;4</text>
<line x1="240" y1="112" x2="241.5" y2="112" stroke="#000" stroke-width="1"/>
<line x1="240" y1="96.8" x2="242.5" y2="96.8" stroke="#000" stroke-width="1"/>
<text x="236" y="100.4" font-size="8.9" text-anchor="end" font-weight="bold" fill="#000">&#8722;2</text>
<line x1="240" y1="81.7" x2="241.5" y2="81.7" stroke="#000" stroke-width="1"/>
<line x1="240" y1="66.5" x2="242.5" y2="66.5" stroke="#000" stroke-width="1"/>
<text x="236" y="70.1" font-size="8.9" text-anchor="end" font-weight="bold" fill="#000">0</text>
<line x1="240" y1="51.4" x2="241.5" y2="51.4" stroke="#000" stroke-width="1"/>
<line x1="240" y1="36.2" x2="242.5" y2="36.2" stroke="#000" stroke-width="1"/>
<text x="236" y="39.8" font-size="8.9" text-anchor="end" font-weight="bold" fill="#000">2</text>
<line x1="240" y1="21" x2="241.5" y2="21" stroke="#000" stroke-width="1"/>
<text x="236" y="9.5" font-size="8.9" text-anchor="end" font-weight="bold" fill="#000">4</text>
<text x="0" y="0" font-size="10.5" text-anchor="middle" font-weight="bold" fill="#000" transform="translate(226.7 83.5) rotate(-90) scale(1 0.88)">&#916;A (mOD)</text>
<text x="244.5" y="24.3" font-size="19" text-anchor="start" font-weight="bold" fill="#000">d</text>
<line x1="315.7" y1="13.8" x2="335" y2="13.8" stroke="#5a9070" stroke-width="1.3"/>
<text x="337.7" y="16.9" font-size="8.6" text-anchor="start" font-weight="bold" fill="#000">0.5 ps</text>
<line x1="315.7" y1="24.5" x2="335" y2="24.5" stroke="#5c8a40" stroke-width="1.3"/>
<text x="337.7" y="27.6" font-size="8.6" text-anchor="start" font-weight="bold" fill="#000">1 ps</text>
<line x1="315.7" y1="35.2" x2="335" y2="35.2" stroke="#a8b850" stroke-width="1.3"/>
<text x="337.7" y="38.3" font-size="8.6" text-anchor="start" font-weight="bold" fill="#000">5 ps</text>
<line x1="315.7" y1="46" x2="335" y2="46" stroke="#e0dc90" stroke-width="1.3"/>
<text x="337.7" y="49.1" font-size="8.6" text-anchor="start" font-weight="bold" fill="#000">10 ps</text>
<line x1="315.7" y1="56.7" x2="335" y2="56.7" stroke="#f0c030" stroke-width="1.3"/>
<text x="337.7" y="59.8" font-size="8.6" text-anchor="start" font-weight="bold" fill="#000">50 ps</text>
<line x1="363.5" y1="13.8" x2="382.8" y2="13.8" stroke="#f0c878" stroke-width="1.3"/>
<text x="385.9" y="16.9" font-size="8.6" text-anchor="start" font-weight="bold" fill="#000">100 ps</text>
<line x1="363.5" y1="24.5" x2="382.8" y2="24.5" stroke="#f09040" stroke-width="1.3"/>
<text x="385.9" y="27.6" font-size="8.6" text-anchor="start" font-weight="bold" fill="#000">200 ps</text>
<line x1="363.5" y1="35.2" x2="382.8" y2="35.2" stroke="#f08060" stroke-width="1.3"/>
<text x="385.9" y="38.3" font-size="8.6" text-anchor="start" font-weight="bold" fill="#000">500 ps</text>
<line x1="363.5" y1="46" x2="382.8" y2="46" stroke="#f07880" stroke-width="1.3"/>
<text x="385.9" y="49.1" font-size="8.6" text-anchor="start" font-weight="bold" fill="#000">1 ns</text>
<line x1="363.5" y1="56.7" x2="382.8" y2="56.7" stroke="#f03050" stroke-width="1.3"/>
<text x="385.9" y="59.8" font-size="8.6" text-anchor="start" font-weight="bold" fill="#000">3 ns</text>
<clipPath id="clipe"><rect x="240.2" y="192.4" width="184.8" height="158.8"/></clipPath>
<g clip-path="url(#clipe)"><path d="M240.2 278l.6 2 .6 5.5 .6-2.8 .6 8.2 .6 7.3 .6-18.1 .6 7.4 .6 14.2 .6-4.7 .6-1.7 .6-4.4 .6-4.4 .6 5.6 .6 4.1 .6-4.1 .6 3.7 .6-1.5 .6 4.3 .6 2.8 .6-11.1 .6 7.6 .6-1.6 .6 3.5 .6 .1 .6-.4 .6-3.8 .6-1.8 .6 3.3 .6 5 .6-12.9 .6 8.4 .6 .1 .6 6.5 .6-.7 .6-2.7 .6 9.8 .6-3.1 .6-4 .6-7.2 .6 8.5 .6 6.5 .6 1.5 .6-7.8 .6 8.1 .6-.8 .6-8 .6 8.6 .6 2.8 .6 2.8 .6-7.1 .6 1.1 .6 8.9 .6 3.9 .6-4.2 .6-5.1 .6 4.3 .6 7.1 .6-5.5 .6-1.2 .6 3.7 .6-.3 .6 1.2 .6 2.5 .6 1.1 .6 3.2 .6-.2 .6 2.6 .6-8.1 .6 .2 .6 2.1 .6-1.1 .6 1.8 .6 3.6 .6-3.4 .6 2.2 .6-.2 .6 7.6 .6-5.9 .6-3.6 .6 3.2 .6 2 .6 3.1 .6-3.8 .6-8.2 .6 8 .6-6.6 .6 5.9 .6-6.1 .6 6.2 .6-3.7 .6-1.2 .6 .1 .6 5.9 .6-2.5 .6 2 .6-3.1 .6 .6 .6-.4 .6-3.6 .6 6.4 .6-1.1 .6-1.1 .6-1.5 .6 2.1 .6-5.4 .6 6.1 .6-11.4 .6 6.6 .6-4.6 .6 8.6 .6-3.3 .6-2 .6-6.7 .6 6.2 .6-5.7 .6 8.2 .6-9 .6 8.2 .6 4 .6 .4 .6-9 .6 1.3 .6-2.2 .6 .8 .6-2.6 .6-4.9 .6 6.8 .6-2.3 .6 2.2 .6 4.8 .6-6.1 .6-7.4 .6 8.7 .6-12.7 .6 6.4 .6 0 .6-2.4 .6 3.2 .6-.6 .6-5.6 .6 7.6 .6-2.8 .6 3.6 .6-5.6 .6-12 .6 6.8 .6 7.9 .6 2.9 .6-9.6 .6-1 .6 4.7 .6-8 .6 3.2 .6-1.5 .6-.6 .6-1.7 .6 5.8 .6 .6 .6-8.4 .6 5.6 .6 3.9 .6-6.6 .6 2.9 .6-3.5 .6-11.5 .6 5 .6 8.4 .6 2.7 .6-5.2 .6 3.3 .6-5.2 .6-.7 .6-1.9 .6 2 .6 4.9 .6-5.4 .6-1.4 .6-1.2 .6-4.4 .6 8.2 .6-4.1 .6 1.2 .6 .3 .6-6.4 .6 4.3 .6-10.6 .6 16.7 .6-16.3 .6 6.2 .6 3.3 .6-6.1 .6-.5 .6-3.9 .6-1.7 .6 7.3 .6-3.7 .6-1.9 .6-.1 .6 1.5 .6-7.3 .6 3.5 .6 5.7 .6-7 .6 1.4 .6-.5 .6-5.1 .6 .1 .6 .7 .6-1.2 .6-2.5 .6 5.1 .6-3.5 .6-5.3 .6 6.5 .6-1.4 .6-.2 .6-7.4 .6 5.2 .6-7 .6 5 .6-3.3 .6-1.3 .6 2.4 .6 1 .6-8.5 .6 4.5 .6-4.4 .6-1.3 .6 7.5 .6-11.3 .6 3.7 .6 1.1 .6-.3 .6-.2 .6-3.4 .6-7.8 .6 8 .6 3.5 .6-3.9 .6-9.7 .6 7.4 .6-7.9 .6 10.2 .6-.4 .6 1 .6-1.2 .6-3.9 .6-1.1 .6 7.3 .6-3.3 .6-1.3 .6-2.1 .6-7.9 .6-1 .6 4.4 .6-1.8 .6 6.9 .6-5.5 .6 9.5 .6-8.1 .6-2 .6-2.9 .6 4.5 .6-.3 .6 4.3 .6 6.3 .6-8.5 .6 6.5 .6-8.2 .6-.8 .6 5.6 .6 2.2 .6-9.4 .6 1.9 .6-6.2 .6-3.1 .6-4.8 .6 3.2 .6 10.6 .6-5.6 .6-13.7 .6 17.4 .6-3.7 .6-11.2 .6 3.8 .6 7 .6-7 .6 5.3 .6-10.6 .6 5.8 .6-2.1 .6-2.5 .6 13 .6-14.4 .6-5.9 .6 .5 .6 2.7 .6-4.1 .6-11.3 .6 5.7 .6 9.6 .6-12.1 .6 6.2 .6 6.6 .6 10.7 .6-16.6 .6 14.5 .6-9.4" fill="none" stroke="#1e6b3a" stroke-width="1.15" stroke-linejoin="round"/>
<path d="M240.2 274.1l.6 2.8 .6 11.1 .6-1.3 .6-8.5 .6-1.9 .6 6.2 .6 1.3 .6-10.1 .6 1.3 .6 7.7 .6 3.6 .6-4.8 .6 9.8 .6-6.7 .6 .2 .6-4.3 .6 3.7 .6 11.6 .6-16.7 .6 6.3 .6 12.2 .6-1.7 .6-9.5 .6 9.2 .6-8.7 .6 8.4 .6 2.6 .6-12.7 .6 0 .6 8.6 .6-7.1 .6 5.5 .6-.1 .6 3.2 .6-2.9 .6-2.8 .6 .4 .6-1.9 .6 1.5 .6 5.1 .6 5.1 .6-4.9 .6 1.3 .6 4.8 .6 3.4 .6-.7 .6 3.5 .6-1.9 .6-3.6 .6-3.4 .6 5.3 .6 3.4 .6 .6 .6-.3 .6-4.6 .6 5.3 .6 8.5 .6-6.1 .6 7.8 .6-3.2 .6-2.3 .6 4.7 .6-2.1 .6-4.5 .6 8.6 .6-6.7 .6 1.2 .6 1.3 .6 6.5 .6-7.3 .6 3 .6-1.3 .6 2.9 .6-4.8 .6 10.4 .6-6.8 .6-1.4 .6-7.7 .6 17.1 .6-1.4 .6-3.7 .6-1.8 .6 4.3 .6-5.9 .6 3.8 .6-1.2 .6 5.8 .6-6.8 .6 1.2 .6-5.3 .6 2.8 .6-2.7 .6 4.5 .6 4.3 .6-5.6 .6 8.7 .6-.5 .6-2.9 .6-5.7 .6-1 .6 10.9 .6-5.6 .6-6.1 .6 6.2 .6 4.6 .6-6.8 .6-5.4 .6 7.5 .6-.4 .6-10.6 .6 5 .6 6.8 .6-8 .6-1.9 .6 5.7 .6-2.4 .6-2.9 .6 1.7 .6-5.1 .6 .4 .6 1.2 .6-2.8 .6 7 .6 1.6 .6 1.9 .6-3.4 .6 1.9 .6-3.7 .6-5.1 .6-2.3 .6 2.9 .6 .1 .6 .9 .6-1.2 .6 3.8 .6 .3 .6 2.1 .6-3.7 .6-2.8 .6 1.7 .6-1.5 .6-6.9 .6 5.4 .6-.7 .6 1.9 .6-2.2 .6 5.9 .6-6.4 .6-.7 .6-1.1 .6 9.1 .6-5.1 .6-6.3 .6 2 .6 8.1 .6-2.4 .6 .9 .6-6.3 .6-2.1 .6 4.1 .6 5.2 .6-7.5 .6 8.1 .6-12 .6 7.3 .6-.1 .6 .1 .6-4.6 .6-.8 .6-1.7 .6 1.7 .6-.5 .6-4.9 .6-1.8 .6 3.8 .6-1.7 .6-1.4 .6 3.4 .6 1.1 .6 2.5 .6-3.8 .6-8.7 .6 8.6 .6 1.7 .6-4.6 .6-2.2 .6-1 .6 4.5 .6-5.6 .6 3 .6-.8 .6-1.2 .6 2.2 .6-1.9 .6-5.4 .6 6.3 .6-3.2 .6-3.9 .6 .5 .6-.6 .6 4.9 .6-.1 .6-4.6 .6 .9 .6 4 .6-7.2 .6-2.4 .6-4.5 .6 5.4 .6-.3 .6 1.7 .6-4.5 .6 1.5 .6-9.6 .6 10 .6-8.4 .6 5.1 .6 3.1 .6-6.7 .6-.3 .6-5.4 .6 2.4 .6 1.9 .6 1.2 .6 .3 .6-2.9 .6-1.9 .6 3.2 .6-.8 .6-5 .6 4.2 .6-3.7 .6-.1 .6 1.1 .6-8.7 .6 .7 .6 3.1 .6 4.2 .6-6.4 .6 .9 .6-.8 .6-1 .6 1.6 .6-11.4 .6 5.8 .6 2.6 .6-2.4 .6 2.4 .6 .9 .6 .1 .6-5.6 .6-3.8 .6-1.6 .6 4.3 .6-.6 .6 8.4 .6 .8 .6-7.2 .6-6.3 .6-2.3 .6 6.7 .6 4.5 .6-4.9 .6-1.2 .6 4 .6-3.8 .6-6 .6 7.1 .6-2.9 .6-10.6 .6 6.9 .6-.5 .6 4.9 .6-7.8 .6 12.8 .6-16.2 .6 7.2 .6 4.5 .6-1.4 .6-3 .6 12.4 .6-11.8 .6-1.8 .6 8.2 .6-10.4 .6-5.1 .6 16.3 .6-5.2 .6-8.9 .6-10.2 .6 15.9 .6-4.9 .6 5.3 .6-5.7 .6-3.3 .6 7 .6-8.9 .6-18.6 .6 10.9 .6 11.4 .6-2.4 .6 11.3 .6-8.6 .6 1.6 .6 2.7 .6 7.6 .6-26.7 .6 7.3" fill="none" stroke="#5a9040" stroke-width="1.15" stroke-linejoin="round"/>
<path d="M240.2 269.6l.6-10.2 .6 .8 .6 11.8 .6-13.3 .6 19.8 .6-16.1 .6 10.6 .6-6.7 .6 12.2 .6-9.8 .6-4.2 .6 0 .6 6.2 .6 .2 .6 5.3 .6-1 .6-1.6 .6 6.6 .6-7 .6 3.4 .6-2.7 .6-1.2 .6 4.8 .6 3.9 .6-5.7 .6 4.7 .6-1.9 .6-.1 .6 5.3 .6-6.8 .6 7.5 .6-3.9 .6-3.1 .6 1.2 .6 1.2 .6-5.3 .6 7.2 .6-.9 .6-2.7 .6 10.7 .6-4.6 .6-4.4 .6 1.6 .6 4.6 .6-4 .6 0 .6 2.4 .6-4 .6 9.3 .6-6.8 .6 3.4 .6 .6 .6 6.6 .6-15.8 .6 19 .6-10 .6 1.4 .6-7.6 .6 9.5 .6-1.2 .6-1.3 .6-2 .6-1.3 .6 2 .6 11.1 .6-5.7 .6-5.1 .6 .3 .6-1.6 .6 6.8 .6-1.5 .6-1.2 .6-2.8 .6-1.3 .6 4.8 .6-5 .6 4.4 .6-1.6 .6 7.9 .6-1.2 .6-9.2 .6 7.1 .6-8 .6 1.5 .6 9.8 .6-4.5 .6-1.3 .6 2.3 .6 7 .6-9.5 .6 1.9 .6 4.9 .6-4.1 .6 .6 .6-10 .6 6.5 .6 4.9 .6-2.9 .6 7 .6-9.9 .6 2.8 .6-5.2 .6 4.9 .6-5.8 .6-.2 .6 10.3 .6-3.5 .6-1.5 .6 .7 .6 2.9 .6-2.6 .6-.2 .6-3.7 .6 4 .6-1.6 .6-4.2 .6 2.7 .6 4 .6 2.3 .6-4.8 .6 4.3 .6-5.9 .6 3.4 .6 5.1 .6-9.1 .6 6 .6-5.6 .6 1.3 .6-1.2 .6 8.7 .6-4.9 .6-1.7 .6-10.8 .6 6.1 .6 1.6 .6-3.8 .6 5.3 .6-.2 .6 2.6 .6-4.1 .6 9.8 .6-1.9 .6-11.3 .6 .1 .6 2.9 .6 2.1 .6-7.7 .6 2.2 .6 7.9 .6-5.6 .6-2.3 .6 4.7 .6 5.7 .6-6.3 .6-3.1 .6-1 .6 4.8 .6-3.7 .6 1.4 .6-2.6 .6 6.9 .6-2 .6-5.2 .6-1.8 .6 3.5 .6-2.5 .6 1.2 .6 4 .6-9.2 .6 9.3 .6 .5 .6-4.5 .6-2.7 .6 1.7 .6 4.2 .6 2.1 .6-7.1 .6 .8 .6 4.3 .6-1.5 .6-7.4 .6 1.4 .6 12.8 .6-7 .6-7.8 .6 7 .6 5.9 .6-3.9 .6-8.8 .6 7.7 .6-6.6 .6 7.2 .6-8.4 .6 4.7 .6-2.5 .6 .6 .6 1.9 .6 8.5 .6-14.5 .6-.2 .6 .8 .6-1.8 .6 6.2 .6-5 .6 8 .6-.2 .6-7 .6 8.1 .6-11.2 .6 3.1 .6-1.4 .6 3 .6-4.7 .6-2.1 .6 7.5 .6-2.2 .6-5.7 .6 6.7 .6-7.8 .6 5.8 .6-2.6 .6-4.4 .6-.7 .6 6.5 .6-11.5 .6 7.8 .6 .8 .6-6.1 .6 2 .6-7.4 .6 9.6 .6 4.1 .6 1.9 .6-7.2 .6-3.2 .6-2.1 .6-.8 .6-2.4 .6 5.3 .6 1.5 .6-15 .6 1.6 .6 11.1 .6-2.8 .6 1.6 .6-9 .6 2.2 .6 13.3 .6-9.1 .6 2.5 .6-4 .6 3.4 .6-3.4 .6 4.1 .6-8.5 .6 6.3 .6-7.4 .6 10.8 .6-8.9 .6-.7 .6 1.5 .6 2.2 .6 3.8 .6-2.9 .6 2.6 .6-10.4 .6 2.4 .6-1.8 .6-1.7 .6 10.4 .6-2.9 .6-.6 .6 1.3 .6 .5 .6 1.2 .6-4.5 .6-15.2 .6 9.6 .6-.2 .6 .2 .6 9 .6-9.4 .6 3.1 .6-2.2 .6 4.1 .6-16.1 .6 21.9 .6-8 .6 2.1 .6-2 .6-12.5 .6-1.8 .6 7 .6 10.6 .6-14.3 .6 6.6 .6 13 .6-18.1 .6 5.5 .6-1.9 .6-6.6 .6-5.4 .6 19.2 .6-11.5 .6-1.5 .6 .3 .6 1.6 .6-12.4" fill="none" stroke="#98b030" stroke-width="1.15" stroke-linejoin="round"/>
<path d="M240.2 262.8l.6-2.8 .6-11.1 .6 10.7 .6-4.1 .6-5.2 .6 14.8 .6 5.5 .6 7 .6-13.7 .6 0 .6 3.3 .6-5.7 .6-3.4 .6 5.6 .6 5.3 .6 5.7 .6-6.9 .6-.9 .6-4.1 .6 11.7 .6-.2 .6 6.3 .6-7.1 .6-6.6 .6-.7 .6 6 .6 4.8 .6-5.9 .6 5.9 .6-.4 .6-12.8 .6 14.2 .6-3.4 .6 1.3 .6-3.3 .6 6.9 .6-1.6 .6-5.7 .6 7.8 .6 .7 .6 .5 .6 3.5 .6 2.1 .6-9.7 .6 7.1 .6-1.6 .6-6.6 .6 2.6 .6 6.4 .6-7.2 .6 2.9 .6 3 .6-10.5 .6 10 .6-.5 .6-2.3 .6 .6 .6 .3 .6 2.1 .6 .1 .6-2.6 .6 3.6 .6-1 .6-3.6 .6 .3 .6 4.1 .6 1.6 .6-8.4 .6 12.5 .6-7.2 .6 .1 .6 7.3 .6-.7 .6-11.1 .6 3.8 .6 3.8 .6-.9 .6-1.7 .6 6.9 .6-9.3 .6 12 .6-8.5 .6 3.4 .6 .4 .6-5 .6 4.4 .6-7.9 .6-.1 .6-1 .6 3.5 .6 5.8 .6-5.7 .6 9.6 .6-15.6 .6 5.2 .6 1.6 .6 10.5 .6-13.3 .6 5.3 .6-.6 .6 3.7 .6 7.9 .6-9.9 .6-3.5 .6 4 .6-5.7 .6-1.5 .6 5.9 .6-4.9 .6 6.8 .6-.4 .6 .5 .6-1.7 .6-6 .6 5.8 .6 1.8 .6-3.8 .6 6.8 .6-1.8 .6-8 .6-1.9 .6-.4 .6 9.4 .6-4 .6-.2 .6-3.9 .6 1.5 .6 4.8 .6 4.1 .6-6.4 .6 4.3 .6-11.8 .6 5.5 .6-7 .6 4.3 .6 6 .6 .6 .6 6.5 .6-11.2 .6-6.5 .6 10.1 .6-1.6 .6 3.1 .6-1.1 .6-5.8 .6-2 .6 8.3 .6-4.1 .6 10.5 .6-6.8 .6-2.4 .6-6.1 .6 5.7 .6-8.7 .6 8.1 .6 .2 .6-.1 .6-.4 .6 6.2 .6-6.2 .6-2 .6-4 .6 2.4 .6 3.8 .6-6 .6 11.4 .6-6 .6-4.2 .6 2.3 .6-.4 .6 4.3 .6 1.9 .6-6.2 .6-4.6 .6 6 .6-2.9 .6-2.6 .6 8.1 .6-8.6 .6 3.5 .6 3.3 .6-5.6 .6-.1 .6 4.9 .6-4.6 .6 4 .6-5.8 .6 5.1 .6-.8 .6-1.6 .6 3.7 .6-6.2 .6 2.9 .6-8 .6 4.9 .6 1 .6 1.9 .6-1.7 .6-1.4 .6 3.8 .6-5.1 .6-3 .6 6.1 .6-5.1 .6 0 .6 2.4 .6 4.7 .6-5.4 .6 .6 .6 1.7 .6-.2 .6-10.2 .6 6.9 .6-.6 .6 2.1 .6-5.2 .6-.4 .6 2.5 .6-2.1 .6 5.5 .6-7.1 .6 .3 .6-1.6 .6 2.9 .6-.6 .6-3.1 .6 1 .6 5.7 .6-5.2 .6-9.9 .6 7.8 .6-1.4 .6 .2 .6 .2 .6 0 .6 2.1 .6-4 .6 2 .6-.5 .6-4.3 .6 5.6 .6 0 .6 .5 .6 4.1 .6-10.4 .6 3 .6 4.9 .6-9 .6 3.4 .6 2.7 .6-6.6 .6 7.5 .6-7.2 .6 2.9 .6-4.1 .6 2.8 .6-.2 .6 1.2 .6-3.1 .6-1.6 .6 3.8 .6 1 .6-7.4 .6 9.5 .6 2 .6-4.9 .6-.9 .6-14.3 .6 10.3 .6-5.3 .6-2.7 .6 2.9 .6-3.8 .6 12.7 .6-3.7 .6-8.6 .6 5.4 .6-3.7 .6 17.2 .6-5.3 .6-.4 .6-7.5 .6 4 .6-10.8 .6-2.1 .6-5.1 .6 24.5 .6-2.1 .6-8.3 .6-5.2 .6-2.8 .6 .5 .6 6.4 .6-7.4 .6 7.3 .6-14.3 .6 16 .6-17 .6 16.2 .6-5.8 .6 5.1 .6-.3 .6-6.1 .6 4.3 .6-8.6 .6-3.5 .6 8.2 .6 10.2" fill="none" stroke="#d8c030" stroke-width="1.15" stroke-linejoin="round"/>
<path d="M240.2 254.6l.6 .5 .6-3.8 .6 21.4 .6-19.3 .6 5.7 .6-1.9 .6-6.5 .6 1.4 .6 10.4 .6-2.7 .6-2.1 .6-.6 .6 1.1 .6-8.3 .6 4.1 .6-2.8 .6 14.9 .6-8.5 .6-4.4 .6 16.7 .6-8 .6 2.7 .6 .6 .6-1.1 .6 6.6 .6-3.9 .6 2.9 .6-5.7 .6-1.2 .6-1.7 .6 10.8 .6-4.7 .6-.5 .6 3.9 .6-6.1 .6 3 .6 2.9 .6-5.9 .6 3.3 .6-7.1 .6 12.3 .6-3.3 .6 .1 .6-3.9 .6 8.7 .6-9.9 .6 13.9 .6-7.9 .6-1.1 .6-3.4 .6 6.9 .6-6.1 .6 8.8 .6-4.8 .6 2.7 .6-2.2 .6 8.1 .6-7.4 .6 1 .6 3.6 .6-6 .6 10.2 .6-10.2 .6 3.1 .6-4.6 .6 .3 .6 9.1 .6-2.8 .6 4 .6 6.6 .6-12.2 .6-1.9 .6 6.5 .6-6.3 .6 7.9 .6-3 .6 5.3 .6 .1 .6 .9 .6-4.5 .6-1.3 .6 7.9 .6-8.4 .6 3.6 .6-.7 .6 3 .6 3.1 .6-10.7 .6 4.3 .6-1 .6-2.3 .6 .8 .6-.8 .6-2.5 .6-1.5 .6 3.9 .6-1.4 .6-5.1 .6 9.3 .6-6.6 .6 11.2 .6-6.3 .6 6.2 .6-3 .6-3 .6-1.6 .6 2.6 .6-4.3 .6 1.4 .6-2.5 .6 11.7 .6-13.1 .6 6 .6 3.6 .6-5.3 .6-4.7 .6 5 .6 5.7 .6-14.9 .6 8.8 .6-4.6 .6 5.8 .6-1.5 .6-2.5 .6-4.4 .6 8.2 .6-2.1 .6 1.8 .6 3.2 .6-13.1 .6 4.6 .6 5.8 .6 2.5 .6 3.2 .6-9.1 .6 2.2 .6-2.3 .6-4.7 .6 .9 .6 5.6 .6 4.4 .6-1.6 .6-5.3 .6 4.3 .6-.4 .6-9.2 .6 .5 .6 5.5 .6-2.9 .6-3 .6 4.9 .6-3.7 .6 4 .6-4.1 .6 9.2 .6-3.1 .6-9.6 .6 1.7 .6 11.3 .6-10.6 .6 3 .6-1 .6 2.3 .6-9.1 .6 11.6 .6-6.2 .6-1.3 .6 9.4 .6-5.8 .6-4.6 .6 9.4 .6-2.8 .6-2.8 .6-4.4 .6 2.4 .6 8.1 .6-2 .6 1.5 .6-11.7 .6 9.5 .6-1.7 .6-3.5 .6-.4 .6 .3 .6-3.9 .6 3 .6 5.2 .6-3.3 .6-3.1 .6 2.3 .6-.7 .6-.5 .6 5.5 .6-4.2 .6 8 .6-7.6 .6-3.2 .6 10.2 .6-4.5 .6 2.5 .6-4.8 .6-7 .6 5.6 .6 1.9 .6-2.7 .6 1.9 .6-3.5 .6 1.1 .6 6.6 .6-1.1 .6 .7 .6-7.7 .6 6.8 .6-8.3 .6 3.5 .6 7.2 .6-8.9 .6-3.2 .6 2.7 .6 5.7 .6-5.5 .6-8 .6-3 .6 13.6 .6-2.9 .6-.2 .6-4.3 .6-2.8 .6 5.8 .6-.6 .6 3.6 .6 1.7 .6-7.3 .6 8.4 .6-2.9 .6-2.9 .6-2.5 .6 8.7 .6-8 .6 .2 .6-.8 .6 1.4 .6-3.7 .6-3 .6 7.4 .6 1 .6-2.4 .6 3.5 .6-2.7 .6-5.4 .6-.2 .6 3.9 .6 4 .6-9.7 .6 .7 .6-.7 .6-1.5 .6-4.1 .6 2.5 .6 8.8 .6 9.7 .6-15.6 .6-1.9 .6 4 .6-1.6 .6-4.4 .6 4 .6-.5 .6-5.3 .6 2.4 .6 3.3 .6-6.3 .6 2.8 .6-1.4 .6 3 .6-2.1 .6 11 .6-9.4 .6-11.2 .6-4.9 .6 3.1 .6 13.6 .6 7.2 .6-15.2 .6-2.4 .6-5.3 .6 3.2 .6 7 .6-8.2 .6 7 .6-.8 .6 10.3 .6-12.3 .6-6.1 .6 15 .6-8.1 .6 13 .6-18.5 .6 5.9 .6 4.2 .6-10.3 .6 3.2 .6 7.3 .6-10.3 .6 9.2 .6-14.7 .6 4.2 .6 12.7" fill="none" stroke="#f0c040" stroke-width="1.15" stroke-linejoin="round"/>
<path d="M240.2 255.6l.6 .4 .6-.2 .6-.3 .6-11.9 .6 8.8 .6 10.5 .6-10.8 .6 .9 .6-5.1 .6 7.6 .6 5.7 .6-6.2 .6-.4 .6 10.3 .6-4.5 .6 3.9 .6-4 .6 2.1 .6-3.2 .6 7.7 .6 1.8 .6 .1 .6-5.9 .6-10.3 .6 6.7 .6 1.6 .6 5.2 .6-.5 .6 .4 .6-6.6 .6-2.4 .6 2.2 .6 4.9 .6 5.3 .6 1 .6-3.7 .6-.7 .6 .1 .6 3.7 .6-2.2 .6 11.2 .6-12.6 .6-5.1 .6 6.2 .6-3.6 .6 2.7 .6 7.4 .6 6.6 .6-10.3 .6-.5 .6 4.1 .6 .4 .6-6.5 .6 2.3 .6 8.1 .6 4.1 .6-14.5 .6 5.6 .6-3.9 .6 3.8 .6 3.9 .6-3.7 .6 1.7 .6 2.8 .6-.5 .6 .9 .6-8 .6 3.5 .6-.3 .6 4.9 .6-4 .6-.8 .6-3.9 .6 4.4 .6-1 .6 3.4 .6-3.8 .6 7.8 .6 2.1 .6-2.5 .6-4.1 .6-4.4 .6 1 .6 8 .6-5.7 .6 3.2 .6 2.5 .6-2.5 .6 3.3 .6-6.2 .6 2.3 .6 2.1 .6-1.9 .6-.8 .6 1.2 .6 0 .6 .7 .6-5.6 .6 7.3 .6 1.2 .6-6.8 .6-5.6 .6-.9 .6 .2 .6 11.3 .6-3.1 .6-2.5 .6 .1 .6 4.5 .6-.7 .6-6.9 .6 2.4 .6 3.4 .6-3.8 .6-3 .6 7.1 .6-9.5 .6 10.5 .6-.5 .6-5.2 .6-2.3 .6 11.6 .6-6 .6-5.9 .6 .1 .6 3.6 .6 3.4 .6-3.8 .6 3.1 .6-7.5 .6 1.6 .6 7.2 .6-6.4 .6 4.4 .6-2.9 .6-5.9 .6 8 .6 6.9 .6-7.6 .6-7.1 .6 2.6 .6 5.2 .6-8.1 .6 8.3 .6 3.2 .6-12.5 .6 8.6 .6 .1 .6 3.8 .6-3.8 .6-3.5 .6-5.8 .6 2.9 .6-.6 .6 .2 .6 7.6 .6-4.5 .6 3.1 .6 .8 .6-.2 .6-4.2 .6-1.6 .6 3 .6-2.5 .6-3.2 .6 1.2 .6 9.4 .6-10.8 .6 4.1 .6 2.3 .6-2.1 .6 2.5 .6 8.4 .6-8.8 .6-3.5 .6 2.6 .6-.1 .6 .7 .6-2.6 .6 5.1 .6-3.3 .6-.5 .6-3 .6 4.2 .6-4.3 .6 1.9 .6-8 .6 4 .6 1.9 .6 5.8 .6-11.9 .6 9.4 .6-1.9 .6 .9 .6-.1 .6-.3 .6 4.4 .6-.8 .6-.9 .6 .9 .6-2.4 .6 .7 .6-4.2 .6-4.5 .6-.3 .6 2.6 .6 5 .6-2.4 .6-2.2 .6 2.5 .6-6.8 .6 .9 .6 2.6 .6 4.4 .6 2.3 .6-5.3 .6-3.9 .6 7 .6-2.7 .6 1.5 .6-9.5 .6 3.9 .6 5.2 .6-5.9 .6 .6 .6-2.5 .6 7.6 .6-11 .6 7.4 .6-9.3 .6 9.5 .6-4.2 .6 3.9 .6 2 .6-9.5 .6 1.6 .6-4.2 .6 7.1 .6 3.8 .6-5.2 .6-3.2 .6 .2 .6 7.6 .6-5.6 .6 0 .6-.4 .6-2.1 .6 7.4 .6 1.7 .6-4.8 .6-2.5 .6 11.2 .6-7.6 .6-7.7 .6 3.8 .6-2 .6-.8 .6 1.6 .6-.3 .6-1.3 .6 7 .6-10 .6 12 .6-8.3 .6-2.6 .6-2.4 .6 11.6 .6-18 .6 8.8 .6 .5 .6-1.5 .6-.3 .6 .7 .6-4.1 .6 7 .6-5.8 .6 2.7 .6-3.8 .6 1.9 .6 8 .6-10.9 .6 9 .6-1.5 .6 .8 .6-6 .6-1.1 .6 9.3 .6-3.8 .6-1.6 .6-10.8 .6 2 .6 17.4 .6-14 .6-17.3 .6 16.5 .6 5.2 .6-8.1 .6-7.4 .6 10.5 .6-1.3 .6-9.1 .6 20 .6-15.6 .6 3.1 .6-1.4 .6 16.1 .6-14.4 .6 14.3" fill="none" stroke="#f0a818" stroke-width="1.15" stroke-linejoin="round"/>
<path d="M240.2 266.9l.6 .8 .6 2.5 .6 2.3 .6-16.3 .6 10.4 .6-1.3 .6 3.3 .6-2.1 .6 1.8 .6-3.2 .6-8.6 .6 9.6 .6 10.2 .6-11.5 .6-4.6 .6 15.9 .6-11.5 .6 12.9 .6-5.2 .6 2.6 .6-.5 .6 2.2 .6-6.2 .6 1.3 .6 4.8 .6-5.3 .6-1.4 .6 1.6 .6 5.7 .6-1.9 .6 6.3 .6-4.4 .6-.3 .6-1.1 .6-2.2 .6 4.7 .6-1.5 .6 4.4 .6-6.4 .6 7.3 .6-8.3 .6 4.8 .6 4.4 .6-.5 .6 1.2 .6-8.1 .6 3.8 .6-6.4 .6 5.4 .6 7 .6-6.7 .6 4.7 .6 2.5 .6-5.1 .6-4.6 .6 2.1 .6 6.4 .6-5.1 .6 5 .6 1.5 .6-5.6 .6 1.8 .6 2.6 .6-4.7 .6 4.9 .6-5.4 .6 2.7 .6 4.1 .6 .9 .6-2.6 .6 7.3 .6-7.9 .6 8 .6-3.8 .6-2.7 .6 1.8 .6 0 .6 12.7 .6-8.8 .6-7.9 .6 1.9 .6 4.7 .6-6.8 .6-.2 .6-.4 .6 10.9 .6-6 .6-1.5 .6 3 .6-1.1 .6-4.4 .6 6.2 .6-3.2 .6 6.4 .6-6.7 .6 4.5 .6-9.8 .6 10 .6 0 .6-5.1 .6-2.8 .6 4.8 .6-6.6 .6 3.4 .6 15.3 .6-17.1 .6 10.8 .6-6.5 .6 2.5 .6-4.5 .6 2 .6 1.4 .6-1.4 .6-2.3 .6 1 .6 4.3 .6-8.8 .6 11.8 .6-5 .6 9.7 .6-7 .6-4.3 .6-1.2 .6 4.7 .6 1.7 .6-16.6 .6 9.6 .6 2.4 .6 1.4 .6-5.6 .6-2.1 .6 2.4 .6-.8 .6 8.6 .6-8.6 .6-.3 .6 6.2 .6-3.5 .6 4.9 .6 3.6 .6-6.3 .6 6.9 .6-12.4 .6 .6 .6-.6 .6 5.1 .6 1.7 .6-4.9 .6-3.9 .6 .8 .6 .3 .6 5.1 .6-1.2 .6 1 .6-1.9 .6-1.3 .6-3.9 .6 4.8 .6-2.4 .6-1.9 .6 2.4 .6 5.8 .6-1.7 .6-6.1 .6 3.8 .6-2.4 .6-3.7 .6 .3 .6 3.3 .6-1.9 .6-9.1 .6 15.2 .6 .6 .6-8.5 .6 10 .6-2.7 .6-3.7 .6 2.4 .6 4.8 .6-10.4 .6 4 .6 1 .6-3.2 .6 6.4 .6-8.3 .6 7.3 .6 2.3 .6-4.9 .6-2.7 .6-3.9 .6 6.7 .6-3.2 .6-2.3 .6 2.2 .6-3.1 .6 1.5 .6-3.8 .6 3.3 .6-4.6 .6 5 .6 2.1 .6-3.1 .6 5.7 .6-4 .6 .5 .6 4.3 .6-5.1 .6 5.8 .6-5.6 .6-4.4 .6 2 .6-3.7 .6 4.7 .6 .9 .6 3.9 .6-8.3 .6-.3 .6 2.4 .6-2.3 .6 .6 .6-6.8 .6 5.1 .6-4.1 .6 1.5 .6 .2 .6 5 .6 7.8 .6-3.4 .6-9.9 .6 1.5 .6 .3 .6-.5 .6-4.6 .6 4 .6 2.8 .6-6.3 .6 7.2 .6-9.5 .6 2.4 .6 3 .6 1 .6-2.7 .6 4.2 .6-8.4 .6 9.6 .6-3.8 .6-4.1 .6 4.7 .6-5.6 .6-5.7 .6 12.5 .6-.1 .6-3.7 .6-2.1 .6-4.4 .6 7.7 .6-2.8 .6-.3 .6-1.7 .6-6.4 .6 8.9 .6-7.2 .6 2.8 .6 0 .6-.6 .6 3.6 .6-11.3 .6 9.3 .6 3.3 .6-8.9 .6 2.9 .6 1.8 .6 8.5 .6-8.2 .6 .1 .6 6.9 .6-6.4 .6 1.3 .6-5.4 .6 13.4 .6-4.1 .6-2.6 .6-11.4 .6 4 .6-1.7 .6-3.5 .6-5.1 .6 4.9 .6-.4 .6 17.1 .6-13.6 .6-2.5 .6 16.9 .6-6.3 .6-12.4 .6-3.5 .6 .6 .6 4.2 .6-.7 .6 12.6 .6-7.5 .6 11.5 .6 4.1 .6-21.5 .6 26.9 .6-4.6 .6-12.2 .6 14" fill="none" stroke="#f89040" stroke-width="1.15" stroke-linejoin="round"/>
<path d="M240.2 267.8l.6-8.8 .6-1 .6 6 .6 6.1 .6-2.7 .6 .2 .6-.9 .6 7.4 .6 5.9 .6-9.1 .6 7.3 .6-3.8 .6-7 .6 12.4 .6-9 .6 9.7 .6-2.2 .6 .7 .6-7 .6 8.5 .6 .3 .6-2.8 .6 2.7 .6-6.4 .6 3 .6 2.6 .6 1.3 .6 3.8 .6-13.2 .6 9.8 .6 1.3 .6 9.2 .6-6 .6-7.6 .6 12.9 .6-9.9 .6 4 .6 1.7 .6-1.8 .6 .6 .6-5.2 .6 12.4 .6-.5 .6-.8 .6 1.6 .6-7.7 .6 1.8 .6-.9 .6 .8 .6 3.8 .6 4.9 .6-1 .6-1.3 .6-2.2 .6 2.5 .6-1.3 .6 3.9 .6-8.9 .6 9.2 .6-9.2 .6 10.5 .6-2.9 .6-5.1 .6 12.8 .6-10.8 .6-.4 .6 9.9 .6-9.6 .6 5.2 .6-2.6 .6 1.4 .6 2.8 .6 2.9 .6-5.2 .6 9 .6-6.1 .6-3.5 .6 .9 .6 2.4 .6-6 .6 2.9 .6 4.5 .6 1.9 .6 6 .6-7.1 .6-6.6 .6 8.1 .6-4.6 .6 1.5 .6 2.3 .6-6.6 .6 2.6 .6-7 .6 11.4 .6 1.3 .6-2.4 .6-8.5 .6 12.8 .6-10.4 .6 3.2 .6 1.8 .6 .6 .6-5.3 .6 9 .6-4 .6-2 .6-1.2 .6 2.9 .6-4.2 .6-3.8 .6 5.2 .6 .8 .6 1.2 .6-2.5 .6 .3 .6 3.7 .6 2.2 .6-9.7 .6 9.1 .6-.2 .6-4.5 .6 8.6 .6-12.9 .6 4.6 .6 2.1 .6 .1 .6-5.5 .6 2.5 .6-1.2 .6-3.3 .6 4.3 .6 2 .6-2.2 .6 8.7 .6-3.1 .6-7.8 .6 2.3 .6 1.8 .6-3.7 .6 7.7 .6-12 .6 1.6 .6 7.1 .6-9.8 .6 6.3 .6 4.5 .6-1.1 .6-3.7 .6-3.1 .6 2.1 .6-1.9 .6 2.8 .6 3.2 .6-9.1 .6 1.4 .6 8.4 .6-6.5 .6 4.6 .6-4.3 .6 3 .6-5.6 .6 4.1 .6 2.3 .6-1 .6-2.7 .6 2.6 .6-.1 .6-7.4 .6 1.5 .6 8.8 .6-4.1 .6 1.3 .6 4.2 .6-10.7 .6 9.7 .6-3.2 .6-.5 .6-9.9 .6-1.1 .6 7.7 .6 2.4 .6-4.1 .6-5.7 .6 10.7 .6-9.1 .6 2.6 .6 7.5 .6-11.6 .6 .6 .6 2.9 .6 .8 .6 .7 .6 1.9 .6 5.9 .6-7.6 .6 4 .6-4.4 .6 1.5 .6-4.2 .6 4.2 .6-7.4 .6 4.4 .6-.8 .6-1.2 .6-.5 .6 1.6 .6-4.5 .6-2.8 .6 10.1 .6-8.2 .6 1.9 .6-1.3 .6 3.3 .6 1.3 .6-3.1 .6-3.5 .6 1.1 .6 2.2 .6-3.5 .6-4.5 .6 .8 .6 12.3 .6-12.9 .6 8.3 .6-4 .6-4.4 .6-1.1 .6 2.2 .6-.3 .6-.5 .6 5.1 .6-.6 .6 .5 .6-2.1 .6-5.2 .6 .7 .6 0 .6 2.5 .6 4.7 .6-9.6 .6 5.2 .6-4.4 .6-2.6 .6 .7 .6-1.1 .6 6.4 .6-4.5 .6-8.6 .6-2.1 .6 13 .6-11.4 .6 11.2 .6-1.7 .6-9.1 .6 17.5 .6-12.5 .6 .1 .6 1.8 .6-1.7 .6-8.1 .6 13.4 .6-3.4 .6-5.5 .6 .2 .6 6.6 .6-4.1 .6 3.1 .6-1.7 .6 3.6 .6-10.8 .6 6.7 .6-9.1 .6 3.9 .6 2.8 .6 0 .6-1.9 .6 10.2 .6-18.2 .6 13.4 .6 1.2 .6-5.6 .6 5.8 .6-4.3 .6-10.5 .6-8 .6 14.3 .6 6.1 .6-.4 .6-2.4 .6 4.4 .6-17.7 .6 15.5 .6-1.2 .6 5 .6-5 .6-7.3 .6 6.5 .6-15.4 .6-2.2 .6 23.4 .6 2.7 .6 2 .6 .7 .6-25.7 .6 26.8 .6-2.5 .6 1.9 .6 8.2" fill="none" stroke="#f86030" stroke-width="1.15" stroke-linejoin="round"/>
<path d="M240.2 287.3l.6-24 .6 11.7 .6-18.6 .6 20.1 .6 3.4 .6 2.6 .6-8.1 .6 0 .6-12.2 .6 10 .6 8.9 .6-8 .6 5.5 .6-3 .6 9.3 .6 2.5 .6-13.4 .6 11.2 .6-9.2 .6-3 .6 14.6 .6-13.3 .6 7.9 .6-5 .6 1.6 .6 5.4 .6-5.6 .6 13.2 .6-8.5 .6 3.2 .6-.8 .6 2.5 .6-7 .6 9.6 .6-3.7 .6-2.6 .6 3.7 .6 2.3 .6-2.9 .6 5.5 .6-4.9 .6 9.5 .6-4.7 .6-1.3 .6 1.5 .6-1.9 .6 5.9 .6-.2 .6 1.7 .6-2 .6-.1 .6 1.3 .6 .2 .6 5.1 .6-6.5 .6 2.8 .6 3 .6-6.6 .6 5.5 .6-4.6 .6 8 .6-14.6 .6 8.9 .6 3 .6-6.1 .6 7.4 .6-2.4 .6 5.5 .6-8.6 .6 5.7 .6-1.9 .6 .4 .6-1.2 .6-.9 .6 14.4 .6-5.2 .6-11.7 .6 1.8 .6 7.6 .6-3.6 .6-3.8 .6 4 .6-4 .6 3.8 .6-5.5 .6 2 .6 10.8 .6-4.6 .6-1.2 .6-5.6 .6 10.6 .6 2 .6-3.8 .6-7.1 .6-2.7 .6 6.5 .6-.4 .6-.5 .6 2.1 .6-6 .6-1 .6 10.9 .6-7.1 .6 3.3 .6 2.5 .6-6.2 .6 1 .6 1.5 .6 2.6 .6-.8 .6-2.4 .6-4.3 .6-.9 .6 7.1 .6-4.7 .6-5.2 .6 13.8 .6-5.7 .6-.2 .6 .6 .6-5.7 .6 4.1 .6-2.4 .6 1.3 .6-4.6 .6 .2 .6-4.8 .6 8.4 .6-2.2 .6 5.6 .6-2.1 .6-5.7 .6 .3 .6-.1 .6 5.1 .6-1.6 .6 .9 .6 .3 .6-2.6 .6 4.8 .6-5.2 .6 3.7 .6 3.2 .6-7.6 .6 5.2 .6-5.2 .6 5 .6 .9 .6-1.1 .6 1.2 .6-4.4 .6 1.9 .6-.2 .6 2.7 .6-6.4 .6 .2 .6-.5 .6 4.5 .6 .7 .6-3.7 .6 .8 .6-2.9 .6 1.5 .6 2 .6 2.8 .6-1.8 .6 1.1 .6-11.7 .6 6.1 .6-4.4 .6 7.1 .6-1.9 .6 4.9 .6-4.5 .6 4 .6-7.2 .6 8.2 .6-6.1 .6-1 .6 .8 .6-4.3 .6 10.3 .6-2.7 .6 5.8 .6-2.1 .6 .9 .6-2.2 .6-5.8 .6 .5 .6 8.4 .6-2.1 .6-10.6 .6 6 .6-2 .6 7.4 .6-6 .6-9.7 .6 11 .6-1.6 .6 1 .6-2.6 .6 3.3 .6 3.4 .6-10.4 .6 1.5 .6 7.7 .6-9 .6-.9 .6 .8 .6-.8 .6-4.8 .6 11.6 .6 .4 .6-2.6 .6-4.8 .6-.9 .6 3.8 .6-5.5 .6 8.6 .6-6 .6 2.4 .6 2.8 .6 .7 .6-9 .6 3 .6-2.6 .6 1.1 .6-8.6 .6 3.3 .6 6.4 .6-9.8 .6 6.9 .6 .3 .6-4.9 .6 1.1 .6 .5 .6 4.8 .6-8.8 .6 3.6 .6 4.4 .6-3.6 .6 6.2 .6-9.9 .6-2.3 .6 .4 .6-.1 .6 3.3 .6-11.3 .6-2.8 .6 6.5 .6-2.1 .6-.9 .6-9.4 .6 5.6 .6 5.2 .6-6.4 .6 3.6 .6 5.5 .6-6.1 .6 7.8 .6-14.6 .6 12.4 .6-17.2 .6 12.6 .6 .6 .6-2.9 .6 9.7 .6-16.9 .6 8.2 .6-.2 .6 9.8 .6-5 .6-6.7 .6 10.7 .6-12.1 .6 9.8 .6-1.6 .6-1.9 .6-2.2 .6 5.9 .6-4.1 .6-7.9 .6 12.2 .6-12.5 .6 20.4 .6-9.6 .6-7.4 .6 11.8 .6-4.2 .6 .2 .6-6.5 .6-2.1 .6 8.9 .6 10.2 .6-19 .6 13 .6 2.6 .6 4.4 .6-3.8 .6 4.9 .6-1.2 .6 0 .6-8.2 .6 15.8 .6 13.9 .6-5.2 .6-7.4 .6 3.1" fill="none" stroke="#f84858" stroke-width="1.15" stroke-linejoin="round"/>
<path d="M240.2 266.7l.6-7.7 .6 .9 .6 10.4 .6 3.4 .6-8 .6 8.3 .6-.8 .6-12.3 .6 19.7 .6-5.8 .6-1.4 .6 4.3 .6-.7 .6 6.2 .6-5 .6 3 .6 3.1 .6-1 .6-1.7 .6 3.2 .6 1.9 .6-6.3 .6 1.9 .6 4.5 .6-1.2 .6-2.5 .6 8.5 .6-1.8 .6-1.4 .6 7.1 .6-5.5 .6 5.9 .6-5.3 .6 7.3 .6-9.8 .6 9.1 .6-3.4 .6 1.1 .6-5.5 .6 5.1 .6 7.1 .6 2.5 .6-3.3 .6 4.3 .6-7.3 .6 3.3 .6-6.2 .6 9.1 .6-2.4 .6-3.7 .6 3.3 .6 3.5 .6-6.7 .6 9.7 .6-3.6 .6 0 .6-1.7 .6-3.1 .6 6.7 .6 1.5 .6 .9 .6-3.9 .6 4 .6 2.9 .6-4.5 .6 1.2 .6 3.1 .6-2.9 .6 5.1 .6 2.1 .6-3 .6 5.1 .6-1.2 .6-11.8 .6 6 .6-3.7 .6 12.9 .6-4.7 .6 2.3 .6-3.8 .6 1.6 .6 1.6 .6-1.6 .6 2.1 .6 3.3 .6-1.1 .6-1.3 .6-3 .6-3.3 .6 3.7 .6 1.7 .6-4 .6 9.1 .6-2.8 .6-.5 .6 3.8 .6-7.1 .6 1.1 .6-1 .6 5.5 .6-3.3 .6-.9 .6 3.7 .6-6.8 .6-.9 .6 .5 .6 2.3 .6 2.2 .6-4.9 .6-.6 .6 3.8 .6-2.3 .6-2.1 .6 1.8 .6 2.5 .6 6.4 .6-3.9 .6-4.4 .6-2 .6 2.6 .6-5.2 .6 8.9 .6-5.7 .6 2.3 .6-2.3 .6 3.5 .6-1.3 .6-6 .6 4.9 .6-4.9 .6 9.6 .6-4.1 .6 5.7 .6-.6 .6-.4 .6 3.2 .6-4.8 .6-2.9 .6-1 .6-2.4 .6 6.4 .6-4.9 .6-2.9 .6 2.1 .6 4.4 .6 .4 .6-1.5 .6 3.8 .6-2.4 .6-1.2 .6 .8 .6-2.7 .6-1.5 .6 9.3 .6-3.2 .6-4.7 .6 7.4 .6-1.7 .6 5.4 .6 3 .6-7.2 .6-3 .6-3.3 .6 9.7 .6-8.5 .6-1 .6 6.9 .6-1.9 .6 6.7 .6-6.4 .6 3.2 .6 1.6 .6 1.4 .6-8.2 .6 8.7 .6-5.3 .6 1.7 .6-1 .6-7.7 .6 8.2 .6 6.9 .6-7.4 .6 4.1 .6-7.4 .6 .5 .6 5.8 .6-8.6 .6 17.7 .6-5.8 .6-4.1 .6 .7 .6-.6 .6 2.7 .6-.8 .6 2.3 .6-3.7 .6 2.9 .6-1.5 .6 3 .6-1.1 .6 2.9 .6-9.3 .6 9.2 .6-8.4 .6-1.2 .6 6.8 .6-2.8 .6-4.5 .6 7.4 .6 1.3 .6-6.1 .6 4.3 .6 3.6 .6-2.7 .6 .4 .6-15.6 .6 15.8 .6-4.1 .6 4.5 .6-3.1 .6 6 .6-8.2 .6 4.7 .6-4.5 .6-7 .6 16.4 .6-7.4 .6 3 .6 3.8 .6-3.2 .6-1.6 .6 .9 .6-.7 .6-2.5 .6 1.3 .6 .3 .6 .6 .6 1.2 .6-5.2 .6-1 .6-.6 .6 2.2 .6-5.5 .6-2.2 .6-3 .6 1.3 .6-2 .6 7.5 .6-9.6 .6-4.6 .6 5.2 .6-2.9 .6-3.9 .6 8.9 .6-11 .6 2.4 .6 .5 .6 5 .6-2.3 .6-2.7 .6-6.5 .6 5 .6-9.8 .6 1.3 .6 1 .6 4.8 .6-1.9 .6-16.2 .6-3.5 .6 5 .6 2.2 .6 9.9 .6-13.5 .6 13.6 .6-4 .6-11.6 .6 7.3 .6-3 .6 19.1 .6-14.8 .6-1.6 .6 .3 .6-3.1 .6 4 .6 1.4 .6-1.2 .6 4.7 .6-.2 .6 2.9 .6 0 .6 7.9 .6-5.7 .6 22.8 .6-10.2 .6-2.2 .6 11.5 .6 11.2 .6 8.5 .6-3 .6 5.8 .6-4 .6 .7 .6 13.2 .6-15.4 .6-6.8 .6 .7 .6-1.8 .6-.7" fill="none" stroke="#f01838" stroke-width="1.15" stroke-linejoin="round"/></g>
<rect x="240.2" y="192.4" width="184.8" height="158.8" fill="none" stroke="#000" stroke-width="1.3"/>
<text x="240.2" y="361.8" font-size="8.9" text-anchor="middle" font-weight="bold" fill="#000">450</text>
<line x1="255.6" y1="351.2" x2="255.6" y2="349.7" stroke="#000" stroke-width="1"/>
<line x1="271" y1="351.2" x2="271" y2="348.7" stroke="#000" stroke-width="1"/>
<text x="271" y="361.8" font-size="8.9" text-anchor="middle" font-weight="bold" fill="#000">500</text>
<line x1="286.4" y1="351.2" x2="286.4" y2="349.7" stroke="#000" stroke-width="1"/>
<line x1="301.8" y1="351.2" x2="301.8" y2="348.7" stroke="#000" stroke-width="1"/>
<text x="301.8" y="361.8" font-size="8.9" text-anchor="middle" font-weight="bold" fill="#000">550</text>
<line x1="317.2" y1="351.2" x2="317.2" y2="349.7" stroke="#000" stroke-width="1"/>
<line x1="332.6" y1="351.2" x2="332.6" y2="348.7" stroke="#000" stroke-width="1"/>
<text x="332.6" y="361.8" font-size="8.9" text-anchor="middle" font-weight="bold" fill="#000">600</text>
<line x1="348" y1="351.2" x2="348" y2="349.7" stroke="#000" stroke-width="1"/>
<line x1="363.4" y1="351.2" x2="363.4" y2="348.7" stroke="#000" stroke-width="1"/>
<text x="363.4" y="361.8" font-size="8.9" text-anchor="middle" font-weight="bold" fill="#000">650</text>
<line x1="378.8" y1="351.2" x2="378.8" y2="349.7" stroke="#000" stroke-width="1"/>
<line x1="394.2" y1="351.2" x2="394.2" y2="348.7" stroke="#000" stroke-width="1"/>
<text x="394.2" y="361.8" font-size="8.9" text-anchor="middle" font-weight="bold" fill="#000">700</text>
<line x1="409.6" y1="351.2" x2="409.6" y2="349.7" stroke="#000" stroke-width="1"/>
<text x="425" y="361.8" font-size="8.9" text-anchor="middle" font-weight="bold" fill="#000">750</text>
<text x="332.6" y="372.2" font-size="10.5" text-anchor="middle" font-weight="bold" fill="#000">Wavelength (nm)</text>
<line x1="240.2" y1="343.6" x2="242.7" y2="343.6" stroke="#000" stroke-width="1"/>
<text x="236.2" y="347.2" font-size="8.9" text-anchor="end" font-weight="bold" fill="#000">&#8722;6</text>
<line x1="240.2" y1="328.5" x2="241.7" y2="328.5" stroke="#000" stroke-width="1"/>
<line x1="240.2" y1="313.4" x2="242.7" y2="313.4" stroke="#000" stroke-width="1"/>
<text x="236.2" y="317" font-size="8.9" text-anchor="end" font-weight="bold" fill="#000">&#8722;4</text>
<line x1="240.2" y1="298.3" x2="241.7" y2="298.3" stroke="#000" stroke-width="1"/>
<line x1="240.2" y1="283.2" x2="242.7" y2="283.2" stroke="#000" stroke-width="1"/>
<text x="236.2" y="286.8" font-size="8.9" text-anchor="end" font-weight="bold" fill="#000">&#8722;2</text>
<line x1="240.2" y1="268.1" x2="241.7" y2="268.1" stroke="#000" stroke-width="1"/>
<line x1="240.2" y1="253" x2="242.7" y2="253" stroke="#000" stroke-width="1"/>
<text x="236.2" y="256.6" font-size="8.9" text-anchor="end" font-weight="bold" fill="#000">0</text>
<line x1="240.2" y1="237.9" x2="241.7" y2="237.9" stroke="#000" stroke-width="1"/>
<line x1="240.2" y1="222.8" x2="242.7" y2="222.8" stroke="#000" stroke-width="1"/>
<text x="236.2" y="226.4" font-size="8.9" text-anchor="end" font-weight="bold" fill="#000">2</text>
<line x1="240.2" y1="207.7" x2="241.7" y2="207.7" stroke="#000" stroke-width="1"/>
<text x="236.2" y="196.2" font-size="8.9" text-anchor="end" font-weight="bold" fill="#000">4</text>
<text x="0" y="0" font-size="10.5" text-anchor="middle" font-weight="bold" fill="#000" transform="translate(226.9 270) rotate(-90) scale(1 0.88)">&#916;A (mOD)</text>
<text x="244.7" y="210.6" font-size="19" text-anchor="start" font-weight="bold" fill="#000">e</text>
<line x1="303.2" y1="200.3" x2="322.5" y2="200.3" stroke="#2a6a48" stroke-width="1.3"/>
<text x="325.2" y="203.4" font-size="8.6" text-anchor="start" font-weight="bold" fill="#000">0.5 ps</text>
<line x1="303.2" y1="210.8" x2="322.5" y2="210.8" stroke="#90b080" stroke-width="1.3"/>
<text x="325.2" y="213.8" font-size="8.6" text-anchor="start" font-weight="bold" fill="#000">1 ps</text>
<line x1="303.2" y1="221.2" x2="322.5" y2="221.2" stroke="#a0b050" stroke-width="1.3"/>
<text x="325.2" y="224.3" font-size="8.6" text-anchor="start" font-weight="bold" fill="#000">5 ps</text>
<line x1="303.2" y1="231.7" x2="322.5" y2="231.7" stroke="#d0c860" stroke-width="1.3"/>
<text x="325.2" y="234.8" font-size="8.6" text-anchor="start" font-weight="bold" fill="#000">10 ps</text>
<line x1="303.2" y1="242.1" x2="322.5" y2="242.1" stroke="#f0d890" stroke-width="1.3"/>
<text x="325.2" y="245.2" font-size="8.6" text-anchor="start" font-weight="bold" fill="#000">50 ps</text>
<line x1="349.6" y1="200.3" x2="368.9" y2="200.3" stroke="#f0b030" stroke-width="1.3"/>
<text x="372" y="203.4" font-size="8.6" text-anchor="start" font-weight="bold" fill="#000">100 ps</text>
<line x1="349.6" y1="210.8" x2="368.9" y2="210.8" stroke="#f8a870" stroke-width="1.3"/>
<text x="372" y="213.8" font-size="8.6" text-anchor="start" font-weight="bold" fill="#000">200 ps</text>
<line x1="349.6" y1="221.2" x2="368.9" y2="221.2" stroke="#f88050" stroke-width="1.3"/>
<text x="372" y="224.3" font-size="8.6" text-anchor="start" font-weight="bold" fill="#000">500 ps</text>
<line x1="349.6" y1="231.7" x2="368.9" y2="231.7" stroke="#f85858" stroke-width="1.3"/>
<text x="372" y="234.8" font-size="8.6" text-anchor="start" font-weight="bold" fill="#000">1 ns</text>
<line x1="349.6" y1="242.1" x2="368.9" y2="242.1" stroke="#f87090" stroke-width="1.3"/>
<text x="372" y="245.2" font-size="8.6" text-anchor="start" font-weight="bold" fill="#000">3 ns</text>
<clipPath id="clipf"><rect x="240.2" y="378.2" width="183.2" height="158.6"/></clipPath>
<g clip-path="url(#clipf)"><path d="M240.2 448.2l.6 7.1 .6-4.8 .6 4.7 .6 10.5 .6-12.5 .6 7.6 .6-2.3 .6-4.8 .6 9.8 .6 8.4 .6-.6 .6-7.1 .6 13.8 .6-7.1 .6 .9 .6 8.7 .6-5 .6-.4 .6 7.4 .6-.1 .6-3.4 .6 9.5 .6-.7 .6-6.7 .6 5 .6 7.5 .6-4.8 .6-6.7 .6 15.2 .6-8.2 .6 1.4 .6 4.8 .6-1.9 .6 6.1 .6-7.7 .6 .4 .6 11.2 .6-1.6 .6-.4 .6 4 .6-3 .6 6.4 .6-5.5 .6 4.3 .6-.2 .6-1.2 .6-1 .6 8.2 .6-6.1 .6 .4 .6 4.8 .6-5.7 .6 9.8 .6 0 .6-2.9 .6 5 .6-7.4 .6 5.4 .6-5.3 .6 11.6 .6 .2 .6-8.4 .6 9.9 .6-7.8 .6 7.8 .6-3.8 .6-3.2 .6 5.1 .6 4.5 .6-2.5 .6-6.3 .6 3.7 .6-2 .6 2.4 .6-.8 .6 1.9 .6 3.2 .6-6.1 .6 1.4 .6 8.5 .6-7.8 .6-3.8 .6-3.7 .6 12.9 .6-5.8 .6-1.7 .6-.8 .6 5.7 .6-4.8 .6 3.7 .6-1.5 .6 1.9 .6-3.3 .6 2.8 .6-2.7 .6 1.5 .6-4 .6-3.1 .6 6.7 .6 2.2 .6-2.4 .6 .6 .6 3.8 .6-7.3 .6 1.2 .6-6.3 .6 3.1 .6-5.1 .6-.3 .6 4 .6-1.7 .6-.2 .6-1.2 .6-6 .6 4.4 .6-1.3 .6 .7 .6-9.4 .6 6.2 .6-1.4 .6 2.2 .6-4.7 .6 3.6 .6-.8 .6 5.1 .6-1.9 .6-7.5 .6-2.6 .6 9.2 .6-7.5 .6-.4 .6-11.6 .6 15.6 .6-1.6 .6 1.3 .6-7.6 .6-1.2 .6 5 .6-7.2 .6-2.5 .6 9.9 .6-4.2 .6 2.8 .6 1.6 .6-.7 .6-1 .6 4.1 .6-4.7 .6-3.5 .6 6.9 .6-1.6 .6 1.7 .6-5 .6 2 .6-3.9 .6 5 .6 4.7 .6-7.8 .6 3.6 .6-5.5 .6 1.8 .6 13.4 .6-2.4 .6-7.7 .6 3.2 .6 6 .6-6.6 .6-7 .6 2.7 .6 6 .6-4.5 .6-2.8 .6 4.7 .6-7.7 .6 9.6 .6-11.3 .6 2 .6 3.6 .6 .8 .6 .3 .6 3.2 .6-8 .6-1.8 .6 1.3 .6 1.3 .6-.1 .6 3.4 .6-1.9 .6 2.3 .6-8.3 .6 4.6 .6-7.6 .6 5.1 .6-9 .6-1.3 .6-.6 .6 .8 .6 5 .6-.7 .6 1 .6-4.9 .6-6 .6 10.1 .6-14.5 .6 11 .6 1.6 .6-6.7 .6-3.6 .6 4.8 .6 1.9 .6-11.7 .6 10.4 .6-9 .6 2.5 .6 1.2 .6-2.4 .6 3.6 .6-.7 .6-6.4 .6 4.5 .6-1.8 .6-9.6 .6-2.1 .6 1.9 .6 0 .6 3.7 .6-2.1 .6 2.4 .6 7.3 .6-12.6 .6-.9 .6-3.9 .6 7.8 .6-10.1 .6 5.8 .6 1.9 .6-4.6 .6-5.5 .6 2.9 .6-2.6 .6 4.4 .6-6.2 .6-2.7 .6 6.5 .6-5.9 .6 6.3 .6-7.1 .6 6.4 .6-8.7 .6 1 .6 4.1 .6-7.2 .6 5.2 .6-5.5 .6 3.9 .6-7.5 .6 4.4 .6-10.2 .6 3.9 .6-1.1 .6 8.5 .6 3.1 .6-7.2 .6-14.1 .6 13.5 .6-12.1 .6-1 .6 9.1 .6-2.8 .6-9.2 .6 7.8 .6 0 .6 .2 .6-4.6 .6 .3 .6-8.8 .6 5.1 .6-6.5 .6 7 .6-16.7 .6 15.4 .6-.5 .6 3.6 .6 5.2 .6-5.7 .6-7.3 .6 7.6 .6-12.3 .6 16.1 .6 .2 .6-13.5 .6-.7 .6 10.2 .6-15.5 .6-2.5 .6 6.9 .6 11.5 .6-18.6 .6 10.6 .6-1.4 .6-5.9 .6 6.5 .6-19.8 .6 12.5 .6-16.8" fill="none" stroke="#2a6a3a" stroke-width="1.15" stroke-linejoin="round"/>
<path d="M240.2 441.5l.6-4.2 .6 8.5 .6-.6 .6 8.3 .6 .5 .6 3.3 .6-5.9 .6 8.7 .6-10 .6 9.7 .6 6.7 .6-1.5 .6-7.8 .6 9.3 .6-4 .6 11.5 .6-8.5 .6-.3 .6 2.4 .6-.1 .6 9 .6 4 .6-.5 .6-8.2 .6 2.9 .6-.5 .6 6.7 .6-4.5 .6 10.5 .6-6.7 .6 6.7 .6-1.4 .6-3.2 .6 .1 .6 5 .6 1.7 .6-5.7 .6 2.1 .6 7.6 .6-3 .6 2.8 .6-3.9 .6 2.8 .6 .7 .6 2 .6 3.1 .6-5.8 .6 3.3 .6 11.2 .6-7 .6-1.9 .6 4.6 .6 1.3 .6-.6 .6-3.2 .6 5.7 .6-4.6 .6-3.3 .6 2.2 .6 .4 .6 5.2 .6-5 .6 5.1 .6-2.9 .6 8.3 .6-8.8 .6 7.6 .6-2 .6-3.6 .6 4.5 .6 2.2 .6-.9 .6-4.6 .6 .2 .6 2 .6 5.2 .6-.7 .6-4 .6-.2 .6 5.8 .6-.1 .6-5.4 .6-1.5 .6 3.9 .6 4.9 .6-10.9 .6 6 .6-1.8 .6 10.1 .6-5.7 .6-2.1 .6-2.1 .6 4.5 .6 2.4 .6 .3 .6-5.1 .6-2.8 .6 0 .6 7.5 .6-4.1 .6-2.6 .6-4.4 .6 1.4 .6 1 .6 7.3 .6-11 .6 4.3 .6-1.4 .6 3.2 .6-2.1 .6 .3 .6 0 .6 1.6 .6-6.3 .6-1.1 .6 5.4 .6 .9 .6-.3 .6-2.2 .6-7 .6 5.8 .6-7.8 .6 11.8 .6-.9 .6-1.4 .6 .1 .6-4.9 .6-5.7 .6 9.4 .6-4.4 .6-4.1 .6-4.4 .6 8.3 .6-3.3 .6-1.6 .6 4.5 .6-2 .6 3.3 .6 1.8 .6-1.4 .6-7 .6-1 .6 3.9 .6 5.5 .6-9.8 .6 4.5 .6-6.1 .6 5.2 .6 4.5 .6-3.6 .6 1.2 .6-9 .6 14.7 .6-6.8 .6-1.3 .6 6.4 .6-9.8 .6-1 .6-1.2 .6-.2 .6 3.3 .6-4.2 .6 5.1 .6-2.1 .6-1 .6 .3 .6-2 .6 4.3 .6-2.4 .6 1.5 .6-2.8 .6-1.2 .6 3.9 .6-8.8 .6-2.2 .6 5 .6 1.5 .6 2.5 .6-2.1 .6-.1 .6-3.8 .6 2.3 .6-3 .6 .2 .6 3.7 .6 2.9 .6-.9 .6-.8 .6-4.3 .6-5.1 .6 7.8 .6-6.5 .6 2.8 .6-5.9 .6-4.2 .6 4.1 .6 2.4 .6-1.1 .6-3.6 .6 5.7 .6 1.4 .6-4.1 .6-6.1 .6 8.4 .6-7.5 .6 .3 .6 3.8 .6 1.6 .6 2.7 .6-2.4 .6-5.6 .6-2.8 .6 4.7 .6-.8 .6 .2 .6-13 .6 14.2 .6-.2 .6-10.5 .6 7.8 .6-8.7 .6 6.5 .6-7.9 .6-1.9 .6 6.5 .6-2.3 .6 3.1 .6-7.8 .6 4 .6 1.9 .6-6 .6-.4 .6 1.1 .6 .9 .6-6.1 .6 5.7 .6 .2 .6-3 .6-3.6 .6 2.9 .6 .3 .6 .8 .6-1.5 .6-1.2 .6-11.1 .6 14.3 .6-5.9 .6-2.8 .6 3.3 .6 .7 .6-8.2 .6-4.3 .6 .5 .6 4.2 .6 1.4 .6-5.7 .6 10.1 .6-4.4 .6-11.6 .6 4.3 .6 .7 .6 1.1 .6 .4 .6 1.8 .6-7.8 .6-.3 .6-.6 .6 15.3 .6-20.6 .6 1.8 .6-4.5 .6 11.4 .6 8.7 .6-5.4 .6-2.8 .6-17.5 .6 15.9 .6-2.2 .6-9.3 .6 .1 .6-1 .6 8.5 .6-15.2 .6 8.8 .6 7.5 .6-8.6 .6 11.5 .6-1.6 .6-4.1 .6 2.9 .6-5.1 .6 .6 .6-1.7 .6 2.3 .6-14.6 .6 14.5 .6-3.9 .6 2.2 .6-2.8 .6 4.6 .6-25.8 .6 17.1 .6-8.9 .6 8.4 .6 6.6" fill="none" stroke="#4a8a3a" stroke-width="1.15" stroke-linejoin="round"/>
<path d="M240.2 438.3l.6 2.1 .6 4.2 .6-6.3 .6-7.2 .6 9 .6-3.5 .6-.2 .6 18.1 .6-19 .6 17.7 .6-15.1 .6 9.3 .6-1 .6-6.9 .6 6.7 .6 13.7 .6 1.7 .6-2.1 .6-9.4 .6 4 .6-1.8 .6 2.9 .6-2.7 .6 10.5 .6 4 .6-4.3 .6-5.6 .6 8.1 .6 5.9 .6-6.7 .6-4.3 .6 1.6 .6 3.5 .6 1.2 .6 6.8 .6-7.6 .6-7 .6 9.8 .6-7.8 .6 11.7 .6-2.8 .6 .7 .6-1.3 .6 7.4 .6-11.3 .6 6.4 .6 7.7 .6-10.6 .6 2.3 .6 6 .6-4.2 .6-3.3 .6 .8 .6 1.8 .6 4.3 .6-3.4 .6-3.6 .6-3.1 .6 6.4 .6-.4 .6-.2 .6 5.2 .6 6.2 .6-4.2 .6-1 .6-1.2 .6 1.3 .6 3.4 .6-.2 .6-.8 .6 2.9 .6 .3 .6 3.8 .6-5 .6-1.5 .6 3.3 .6-1.3 .6-1.2 .6 4.8 .6-1.7 .6 1.1 .6-5.4 .6 6.2 .6-4.5 .6 8 .6-14.8 .6 4.5 .6 5.3 .6-3.1 .6-7.8 .6 6.9 .6 6.1 .6-5.8 .6 1.6 .6-4.1 .6 1.2 .6 6.7 .6-7.4 .6-3 .6-1.9 .6 4 .6-6.1 .6 1.4 .6 2.5 .6-3.1 .6 15.8 .6-14.9 .6-.9 .6 5.9 .6-3.7 .6 5.7 .6-2 .6-.1 .6 3.4 .6-3.4 .6 6 .6-6.4 .6-7.3 .6-.9 .6 7.5 .6-7 .6 5.1 .6 6.6 .6-2.7 .6-2.2 .6-.2 .6-2.7 .6 5.2 .6-1.2 .6-5.7 .6 3.5 .6-1.2 .6 1.8 .6-3 .6-.3 .6 5.9 .6-7.5 .6 6.9 .6-3.9 .6 2.5 .6-3.9 .6 1.5 .6-1.2 .6 1.6 .6 1 .6-1.3 .6 .8 .6 3.1 .6 2.8 .6-8.2 .6-3 .6 8.7 .6-5.8 .6 4.2 .6-3.1 .6-2.9 .6 1.9 .6 2.3 .6 6.5 .6-6.9 .6-.8 .6-5.1 .6 7.4 .6-2.4 .6-1.4 .6-4.3 .6 9.4 .6-8 .6 3.4 .6 2.1 .6 2.5 .6-1.8 .6-7.2 .6 5.1 .6 1.4 .6-2.3 .6-7 .6 1.1 .6 .5 .6-.9 .6 .6 .6 4.4 .6 2.4 .6-9.3 .6 5.1 .6-1.2 .6 2 .6-4 .6-3.5 .6 6.6 .6-2.4 .6 .1 .6-2.6 .6 2.4 .6-.4 .6 2.2 .6-2.7 .6 2.7 .6-5.9 .6 3.1 .6-7.2 .6 8.8 .6 1.1 .6-7.8 .6 .8 .6 7.5 .6-15.8 .6 10.6 .6-5.3 .6 5.5 .6-4.5 .6-1.9 .6 5.9 .6-3.6 .6-2.3 .6-4.9 .6 3.8 .6-1.9 .6 2.8 .6-.8 .6 .2 .6 2.7 .6 6 .6-.9 .6-8.2 .6-.9 .6 1.3 .6 2.2 .6-.6 .6 2.7 .6-9.8 .6 10.7 .6-13.2 .6 7.8 .6-12 .6 7.7 .6 2.7 .6-2 .6 2 .6-8.2 .6 5.6 .6-1.4 .6 3.9 .6-6.1 .6 7.8 .6-3.6 .6-8.2 .6 13.2 .6-10.2 .6-4.1 .6 4 .6-6.3 .6 .4 .6 3 .6 9.1 .6-5.5 .6-1.1 .6-6.6 .6 4.8 .6 .6 .6 4.6 .6-5.6 .6-2.5 .6 13.3 .6-12.4 .6-2.6 .6 3.1 .6-1 .6 2 .6-8.2 .6 7.6 .6-10 .6 4.4 .6 12.6 .6-9.5 .6-3.6 .6-3.6 .6 4 .6 1.2 .6-6 .6-5.2 .6 20.7 .6-7.5 .6-14.9 .6 8.6 .6 7.8 .6-17.7 .6-2.1 .6 14.1 .6-6.8 .6 4.6 .6-2.7 .6-4.5 .6 8.3 .6-1.6 .6 1.3 .6 9.8 .6-15.8 .6-3 .6 4.6 .6 .6 .6-6 .6 11 .6 2.4 .6-11.7" fill="none" stroke="#98b040" stroke-width="1.15" stroke-linejoin="round"/>
<path d="M240.2 429.1l.6-7.9 .6 18.7 .6-6.7 .6 7.4 .6-17.2 .6 14.6 .6-5.3 .6 16.5 .6-5.7 .6-8 .6 6.8 .6 1.9 .6-5.6 .6 3.6 .6 .8 .6 .1 .6 4.3 .6-8.6 .6 3.1 .6 6 .6 1.7 .6 7.2 .6-2.6 .6-9.9 .6 11.3 .6-2.7 .6-8 .6 3.1 .6 3.5 .6 .3 .6 3.4 .6-1.4 .6 1.1 .6-4.5 .6 2.7 .6 6.2 .6-7.8 .6 2.6 .6-.6 .6-.1 .6 2.3 .6 2.6 .6-3.8 .6 .9 .6 5.8 .6 .1 .6-1.2 .6-.7 .6 2.6 .6 5.6 .6-9.6 .6 7.6 .6 2.2 .6-.8 .6-3.1 .6 1.6 .6 8.4 .6-2.4 .6 .5 .6-2.7 .6-3 .6 3.4 .6-9.7 .6 4.5 .6-1.9 .6 3.2 .6 8 .6-6.4 .6 7.8 .6-1.5 .6-4.5 .6 1 .6-2.1 .6 3.6 .6-4.9 .6 1.2 .6 1.8 .6 4.3 .6-.5 .6-6.3 .6-7 .6 12.9 .6-2.5 .6 4 .6 6.1 .6-11.8 .6 1.7 .6-2 .6 5 .6 .8 .6-9 .6 9.3 .6-6.3 .6-1 .6 3.7 .6 2.1 .6-3.1 .6 7.7 .6-5.7 .6 .3 .6 4 .6-4.4 .6-4.6 .6-5.5 .6 13.1 .6-6 .6 0 .6 2.7 .6 1 .6-4.2 .6-.9 .6 8.2 .6-11.4 .6 6.4 .6-1 .6 2.5 .6-7 .6 9.9 .6-3.3 .6-2.5 .6 4.1 .6-2.7 .6-2.9 .6-2.6 .6 5.2 .6 1.1 .6-3.7 .6 1.3 .6 4.4 .6-7.3 .6 4.4 .6 2.3 .6-7.2 .6 1.4 .6 5.2 .6-5.7 .6 5.3 .6-.6 .6 1.7 .6-7.2 .6 3.8 .6-2.9 .6 7.3 .6-3.4 .6 4.8 .6-4 .6-1 .6-.8 .6 5.1 .6-10 .6 10.3 .6-10.9 .6 5 .6-4.7 .6 8 .6-4.5 .6-1.9 .6-6.3 .6 6.6 .6-5.3 .6 5.3 .6-4.3 .6 5.2 .6-.5 .6-3.5 .6 8.2 .6 1.3 .6-7.1 .6-7.7 .6 2.4 .6 5.1 .6-2.3 .6 1.4 .6-.8 .6-4.2 .6 9.7 .6 0 .6 2.7 .6-4.2 .6-7.5 .6 4 .6 4.6 .6-2.7 .6-.8 .6-6 .6 1.9 .6 .2 .6-3.4 .6 2.4 .6-2.4 .6 7.1 .6 .4 .6-2.4 .6-9.5 .6 12.1 .6-5.3 .6-1.5 .6 5.5 .6 .9 .6-12.9 .6 8.3 .6 .7 .6-3.1 .6 .8 .6 5.8 .6 .9 .6-6.1 .6 2 .6-3 .6 4.1 .6-14.8 .6 7.9 .6-6.3 .6 9.4 .6-1.8 .6 1.1 .6-2.4 .6-1.8 .6 3.4 .6 1.8 .6-1.6 .6-2.2 .6-4.2 .6 9 .6-3.2 .6-4.8 .6-3.9 .6 6.6 .6-3.1 .6 1.7 .6-.1 .6-1.8 .6 2.4 .6-1.5 .6 0 .6-7.5 .6 5.8 .6-6.8 .6 6.5 .6-1.3 .6 3.4 .6-4.3 .6-5 .6-1.1 .6 10 .6-14.3 .6 8.1 .6-1.2 .6-2.4 .6 3.5 .6 3.5 .6-4.2 .6 1.4 .6-10.5 .6 8 .6 10.1 .6-16.7 .6 3 .6 2.6 .6 8.5 .6-25.2 .6 17.2 .6-.2 .6 .9 .6-4.1 .6 1 .6-2.4 .6-1.2 .6 2.2 .6-6.3 .6 11.4 .6-11.3 .6 2.8 .6 1.6 .6-4.4 .6 2.4 .6-.2 .6 3.7 .6 2 .6 3.6 .6-1.6 .6-3.9 .6-9.2 .6 6.2 .6-2.5 .6 7.4 .6 2.9 .6-10.5 .6-14.9 .6 22.6 .6-16.4 .6 16.7 .6 .3 .6-1.8 .6-.4 .6-11.6 .6 4.5 .6 .7 .6 4.5 .6-10.4 .6-6.6 .6 11 .6 4.8 .6 5.1 .6-5.4" fill="none" stroke="#d8c030" stroke-width="1.15" stroke-linejoin="round"/>
<path d="M240.2 427.7l.6-13.2 .6 12.8 .6-9.3 .6 14 .6-10 .6 2.6 .6 .3 .6 3.5 .6 8 .6-17.9 .6 21.7 .6-11.4 .6 7.3 .6 5.4 .6-8.1 .6-2.1 .6 2.9 .6 11.6 .6-1.9 .6-5.2 .6 1.5 .6-1.6 .6 5.6 .6 7.3 .6-1.7 .6-5.6 .6 5.9 .6 1.9 .6-7.3 .6-2.4 .6 8.3 .6-1.2 .6 .2 .6-3.5 .6 5 .6 .4 .6-.3 .6 4.9 .6-9.3 .6-.4 .6 6.1 .6 .1 .6 .1 .6 1.1 .6 3.4 .6-5 .6 .2 .6-.7 .6 8.1 .6-4 .6 6.2 .6-11.6 .6 13.3 .6-4.8 .6-6 .6 13.1 .6-6.6 .6 7.5 .6-9.5 .6 5.5 .6 1.4 .6 1.9 .6-5.1 .6 2 .6-1.7 .6 0 .6 5.8 .6-2.8 .6-3.6 .6 3.4 .6 .8 .6 1.4 .6 2.5 .6-1.5 .6 .5 .6-9.5 .6 10.8 .6 2.9 .6-5.1 .6 2.4 .6 1.6 .6-5.6 .6 3.9 .6 2.3 .6-5.3 .6-5.4 .6 2.4 .6 4 .6-.2 .6 1.2 .6-2.9 .6 3.4 .6-2.3 .6 1.9 .6-1.5 .6 8.4 .6-7.8 .6 2 .6-1 .6-2.8 .6 6.2 .6-1.7 .6-4.1 .6 .3 .6-3.5 .6 2.1 .6 7.3 .6-7.9 .6 2.1 .6-1.3 .6-3.5 .6 3.3 .6 1 .6 5.3 .6-4.6 .6-5 .6 1 .6 6.6 .6 .5 .6-3.9 .6-3.4 .6 4.5 .6-8.2 .6-3 .6 12.3 .6-12.2 .6 .2 .6 15.2 .6-1.6 .6-5.8 .6-.8 .6 3.2 .6-3.4 .6-3.2 .6 6.4 .6 5.1 .6-7.5 .6-4.4 .6-2.8 .6 1.5 .6 14.7 .6-6.2 .6-4.3 .6 2.8 .6-5.5 .6 .3 .6-1.8 .6-2.2 .6 7.6 .6-9 .6 12.2 .6-1.4 .6 .2 .6-.9 .6-6 .6-3.9 .6 12.2 .6-8.6 .6-1.9 .6 3.6 .6 8.9 .6-9.6 .6-1.8 .6 10.5 .6-5.1 .6-6.1 .6 2.8 .6-3.1 .6-.6 .6 9.9 .6-.3 .6-8.1 .6 4.8 .6-4.7 .6 1.2 .6 5.4 .6-6.8 .6 2 .6 4.2 .6-.4 .6 .2 .6-3.3 .6-2.5 .6 1.7 .6 2.8 .6 4.7 .6-5.7 .6 .8 .6 2.2 .6 .9 .6-9.5 .6 .2 .6 11.4 .6-9.3 .6 2.3 .6-5.5 .6 10.2 .6-7.1 .6 6 .6-1.4 .6-1.8 .6-3 .6 3.1 .6 6.4 .6-9.4 .6 3.1 .6 .6 .6 5.7 .6-5.3 .6-6.4 .6-.6 .6 2.8 .6 5.1 .6-6.8 .6 6.1 .6-6.7 .6 4.9 .6 3.6 .6-7.9 .6 .6 .6-.3 .6 3.9 .6 .3 .6-8.7 .6 4.2 .6-6.8 .6-.3 .6 10.2 .6-3.1 .6 9.6 .6-11.3 .6 2 .6-3.7 .6 1.9 .6 .4 .6 .8 .6-.6 .6-8.1 .6 1.8 .6-6.4 .6 4.8 .6 4.2 .6-.2 .6-8.7 .6 13.2 .6-8.4 .6 .6 .6 7.4 .6-13.8 .6 4 .6 .5 .6 2.3 .6-4.1 .6-.1 .6-5.7 .6 5.7 .6-13.4 .6 13.8 .6-4 .6 3.4 .6-7.7 .6 6 .6-9.7 .6 1.7 .6 2.8 .6 10.7 .6-8.9 .6 .2 .6-4 .6 10.9 .6-11.5 .6-.5 .6 4.1 .6-2.2 .6 4.3 .6-8.6 .6 12.4 .6-3.1 .6-19.7 .6 15.7 .6-.3 .6 5.3 .6-4.3 .6-3.5 .6 9.1 .6 1.7 .6-6.8 .6-13.4 .6 12.4 .6-19.5 .6 9 .6 3.8 .6 7.6 .6-6.9 .6-17.3 .6 30.3 .6-12.2 .6-9.4 .6 5.2 .6 6.4 .6 4.3 .6-10 .6 20.4 .6-26.7 .6 20.4" fill="none" stroke="#f0b820" stroke-width="1.15" stroke-linejoin="round"/>
<path d="M240.2 436.5l.6-8.5 .6 .3 .6 2.3 .6 8.2 .6-3.8 .6-7.1 .6 3.2 .6-3.1 .6 6.3 .6 7.3 .6-3 .6-1 .6 .2 .6 .4 .6 1.1 .6-1.2 .6 .7 .6 7.9 .6-8.3 .6 3 .6 5.2 .6-1.8 .6 2.5 .6-1.2 .6 9.4 .6 .6 .6-10.7 .6 5.5 .6-6.4 .6 0 .6 5.2 .6-5.7 .6 11.5 .6-4 .6 6.2 .6-5.2 .6-3.3 .6 4.2 .6-.1 .6 5.5 .6-4.4 .6 4.5 .6-3 .6 3.7 .6-6.1 .6 1.6 .6 1.2 .6-1.2 .6-1.5 .6 5.4 .6 3.1 .6 .1 .6-8.5 .6 5.4 .6 6.2 .6 .2 .6-8.4 .6 6.1 .6-7.3 .6 1.2 .6 7.4 .6 .5 .6 3 .6-6.2 .6 8.8 .6-6.7 .6 3.6 .6-7.1 .6 7.7 .6 2 .6-5.1 .6 6.7 .6-6.4 .6 4.1 .6 1.4 .6-.9 .6-.1 .6 4 .6-7 .6 2.6 .6 2.1 .6-7.5 .6 4.2 .6-5.5 .6 13.3 .6-12.3 .6 4.6 .6-6.1 .6 6.2 .6 2.2 .6 .5 .6-4 .6 7.6 .6-4.7 .6 2.5 .6-13 .6 7 .6 3.1 .6 10.5 .6-11.1 .6 2 .6-2.2 .6-.3 .6 2.9 .6 2.2 .6-3.9 .6-.7 .6-.3 .6-.2 .6-1.8 .6 4.8 .6-6.7 .6 4.9 .6-2.3 .6 2.4 .6-2.9 .6-5.2 .6 4.2 .6 1.2 .6 0 .6 2.7 .6 2.5 .6 3.3 .6-8.6 .6-1.6 .6-.7 .6 10 .6-4.3 .6-4.9 .6 3.3 .6-4.6 .6-.9 .6 8.5 .6-8.5 .6 3.6 .6 1.5 .6-3.3 .6 3.6 .6 3.8 .6-9.9 .6 1 .6 0 .6 1.3 .6 6 .6-5.6 .6-6.6 .6 4.8 .6 1.3 .6-1 .6 1.7 .6-1.1 .6 .1 .6 2.6 .6-1.9 .6-.6 .6-.4 .6-9.6 .6 11 .6 3.4 .6-4.3 .6 6.2 .6-13.9 .6 9.3 .6-1.8 .6-1.5 .6-2.9 .6 5.7 .6-3.6 .6 2.1 .6-.8 .6-2.5 .6 4.8 .6-8.4 .6 6.1 .6-4 .6 5.6 .6-2.2 .6 2.9 .6-6.1 .6 3 .6 2.5 .6 1.5 .6-12.9 .6 6.6 .6-1.1 .6-2.3 .6 2.7 .6-3.3 .6 5.4 .6-1.7 .6-5.7 .6 11.2 .6-5.4 .6 3 .6-8.7 .6 7.3 .6-2 .6 .1 .6 3.7 .6-2.2 .6 1.2 .6-6.4 .6 6.1 .6-7.3 .6 2.9 .6-2.2 .6-2.2 .6 1.4 .6 1.6 .6 4.1 .6-2.2 .6-1.3 .6-2.8 .6 2.7 .6 .7 .6-8.5 .6 5.3 .6-.5 .6 4.6 .6-.9 .6-.4 .6 1.7 .6-4 .6-1.3 .6 3.7 .6-1.2 .6-6.1 .6 9.8 .6-5.8 .6-6.7 .6 2.1 .6 .4 .6-4.5 .6 1.1 .6 2.1 .6 5.1 .6 2.2 .6-2.1 .6-8.5 .6 7.1 .6-1.1 .6-6.5 .6 5 .6-3.1 .6 6.4 .6-3.5 .6-.3 .6 0 .6 3.3 .6-3.6 .6-7.7 .6 2.6 .6-3.4 .6 6.4 .6-12.2 .6 10.9 .6-1.6 .6-4.1 .6 3.9 .6-3.5 .6-7 .6 4.6 .6 4.4 .6-8.7 .6 9.1 .6-1 .6-4 .6-.6 .6 13.1 .6-13.3 .6 4.7 .6 4.3 .6 0 .6-.5 .6 2.7 .6-14.5 .6-3 .6 8.7 .6-.8 .6-.3 .6-7.3 .6 4.4 .6-8.6 .6 7.6 .6-6.2 .6 19.1 .6-3.6 .6-7.4 .6 2.4 .6 4.1 .6 2 .6 2.7 .6-10.4 .6 2.7 .6-8 .6 9.3 .6-4.4 .6-3.6 .6-2 .6 9.5 .6-3.7 .6-13.5 .6 30.7 .6-19.9 .6 0" fill="none" stroke="#f8c060" stroke-width="1.15" stroke-linejoin="round"/>
<path d="M240.2 435.3l.6 9.5 .6-8.9 .6 4.5 .6-.3 .6 2.7 .6 2.5 .6-4.9 .6 7.6 .6-10.3 .6 4.3 .6 3.9 .6-2 .6-3.2 .6 6.5 .6-5 .6-7.7 .6 12.2 .6-.8 .6 5.5 .6-2 .6 4.2 .6-9.6 .6 10.8 .6-4.9 .6 5.9 .6-2.4 .6 4.8 .6 1.1 .6-9 .6 1.8 .6 3.8 .6 2.7 .6-.2 .6 4.4 .6-4.6 .6-4.4 .6 9.2 .6-12.1 .6 8.8 .6-4.7 .6 4.4 .6 7 .6 1.2 .6-10.4 .6 1.4 .6 8.9 .6-11.5 .6 9.2 .6-13.3 .6 15.3 .6-5.1 .6 4.1 .6 3.9 .6-5.4 .6 6.8 .6 1.3 .6-3 .6 6.1 .6 .2 .6-3.6 .6-1.9 .6-2.2 .6-1.3 .6 6.3 .6-6.8 .6 5.7 .6 2.5 .6-4.4 .6-.7 .6 5.6 .6 2.3 .6-3.1 .6 2.2 .6 5.6 .6-5 .6 .4 .6-.6 .6-.9 .6-3.3 .6 8.6 .6-4.1 .6-2.6 .6 12.8 .6-14.8 .6 4.2 .6-10.3 .6 7.7 .6 6.8 .6-4 .6 1.5 .6-3 .6 7.7 .6-7 .6 2.1 .6-.1 .6-3 .6 1.1 .6-7.4 .6 6.6 .6-1.8 .6 5.4 .6 0 .6-8.9 .6 8.3 .6 2.5 .6 0 .6-1.4 .6 .9 .6-1.4 .6-8.3 .6 5.8 .6-3.1 .6-6.3 .6 10.8 .6-.2 .6 4.2 .6-11.3 .6 3 .6 8.5 .6-12.4 .6 1 .6 14.8 .6-6 .6-8.2 .6 7.5 .6-3.2 .6-3.6 .6 1.1 .6 3.4 .6-5.1 .6-2.9 .6 6.5 .6-12.4 .6 8 .6 .8 .6 6.5 .6-1.1 .6-.6 .6-7.2 .6 7.7 .6-9.4 .6 1.1 .6 6.3 .6-2.2 .6-6.7 .6 9.4 .6 5.4 .6-6.2 .6-3.6 .6-3.3 .6 1.6 .6-8.2 .6 5.6 .6 2.8 .6-3.6 .6-.3 .6 4 .6-2.4 .6 .7 .6 1.6 .6 .8 .6 4.4 .6-3.9 .6 3.2 .6-6.6 .6 2.5 .6 5 .6-4.1 .6 .7 .6 4.5 .6-3.2 .6-3.1 .6-5.6 .6 5.9 .6-2.2 .6-3.4 .6 .8 .6 3.8 .6-1.9 .6 3.3 .6 .6 .6-1.4 .6-.7 .6-3.4 .6 1.1 .6-1.1 .6 10.2 .6-5 .6-1.1 .6 4.3 .6 4.4 .6-11.1 .6-6.8 .6 12.4 .6-4.8 .6-7 .6 7.8 .6 .2 .6 3.5 .6-4.2 .6-4.1 .6-.7 .6 4.8 .6-5.1 .6 8.6 .6-2.9 .6-3.4 .6-.2 .6-3.2 .6 4.7 .6 7.3 .6-13.3 .6-3.6 .6 5.9 .6 2.7 .6 .8 .6-2.5 .6 5.8 .6-6.3 .6 1.7 .6 4.5 .6-6.8 .6-1.8 .6-5.4 .6 6.7 .6-6.6 .6 8.4 .6-.9 .6-3.4 .6 4.2 .6-3.9 .6 3.6 .6-.2 .6-1.6 .6-5 .6 2.5 .6 1.5 .6-8.7 .6 6.2 .6-3.8 .6 1.1 .6-2.4 .6 2.9 .6 1.8 .6-4.4 .6-.9 .6-1.4 .6 0 .6-.4 .6 5.7 .6-9.2 .6-.5 .6 4.2 .6-2.2 .6 .1 .6-6.5 .6 13.3 .6-6.4 .6-4.8 .6 10.4 .6-5 .6-12 .6 14.9 .6-6.5 .6 3.9 .6-3.8 .6 3.2 .6-5 .6 8.5 .6-17.3 .6 6.9 .6-.1 .6 4.1 .6-3.8 .6 2.3 .6-4.6 .6 5.1 .6-.1 .6-10.5 .6 1.6 .6-3.9 .6 4.2 .6 16.2 .6-13.8 .6-2.4 .6 3.4 .6-5.2 .6-.1 .6 4.7 .6-1.6 .6 3.4 .6-9.5 .6 18.2 .6 .7 .6-16.4 .6 18.4 .6-14.5 .6 2.9 .6-8 .6 16.6 .6 1 .6-5.5 .6 1.1 .6 5.7 .6 1.8" fill="none" stroke="#f89040" stroke-width="1.15" stroke-linejoin="round"/>
<path d="M240.2 436.5l.6-3.4 .6 17.1 .6-15.9 .6 3.3 .6 6.1 .6 3.8 .6-.9 .6 7.9 .6-9.8 .6 1.3 .6 1.1 .6-1 .6 8.4 .6-9.4 .6 5.8 .6-.4 .6-.2 .6 .7 .6-1.5 .6 3.2 .6 .8 .6 5.2 .6-.8 .6 5 .6-6.7 .6 2.8 .6-.3 .6-2.1 .6 4.4 .6-6.2 .6 10.4 .6-9.5 .6 1.7 .6 6 .6-2.3 .6-1.7 .6 6.3 .6-2.7 .6-2.2 .6 2.3 .6 3.7 .6 4.7 .6-7.8 .6 .1 .6-2.9 .6 3.5 .6 8.5 .6-.3 .6 2.1 .6-7.4 .6 3.6 .6-.8 .6 3.2 .6 4.8 .6-6.6 .6 8 .6 1.8 .6-3.3 .6-4.9 .6-3 .6 4.2 .6 1.2 .6-.8 .6-1.1 .6-.8 .6 8.4 .6-.3 .6-13.7 .6 17.3 .6 3.9 .6-5.8 .6 .1 .6 1.5 .6-9.4 .6 2.5 .6 7.8 .6-12.9 .6 11.3 .6-2.3 .6 3.9 .6 .5 .6-5.5 .6-4 .6 3.3 .6 2.2 .6 1.1 .6-6.3 .6 10.9 .6-4.6 .6 2.5 .6-2.7 .6 .2 .6 1.8 .6 1.4 .6-5.9 .6-7.1 .6 6.8 .6 1.9 .6 2.4 .6-5.6 .6 .6 .6-6.3 .6 8.8 .6-7.4 .6 9.4 .6-5.3 .6-1.2 .6 4.8 .6 4.8 .6-7.7 .6-.7 .6-3.6 .6 .4 .6-2.8 .6 10.5 .6-10 .6 4.4 .6-1.5 .6 10.8 .6-9.6 .6 1.4 .6-.2 .6-9.9 .6 12.8 .6-1.1 .6-2.6 .6-.4 .6 5.6 .6 .2 .6-4.5 .6 4.5 .6-7.1 .6 4.2 .6 3.5 .6-8.3 .6 .6 .6-.6 .6 1.8 .6-1.8 .6 3.4 .6 5.3 .6-5.4 .6-.4 .6 .6 .6-2.9 .6-5.7 .6 3.3 .6 1.2 .6-.7 .6 6.1 .6-11.6 .6 7 .6-4.6 .6 .9 .6-.1 .6-2.8 .6 6.6 .6-3.8 .6 4.4 .6-.7 .6 8.1 .6-8.6 .6 .7 .6-1.6 .6 4.7 .6 .9 .6-5.7 .6 2 .6-2.8 .6 5.9 .6 1.9 .6-7.8 .6 .6 .6 .2 .6-.8 .6 .7 .6 1.3 .6 2.9 .6-4.3 .6 1.1 .6 1 .6 4.1 .6-3.8 .6-3.8 .6-.8 .6 8.1 .6-9.2 .6 5.8 .6-6.3 .6 4.4 .6 3.2 .6-7.9 .6 9.3 .6-7 .6 1.3 .6-2 .6-.7 .6 .9 .6-3.6 .6 10.6 .6-9.3 .6-2.2 .6 10.4 .6-.2 .6-3.4 .6 1.7 .6-8 .6 1.2 .6 4.6 .6-.9 .6-8.7 .6 8.4 .6 .4 .6-10.5 .6 2.3 .6 6.1 .6-4.2 .6 8.5 .6-10.3 .6-7.8 .6 12.7 .6-4.7 .6 2.9 .6 2.8 .6-3.3 .6 1.2 .6 2.9 .6-5.5 .6-1.4 .6-1.3 .6 .4 .6-.1 .6 .6 .6 1.6 .6 3.7 .6-5.7 .6 1.5 .6 3.4 .6-5.6 .6-3 .6-3.7 .6 8.8 .6-8.6 .6 7.1 .6-3.9 .6-4.7 .6 4.7 .6 1 .6 2.4 .6-9.2 .6 7.8 .6-4.8 .6 .8 .6-2.7 .6-4.9 .6 3.7 .6-7.7 .6 1 .6 8.6 .6 5.2 .6-5 .6 .1 .6-8.8 .6 6.9 .6-3.3 .6 10.7 .6-10.9 .6-5.8 .6 8 .6 5 .6-3.7 .6-2.2 .6 .3 .6 .1 .6-1.8 .6 6.4 .6-3.3 .6 .5 .6-.2 .6 8.9 .6-11.4 .6-1.8 .6 10.2 .6-17.7 .6 11.4 .6-.8 .6-4 .6 2.9 .6-6 .6-.8 .6 21.6 .6-14.5 .6-6.4 .6 2.3 .6-1.8 .6 4.4 .6 3.8 .6 7.2 .6-20.6 .6 11 .6 1.8 .6 .4 .6 3.9 .6-.3 .6-6.5" fill="none" stroke="#f87040" stroke-width="1.15" stroke-linejoin="round"/>
<path d="M240.2 459.9l.6 9.8 .6-6.1 .6 2.2 .6-1.9 .6 1.2 .6-7.9 .6 14.2 .6-9.1 .6 .9 .6 5.9 .6 5.1 .6-7.1 .6 7.9 .6-13.2 .6 3.3 .6 14.5 .6-11.2 .6 2.8 .6 2.2 .6 .6 .6-10.5 .6 11.2 .6-.4 .6-7.3 .6 5.2 .6 6.8 .6-18 .6 10.4 .6 5.3 .6-13.8 .6 9.2 .6 1 .6 2.7 .6-3.9 .6 1.6 .6 1.1 .6-3.6 .6 5.7 .6 3.3 .6 1.4 .6-6.9 .6 1.9 .6 3.5 .6-5.6 .6 2 .6 5.3 .6 3.4 .6-3 .6 2.6 .6-3.5 .6-1.4 .6-.5 .6 10.7 .6-6.1 .6-3.2 .6-.1 .6 1.4 .6 2.8 .6-1.6 .6-3.5 .6 5.4 .6 1.9 .6-4.9 .6-.3 .6 7.6 .6-1.5 .6 3.2 .6-4.6 .6-1.7 .6 2.7 .6 2.9 .6 .5 .6-3.7 .6-3 .6 2.8 .6 .7 .6-4.8 .6 6.4 .6 .3 .6 2.9 .6-8.7 .6 1.3 .6 4.3 .6-1 .6 5.2 .6-1.2 .6-3.3 .6-1.8 .6 11.9 .6-14.8 .6 2.7 .6 7.2 .6-5.4 .6 2.9 .6 .8 .6-.5 .6 0 .6-2.5 .6-.3 .6-3.1 .6 4.5 .6 2.3 .6-3.7 .6-1.2 .6 1.5 .6-4.4 .6 5.9 .6 3.8 .6-7.2 .6-.2 .6 2.5 .6-.3 .6 4.3 .6-3.4 .6-1.4 .6 1.4 .6 4.6 .6-5.6 .6 3.7 .6-4.5 .6 .7 .6-1.9 .6 5.8 .6-4.1 .6-.7 .6 .6 .6-3.6 .6 8.1 .6-7 .6-.8 .6 3.6 .6 3.8 .6-3.6 .6-.5 .6-.5 .6-3.6 .6 1.6 .6 7.9 .6-9.5 .6 10.4 .6-4.1 .6 3.8 .6-8.1 .6 3.3 .6-6.1 .6 6.7 .6-3.3 .6-5.3 .6 6.8 .6-5.7 .6 3.3 .6 .8 .6 5.4 .6-5.1 .6-6.6 .6 6.8 .6-2 .6-3.6 .6 7.8 .6-2.8 .6-.1 .6 2.7 .6-4.4 .6-2.8 .6 2.8 .6 2.2 .6-.8 .6 7 .6-7.9 .6 5.4 .6-7.6 .6 6.9 .6-6.7 .6 5.9 .6-.2 .6 4.3 .6-7.5 .6 .1 .6-2.7 .6 7.1 .6 3 .6-9.4 .6 13.2 .6-5.8 .6-7.4 .6 3.9 .6 4.6 .6-4.1 .6-6.1 .6 5.7 .6 .8 .6-5.7 .6 6.5 .6-2.9 .6-4.2 .6 11.1 .6-3.4 .6-5.7 .6 3.1 .6-7.1 .6 7.1 .6-.8 .6 5.6 .6-1.4 .6-9.9 .6 8.3 .6-3.8 .6 1.8 .6-10.3 .6 14.9 .6-8.6 .6 1.9 .6 3.6 .6-3.1 .6-3.9 .6-8.8 .6 5.4 .6 2.2 .6 1.2 .6 5.8 .6-.5 .6-7.7 .6 7.4 .6-10.6 .6 1.8 .6-3.8 .6 3.8 .6 4.2 .6-8.4 .6 8 .6-4.3 .6 .4 .6 2 .6-3 .6-1.2 .6 3.2 .6-9.5 .6 7.1 .6-1 .6-4 .6 2.5 .6-1.4 .6-1.6 .6 6.6 .6-14.4 .6 10.5 .6 2.2 .6-9 .6-.8 .6 .1 .6 3.9 .6-.3 .6-4.7 .6 0 .6-5.5 .6 4.2 .6-3.2 .6 2.4 .6 7.8 .6-4.4 .6-11.8 .6 5.6 .6-5.1 .6 6.1 .6 .1 .6 2.4 .6-8.4 .6-2.3 .6 13 .6-6.2 .6 5.7 .6-4.6 .6 9.2 .6-.2 .6-10.7 .6 2.1 .6 2.1 .6-8.8 .6 13.2 .6-3.1 .6-8.2 .6 7.9 .6 3.7 .6-9.1 .6 7.3 .6 1.7 .6 5.9 .6 2.3 .6 1.3 .6-3.7 .6-3.9 .6-3.9 .6 12.5 .6-10.7 .6-7.5 .6-.1 .6 14.1 .6-22.6 .6 13.6 .6-2.1 .6-4.9 .6 19.9 .6-4.3 .6-3.3 .6-2.5" fill="none" stroke="#f83030" stroke-width="1.15" stroke-linejoin="round"/>
<path d="M240.2 486.8l.6-10.3 .6 9.1 .6-4.1 .6-1 .6 7.9 .6-10 .6 12.6 .6 7.3 .6-15.7 .6 7 .6 8.4 .6-5.6 .6-2.7 .6 3.1 .6-3.2 .6 8.1 .6-3.8 .6 2.8 .6 .2 .6-2.6 .6-2.7 .6 6.1 .6 1.2 .6-4.3 .6 2.5 .6 10.6 .6-8.2 .6 1.9 .6 2.2 .6-1.1 .6 .6 .6-9.7 .6 9.9 .6-.3 .6 6.2 .6-6.1 .6-3.5 .6 5.7 .6-4.1 .6 1.3 .6 1.5 .6-10.6 .6 14.2 .6-3.8 .6 6.5 .6-8.1 .6 6.5 .6 .1 .6-4.5 .6 6 .6-5.4 .6 11 .6-9.6 .6 6.7 .6 5.7 .6-11.3 .6-2 .6 5.6 .6-4.3 .6 3.6 .6 6.9 .6-8.7 .6 7.2 .6-4.2 .6 3.1 .6 4.9 .6-1.3 .6 3.2 .6-6 .6 7.2 .6-12.7 .6 7.1 .6 6.5 .6-6.8 .6 5.1 .6-9.6 .6 3.6 .6 5.7 .6-9.2 .6 1.4 .6 1.9 .6 6.4 .6-.7 .6-13 .6 15.8 .6-7.9 .6 .4 .6 5.6 .6 .9 .6 .8 .6-10.4 .6 7.7 .6-7.3 .6 1.2 .6 2.2 .6 1.6 .6 .6 .6-2.8 .6 3 .6 2.9 .6-3.9 .6-8.1 .6 1.5 .6 7.3 .6 4.2 .6-1.9 .6-1.5 .6-4.5 .6 .9 .6-4.6 .6-3 .6 6.8 .6-4.9 .6 2.1 .6 4.3 .6-1.5 .6 1.3 .6 3.5 .6-11.2 .6-.9 .6 1.4 .6 3.1 .6-1.9 .6-1 .6 .7 .6 2.1 .6-1.3 .6-.2 .6-3.6 .6-.6 .6 8.5 .6-14.4 .6 7.9 .6 4.7 .6 3.2 .6-7.5 .6-2.5 .6 7.3 .6-1.7 .6-8 .6 2.8 .6 .9 .6 .4 .6-5.6 .6 9.8 .6-3.1 .6 3.2 .6 2.4 .6 1.7 .6-3.5 .6 .9 .6-.5 .6-4.2 .6 4.6 .6 1.9 .6-1.2 .6 1.2 .6-.6 .6-5.1 .6 7 .6-1.4 .6 1.8 .6 2.2 .6-3.1 .6 .3 .6 2.2 .6-2.5 .6 3 .6-3 .6 6.2 .6-4.8 .6 1 .6 3 .6 1.3 .6 .8 .6 1.1 .6-1.9 .6-.2 .6-.5 .6-9.1 .6 8.4 .6 3.1 .6-9 .6 1.5 .6 6.2 .6-5.4 .6 1.7 .6-2.3 .6 5.2 .6-2.4 .6 1.4 .6 1.5 .6-2.2 .6-5.5 .6 6.5 .6 1.4 .6 .1 .6-4.8 .6 2.9 .6 4.2 .6-.2 .6-3.2 .6-4.5 .6-2.7 .6 1.2 .6 4.2 .6-2.2 .6-2.8 .6 5.7 .6 10.2 .6-18.8 .6 1.3 .6 2.1 .6-3.4 .6 1.6 .6 5 .6 1.9 .6-4.2 .6 2.5 .6-2.5 .6-5.2 .6 7.6 .6-5.1 .6-8.7 .6 7 .6 4.7 .6-7.1 .6 1 .6-6.1 .6 4.8 .6-8.9 .6 .1 .6-4.2 .6 4.2 .6-5.5 .6 12.6 .6-4.2 .6-7.1 .6 .1 .6 .8 .6-4.6 .6-1.2 .6-2.1 .6 7.5 .6-10.9 .6-.3 .6 2.3 .6 .4 .6-6.9 .6 1.9 .6-.8 .6-5.9 .6-4.4 .6 6.3 .6 1.2 .6-3.5 .6 1.5 .6 4.1 .6-10.5 .6 1.4 .6 6.4 .6-3 .6-.7 .6 4 .6-9.6 .6 3.7 .6 8.4 .6 3.8 .6-18.9 .6 22.8 .6-16.4 .6 3.1 .6-.2 .6 10.5 .6-3.7 .6 2.1 .6-9.6 .6 11.1 .6 13.3 .6-8.6 .6 .3 .6 2.6 .6 11.3 .6 .1 .6 7.1 .6-2.3 .6-3.6 .6-1.2 .6 13.9 .6-13.2 .6-4.2 .6-1.3 .6 17.9 .6-18 .6-12.1 .6-6.5 .6 9.4 .6-2 .6 8.6 .6-6.5 .6-1.7 .6-14.8 .6 33.5 .6-25.1 .6 2.3" fill="none" stroke="#f8103c" stroke-width="1.15" stroke-linejoin="round"/></g>
<rect x="240.2" y="378.2" width="183.2" height="158.6" fill="none" stroke="#000" stroke-width="1.3"/>
<text x="240.2" y="547.4" font-size="8.9" text-anchor="middle" font-weight="bold" fill="#000">450</text>
<line x1="255.5" y1="536.8" x2="255.5" y2="535.3" stroke="#000" stroke-width="1"/>
<line x1="270.7" y1="536.8" x2="270.7" y2="534.3" stroke="#000" stroke-width="1"/>
<text x="270.7" y="547.4" font-size="8.9" text-anchor="middle" font-weight="bold" fill="#000">500</text>
<line x1="286" y1="536.8" x2="286" y2="535.3" stroke="#000" stroke-width="1"/>
<line x1="301.3" y1="536.8" x2="301.3" y2="534.3" stroke="#000" stroke-width="1"/>
<text x="301.3" y="547.4" font-size="8.9" text-anchor="middle" font-weight="bold" fill="#000">550</text>
<line x1="316.5" y1="536.8" x2="316.5" y2="535.3" stroke="#000" stroke-width="1"/>
<line x1="331.8" y1="536.8" x2="331.8" y2="534.3" stroke="#000" stroke-width="1"/>
<text x="331.8" y="547.4" font-size="8.9" text-anchor="middle" font-weight="bold" fill="#000">600</text>
<line x1="347.1" y1="536.8" x2="347.1" y2="535.3" stroke="#000" stroke-width="1"/>
<line x1="362.3" y1="536.8" x2="362.3" y2="534.3" stroke="#000" stroke-width="1"/>
<text x="362.3" y="547.4" font-size="8.9" text-anchor="middle" font-weight="bold" fill="#000">650</text>
<line x1="377.6" y1="536.8" x2="377.6" y2="535.3" stroke="#000" stroke-width="1"/>
<line x1="392.9" y1="536.8" x2="392.9" y2="534.3" stroke="#000" stroke-width="1"/>
<text x="392.9" y="547.4" font-size="8.9" text-anchor="middle" font-weight="bold" fill="#000">700</text>
<line x1="408.1" y1="536.8" x2="408.1" y2="535.3" stroke="#000" stroke-width="1"/>
<text x="423.4" y="547.4" font-size="8.9" text-anchor="middle" font-weight="bold" fill="#000">750</text>
<text x="331.8" y="557.8" font-size="10.5" text-anchor="middle" font-weight="bold" fill="#000">Wavelength (nm)</text>
<line x1="240.2" y1="529" x2="242.7" y2="529" stroke="#000" stroke-width="1"/>
<text x="236.2" y="532.6" font-size="8.9" text-anchor="end" font-weight="bold" fill="#000">&#8722;6</text>
<line x1="240.2" y1="513.9" x2="241.7" y2="513.9" stroke="#000" stroke-width="1"/>
<line x1="240.2" y1="498.8" x2="242.7" y2="498.8" stroke="#000" stroke-width="1"/>
<text x="236.2" y="502.4" font-size="8.9" text-anchor="end" font-weight="bold" fill="#000">&#8722;4</text>
<line x1="240.2" y1="483.7" x2="241.7" y2="483.7" stroke="#000" stroke-width="1"/>
<line x1="240.2" y1="468.6" x2="242.7" y2="468.6" stroke="#000" stroke-width="1"/>
<text x="236.2" y="472.2" font-size="8.9" text-anchor="end" font-weight="bold" fill="#000">&#8722;2</text>
<line x1="240.2" y1="453.5" x2="241.7" y2="453.5" stroke="#000" stroke-width="1"/>
<line x1="240.2" y1="438.4" x2="242.7" y2="438.4" stroke="#000" stroke-width="1"/>
<text x="236.2" y="442" font-size="8.9" text-anchor="end" font-weight="bold" fill="#000">0</text>
<line x1="240.2" y1="423.3" x2="241.7" y2="423.3" stroke="#000" stroke-width="1"/>
<line x1="240.2" y1="408.2" x2="242.7" y2="408.2" stroke="#000" stroke-width="1"/>
<text x="236.2" y="411.8" font-size="8.9" text-anchor="end" font-weight="bold" fill="#000">2</text>
<line x1="240.2" y1="393.1" x2="241.7" y2="393.1" stroke="#000" stroke-width="1"/>
<text x="236.2" y="381.6" font-size="8.9" text-anchor="end" font-weight="bold" fill="#000">4</text>
<text x="0" y="0" font-size="10.5" text-anchor="middle" font-weight="bold" fill="#000" transform="translate(226.9 455.4) rotate(-90) scale(1 0.88)">&#916;A (mOD)</text>
<text x="244.7" y="396.4" font-size="19" text-anchor="start" font-weight="bold" fill="#000">f</text>
<line x1="310.2" y1="385.6" x2="329.5" y2="385.6" stroke="#5a8a6a" stroke-width="1.3"/>
<text x="332.2" y="388.7" font-size="8.6" text-anchor="start" font-weight="bold" fill="#000">0.5 ps</text>
<line x1="310.2" y1="396.5" x2="329.5" y2="396.5" stroke="#6a9a5a" stroke-width="1.3"/>
<text x="332.2" y="399.6" font-size="8.6" text-anchor="start" font-weight="bold" fill="#000">1 ps</text>
<line x1="310.2" y1="407.5" x2="329.5" y2="407.5" stroke="#a0b060" stroke-width="1.3"/>
<text x="332.2" y="410.6" font-size="8.6" text-anchor="start" font-weight="bold" fill="#000">5 ps</text>
<line x1="310.2" y1="418.4" x2="329.5" y2="418.4" stroke="#d0c050" stroke-width="1.3"/>
<text x="332.2" y="421.5" font-size="8.6" text-anchor="start" font-weight="bold" fill="#000">10 ps</text>
<line x1="310.2" y1="429.4" x2="329.5" y2="429.4" stroke="#f0c040" stroke-width="1.3"/>
<text x="332.2" y="432.5" font-size="8.6" text-anchor="start" font-weight="bold" fill="#000">50 ps</text>
<line x1="359.9" y1="385.6" x2="379.2" y2="385.6" stroke="#f8d090" stroke-width="1.3"/>
<text x="382.3" y="388.7" font-size="8.6" text-anchor="start" font-weight="bold" fill="#000">100 ps</text>
<line x1="359.9" y1="396.5" x2="379.2" y2="396.5" stroke="#f8a060" stroke-width="1.3"/>
<text x="382.3" y="399.6" font-size="8.6" text-anchor="start" font-weight="bold" fill="#000">200 ps</text>
<line x1="359.9" y1="407.5" x2="379.2" y2="407.5" stroke="#f88060" stroke-width="1.3"/>
<text x="382.3" y="410.6" font-size="8.6" text-anchor="start" font-weight="bold" fill="#000">500 ps</text>
<line x1="359.9" y1="418.4" x2="379.2" y2="418.4" stroke="#f84040" stroke-width="1.3"/>
<text x="382.3" y="421.5" font-size="8.6" text-anchor="start" font-weight="bold" fill="#000">1 ns</text>
<line x1="359.9" y1="429.4" x2="379.2" y2="429.4" stroke="#f82050" stroke-width="1.3"/>
<text x="382.3" y="432.5" font-size="8.6" text-anchor="start" font-weight="bold" fill="#000">3 ns</text>
<clipPath id="clipg"><rect x="474.3" y="3.5" width="199.7" height="164.0"/></clipPath>
<g clip-path="url(#clipg)"><path d="M485.3 73.5h3.4v3.4h-3.4zM486.0 71.2h3.4v3.4h-3.4zM486.6 79.5h3.4v3.4h-3.4zM487.3 73.3h3.4v3.4h-3.4zM488.0 70.0h3.4v3.4h-3.4zM488.6 76.0h3.4v3.4h-3.4zM489.3 82.8h3.4v3.4h-3.4zM489.9 77.4h3.4v3.4h-3.4zM490.6 83.8h3.4v3.4h-3.4zM491.2 88.7h3.4v3.4h-3.4zM491.9 82.9h3.4v3.4h-3.4zM492.6 96.4h3.4v3.4h-3.4zM493.2 89.6h3.4v3.4h-3.4zM493.9 87.5h3.4v3.4h-3.4zM494.5 86.6h3.4v3.4h-3.4zM495.2 80.9h3.4v3.4h-3.4zM495.9 85.3h3.4v3.4h-3.4zM496.5 93.9h3.4v3.4h-3.4zM497.2 86.8h3.4v3.4h-3.4zM497.8 97.2h3.4v3.4h-3.4zM498.5 98.8h3.4v3.4h-3.4zM499.2 99.4h3.4v3.4h-3.4zM499.8 87.9h3.4v3.4h-3.4zM500.5 91.9h3.4v3.4h-3.4zM501.1 94.6h3.4v3.4h-3.4zM501.8 108.2h3.4v3.4h-3.4zM502.5 100.8h3.4v3.4h-3.4zM503.1 99.3h3.4v3.4h-3.4zM503.8 105.7h3.4v3.4h-3.4zM504.4 107.4h3.4v3.4h-3.4zM505.1 98.4h3.4v3.4h-3.4zM505.8 99.8h3.4v3.4h-3.4zM506.4 94.3h3.4v3.4h-3.4zM507.1 99.9h3.4v3.4h-3.4zM507.7 105.8h3.4v3.4h-3.4zM508.4 99.2h3.4v3.4h-3.4zM509.1 103.6h3.4v3.4h-3.4zM509.7 128.5h3.4v3.4h-3.4zM510.4 106.6h3.4v3.4h-3.4zM511.0 97.7h3.4v3.4h-3.4zM511.7 112.3h3.4v3.4h-3.4zM512.3 101.3h3.4v3.4h-3.4zM513.0 114.6h3.4v3.4h-3.4zM513.7 112.1h3.4v3.4h-3.4zM514.3 109.5h3.4v3.4h-3.4zM515.0 125.0h3.4v3.4h-3.4zM515.6 115.3h3.4v3.4h-3.4zM516.3 114.3h3.4v3.4h-3.4zM517.0 86.3h3.4v3.4h-3.4zM517.6 114.0h3.4v3.4h-3.4zM518.3 97.9h3.4v3.4h-3.4zM518.9 114.0h3.4v3.4h-3.4zM519.2 120.0h3.4v3.4h-3.4zM520.6 118.5h3.4v3.4h-3.4zM522.1 102.9h3.4v3.4h-3.4zM523.5 120.9h3.4v3.4h-3.4zM524.9 123.4h3.4v3.4h-3.4zM526.3 123.6h3.4v3.4h-3.4zM527.7 110.6h3.4v3.4h-3.4zM529.1 123.4h3.4v3.4h-3.4zM530.5 126.9h3.4v3.4h-3.4zM531.9 129.8h3.4v3.4h-3.4zM533.4 125.0h3.4v3.4h-3.4zM534.8 127.1h3.4v3.4h-3.4zM536.2 126.3h3.4v3.4h-3.4zM537.6 120.7h3.4v3.4h-3.4zM539.0 130.7h3.4v3.4h-3.4zM540.4 117.0h3.4v3.4h-3.4zM541.8 118.6h3.4v3.4h-3.4zM543.2 133.5h3.4v3.4h-3.4zM544.7 127.1h3.4v3.4h-3.4zM546.1 127.2h3.4v3.4h-3.4zM547.5 129.7h3.4v3.4h-3.4zM548.9 132.0h3.4v3.4h-3.4zM550.3 131.0h3.4v3.4h-3.4zM551.7 128.8h3.4v3.4h-3.4zM553.1 130.9h3.4v3.4h-3.4zM554.5 132.5h3.4v3.4h-3.4zM557.6 134.7h3.4v3.4h-3.4zM560.7 132.6h3.4v3.4h-3.4zM563.7 132.3h3.4v3.4h-3.4zM566.8 131.3h3.4v3.4h-3.4zM569.9 140.7h3.4v3.4h-3.4zM572.9 140.3h3.4v3.4h-3.4zM576.0 140.9h3.4v3.4h-3.4zM579.0 142.9h3.4v3.4h-3.4zM582.1 138.5h3.4v3.4h-3.4zM585.2 162.3h3.4v3.4h-3.4zM588.2 137.0h3.4v3.4h-3.4zM591.3 138.2h3.4v3.4h-3.4zM594.3 137.8h3.4v3.4h-3.4zM597.4 135.5h3.4v3.4h-3.4zM600.5 133.0h3.4v3.4h-3.4zM603.5 146.2h3.4v3.4h-3.4zM606.6 144.1h3.4v3.4h-3.4zM609.7 130.4h3.4v3.4h-3.4zM612.7 144.6h3.4v3.4h-3.4zM615.8 144.4h3.4v3.4h-3.4zM618.8 141.7h3.4v3.4h-3.4zM621.9 141.3h3.4v3.4h-3.4zM625.0 146.2h3.4v3.4h-3.4zM628.0 142.8h3.4v3.4h-3.4zM631.1 133.7h3.4v3.4h-3.4zM634.1 155.3h3.4v3.4h-3.4zM637.2 142.1h3.4v3.4h-3.4zM640.3 139.8h3.4v3.4h-3.4zM643.3 147.8h3.4v3.4h-3.4zM646.4 139.5h3.4v3.4h-3.4zM649.5 144.5h3.4v3.4h-3.4zM652.5 145.3h3.4v3.4h-3.4zM655.6 134.1h3.4v3.4h-3.4zM658.6 132.8h3.4v3.4h-3.4zM661.7 137.9h3.4v3.4h-3.4zM664.8 131.9h3.4v3.4h-3.4zM667.8 147.0h3.4v3.4h-3.4zM670.9 136.9h3.4v3.4h-3.4zM483.7 149.0h3.4v3.4h-3.4zM484.1 146.2h3.4v3.4h-3.4zM483.7 143.5h3.4v3.4h-3.4zM484.1 140.8h3.4v3.4h-3.4zM483.9 138.0h3.4v3.4h-3.4zM483.9 135.2h3.4v3.4h-3.4zM484.3 132.5h3.4v3.4h-3.4zM483.6 129.8h3.4v3.4h-3.4z" fill="#8a8a8a" stroke="#707070" stroke-width="0.4"/>
<path d="M487.0 79.5l2.4 4.1h-4.8zM487.7 77.5l2.4 4.1h-4.8zM488.3 79.6l2.4 4.1h-4.8zM489.0 75.0l2.4 4.1h-4.8zM489.7 80.2l2.4 4.1h-4.8zM490.3 74.8l2.4 4.1h-4.8zM491.0 79.5l2.4 4.1h-4.8zM491.6 86.2l2.4 4.1h-4.8zM492.3 76.2l2.4 4.1h-4.8zM492.9 84.8l2.4 4.1h-4.8zM493.6 86.5l2.4 4.1h-4.8zM494.3 100.3l2.4 4.1h-4.8zM494.9 80.6l2.4 4.1h-4.8zM495.6 93.8l2.4 4.1h-4.8zM496.2 98.4l2.4 4.1h-4.8zM496.9 87.2l2.4 4.1h-4.8zM497.6 95.1l2.4 4.1h-4.8zM498.2 105.7l2.4 4.1h-4.8zM498.9 96.5l2.4 4.1h-4.8zM499.5 85.2l2.4 4.1h-4.8zM500.2 92.1l2.4 4.1h-4.8zM500.9 96.9l2.4 4.1h-4.8zM501.5 94.5l2.4 4.1h-4.8zM502.2 91.5l2.4 4.1h-4.8zM502.8 99.0l2.4 4.1h-4.8zM503.5 85.4l2.4 4.1h-4.8zM504.2 109.0l2.4 4.1h-4.8zM504.8 101.7l2.4 4.1h-4.8zM505.5 99.4l2.4 4.1h-4.8zM506.1 95.4l2.4 4.1h-4.8zM506.8 99.2l2.4 4.1h-4.8zM507.5 99.2l2.4 4.1h-4.8zM508.1 99.0l2.4 4.1h-4.8zM508.8 96.5l2.4 4.1h-4.8zM509.4 107.2l2.4 4.1h-4.8zM510.1 105.8l2.4 4.1h-4.8zM510.8 95.0l2.4 4.1h-4.8zM511.4 101.9l2.4 4.1h-4.8zM512.1 100.4l2.4 4.1h-4.8zM512.7 103.9l2.4 4.1h-4.8zM513.4 107.0l2.4 4.1h-4.8zM514.0 99.7l2.4 4.1h-4.8zM514.7 101.0l2.4 4.1h-4.8zM515.4 116.9l2.4 4.1h-4.8zM516.0 109.0l2.4 4.1h-4.8zM516.7 107.7l2.4 4.1h-4.8zM517.3 107.3l2.4 4.1h-4.8zM518.0 108.2l2.4 4.1h-4.8zM518.7 110.6l2.4 4.1h-4.8zM519.3 110.7l2.4 4.1h-4.8zM520.0 109.0l2.4 4.1h-4.8zM520.6 114.0l2.4 4.1h-4.8zM520.9 112.2l2.4 4.1h-4.8zM522.3 111.1l2.4 4.1h-4.8zM523.8 116.8l2.4 4.1h-4.8zM525.2 113.5l2.4 4.1h-4.8zM526.6 120.8l2.4 4.1h-4.8zM528.0 116.7l2.4 4.1h-4.8zM529.4 127.1l2.4 4.1h-4.8zM530.8 120.1l2.4 4.1h-4.8zM532.2 120.7l2.4 4.1h-4.8zM533.6 112.7l2.4 4.1h-4.8zM535.1 118.2l2.4 4.1h-4.8zM536.5 123.9l2.4 4.1h-4.8zM537.9 122.3l2.4 4.1h-4.8zM539.3 122.2l2.4 4.1h-4.8zM540.7 119.4l2.4 4.1h-4.8zM542.1 125.5l2.4 4.1h-4.8zM543.5 119.6l2.4 4.1h-4.8zM544.9 121.8l2.4 4.1h-4.8zM546.4 126.6l2.4 4.1h-4.8zM547.8 121.4l2.4 4.1h-4.8zM549.2 132.2l2.4 4.1h-4.8zM550.6 132.3l2.4 4.1h-4.8zM552.0 131.9l2.4 4.1h-4.8zM553.4 126.8l2.4 4.1h-4.8zM554.8 134.7l2.4 4.1h-4.8zM556.2 118.9l2.4 4.1h-4.8zM559.3 121.2l2.4 4.1h-4.8zM562.4 131.8l2.4 4.1h-4.8zM565.4 136.6l2.4 4.1h-4.8zM568.5 129.1l2.4 4.1h-4.8zM571.6 132.9l2.4 4.1h-4.8zM574.6 133.8l2.4 4.1h-4.8zM577.7 140.1l2.4 4.1h-4.8zM580.7 132.8l2.4 4.1h-4.8zM583.8 128.1l2.4 4.1h-4.8zM586.9 137.4l2.4 4.1h-4.8zM589.9 136.2l2.4 4.1h-4.8zM593.0 128.4l2.4 4.1h-4.8zM596.0 136.2l2.4 4.1h-4.8zM599.1 143.7l2.4 4.1h-4.8zM602.2 140.5l2.4 4.1h-4.8zM605.2 133.2l2.4 4.1h-4.8zM608.3 131.8l2.4 4.1h-4.8zM611.4 129.8l2.4 4.1h-4.8zM614.4 134.0l2.4 4.1h-4.8zM617.5 143.7l2.4 4.1h-4.8zM620.5 132.1l2.4 4.1h-4.8zM623.6 134.2l2.4 4.1h-4.8zM626.7 137.3l2.4 4.1h-4.8zM629.7 143.1l2.4 4.1h-4.8zM632.8 139.7l2.4 4.1h-4.8zM635.8 138.5l2.4 4.1h-4.8zM638.9 136.8l2.4 4.1h-4.8zM642.0 131.1l2.4 4.1h-4.8zM645.0 140.9l2.4 4.1h-4.8zM648.1 133.4l2.4 4.1h-4.8zM651.2 140.2l2.4 4.1h-4.8zM654.2 133.7l2.4 4.1h-4.8zM657.3 140.1l2.4 4.1h-4.8zM660.3 143.1l2.4 4.1h-4.8zM663.4 140.1l2.4 4.1h-4.8zM666.5 142.1l2.4 4.1h-4.8zM669.5 135.6l2.4 4.1h-4.8zM672.6 134.6l2.4 4.1h-4.8zM485.9 148.3l2.4 4.1h-4.8zM485.6 146.5l2.4 4.1h-4.8zM485.9 144.6l2.4 4.1h-4.8zM485.5 142.8l2.4 4.1h-4.8zM485.7 141.0l2.4 4.1h-4.8zM485.8 139.1l2.4 4.1h-4.8zM485.7 137.3l2.4 4.1h-4.8zM485.7 135.5l2.4 4.1h-4.8zM485.9 133.6l2.4 4.1h-4.8zM485.3 131.8l2.4 4.1h-4.8zM485.3 130.0l2.4 4.1h-4.8zM485.6 128.1l2.4 4.1h-4.8zM485.9 126.3l2.4 4.1h-4.8zM485.7 124.5l2.4 4.1h-4.8zM485.5 122.6l2.4 4.1h-4.8zM485.3 120.8l2.4 4.1h-4.8zM485.6 119.0l2.4 4.1h-4.8zM485.6 117.1l2.4 4.1h-4.8zM485.6 115.3l2.4 4.1h-4.8zM485.7 113.5l2.4 4.1h-4.8zM485.4 111.6l2.4 4.1h-4.8zM485.9 109.8l2.4 4.1h-4.8zM485.6 15.5l2.4 4.1h-4.8zM485.6 23.2l2.4 4.1h-4.8z" fill="#2a9ad8" stroke="#1a3050" stroke-width="0.5"/>
<path d="M487.0 66.6l2.3 2.3l-2.3 2.3l-2.3 -2.3zM487.7 67.1l2.3 2.3l-2.3 2.3l-2.3 -2.3zM488.3 62.7l2.3 2.3l-2.3 2.3l-2.3 -2.3zM489.0 60.4l2.3 2.3l-2.3 2.3l-2.3 -2.3zM489.7 68.1l2.3 2.3l-2.3 2.3l-2.3 -2.3zM490.3 72.2l2.3 2.3l-2.3 2.3l-2.3 -2.3zM491.0 62.9l2.3 2.3l-2.3 2.3l-2.3 -2.3zM491.6 63.4l2.3 2.3l-2.3 2.3l-2.3 -2.3zM492.3 69.6l2.3 2.3l-2.3 2.3l-2.3 -2.3zM492.9 71.0l2.3 2.3l-2.3 2.3l-2.3 -2.3zM493.6 64.5l2.3 2.3l-2.3 2.3l-2.3 -2.3zM494.3 73.4l2.3 2.3l-2.3 2.3l-2.3 -2.3zM494.9 67.9l2.3 2.3l-2.3 2.3l-2.3 -2.3zM495.6 69.8l2.3 2.3l-2.3 2.3l-2.3 -2.3zM496.2 70.7l2.3 2.3l-2.3 2.3l-2.3 -2.3zM496.9 77.1l2.3 2.3l-2.3 2.3l-2.3 -2.3zM497.6 78.0l2.3 2.3l-2.3 2.3l-2.3 -2.3zM498.2 81.0l2.3 2.3l-2.3 2.3l-2.3 -2.3zM498.9 79.6l2.3 2.3l-2.3 2.3l-2.3 -2.3zM499.5 60.1l2.3 2.3l-2.3 2.3l-2.3 -2.3zM500.2 77.0l2.3 2.3l-2.3 2.3l-2.3 -2.3zM500.9 81.3l2.3 2.3l-2.3 2.3l-2.3 -2.3zM501.5 82.6l2.3 2.3l-2.3 2.3l-2.3 -2.3zM502.2 75.8l2.3 2.3l-2.3 2.3l-2.3 -2.3zM502.8 80.8l2.3 2.3l-2.3 2.3l-2.3 -2.3zM503.5 75.2l2.3 2.3l-2.3 2.3l-2.3 -2.3zM504.2 75.6l2.3 2.3l-2.3 2.3l-2.3 -2.3zM504.8 88.0l2.3 2.3l-2.3 2.3l-2.3 -2.3zM505.5 79.3l2.3 2.3l-2.3 2.3l-2.3 -2.3zM506.1 83.3l2.3 2.3l-2.3 2.3l-2.3 -2.3zM506.8 83.4l2.3 2.3l-2.3 2.3l-2.3 -2.3zM507.5 75.6l2.3 2.3l-2.3 2.3l-2.3 -2.3zM508.1 90.2l2.3 2.3l-2.3 2.3l-2.3 -2.3zM508.8 76.7l2.3 2.3l-2.3 2.3l-2.3 -2.3zM509.4 87.6l2.3 2.3l-2.3 2.3l-2.3 -2.3zM510.1 85.2l2.3 2.3l-2.3 2.3l-2.3 -2.3zM510.8 84.0l2.3 2.3l-2.3 2.3l-2.3 -2.3zM511.4 79.0l2.3 2.3l-2.3 2.3l-2.3 -2.3zM512.1 82.1l2.3 2.3l-2.3 2.3l-2.3 -2.3zM512.7 93.0l2.3 2.3l-2.3 2.3l-2.3 -2.3zM513.4 90.7l2.3 2.3l-2.3 2.3l-2.3 -2.3zM514.0 91.7l2.3 2.3l-2.3 2.3l-2.3 -2.3zM514.7 93.0l2.3 2.3l-2.3 2.3l-2.3 -2.3zM515.4 92.3l2.3 2.3l-2.3 2.3l-2.3 -2.3zM516.0 89.2l2.3 2.3l-2.3 2.3l-2.3 -2.3zM516.7 94.8l2.3 2.3l-2.3 2.3l-2.3 -2.3zM517.3 90.1l2.3 2.3l-2.3 2.3l-2.3 -2.3zM518.0 87.6l2.3 2.3l-2.3 2.3l-2.3 -2.3zM518.7 89.0l2.3 2.3l-2.3 2.3l-2.3 -2.3zM519.3 88.4l2.3 2.3l-2.3 2.3l-2.3 -2.3zM520.0 93.5l2.3 2.3l-2.3 2.3l-2.3 -2.3zM520.6 92.9l2.3 2.3l-2.3 2.3l-2.3 -2.3zM520.9 90.0l2.3 2.3l-2.3 2.3l-2.3 -2.3zM522.3 100.9l2.3 2.3l-2.3 2.3l-2.3 -2.3zM523.8 97.8l2.3 2.3l-2.3 2.3l-2.3 -2.3zM525.2 83.2l2.3 2.3l-2.3 2.3l-2.3 -2.3zM526.6 89.1l2.3 2.3l-2.3 2.3l-2.3 -2.3zM528.0 88.0l2.3 2.3l-2.3 2.3l-2.3 -2.3zM529.4 105.3l2.3 2.3l-2.3 2.3l-2.3 -2.3zM530.8 95.4l2.3 2.3l-2.3 2.3l-2.3 -2.3zM532.2 92.0l2.3 2.3l-2.3 2.3l-2.3 -2.3zM533.6 92.6l2.3 2.3l-2.3 2.3l-2.3 -2.3zM535.1 101.2l2.3 2.3l-2.3 2.3l-2.3 -2.3zM536.5 94.9l2.3 2.3l-2.3 2.3l-2.3 -2.3zM537.9 89.9l2.3 2.3l-2.3 2.3l-2.3 -2.3zM539.3 99.1l2.3 2.3l-2.3 2.3l-2.3 -2.3zM540.7 103.8l2.3 2.3l-2.3 2.3l-2.3 -2.3zM542.1 111.2l2.3 2.3l-2.3 2.3l-2.3 -2.3zM543.5 98.1l2.3 2.3l-2.3 2.3l-2.3 -2.3zM544.9 94.2l2.3 2.3l-2.3 2.3l-2.3 -2.3zM546.4 106.7l2.3 2.3l-2.3 2.3l-2.3 -2.3zM547.8 95.2l2.3 2.3l-2.3 2.3l-2.3 -2.3zM549.2 106.5l2.3 2.3l-2.3 2.3l-2.3 -2.3zM550.6 106.0l2.3 2.3l-2.3 2.3l-2.3 -2.3zM552.0 96.9l2.3 2.3l-2.3 2.3l-2.3 -2.3zM553.4 103.2l2.3 2.3l-2.3 2.3l-2.3 -2.3zM554.8 104.4l2.3 2.3l-2.3 2.3l-2.3 -2.3zM556.2 100.8l2.3 2.3l-2.3 2.3l-2.3 -2.3zM559.3 104.8l2.3 2.3l-2.3 2.3l-2.3 -2.3zM562.4 104.1l2.3 2.3l-2.3 2.3l-2.3 -2.3zM565.4 97.8l2.3 2.3l-2.3 2.3l-2.3 -2.3zM568.5 111.7l2.3 2.3l-2.3 2.3l-2.3 -2.3zM571.6 109.2l2.3 2.3l-2.3 2.3l-2.3 -2.3zM574.6 108.6l2.3 2.3l-2.3 2.3l-2.3 -2.3zM577.7 110.9l2.3 2.3l-2.3 2.3l-2.3 -2.3zM580.7 104.1l2.3 2.3l-2.3 2.3l-2.3 -2.3zM583.8 111.8l2.3 2.3l-2.3 2.3l-2.3 -2.3zM586.9 112.1l2.3 2.3l-2.3 2.3l-2.3 -2.3zM589.9 104.5l2.3 2.3l-2.3 2.3l-2.3 -2.3zM593.0 116.4l2.3 2.3l-2.3 2.3l-2.3 -2.3zM596.0 108.7l2.3 2.3l-2.3 2.3l-2.3 -2.3zM599.1 106.9l2.3 2.3l-2.3 2.3l-2.3 -2.3zM602.2 106.2l2.3 2.3l-2.3 2.3l-2.3 -2.3zM605.2 114.8l2.3 2.3l-2.3 2.3l-2.3 -2.3zM608.3 114.1l2.3 2.3l-2.3 2.3l-2.3 -2.3zM611.4 116.0l2.3 2.3l-2.3 2.3l-2.3 -2.3zM614.4 111.8l2.3 2.3l-2.3 2.3l-2.3 -2.3zM617.5 113.1l2.3 2.3l-2.3 2.3l-2.3 -2.3zM620.5 118.6l2.3 2.3l-2.3 2.3l-2.3 -2.3zM623.6 120.7l2.3 2.3l-2.3 2.3l-2.3 -2.3zM626.7 115.9l2.3 2.3l-2.3 2.3l-2.3 -2.3zM629.7 111.3l2.3 2.3l-2.3 2.3l-2.3 -2.3zM632.8 117.0l2.3 2.3l-2.3 2.3l-2.3 -2.3zM635.8 109.1l2.3 2.3l-2.3 2.3l-2.3 -2.3zM638.9 112.3l2.3 2.3l-2.3 2.3l-2.3 -2.3zM642.0 114.5l2.3 2.3l-2.3 2.3l-2.3 -2.3zM645.0 121.3l2.3 2.3l-2.3 2.3l-2.3 -2.3zM648.1 116.9l2.3 2.3l-2.3 2.3l-2.3 -2.3zM651.2 108.0l2.3 2.3l-2.3 2.3l-2.3 -2.3zM654.2 113.5l2.3 2.3l-2.3 2.3l-2.3 -2.3zM657.3 120.4l2.3 2.3l-2.3 2.3l-2.3 -2.3zM660.3 108.8l2.3 2.3l-2.3 2.3l-2.3 -2.3zM663.4 108.1l2.3 2.3l-2.3 2.3l-2.3 -2.3zM666.5 117.1l2.3 2.3l-2.3 2.3l-2.3 -2.3zM669.5 114.0l2.3 2.3l-2.3 2.3l-2.3 -2.3zM672.6 117.2l2.3 2.3l-2.3 2.3l-2.3 -2.3zM485.4 123.4l2.3 2.3l-2.3 2.3l-2.3 -2.3zM485.5 121.8l2.3 2.3l-2.3 2.3l-2.3 -2.3zM485.6 120.1l2.3 2.3l-2.3 2.3l-2.3 -2.3zM485.6 118.5l2.3 2.3l-2.3 2.3l-2.3 -2.3zM485.4 116.9l2.3 2.3l-2.3 2.3l-2.3 -2.3zM485.8 115.3l2.3 2.3l-2.3 2.3l-2.3 -2.3zM485.5 113.7l2.3 2.3l-2.3 2.3l-2.3 -2.3zM485.7 112.1l2.3 2.3l-2.3 2.3l-2.3 -2.3zM485.5 110.5l2.3 2.3l-2.3 2.3l-2.3 -2.3zM485.6 108.8l2.3 2.3l-2.3 2.3l-2.3 -2.3zM485.5 107.2l2.3 2.3l-2.3 2.3l-2.3 -2.3zM485.5 105.6l2.3 2.3l-2.3 2.3l-2.3 -2.3zM485.6 104.0l2.3 2.3l-2.3 2.3l-2.3 -2.3zM485.6 102.4l2.3 2.3l-2.3 2.3l-2.3 -2.3zM485.6 100.8l2.3 2.3l-2.3 2.3l-2.3 -2.3zM485.7 99.1l2.3 2.3l-2.3 2.3l-2.3 -2.3zM485.5 97.5l2.3 2.3l-2.3 2.3l-2.3 -2.3zM485.4 95.9l2.3 2.3l-2.3 2.3l-2.3 -2.3zM485.5 94.3l2.3 2.3l-2.3 2.3l-2.3 -2.3zM485.5 92.7l2.3 2.3l-2.3 2.3l-2.3 -2.3zM485.7 91.1l2.3 2.3l-2.3 2.3l-2.3 -2.3zM485.6 89.5l2.3 2.3l-2.3 2.3l-2.3 -2.3zM485.5 87.8l2.3 2.3l-2.3 2.3l-2.3 -2.3zM485.4 86.2l2.3 2.3l-2.3 2.3l-2.3 -2.3zM485.6 84.6l2.3 2.3l-2.3 2.3l-2.3 -2.3zM485.4 83.0l2.3 2.3l-2.3 2.3l-2.3 -2.3zM485.6 81.4l2.3 2.3l-2.3 2.3l-2.3 -2.3zM485.7 79.8l2.3 2.3l-2.3 2.3l-2.3 -2.3zM485.7 78.2l2.3 2.3l-2.3 2.3l-2.3 -2.3zM485.4 76.5l2.3 2.3l-2.3 2.3l-2.3 -2.3zM485.5 74.9l2.3 2.3l-2.3 2.3l-2.3 -2.3zM485.8 73.3l2.3 2.3l-2.3 2.3l-2.3 -2.3zM485.4 71.7l2.3 2.3l-2.3 2.3l-2.3 -2.3zM485.7 70.1l2.3 2.3l-2.3 2.3l-2.3 -2.3zM485.6 68.5l2.3 2.3l-2.3 2.3l-2.3 -2.3zM485.7 66.8l2.3 2.3l-2.3 2.3l-2.3 -2.3zM485.5 65.2l2.3 2.3l-2.3 2.3l-2.3 -2.3zM485.4 63.6l2.3 2.3l-2.3 2.3l-2.3 -2.3zM485.6 62.0l2.3 2.3l-2.3 2.3l-2.3 -2.3zM485.4 60.4l2.3 2.3l-2.3 2.3l-2.3 -2.3zM485.8 58.8l2.3 2.3l-2.3 2.3l-2.3 -2.3zM485.7 57.2l2.3 2.3l-2.3 2.3l-2.3 -2.3zM485.5 55.5l2.3 2.3l-2.3 2.3l-2.3 -2.3zM485.6 53.9l2.3 2.3l-2.3 2.3l-2.3 -2.3zM485.6 52.3l2.3 2.3l-2.3 2.3l-2.3 -2.3zM485.8 50.7l2.3 2.3l-2.3 2.3l-2.3 -2.3zM485.4 49.1l2.3 2.3l-2.3 2.3l-2.3 -2.3zM485.5 47.5l2.3 2.3l-2.3 2.3l-2.3 -2.3zM485.6 45.9l2.3 2.3l-2.3 2.3l-2.3 -2.3zM485.7 44.2l2.3 2.3l-2.3 2.3l-2.3 -2.3zM485.7 42.6l2.3 2.3l-2.3 2.3l-2.3 -2.3zM485.6 41.0l2.3 2.3l-2.3 2.3l-2.3 -2.3zM485.4 39.4l2.3 2.3l-2.3 2.3l-2.3 -2.3zM485.7 37.8l2.3 2.3l-2.3 2.3l-2.3 -2.3zM485.6 36.2l2.3 2.3l-2.3 2.3l-2.3 -2.3zM485.4 34.5l2.3 2.3l-2.3 2.3l-2.3 -2.3zM485.7 32.9l2.3 2.3l-2.3 2.3l-2.3 -2.3zM485.6 31.3l2.3 2.3l-2.3 2.3l-2.3 -2.3zM485.5 29.7l2.3 2.3l-2.3 2.3l-2.3 -2.3zM485.5 28.1l2.3 2.3l-2.3 2.3l-2.3 -2.3z" fill="#e07878" stroke="#6a2828" stroke-width="0.6"/>
<path d="M485.6 72.7l1.6 3 1.6 2.9 1.5 2.8 1.6 2.7 1.6 2.5 1.6 2.4 1.6 2.4 1.6 2.2 1.5 2.2 1.6 2 1.6 2 1.6 1.9 1.6 1.8 1.6 1.8 1.5 1.6 1.6 1.6 1.6 1.6 1.6 1.5 1.6 1.4 1.6 1.3 1.5 1.3 1.6 1.3 1.6 1.2 1.6 1.1 1.6 1.1 1.6 1.1 1.5 1 1.6 .9 1.6 1 1.6 .8 1.6 .9 1.6 .8 1.5 .8 1.6 .8 1.6 .7 1.6 .7 1.6 .6 1.6 .7 1.5 .6 1.6 .6 1.6 .5 1.6 .6 1.6 .5 1.6 .5 1.5 .4 1.6 .5 1.6 .4 1.6 .5 1.6 .4 1.6 .3 1.5 .4 1.6 .4 1.6 .3 1.6 .3 1.6 .3 1.6 .3 1.5 .3 1.6 .3 1.6 .3 1.6 .2 1.6 .2 1.6 .3 1.5 .2 1.6 .2 1.6 .2 1.6 .2 1.6 .2 1.6 .2 1.5 .2 1.6 .1 1.6 .2 1.6 .1 1.6 .2 1.6 .1 1.5 .2 1.6 .1 1.6 .1 1.6 .1 1.6 .1 1.6 .2 1.5 .1 1.6 .1 1.6 .1 1.6 0 1.6 .1 1.6 .1 1.5 .1 1.6 .1 1.6 0 1.6 .1 1.6 .1 1.6 .1 1.5 0 1.6 .1 1.6 0 1.6 .1 1.6 0 1.6 .1 1.5 0 1.6 .1 1.6 0 1.6 .1 1.6 0 1.6 .1 1.5 0 1.6 0 1.6 .1 1.6 0 1.6 0 1.6 .1 1.5 0 1.6 0 1.6 .1 1.6 0 1.6 0 1.6 0 1.5 .1 1.6 0 1.6 0" fill="none" stroke="#404040" stroke-width="1.4" stroke-linejoin="round"/>
<path d="M485.6 74.7l1.6 2.6 1.6 2.5 1.5 2.4 1.6 2.3 1.6 2.2 1.6 2.2 1.6 2.1 1.6 1.9 1.5 1.9 1.6 1.9 1.6 1.7 1.6 1.7 1.6 1.6 1.6 1.6 1.5 1.5 1.6 1.5 1.6 1.3 1.6 1.4 1.6 1.3 1.6 1.2 1.5 1.2 1.6 1.1 1.6 1.1 1.6 1.1 1.6 1 1.6 .9 1.5 1 1.6 .9 1.6 .8 1.6 .9 1.6 .8 1.6 .7 1.5 .8 1.6 .7 1.6 .7 1.6 .6 1.6 .6 1.6 .6 1.5 .6 1.6 .6 1.6 .5 1.6 .5 1.6 .5 1.6 .5 1.5 .5 1.6 .4 1.6 .4 1.6 .4 1.6 .4 1.6 .4 1.5 .4 1.6 .3 1.6 .4 1.6 .3 1.6 .3 1.6 .3 1.5 .3 1.6 .2 1.6 .3 1.6 .3 1.6 .2 1.6 .2 1.5 .3 1.6 .2 1.6 .2 1.6 .2 1.6 .2 1.6 .2 1.5 .1 1.6 .2 1.6 .2 1.6 .1 1.6 .2 1.6 .1 1.5 .2 1.6 .1 1.6 .1 1.6 .2 1.6 .1 1.6 .1 1.5 .1 1.6 .1 1.6 .1 1.6 .1 1.6 .1 1.6 .1 1.5 .1 1.6 .1 1.6 0 1.6 .1 1.6 .1 1.6 .1 1.5 0 1.6 .1 1.6 .1 1.6 0 1.6 .1 1.6 0 1.5 .1 1.6 0 1.6 .1 1.6 0 1.6 .1 1.6 0 1.5 .1 1.6 0 1.6 .1 1.6 0 1.6 0 1.6 .1 1.5 0 1.6 0 1.6 .1 1.6 0 1.6 0 1.6 .1 1.5 0 1.6 0 1.6 0" fill="none" stroke="#20a8e8" stroke-width="1.6" stroke-linejoin="round"/>
<path d="M485.6 63.1l1.6 2 1.6 1.9 1.5 1.8 1.6 1.8 1.6 1.7 1.6 1.6 1.6 1.6 1.6 1.5 1.5 1.5 1.6 1.4 1.6 1.4 1.6 1.3 1.6 1.2 1.6 1.3 1.5 1.1 1.6 1.2 1.6 1 1.6 1.1 1.6 1 1.6 1 1.5 .9 1.6 .9 1.6 .9 1.6 .8 1.6 .8 1.6 .8 1.5 .7 1.6 .8 1.6 .7 1.6 .6 1.6 .7 1.6 .6 1.5 .6 1.6 .6 1.6 .5 1.6 .6 1.6 .5 1.6 .5 1.5 .5 1.6 .4 1.6 .5 1.6 .4 1.6 .4 1.6 .4 1.5 .4 1.6 .3 1.6 .4 1.6 .3 1.6 .4 1.6 .3 1.5 .3 1.6 .3 1.6 .3 1.6 .2 1.6 .3 1.6 .3 1.5 .2 1.6 .2 1.6 .3 1.6 .2 1.6 .2 1.6 .2 1.5 .2 1.6 .2 1.6 .2 1.6 .1 1.6 .2 1.6 .2 1.5 .1 1.6 .2 1.6 .1 1.6 .2 1.6 .1 1.6 .1 1.5 .1 1.6 .2 1.6 .1 1.6 .1 1.6 .1 1.6 .1 1.5 .1 1.6 .1 1.6 .1 1.6 .1 1.6 .1 1.6 0 1.5 .1 1.6 .1 1.6 .1 1.6 0 1.6 .1 1.6 .1 1.5 0 1.6 .1 1.6 .1 1.6 0 1.6 .1 1.6 0 1.5 .1 1.6 0 1.6 .1 1.6 0 1.6 .1 1.6 0 1.5 0 1.6 .1 1.6 0 1.6 .1 1.6 0 1.6 0 1.5 .1 1.6 0 1.6 0 1.6 0 1.6 .1 1.6 0 1.5 0 1.6 .1 1.6 0" fill="none" stroke="#d83030" stroke-width="1.6" stroke-linejoin="round"/></g>
<rect x="474.3" y="3.5" width="199.7" height="164" fill="none" stroke="#000" stroke-width="1.3"/>
<line x1="485.6" y1="167.5" x2="485.6" y2="165" stroke="#000" stroke-width="1"/>
<line x1="509.2" y1="167.5" x2="509.2" y2="166" stroke="#000" stroke-width="1"/>
<line x1="532.7" y1="167.5" x2="532.7" y2="165" stroke="#000" stroke-width="1"/>
<line x1="556.2" y1="167.5" x2="556.2" y2="166" stroke="#000" stroke-width="1"/>
<line x1="579.8" y1="167.5" x2="579.8" y2="165" stroke="#000" stroke-width="1"/>
<line x1="603.4" y1="167.5" x2="603.4" y2="166" stroke="#000" stroke-width="1"/>
<line x1="626.9" y1="167.5" x2="626.9" y2="165" stroke="#000" stroke-width="1"/>
<line x1="650.5" y1="167.5" x2="650.5" y2="166" stroke="#000" stroke-width="1"/>
<text x="485.6" y="178.4" font-size="10.0" text-anchor="middle" font-weight="bold" fill="#000">0</text>
<text x="532.7" y="178.4" font-size="10.0" text-anchor="middle" font-weight="bold" fill="#000">2000</text>
<text x="579.8" y="178.4" font-size="10.0" text-anchor="middle" font-weight="bold" fill="#000">4000</text>
<text x="626.9" y="178.4" font-size="10.0" text-anchor="middle" font-weight="bold" fill="#000">6000</text>
<text x="674" y="178.4" font-size="10.0" text-anchor="middle" font-weight="bold" fill="#000">8000</text>
<text x="571.6" y="188.8" font-size="10.8" text-anchor="middle" font-weight="bold" fill="#000">Time (ps)</text>
<line x1="474.3" y1="158.4" x2="476.8" y2="158.4" stroke="#000" stroke-width="1"/>
<line x1="474.3" y1="148.8" x2="475.8" y2="148.8" stroke="#000" stroke-width="1"/>
<line x1="474.3" y1="139.2" x2="476.8" y2="139.2" stroke="#000" stroke-width="1"/>
<line x1="474.3" y1="129.5" x2="475.8" y2="129.5" stroke="#000" stroke-width="1"/>
<line x1="474.3" y1="119.9" x2="476.8" y2="119.9" stroke="#000" stroke-width="1"/>
<line x1="474.3" y1="110.3" x2="475.8" y2="110.3" stroke="#000" stroke-width="1"/>
<line x1="474.3" y1="100.7" x2="476.8" y2="100.7" stroke="#000" stroke-width="1"/>
<line x1="474.3" y1="91" x2="475.8" y2="91" stroke="#000" stroke-width="1"/>
<line x1="474.3" y1="81.4" x2="476.8" y2="81.4" stroke="#000" stroke-width="1"/>
<line x1="474.3" y1="71.8" x2="475.8" y2="71.8" stroke="#000" stroke-width="1"/>
<line x1="474.3" y1="62.1" x2="476.8" y2="62.1" stroke="#000" stroke-width="1"/>
<line x1="474.3" y1="52.5" x2="475.8" y2="52.5" stroke="#000" stroke-width="1"/>
<line x1="474.3" y1="42.9" x2="476.8" y2="42.9" stroke="#000" stroke-width="1"/>
<line x1="474.3" y1="33.3" x2="475.8" y2="33.3" stroke="#000" stroke-width="1"/>
<line x1="474.3" y1="23.6" x2="476.8" y2="23.6" stroke="#000" stroke-width="1"/>
<line x1="474.3" y1="14" x2="475.8" y2="14" stroke="#000" stroke-width="1"/>
<line x1="474.3" y1="4.4" x2="476.8" y2="4.4" stroke="#000" stroke-width="1"/>
<text x="471.3" y="161" font-size="10.0" text-anchor="end" font-weight="bold" fill="#000">-0.006</text>
<text x="471.3" y="141.8" font-size="10.0" text-anchor="end" font-weight="bold" fill="#000">-0.005</text>
<text x="471.3" y="122.5" font-size="10.0" text-anchor="end" font-weight="bold" fill="#000">-0.004</text>
<text x="471.3" y="103.2" font-size="10.0" text-anchor="end" font-weight="bold" fill="#000">-0.003</text>
<text x="471.3" y="84" font-size="10.0" text-anchor="end" font-weight="bold" fill="#000">-0.002</text>
<text x="471.3" y="64.8" font-size="10.0" text-anchor="end" font-weight="bold" fill="#000">-0.001</text>
<text x="471.3" y="45.5" font-size="10.0" text-anchor="end" font-weight="bold" fill="#000">0.000</text>
<text x="471.3" y="26.2" font-size="10.0" text-anchor="end" font-weight="bold" fill="#000">0.001</text>
<text x="471.3" y="7" font-size="10.0" text-anchor="end" font-weight="bold" fill="#000">0.002</text>
<text x="0" y="0" font-size="10.6" text-anchor="middle" font-weight="bold" fill="#000" transform="translate(439.3 86) rotate(-90) scale(1 0.9)">&#916;A (mOD)</text>
<text x="493" y="22" font-size="19" text-anchor="start" font-weight="bold" fill="#000">g</text>
<path d="M602.9 11.2h3.6v3.6h-3.6z" fill="#8a8a8a" stroke="#707070" stroke-width="0.4"/>
<text x="616.8" y="16" font-size="8.5" text-anchor="start" font-weight="bold" fill="#000">CN</text>
<line x1="637" y1="13" x2="657.6" y2="13" stroke="#404040" stroke-width="1.5"/>
<text x="659" y="16" font-size="8.5" text-anchor="start" font-weight="bold" fill="#000">Fit</text>
<path d="M604.7 21.2l2.6 4.4h-5.2z" fill="#2a9ad8" stroke="#1a3050" stroke-width="0.5"/>
<text x="616.8" y="26.8" font-size="8.5" text-anchor="start" font-weight="bold" fill="#000">MC</text>
<line x1="637" y1="23.8" x2="657.6" y2="23.8" stroke="#20a8e8" stroke-width="1.5"/>
<text x="659" y="26.8" font-size="8.5" text-anchor="start" font-weight="bold" fill="#000">Fit</text>
<path d="M604.7 32.1l2.5 2.5l-2.5 2.5l-2.5 -2.5z" fill="#e07878" stroke="#7a3030" stroke-width="0.5"/>
<text x="616.8" y="37.6" font-size="8.5" text-anchor="start" font-weight="bold" fill="#000">MCIr</text>
<line x1="637" y1="34.6" x2="657.6" y2="34.6" stroke="#d83030" stroke-width="1.5"/>
<text x="659" y="37.6" font-size="8.5" text-anchor="start" font-weight="bold" fill="#000">Fit</text>
<rect x="481" y="212.8" width="16.4" height="153.2" fill="#d9d4d2"/>
<rect x="612.3" y="195.2" width="18.6" height="322.5" fill="#c4ead4"/>
<rect x="632.1" y="217" width="15.9" height="307.4" fill="#fde6a8"/>
<line x1="600.4" y1="225.7" x2="600.4" y2="504.4" stroke="#000" stroke-width="0.9" stroke-dasharray="1 1.2"/>
<line x1="616.6" y1="211.4" x2="616.6" y2="507" stroke="#000" stroke-width="0.9" stroke-dasharray="1 1.2"/>
<line x1="621.4" y1="212.4" x2="621.4" y2="507" stroke="#000" stroke-width="0.9" stroke-dasharray="1 1.2"/>
<line x1="627.2" y1="200.7" x2="627.2" y2="507" stroke="#000" stroke-width="0.9" stroke-dasharray="1 1.2"/>
<line x1="636.5" y1="225.7" x2="636.5" y2="385" stroke="#000" stroke-width="0.9" stroke-dasharray="1 1.2"/>
<line x1="645.2" y1="416" x2="645.2" y2="507" stroke="#000" stroke-width="0.9" stroke-dasharray="1 1.2"/>
<path d="M442.5 236.8l.5-.1 .5 .2 .5 .2 .5 .2 .5-.3 .5-.1 .5-.1 .5 .4 .5 .2 .5-.3 .5-.4 .5 .1 .5 .6 .5-.3 .5-.5 .5 .4 .5-.3 .5 .1 .5 .1 .5-.1 .5 .3 .5-.1 .5-.1 .5 .2 .5 .1 .5-.6 .5 .3 .5-.1 .5 .2 .5-.3 .5 .3 .5-.1 .5-.1 .5-.3 .5 .1 .5-.4 .5-.3 .5 .1 .5-.6 .5 .2 .5-.5 .5-1.2 .5 .1 .5-.8 .5-.2 .5-.5 .5-1 .5-.1 .5-.5 .5-.2 .5-1 .5 0 .5-1 .5-.3 .5-.6 .5 .1 .5-.8 .5 0 .5-.9 .5-.5 .5-.5 .5-.9 .5-.3 .5-.2 .5-.9 .5-.4 .5-.5 .5-.3 .5-.8 .5-.4 .5-.4 .5-.6 .5-.7 .5-.1 .5-1 .5-.4 .5-.5 .5 .2 .5-.8 .5-.4 .5-.3 .5 .1 .5-.5 .5-.2 .5 .4 .5-.5 .5 .1 .5 .1 .5-.1 .5 .1 .5 .3 .5-.4 .5-.2 .5-.2 .5 .4 .5 0 .5 .2 .5-.2 .5 0 .5-.1 .5 .1 .5 .1 .5-.1 .5 .2 .5 .5 .5-.3 .5-.5 .5 1 .5-.2 .5-.2 .5 .7 .5 0 .5 .1 .5 .3 .5 .3 .5 .6 .5 .6 .5 0 .5 .6 .5 .8 .5-.3 .5 .9 .5 .4 .5 .4 .5 .6 .5 .9 .5 .7 .5 .4 .5 .7 .5 .8 .5 .4 .5 .7 .5 .4 .5 .5 .5 .8 .5 .2 .5 .3 .5 .6 .5 0 .5 .6 .5 .6 .5 .4 .5 .6 .5-.1 .5 0 .5 1.1 .5 .1 .5-.3 .5 .9 .5-.1 .5-.2 .5 .6 .5 .2 .5 .7 .5-.3 .5 .3 .5 .2 .5 .1 .5 .1 .5 .4 .5 .4 .5 0 .5-.3 .5 .1 .5 .5 .5-.1 .5 .1 .5-.1 .5 1 .5-.1 .5-.4 .5 .6 .5 .2 .5-.9 .5 .6 .5 .1 .5 .4 .5-.2 .5 .1 .5 .1 .5 .5 .5 .1 .5-.6 .5-.1 .5 1 .5-1 .5 .2 .5 .1 .5 .1 .5 .2 .5-.2 .5-.3 .5 .3 .5 0 .5 .4 .5-.5 .5-.3 .5 0 .5 .7 .5-.5 .5-.4 .5 .4 .5 .1 .5 .3 .5-.6 .5 .5 .5 0 .5-.4 .5 .2 .5 .4 .5 0 .5-.2 .5-.1 .5 .2 .5-.3 .5 0 .5-.2 .5 .2 .5 0 .5 .7 .5-.7 .5 .3 .5 0 .5-.3 .5 .3 .5-.8 .5 .5 .5 .2 .5-.8 .5 .3 .5 .5 .5-.3 .5-.3 .5 .1 .5-.1 .5 .2 .5-.1 .5-.4 .5-.2 .5 0 .5 .2 .5-.3 .5 0 .5-.2 .5-.3 .5 .2 .5 .5 .5 0 .5-.2 .5 0 .5 .6 .5 0 .5 .1 .5 .1 .5 .2 .5 0 .5 .2 .5 0 .5 .1 .5-.1 .5-.3 .5 .1 .5 .1 .5-.2 .5 .2 .5 .2 .5-.5 .5-.2 .5 .7 .5-.3 .5 .2 .5-.5 .5 .7 .5-.2 .5-.2 .5-.1 .5 .1 .5 0 .5-.1 .5-.2 .5 .6 .5-.3 .5 0 .5 0 .5-.6 .5 .7 .5-.2 .5 0 .5 .1 .5-.2 .5 .4 .5-.4 .5 0 .5 0 .5 .2 .5 .2 .5-.4 .5-.2 .5 .6 .5-.5 .5 .5 .5-.4 .5-.2 .5-.2 .5-.1 .5-.4 .5-.9 .5-.6 .5-.9 .5-1.9 .5-1.7 .5-1.5 .5-1.4 .5-.8 .5-.6 .5-.2 .5 .9 .5 .2 .5 1.6 .5 2.3 .5 1.2 .5 1.2 .5 1.2 .5 1.3 .5 .4 .5 .4 .5 .1 .5 .5 .5 0 .5 0 .5 .1 .5 .2 .5-.1 .5 .3 .5-.5 .5 .3 .5 .4 .5-.5 .5 .2 .5-.4 .5-.7 .5-1.7 .5-3 .5-3.4 .5-4.6 .5-5 .5-3.6 .5-2 .5 .5 .5 3.3 .5 3.6 .5 3 .5 1.3 .5-.9 .5-2.7 .5-3.4 .5-2.3 .5-.3 .5 2.4 .5 3.6 .5 3.5 .5 1.9 .5-.2 .5-2.5 .5-5 .5-5.8 .5-6.4 .5-4.4 .5-1.1 .5 1 .5 3.7 .5 4.8 .5 5.3 .5 4.8 .5 3.4 .5 3.1 .5 1.2 .5 1 .5 .3 .5 .1 .5 .1 .5-.7 .5-.5 .5-.8 .5-.7 .5-.1 .5-.9 .5 .5 .5 .5 .5 1.1 .5 1.4 .5 1.1 .5 1.9 .5 1.6 .5 .5 .5 1 .5 .3 .5 .5 .5-.2 .5 .6 .5-.6 .5-.4 .5 .6 .5-.3 .5-.3 .5-.2 .5-.3 .5 0 .5 .2 .5 .1 .5 0 .5 0 .5-.1 .5 .3 .5 .5 .5 .2 .5-.2 .5 .1 .5 .6 .5-.1 .5 .1 .5-.4 .5 .3 .5 0 .5 .2 .5-.5 .5 .8 .5-.2 .5 0 .5-.4 .5 .3 .5 .3 .5-.7 .5 .5 .5 .1 .5-.4 .5 .4 .5-.3 .5 .4 .5-.2 .5 0 .5 .4 .5-.3 .5 .1 .5-.6 .5 .1 .5 .4 .5 0 .5-.2 .5 .2 .5-.5 .5 .4 .5-.4 .5 .4 .5-.2 .5-.1 .5 .2 .5 .5 .5-.8 .5 .1 .5 .5 .5-.4 .5 .5 .5-.3 .5-.1 .5 .1 .5 .3" fill="none" stroke="#d03838" stroke-width="1.5" stroke-linejoin="round"/>
<path d="M442.5 286.5l.5-.1 .5 0 .5-.5 .5 .2 .5 .6 .5-.2 .5-.1 .5 .1 .5-.3 .5 .2 .5-.3 .5 .3 .5-.3 .5 .1 .5 .2 .5-.2 .5 .3 .5-.1 .5 0 .5 .2 .5-.7 .5 0 .5 .6 .5 0 .5 .3 .5-.3 .5 0 .5-.4 .5 .4 .5 0 .5-.5 .5 0 .5 .1 .5-.1 .5-1 .5 .5 .5-.3 .5-.6 .5-.4 .5-.6 .5-1 .5-.4 .5-.9 .5-.9 .5-.6 .5-.5 .5-1.5 .5-.9 .5-.8 .5 .1 .5-1.4 .5-.7 .5-1 .5-.9 .5-1.1 .5-.2 .5-.8 .5-1.4 .5-.6 .5-.7 .5-.6 .5-.8 .5-.6 .5-.7 .5-.9 .5-.8 .5-1.4 .5-.7 .5-.4 .5-1 .5-.9 .5-1.3 .5-.8 .5-.1 .5-.9 .5-.9 .5-.8 .5-1 .5 0 .5-.4 .5-.3 .5-.8 .5-.3 .5-.4 .5 .4 .5 0 .5-.6 .5 .2 .5-.1 .5-.1 .5-.5 .5 .5 .5 .3 .5-.6 .5 .2 .5-.6 .5 1.1 .5-.2 .5-.1 .5-.1 .5-.1 .5 .2 .5-.1 .5 .1 .5 .1 .5 .2 .5 .4 .5-.5 .5 .7 .5 0 .5 .3 .5 0 .5 1.2 .5 .1 .5 .6 .5 .8 .5 .2 .5 1 .5 .6 .5 1 .5 .8 .5 .3 .5 1.4 .5 .7 .5 1 .5 .9 .5 1.2 .5 .5 .5 1.4 .5 1.1 .5 .6 .5 1.4 .5 .2 .5 1 .5 .6 .5 .8 .5 .6 .5 .8 .5 .8 .5 .5 .5 1.1 .5 .7 .5-.1 .5 1.1 .5 .4 .5 .5 .5 1 .5 .1 .5 .2 .5 .4 .5-.2 .5 1.2 .5-.1 .5 .6 .5 .3 .5 .6 .5 .6 .5 0 .5 .3 .5-.1 .5 .4 .5 .3 .5-.3 .5 1.1 .5-.5 .5 .1 .5 .9 .5 .3 .5-.5 .5 .2 .5 1.1 .5-.6 .5-.3 .5 .5 .5 .8 .5-.2 .5 .1 .5 .3 .5 0 .5-.2 .5-.2 .5 .6 .5-.4 .5 .3 .5 .5 .5-.3 .5-.1 .5 0 .5 .2 .5 0 .5-.5 .5 .3 .5 .4 .5-.2 .5-.4 .5 0 .5-.3 .5 .3 .5 .6 .5-.4 .5-.2 .5 .1 .5 .1 .5 0 .5-.1 .5-.1 .5 .4 .5 .2 .5-.5 .5 0 .5 .4 .5-.7 .5 .3 .5 0 .5 .1 .5-.1 .5-.1 .5 .3 .5-.4 .5-.1 .5-.1 .5 .7 .5-.6 .5 .5 .5 .1 .5 0 .5-.2 .5-.1 .5 .1 .5-.2 .5-.2 .5 .6 .5-.5 .5 .6 .5-.4 .5-.3 .5 .1 .5 0 .5-.8 .5 0 .5-.2 .5 .2 .5 0 .5-.1 .5-.2 .5 .2 .5 .5 .5 .1 .5-.1 .5-.2 .5 .6 .5 0 .5 .1 .5 .5 .5-.2 .5-.4 .5 0 .5 .6 .5-.3 .5 .2 .5-.2 .5-.2 .5 .3 .5 .3 .5-.3 .5-.4 .5 .2 .5 0 .5 .2 .5 .2 .5 .2 .5-.4 .5-.2 .5 .1 .5 0 .5-.1 .5 .1 .5 0 .5-.3 .5 .5 .5-.3 .5-.1 .5 .3 .5-.2 .5 .6 .5-.4 .5-.1 .5-.2 .5 .1 .5 .3 .5-.4 .5 .4 .5-.7 .5 .6 .5 .1 .5-.1 .5-.1 .5 .3 .5-.5 .5-.1 .5 .2 .5 .2 .5-.4 .5-.5 .5-.4 .5-.8 .5-1.6 .5-1.9 .5-1.5 .5-2.4 .5-2.3 .5-2.6 .5-2.1 .5-1.4 .5-1 .5-.1 .5 1.2 .5 1 .5 2.2 .5 2.8 .5 1.9 .5 2.2 .5 2.7 .5 1.4 .5 1.3 .5 .9 .5 .7 .5 0 .5 .3 .5-.1 .5 .4 .5 .1 .5-.2 .5 .3 .5 .6 .5-1.1 .5 .5 .5 0 .5-.1 .5-.8 .5-.3 .5-1.6 .5-2.6 .5-3.7 .5-4.3 .5-4.5 .5-3.8 .5-1.4 .5 0 .5 2.9 .5 3.4 .5 3.4 .5 1.2 .5-1.1 .5-3 .5-3.1 .5-2.1 .5 .1 .5 2 .5 3 .5 3.7 .5 2.2 .5-.2 .5-2.5 .5-4.5 .5-5.8 .5-5.8 .5-4.5 .5-1.5 .5 .5 .5 3.6 .5 4.7 .5 4.6 .5 4.8 .5 3.4 .5 2.9 .5 1 .5 .2 .5 .9 .5 .1 .5-.2 .5-.2 .5-.2 .5-.6 .5-.7 .5-.9 .5-.1 .5-.1 .5 .6 .5 1.4 .5 1.3 .5 1.7 .5 2.3 .5 .8 .5 .8 .5 .4 .5 .8 .5 .1 .5-.1 .5 .8 .5-.4 .5 0 .5 .5 .5-.8 .5-.2 .5-.1 .5-.3 .5-.2 .5 .1 .5 .4 .5-.3 .5-.2 .5 .2 .5 .2 .5 .5 .5 .3 .5 .2 .5 .3 .5-.2 .5 .3 .5 0 .5 .2 .5-.6 .5 .8 .5-.7 .5 .2 .5 .5 .5-.3 .5 .5 .5-.4 .5-.3 .5 .3 .5-.1 .5 .5 .5 0 .5-.2 .5-.3 .5 .1 .5 .3 .5-.5 .5 0 .5 .4 .5 0 .5-.3 .5 0 .5-.4 .5 .8 .5-.3 .5-.4 .5 .1 .5 .1 .5 .6 .5-.2 .5-.5 .5 .8 .5-.2 .5-.6 .5-.4 .5 .9 .5-.4 .5 .2 .5-.1 .5 .4 .5 .1 .5-.2 .5-.2 .5 .1" fill="none" stroke="#6060c0" stroke-width="1.5" stroke-linejoin="round"/>
<path d="M442.5 334.8l.5-.6 .5 .7 .5-.4 .5 .2 .5-.1 .5 .2 .5 .1 .5 .3 .5-.7 .5-.1 .5 .2 .5-.2 .5 .4 .5-.4 .5 .2 .5 .2 .5 .1 .5-.2 .5 .3 .5-.1 .5-.7 .5 .5 .5 0 .5-.2 .5-.1 .5 .2 .5 .1 .5 0 .5 .2 .5-.1 .5-.4 .5-.1 .5 .3 .5-.5 .5 0 .5-.2 .5-.2 .5-.6 .5-.3 .5-1 .5-.4 .5-1 .5-.6 .5-.7 .5-1.1 .5-1.2 .5 .1 .5-.9 .5-.9 .5-1 .5-.7 .5-.6 .5-.9 .5-.5 .5-1.1 .5-1 .5-.4 .5-1.2 .5-.5 .5-1.3 .5-.5 .5-.5 .5-1.1 .5-.7 .5-.6 .5-.9 .5-.4 .5-1.3 .5-.8 .5-.8 .5-1.2 .5-.7 .5-.3 .5-1 .5-.3 .5-1.1 .5-.8 .5-.3 .5-.8 .5-.2 .5-1.1 .5 0 .5-.2 .5-.2 .5 0 .5-.1 .5-.3 .5-.2 .5 .4 .5-.3 .5 .3 .5 .1 .5-.3 .5-.3 .5 .2 .5 .2 .5-.2 .5 .3 .5-.3 .5 .1 .5-.2 .5 .1 .5 .3 .5-.3 .5 .1 .5-.1 .5 .6 .5-.4 .5 .4 .5 .7 .5 .5 .5 0 .5 .7 .5-.3 .5 1.2 .5 .4 .5 .2 .5 .5 .5 1 .5 .9 .5 .8 .5 .7 .5 1.1 .5 .9 .5 .4 .5 1.2 .5 .9 .5 1.4 .5 .6 .5 1.3 .5 .6 .5 1.4 .5 .3 .5 .8 .5 .7 .5 .8 .5 1.3 .5-.1 .5 .6 .5 .8 .5 .9 .5 .2 .5 1 .5 .5 .5 .3 .5 .5 .5 .3 .5 .5 .5 .3 .5 1 .5 .4 .5-.1 .5 .5 .5-.2 .5 .7 .5 .5 .5 .3 .5 .3 .5 .4 .5 .1 .5 .1 .5 .7 .5-.6 .5 .4 .5 .3 .5 .2 .5 .2 .5 .3 .5 .1 .5 .3 .5 .3 .5 .1 .5 .1 .5-.1 .5 .1 .5 .4 .5 .4 .5 0 .5 .3 .5 0 .5 .2 .5-.5 .5 .6 .5-.1 .5 .4 .5-.4 .5 0 .5-.1 .5 0 .5-.4 .5 .3 .5 .1 .5 .2 .5-.4 .5 .2 .5 .5 .5-.6 .5 .3 .5-.3 .5 .1 .5 .1 .5 .1 .5-.3 .5-.2 .5 .7 .5-.4 .5 .2 .5 0 .5 0 .5-.3 .5 .1 .5-.4 .5 .4 .5-.1 .5 .1 .5 .5 .5-.3 .5-.2 .5-.3 .5 .5 .5 .2 .5-.6 .5 .3 .5-.2 .5 .1 .5-.1 .5-.3 .5 .3 .5-.3 .5 .7 .5-.1 .5-.3 .5 .1 .5-.1 .5-.1 .5-.1 .5-.2 .5-.1 .5-.5 .5 0 .5 0 .5 0 .5-.2 .5 .6 .5-.5 .5 0 .5 .3 .5 .3 .5 .3 .5 0 .5-.3 .5 .2 .5 .4 .5-.1 .5 .2 .5-.2 .5 .5 .5-.1 .5 0 .5-.3 .5-.4 .5 .1 .5 .4 .5 .1 .5-.9 .5 .6 .5 .4 .5-.1 .5-.3 .5 .3 .5-.2 .5 0 .5 .3 .5 0 .5-.4 .5-.1 .5-.1 .5 0 .5 .6 .5 .2 .5-.4 .5 .2 .5-.5 .5 .2 .5 .2 .5-.1 .5-.1 .5-.4 .5 .1 .5 .2 .5 0 .5 .1 .5-.1 .5 .1 .5 0 .5 .1 .5-.1 .5-.1 .5 0 .5 .2 .5-.3 .5-.4 .5-.2 .5-.1 .5-.6 .5-.8 .5-1.6 .5-1.2 .5-2.4 .5-2.2 .5-2.4 .5-2.1 .5-1.9 .5-1.9 .5-1 .5-.3 .5 1.1 .5 1.4 .5 2 .5 2.2 .5 2.3 .5 2.4 .5 2.2 .5 1.8 .5 1.1 .5 1.1 .5 .5 .5 .5 .5 0 .5 .7 .5 0 .5 .3 .5-.5 .5 .2 .5-.2 .5 .2 .5-.1 .5 .1 .5-.2 .5 0 .5-.4 .5 .1 .5-.5 .5-.2 .5-.1 .5-.1 .5-.4 .5 0 .5 .5 .5 .2 .5-.3 .5 .3 .5 .4 .5 .4 .5 .1 .5 .3 .5 0 .5 .3 .5-1 .5 .2 .5 .2 .5-.7 .5-.1 .5 .3 .5 .2 .5 0 .5-.6 .5 .2 .5 .4 .5 0 .5 .3 .5 .1 .5 .4 .5-.4 .5 .1 .5 0 .5 .3 .5-.6 .5 .4 .5-.3 .5-.1 .5 .6 .5-.2 .5 .2 .5-.2 .5 .1 .5-.2 .5 .1 .5-.2 .5 .5 .5-.6 .5 .6 .5-.4 .5 .2 .5-.2 .5 .1 .5 .3 .5-.4 .5-.2 .5 .3 .5 .1 .5-.8 .5 .9 .5 0 .5-.7 .5 .4 .5 .2 .5-.5 .5 .2 .5 0 .5 .3 .5 .1 .5-.3 .5 0 .5 .2 .5-.1 .5-.1 .5 .3 .5-.6 .5 .4 .5-.2 .5 0 .5 .2 .5-.1 .5 .6 .5-.4 .5-.1 .5 .3 .5-.1 .5-.7 .5 .4 .5 .2 .5-.3 .5 .2 .5-.2 .5 .2 .5-.5 .5-.1 .5 .4 .5 .2 .5 .2 .5-.4 .5-.1 .5 .4 .5-.2 .5 .5 .5-.5 .5-.5 .5 .3 .5 0 .5-.1 .5 .1 .5 0 .5 .1 .5 0 .5 .2 .5 0 .5 0 .5 0 .5-.6 .5 .1 .5 .2 .5 .3 .5-.5 .5 .3 .5 .2 .5 .4" fill="none" stroke="#d8c040" stroke-width="1.5" stroke-linejoin="round"/>
<path d="M442.5 384.5l.5-.2 .5 .4 .5-.2 .5-.2 .5 .4 .5-.5 .5 .3 .5-.1 .5 .2 .5-.5 .5 0 .5 .2 .5 0 .5 .1 .5-.1 .5 .2 .5 .1 .5-.1 .5-.4 .5 .6 .5-.7 .5 .3 .5 .3 .5-.4 .5 .5 .5 .2 .5-.1 .5-.3 .5 .1 .5-.3 .5 .2 .5-.1 .5-.2 .5-.1 .5-.3 .5-.7 .5 .2 .5-.4 .5-.1 .5-.9 .5-.9 .5-.5 .5-.8 .5-.9 .5-.9 .5-1 .5-.4 .5-.4 .5-1.7 .5-.6 .5-.4 .5-.9 .5-.7 .5-1.4 .5-.5 .5-.5 .5-.8 .5-.8 .5-1.1 .5-.5 .5-1.2 .5-.7 .5-.9 .5-.1 .5-1.3 .5-.7 .5-1.3 .5 0 .5-.9 .5-1.4 .5-.7 .5 0 .5-1.5 .5-.1 .5-1.3 .5-1.2 .5 .1 .5-.8 .5-.5 .5-.8 .5-.4 .5-.1 .5-.7 .5-.5 .5 .6 .5-.5 .5 .5 .5-.5 .5 0 .5 0 .5-.5 .5 .9 .5-.5 .5 .1 .5 .5 .5-.4 .5 .2 .5-.1 .5 .1 .5-.1 .5 .2 .5-.3 .5 .1 .5-.2 .5 .5 .5-.7 .5 .7 .5 .2 .5 .3 .5 .2 .5 .6 .5 .6 .5-.2 .5 .1 .5 .7 .5 .6 .5 .8 .5 .6 .5 1 .5 .3 .5 .9 .5 .8 .5 .6 .5 1.1 .5 1.7 .5 .2 .5 .8 .5 .7 .5 1.7 .5 .6 .5 .8 .5 1.6 .5 .6 .5 0 .5 1.1 .5 1.1 .5 .7 .5 .2 .5 1.4 .5 .6 .5-.1 .5 .5 .5 .6 .5 1.1 .5 .6 .5 .2 .5 .3 .5 .6 .5 .6 .5-.1 .5 .3 .5 .8 .5 .7 .5 .1 .5 .3 .5 .1 .5 .7 .5-.4 .5 .7 .5 .1 .5 .3 .5 .1 .5 .6 .5 0 .5 .1 .5 .5 .5 .1 .5 0 .5 .2 .5 .5 .5-.3 .5 .4 .5 .1 .5 .3 .5 0 .5 .8 .5-.9 .5 .7 .5 0 .5 .4 .5-.6 .5 .7 .5-.6 .5 .6 .5 0 .5-.1 .5-.2 .5 0 .5 .2 .5-.2 .5-.3 .5 0 .5 .7 .5 0 .5-.1 .5-.1 .5 .1 .5 0 .5 0 .5-.3 .5 0 .5-.1 .5 .3 .5-.3 .5 .3 .5 .3 .5-.4 .5 .3 .5 .2 .5-.9 .5 .1 .5 .5 .5-.3 .5 .3 .5 .1 .5-.3 .5 .3 .5 .2 .5-.2 .5-.4 .5 .2 .5-.1 .5 .5 .5-.5 .5-.1 .5 .2 .5 .1 .5-.2 .5 .1 .5 0 .5 .1 .5 .1 .5-.2 .5-.3 .5 .2 .5-.5 .5 .4 .5-.3 .5-.2 .5-.8 .5 1.1 .5-.3 .5-.2 .5-.3 .5 .2 .5 .6 .5-.8 .5 .5 .5 .1 .5 .1 .5 .1 .5-.2 .5 .5 .5-.4 .5 .9 .5-.3 .5-.3 .5-.3 .5 .5 .5 .1 .5-.3 .5 .6 .5-.3 .5-.2 .5-.2 .5 .3 .5 0 .5 .2 .5 .1 .5-.3 .5 .1 .5 .3 .5-.2 .5-.2 .5 .2 .5-.3 .5 .2 .5-.1 .5-.3 .5 .5 .5-.2 .5 .2 .5-.5 .5 .6 .5 0 .5-.4 .5 .1 .5 0 .5 0 .5 .2 .5-.4 .5-.1 .5 .3 .5 .5 .5-.6 .5-.1 .5 0 .5 .2 .5 .3 .5-.6 .5 .2 .5-.2 .5-.2 .5-.5 .5-.4 .5-1 .5-1.6 .5-.9 .5-2.9 .5-2.2 .5-1.9 .5-2.5 .5-2.2 .5-1.5 .5-.8 .5-.3 .5 .6 .5 1.4 .5 2.1 .5 2.3 .5 2.9 .5 2.1 .5 2.1 .5 1.4 .5 1.7 .5 .4 .5 1.2 .5 .5 .5 0 .5 0 .5 .5 .5-.2 .5 0 .5 .2 .5-.3 .5 .2 .5 .5 .5-.6 .5 .2 .5-.6 .5 .1 .5-.2 .5-.2 .5 0 .5 .1 .5-.7 .5 .3 .5-.2 .5 .3 .5-.1 .5 .1 .5 .4 .5 0 .5 .4 .5-.2 .5 .3 .5 .1 .5 .4 .5-.1 .5-.4 .5-.4 .5 .2 .5-.1 .5-.3 .5-.2 .5-.2 .5 .5 .5 .6 .5-.4 .5 .2 .5 .1 .5 .2 .5 .1 .5-.7 .5 .5 .5 .2 .5-.1 .5 .3 .5-.4 .5 .3 .5 .2 .5-.5 .5 .1 .5-.1 .5 .3 .5-.7 .5 .1 .5 .3 .5 .3 .5 0 .5-.4 .5 .6 .5-.4 .5-.1 .5 .2 .5 .2 .5-.3 .5-.4 .5 .3 .5 .1 .5 .2 .5-.4 .5 .3 .5-.4 .5 .3 .5-.3 .5 .2 .5-.3 .5 .2 .5-.2 .5-.1 .5 .8 .5 0 .5-.2 .5-.2 .5 .5 .5-.5 .5 .2 .5 .2 .5-.2 .5 .3 .5-.4 .5 0 .5 0 .5-.3 .5 0 .5 .5 .5-.6 .5 .7 .5-.2 .5 .2 .5-.1 .5 0 .5 .3 .5-.5 .5 0 .5 .3 .5-.4 .5 .4 .5-.1 .5-.3 .5-.2 .5-.2 .5 1 .5-.9 .5 .1 .5 .5 .5-.1 .5 0 .5-.1 .5-.1 .5-.1 .5 0 .5 .4 .5 .1 .5 0 .5-.3 .5-.6 .5 .7 .5-.1 .5-.7 .5 1.1 .5-.3 .5-.1 .5 .1 .5-.1 .5 .1" fill="none" stroke="#50c878" stroke-width="1.5" stroke-linejoin="round"/>
<path d="M442.5 422.7l.5-.1 .5-1 .5 1 .5-.4 .5-1.6 .5-.4 .5-.2 .5 1.4 .5 1.7 .5 .2 .5-1.3 .5-2.2 .5 .6 .5 2.8 .5 1.4 .5 .7 .5-1.4 .5-1.5 .5 .8 .5 .4 .5-1.1 .5-1.2 .5 .3 .5 .8 .5 .6 .5 .3 .5-.2 .5-.9 .5 0 .5-.2 .5-1.4 .5 .3 .5 2 .5 .3 .5-.7 .5-.6 .5-.5 .5-.1 .5 .1 .5 .7 .5 .4 .5-.5 .5-.6 .5-.6 .5-.6 .5 0 .5 .8 .5 .6 .5 0 .5 .8 .5 1.4 .5-.1 .5-1.8 .5-.4 .5-1.6 .5 0 .5 1.4 .5 0 .5-.9 .5 .6 .5 .6 .5-.5 .5 .1 .5 1.9 .5 .6 .5-.6 .5-.6 .5-.5 .5-.7 .5-1.1 .5 .4 .5 1.5 .5 0 .5-.4 .5 .1 .5 1.2 .5 .4 .5-1.6 .5-.5 .5 .1 .5 .2 .5 1.9 .5 .7 .5-.4 .5-.6 .5 .4 .5 .4 .5-.9 .5-2.2 .5-.4 .5 1.4 .5-.3 .5-.9 .5 1.7 .5-.7 .5-1.2 .5 .3 .5 1.3 .5-.2 .5-2.1 .5 .2 .5 2.5 .5 .5 .5-3.2 .5-3.3 .5 1.6 .5 3.5 .5 2 .5 1.2 .5-1.9 .5-1.2 .5 1 .5-.4 .5-.6 .5 1.2 .5 .4 .5-1.9 .5-1.2 .5 1.3 .5 0 .5-1 .5 .1 .5 2.2 .5 1.7 .5-.6 .5 .1 .5-1.4 .5-3.8 .5-1 .5 .6 .5 .1 .5 .9 .5 .8 .5-.4 .5-1.2 .5-.8 .5 2.3 .5 2.6 .5 0 .5-.1 .5 0 .5-.7 .5 .5 .5 .8 .5-.5 .5-2.2 .5-1.7 .5 .2 .5 1.8 .5 1.1 .5-.4 .5-.6 .5 1.1 .5 .6 .5 0 .5-.1 .5-1.8 .5 0 .5 2.3 .5-.4 .5-1.5 .5-.1 .5 .4 .5 1.6 .5-.3 .5-.8 .5 .1 .5-.3 .5 0 .5 .2 .5-.3 .5 1 .5 .4 .5 .3 .5-.3 .5-1.9 .5-1.7 .5 1 .5 1.2 .5 .3 .5 .6 .5-.1 .5-.7 .5-1 .5 .2 .5 1 .5-.9 .5-1.8 .5 .1 .5 2.1 .5 2 .5-1.2 .5-2.3 .5 .8 .5 1.6 .5 .8 .5-.4 .5-.9 .5 0 .5-1.5 .5-1.6 .5 1 .5 1.8 .5 2 .5-.5 .5-1.4 .5 .5 .5 0 .5-2 .5-.4 .5 2.2 .5 1.1 .5-2.1 .5-.9 .5 1.7 .5 1.1 .5-.3 .5 .5 .5 .7 .5 1.5 .5-.2 .5-.4 .5 .4 .5-1.4 .5-2 .5 .3 .5-.7 .5-2 .5 1.1 .5 1.6 .5 1.2 .5 2.1 .5 .6 .5-2.2 .5 .6 .5 .8 .5-3.2 .5-2.9 .5-.8 .5-2 .5 .5 .5 1.9 .5 .2 .5 .8 .5-.3 .5-2.1 .5-.3 .5 .3 .5-1.8 .5 0 .5 1.8 .5 .9 .5 1.4 .5 2.1 .5-1.2 .5-3.9 .5-1.2 .5 2.5 .5 2.7 .5 .2 .5-2 .5-.3 .5 2.3 .5 2.7 .5-1.4 .5-4.1 .5-1.5 .5 1 .5 2.3 .5-.1 .5-2 .5 .4 .5 2.8 .5 .9 .5-1.1 .5 .2 .5 1.9 .5 .7 .5-.3 .5-.6 .5-1.2 .5-.2 .5 3.4 .5 .9 .5-2.8 .5 .8 .5 2.6 .5-1.4 .5-1.4 .5 1.1 .5 .3 .5 .2 .5-1.2 .5-.9 .5 .1 .5 .4 .5 .3 .5-.3 .5-.2 .5 .7 .5 .2 .5-.9 .5-.6 .5-.2 .5 .4 .5 .6 .5 0 .5 0 .5 .2 .5-.7 .5 .4 .5-.3 .5-1.2 .5 .5 .5 1.1 .5-.4 .5-.4 .5-.5 .5-.5 .5-.5 .5-.3 .5 .5 .5 1 .5 1.1 .5 .2 .5-.4 .5 .1 .5 .9 .5-.4 .5-1.5 .5-.9 .5 .6 .5 .4 .5-.6 .5-.2 .5-1.2 .5-2.2 .5-1.6 .5-2 .5-3 .5-3.6 .5-3.2 .5-1.5 .5-.2 .5-.9 .5-2 .5-.5 .5 1.7 .5 1.9 .5 2.7 .5 2 .5 .7 .5 1.2 .5 .5 .5-.3 .5-1 .5-.4 .5 0 .5-.7 .5 .8 .5 1.7 .5 1.1 .5-.2 .5-1.1 .5-.3 .5-2.1 .5-2.7 .5-2.1 .5-2.2 .5 0 .5 3.1 .5 3.7 .5 1.9 .5 1.1 .5 2.9 .5 3.2 .5 1.2 .5-.1 .5 0 .5 1 .5 .9 .5-.4 .5-.6 .5-.2 .5-.2 .5 .7 .5 .9 .5-.1 .5 .8 .5 1.1 .5 0 .5-.1 .5-.6 .5-.8 .5 .6 .5-.5 .5-1.2 .5 .4 .5 2 .5 1.1 .5-.6 .5-.4 .5 .8 .5-.1 .5 .2 .5 1.3 .5-1 .5-2.3 .5 1.4 .5 1.6 .5 .2 .5 0 .5 .8 .5 1.7 .5 .7 .5-.1 .5-.6 .5-.7 .5-1.6 .5-.6 .5 1.4 .5-.2 .5-1.3 .5 0 .5-1.5 .5-1.7 .5 .5 .5-.4 .5-1.3 .5-1.1 .5 .9 .5 2.5 .5 .2 .5-.7 .5-.4 .5-1.3 .5-.4 .5-.1 .5-.2 .5-.7 .5 2.4 .5 4.5 .5 2 .5-.8 .5-2.6 .5-1.5 .5 2.1 .5 1.4 .5-2.7 .5-.7 .5 2.5 .5 2.9 .5-.6 .5-1.1 .5 .5 .5-.1 .5-.1 .5 1.4 .5-.8 .5-.6 .5-.5 .5-2.5 .5-.2 .5 1.7 .5 1 .5-.4 .5-1.9" fill="none" stroke="#84109a" stroke-width="1.6" stroke-linejoin="round"/>
<path d="M442.5 463.2l.5-.4 .5 .3 .5 1.7 .5 .8 .5-.6 .5 1.3 .5 .6 .5-1.7 .5-.7 .5 1.2 .5 1.8 .5 .7 .5-.4 .5-1.2 .5-1.7 .5-1.8 .5-.7 .5 .6 .5 1.5 .5 0 .5-.2 .5 1.1 .5-.3 .5-1.2 .5 1 .5 1.8 .5-1 .5-2.3 .5 .9 .5 1.5 .5-.2 .5 1 .5-.5 .5-1.8 .5 .9 .5-.2 .5-1.3 .5 .6 .5 1.3 .5 .4 .5-1 .5-.3 .5 1.7 .5 1.7 .5 0 .5-.3 .5 .8 .5 0 .5-1.1 .5-.3 .5-.2 .5-.2 .5-1.2 .5-2.1 .5 .8 .5 .2 .5-2 .5 .9 .5 2.4 .5-1.1 .5-.3 .5 .8 .5-.5 .5-1.1 .5 0 .5-.2 .5 .2 .5 1.4 .5 1.5 .5-.2 .5 .2 .5-.2 .5-.7 .5-.4 .5-.5 .5 .2 .5-.2 .5-.5 .5 1.2 .5 .9 .5-1 .5-2.3 .5-1 .5 2.8 .5-.6 .5-2.4 .5 1.2 .5 1.5 .5 .4 .5 1 .5 .7 .5-.2 .5-.5 .5 .6 .5 0 .5-.6 .5 1.1 .5 .2 .5-1.6 .5-.3 .5-.2 .5 .8 .5 .4 .5-.5 .5 .4 .5 .7 .5 .4 .5-.1 .5-1.3 .5 1.3 .5 1.3 .5-2.4 .5-1.9 .5 .6 .5 .3 .5-1 .5-1.6 .5-1.4 .5 0 .5 .4 .5 .4 .5 1.7 .5 1.1 .5-1.5 .5-1 .5 1.2 .5 .2 .5-1.4 .5 .4 .5-.2 .5-.2 .5 1.4 .5 1.1 .5-1 .5 .4 .5 1.4 .5 1.9 .5-.8 .5-1.4 .5 .9 .5 .9 .5 .5 .5-.6 .5-2 .5-.6 .5 .4 .5 1.6 .5 1 .5-1.8 .5-.1 .5 1.4 .5-1.7 .5-1 .5 .1 .5-.3 .5 1.8 .5 .7 .5-1.3 .5-.4 .5-1.2 .5-.5 .5 .6 .5-.5 .5 .1 .5 2.3 .5 .3 .5-.4 .5 1.8 .5 .8 .5-2 .5-1.1 .5-.4 .5-.6 .5-.2 .5 1.6 .5 .1 .5-1.3 .5-.6 .5-.1 .5 0 .5-.6 .5 .5 .5 1.9 .5 .3 .5 .5 .5 .6 .5-1.2 .5-1.2 .5-1.4 .5 .4 .5 1.6 .5-1 .5-1.8 .5 .4 .5 1.4 .5 .9 .5 1 .5 .3 .5-.8 .5 .1 .5 .4 .5-1.1 .5-.6 .5 .8 .5 0 .5 .3 .5 .8 .5 1.1 .5 .5 .5-1 .5-.5 .5 .9 .5 .7 .5-.5 .5-.4 .5-.3 .5 .3 .5 2.3 .5 2.2 .5-1.5 .5-1.6 .5-.6 .5-.8 .5 1.2 .5 1.2 .5-1.1 .5 .2 .5-1.3 .5-3.3 .5-.9 .5-.3 .5 .8 .5 2.5 .5 .5 .5-1.4 .5-1.5 .5 0 .5 1.7 .5 1.8 .5-1.3 .5-1.3 .5-.6 .5-1.8 .5-.8 .5 .9 .5 .2 .5-1.4 .5 .3 .5-.2 .5-2.2 .5-2.6 .5 .3 .5 .9 .5 1.6 .5 2.3 .5 .3 .5-2.1 .5 .1 .5 1.3 .5-.6 .5-.9 .5 3 .5 3.4 .5-2.8 .5-1.5 .5 3 .5 .1 .5-.8 .5-.6 .5-3.3 .5-1.4 .5 1.7 .5 3.6 .5 3.1 .5 1.7 .5-1.2 .5-2.7 .5-2.1 .5-.1 .5 2.2 .5 1.6 .5-2 .5-.8 .5 4.1 .5 1.2 .5-1.5 .5 1.1 .5 1.5 .5-1 .5-2.4 .5-.7 .5 .8 .5 .8 .5-.7 .5-1 .5 .9 .5-.1 .5-2.1 .5-.8 .5 1.2 .5 .4 .5-.8 .5-1.4 .5 .1 .5 1.8 .5 .6 .5-.9 .5 1.1 .5 1 .5-1.3 .5-1.3 .5 .2 .5 .8 .5 .1 .5-.3 .5 0 .5 .2 .5 .2 .5-.1 .5-.2 .5-.9 .5 .6 .5 .7 .5 .8 .5 .6 .5-1.2 .5-.9 .5 .7 .5 1.3 .5 0 .5-1 .5 .4 .5 .6 .5-1.7 .5-2.6 .5-1.1 .5-.5 .5-1.1 .5-1.8 .5-2.1 .5-2.8 .5-2.8 .5-2.7 .5-1.3 .5-.6 .5 1.1 .5 1.7 .5 1.5 .5 .5 .5 .4 .5-.2 .5 1.1 .5 3.2 .5 1.5 .5-2.1 .5-.9 .5 .5 .5-.4 .5-.5 .5-.2 .5 1.4 .5 2.3 .5-.9 .5-2.7 .5-1.5 .5-2 .5-2.8 .5-1.5 .5-.1 .5 1.1 .5 2 .5 2.4 .5 1.5 .5 1.8 .5 1.7 .5 1.3 .5 1 .5 .5 .5 1.1 .5 1.3 .5 .6 .5 1.2 .5 .4 .5-.5 .5-.7 .5 1.3 .5 1.7 .5 .4 .5 .5 .5-.6 .5-1.5 .5 .9 .5 .7 .5-.9 .5-.4 .5 1 .5 1.3 .5 1.4 .5-.5 .5-2.1 .5-1.2 .5 .3 .5 .2 .5 .8 .5 .4 .5-1.1 .5-.3 .5 .8 .5-.3 .5-.9 .5 0 .5 1.1 .5 .2 .5-.6 .5 .2 .5 1.7 .5 .6 .5-1.4 .5 .8 .5 .8 .5-1.7 .5 1.7 .5 1.1 .5-1.2 .5 .9 .5 .5 .5-2.1 .5-1 .5-1.4 .5 .5 .5 1.3 .5 1.3 .5 1.2 .5-2.6 .5-1.8 .5 3.1 .5 .9 .5-1.4 .5-1.9 .5-1.9 .5 1.9 .5 3.7 .5 .4 .5-1.3 .5-1.1 .5-1.6 .5-1.1 .5 .4 .5 .1 .5-2.3 .5-1.4 .5 .9 .5 3.2 .5 2 .5-1.8 .5-1.9 .5 .6 .5 1.2 .5 0 .5-.1 .5 3.2 .5 4.2 .5-1.8 .5-2.9 .5 1.4 .5 3.4 .5 .3" fill="none" stroke="#808080" stroke-width="1.6" stroke-linejoin="round"/>
<path d="M442.5 509l.5-.5 .5-2 .5-1.7 .5 .4 .5 .3 .5 2.1 .5 1.6 .5 .3 .5 .2 .5-1.1 .5-1.9 .5 1.3 .5 1.1 .5-1.4 .5-1.5 .5-.3 .5 0 .5 .8 .5 .7 .5-.3 .5-.4 .5 .3 .5-.3 .5-.4 .5 1.9 .5 1.6 .5-1.8 .5 1.7 .5 2 .5-4.5 .5-2.8 .5 3.2 .5 4.6 .5-.6 .5-3.5 .5-.2 .5-.1 .5-2.7 .5-.3 .5 2 .5 .2 .5-.1 .5 2.6 .5 1.9 .5-1.6 .5-3.7 .5 .8 .5 1.3 .5-2 .5 .2 .5 .8 .5-2.6 .5-1.1 .5 1.2 .5 2.3 .5 1.7 .5 .9 .5 .1 .5-.4 .5-.1 .5 .5 .5-1.1 .5-.5 .5 2.6 .5 2.5 .5-.2 .5-3.4 .5-4.1 .5-4.4 .5-3 .5 3.3 .5 4.1 .5-2.2 .5-1.3 .5 3.5 .5 1 .5-.2 .5 .6 .5 1.1 .5-.7 .5-1.6 .5 1 .5 2.6 .5 .9 .5-.4 .5 1.8 .5 1.5 .5-.9 .5-2.2 .5 0 .5-1.5 .5-3.1 .5 .1 .5 .6 .5-1.2 .5-.7 .5-.5 .5 2.3 .5 1.1 .5-2.1 .5-.3 .5 3.3 .5 0 .5-.5 .5-.8 .5 0 .5 .9 .5 0 .5-1.7 .5-2.6 .5-.6 .5 4.8 .5 3.9 .5 .7 .5 .6 .5-.8 .5-2.5 .5-1.5 .5 1.9 .5 3.5 .5-1.2 .5-4.3 .5 .1 .5 2.1 .5-.9 .5-.8 .5-.7 .5 2.1 .5 2.1 .5-1.3 .5-1.8 .5-1.2 .5-.7 .5 1 .5 2.1 .5 1 .5-2.7 .5-2.7 .5 .6 .5 1.8 .5-.8 .5-1.1 .5 4.7 .5 1.8 .5-4.6 .5 .1 .5 2.2 .5-2 .5-.9 .5 1.6 .5 .9 .5-.3 .5-1 .5-1.8 .5 1.7 .5 1.2 .5-.8 .5-.2 .5 1 .5-.2 .5-1.8 .5-2.2 .5-1.5 .5 0 .5 .7 .5-1 .5-.1 .5 1.2 .5 1.6 .5 2 .5-.5 .5-2.7 .5 1.4 .5 4 .5 1.7 .5-1.9 .5-4.9 .5 .5 .5 3.5 .5 1.1 .5-.7 .5 .1 .5-1.1 .5-1.1 .5 1 .5 1.1 .5-.1 .5-1.6 .5-3.3 .5 2.3 .5 4 .5 .7 .5-.6 .5-3 .5-2.6 .5 1.7 .5 1 .5-3.2 .5-2.2 .5 .7 .5 1.3 .5 1.6 .5 .8 .5 .2 .5 2.5 .5-.7 .5-3.1 .5-2.2 .5 .3 .5 4.3 .5 3.4 .5-3 .5-2.3 .5-.2 .5-.5 .5-2.4 .5-.7 .5 3.8 .5 4.7 .5 .5 .5-1.1 .5-1.4 .5 .7 .5 .7 .5-1 .5-.6 .5 1 .5 .2 .5-.6 .5 1.6 .5 2.1 .5 .4 .5-1.3 .5-2.6 .5-.7 .5 .5 .5 .5 .5-.3 .5 1.6 .5 .5 .5 1.3 .5 1.3 .5-.8 .5 1.5 .5 5.1 .5-.4 .5-3.7 .5-1.5 .5 1.6 .5 3.6 .5 0 .5-5 .5-5.1 .5-1.3 .5 1.3 .5-1.8 .5-.5 .5-.5 .5-5.6 .5-4 .5 2.3 .5 2.7 .5 1.9 .5-.2 .5-1.8 .5 .1 .5 5.6 .5-1.1 .5-4.6 .5 1.3 .5 3.1 .5-1.9 .5-2.3 .5 .8 .5 .2 .5-4.3 .5-1.1 .5 5.2 .5 6.4 .5 2.1 .5-1.1 .5 1.2 .5 .1 .5-3.7 .5-2.3 .5 .4 .5 2.6 .5 2.8 .5-2.2 .5-4.3 .5-.1 .5 2.7 .5-.5 .5-1.1 .5 2.7 .5 2.1 .5-1.2 .5-.8 .5 .1 .5-1.9 .5-1.8 .5 1.5 .5 4.2 .5 1 .5-2.7 .5-.5 .5 1 .5 .7 .5 .4 .5-1.5 .5-1.9 .5-2.1 .5-3.4 .5-1.1 .5 1.1 .5 .8 .5 .7 .5 0 .5-.5 .5 1.1 .5 2.1 .5 .3 .5-1.5 .5 .7 .5 1.7 .5 .8 .5-.1 .5 .3 .5 .5 .5 1.1 .5 .7 .5-2.6 .5-.7 .5 1.8 .5-1.8 .5-1.3 .5-.6 .5-1.2 .5 1.5 .5 1 .5-1.1 .5-.8 .5 0 .5-1.3 .5-2.2 .5-1.1 .5-.3 .5 1.2 .5 1.5 .5 3.1 .5 3.5 .5 1.1 .5-2.1 .5-3.8 .5-3.7 .5-2.5 .5-.7 .5 1.4 .5 2 .5 1.5 .5 2 .5 2.6 .5-.1 .5-.7 .5 .7 .5-.9 .5-1.5 .5-2.8 .5-2.6 .5 .2 .5 2.9 .5 2.4 .5 1.1 .5-.5 .5 1.5 .5 2.8 .5 .3 .5-1.8 .5 .5 .5-1.5 .5-.8 .5 1.5 .5-1.5 .5-.5 .5 2.8 .5 .9 .5-1.3 .5-2.2 .5-.6 .5 0 .5-2 .5 1.3 .5 3.6 .5 1.4 .5-.1 .5-2 .5-1.4 .5-.2 .5-.2 .5 2.4 .5 1 .5-1.3 .5 .4 .5 .3 .5-2 .5-1.9 .5 1.6 .5 .8 .5-2.2 .5-.5 .5 0 .5 .5 .5 2.6 .5 .4 .5 .6 .5 .2 .5 1.3 .5 2.2 .5-4.2 .5-2.8 .5 3 .5 .1 .5-2.3 .5 .3 .5 4.1 .5 1.6 .5 .5 .5 .2 .5-1.1 .5 .4 .5-.2 .5-2.3 .5-1.6 .5 1.1 .5 3.5 .5 1.5 .5-2 .5-.7 .5 1.3 .5-.3 .5-1.8 .5-4.2 .5-6.9 .5 1.7 .5 6.5 .5 1.3 .5-1.9 .5-1.8 .5-.8 .5-.5 .5 .8 .5 5.2 .5-.1 .5-3.4 .5 .4 .5 1.3 .5-1 .5-1.5 .5-.5 .5 2.3 .5-1 .5 2.9 .5 9.1 .5 6.8 .5-.2 .5-4.6 .5-4.2" fill="none" stroke="#000000" stroke-width="1.7" stroke-linejoin="round"/>
<rect x="442" y="193.8" width="234" height="343.4" fill="none" stroke="#000" stroke-width="1.3"/>
<line x1="458.8" y1="537.2" x2="458.8" y2="535.7" stroke="#000" stroke-width="1"/>
<line x1="475.6" y1="537.2" x2="475.6" y2="534.7" stroke="#000" stroke-width="1"/>
<line x1="492.4" y1="537.2" x2="492.4" y2="535.7" stroke="#000" stroke-width="1"/>
<line x1="509.2" y1="537.2" x2="509.2" y2="534.7" stroke="#000" stroke-width="1"/>
<line x1="526" y1="537.2" x2="526" y2="535.7" stroke="#000" stroke-width="1"/>
<line x1="542.8" y1="537.2" x2="542.8" y2="534.7" stroke="#000" stroke-width="1"/>
<line x1="559.6" y1="537.2" x2="559.6" y2="535.7" stroke="#000" stroke-width="1"/>
<line x1="576.4" y1="537.2" x2="576.4" y2="534.7" stroke="#000" stroke-width="1"/>
<line x1="593.2" y1="537.2" x2="593.2" y2="535.7" stroke="#000" stroke-width="1"/>
<line x1="610" y1="537.2" x2="610" y2="534.7" stroke="#000" stroke-width="1"/>
<line x1="626.8" y1="537.2" x2="626.8" y2="535.7" stroke="#000" stroke-width="1"/>
<line x1="643.6" y1="537.2" x2="643.6" y2="534.7" stroke="#000" stroke-width="1"/>
<line x1="660.4" y1="537.2" x2="660.4" y2="535.7" stroke="#000" stroke-width="1"/>
<text x="442" y="549.2" font-size="10" text-anchor="middle" font-weight="bold" fill="#000">4000</text>
<text x="475.6" y="549.2" font-size="10" text-anchor="middle" font-weight="bold" fill="#000">3500</text>
<text x="509.2" y="549.2" font-size="10" text-anchor="middle" font-weight="bold" fill="#000">3000</text>
<text x="542.8" y="549.2" font-size="10" text-anchor="middle" font-weight="bold" fill="#000">2500</text>
<text x="576.4" y="549.2" font-size="10" text-anchor="middle" font-weight="bold" fill="#000">2000</text>
<text x="610" y="549.2" font-size="10" text-anchor="middle" font-weight="bold" fill="#000">1500</text>
<text x="643.6" y="549.2" font-size="10" text-anchor="middle" font-weight="bold" fill="#000">1000</text>
<text x="677.2" y="549.2" font-size="10" text-anchor="middle" font-weight="bold" fill="#000">500</text>
<text x="548.2" y="560.4" font-size="11.9" text-anchor="middle" font-weight="bold">Wavenumbers (cm<tspan font-size="8" dy="-4.3">-1</tspan><tspan dy="4.3">)</tspan></text>
<text x="436.6" y="370" font-size="12.4" text-anchor="middle" font-weight="bold" fill="#000" transform="rotate(-90 436.6 370)">Absorbance (arb. units)</text>
<text x="657.8" y="213" font-size="19" text-anchor="start" font-weight="bold" fill="#000">h</text>
<text x="447.2" y="211.4" font-size="9.5" text-anchor="start" font-weight="bold" fill="#000">2M KOH, Light-10 min</text>
<text x="446.5" y="246.4" font-size="9.5" text-anchor="start" font-weight="bold" fill="#000">2M KOH, light-5 min</text>
<text x="444.2" y="296.8" font-size="9.5" text-anchor="start" font-weight="bold" fill="#000">2M KOH, dark-10 min</text>
<text x="444.2" y="346.9" font-size="9.5" text-anchor="start" font-weight="bold" fill="#000">2M KOH, dark-5 min</text>
<text x="445.3" y="412.5" font-size="9.5" text-anchor="start" font-weight="bold" fill="#000">No moisture, light-10 min</text>
<text x="444.5" y="455.3" font-size="9.5" text-anchor="start" font-weight="bold" fill="#000">No moisture, light-5 min</text>
<text x="444.1" y="497.8" font-size="9.5" text-anchor="start" font-weight="bold" fill="#000">Under He, dark-15 min</text>
<text x="586" y="218.4" font-size="10.2" font-weight="bold">&#948;H<tspan font-size="7" dy="2.5">2</tspan><tspan dy="-2.5">O</tspan></text>
<text x="607.5" y="296.8" font-size="10.2" font-weight="bold">&#948;C<tspan font-size="7" dy="2.5">3</tspan><tspan dy="-2.5">N</tspan><tspan font-size="7" dy="2.5">3</tspan></text>
<text x="629.5" y="249.3" font-size="9.7" text-anchor="start" font-weight="bold" fill="#000">&#957;(OH)Ir-O</text>
<text x="475" y="377.4" font-size="10.2" text-anchor="start" font-weight="bold" fill="#000">&#957;O-H</text>
<text x="634.5" y="409.8" font-size="10.0" text-anchor="start" font-weight="bold" fill="#000">&#957;Ir-O</text></svg>
</div></body></html>
